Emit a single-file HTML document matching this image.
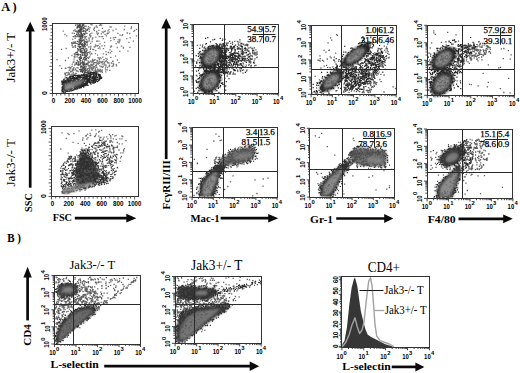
<!DOCTYPE html>
<html><head><meta charset="utf-8"><style>
html,body{margin:0;padding:0;background:#fff;}
svg{display:block;}
</style></head><body>
<svg width="520" height="373" viewBox="0 0 520 373">
<defs><filter id="dotb" x="-5%" y="-5%" width="110%" height="110%"><feGaussianBlur stdDeviation="0.4"/></filter><filter id="b0_5" x="-50%" y="-50%" width="200%" height="200%"><feGaussianBlur stdDeviation="0.5"/></filter><filter id="b0_8" x="-50%" y="-50%" width="200%" height="200%"><feGaussianBlur stdDeviation="0.8"/></filter><filter id="b1_2" x="-50%" y="-50%" width="200%" height="200%"><feGaussianBlur stdDeviation="1.2"/></filter><filter id="b1_6" x="-50%" y="-50%" width="200%" height="200%"><feGaussianBlur stdDeviation="1.6"/></filter><filter id="b2" x="-50%" y="-50%" width="200%" height="200%"><feGaussianBlur stdDeviation="2"/></filter><filter id="b2_5" x="-50%" y="-50%" width="200%" height="200%"><feGaussianBlur stdDeviation="2.5"/></filter><filter id="b3" x="-50%" y="-50%" width="200%" height="200%"><feGaussianBlur stdDeviation="3"/></filter></defs>
<rect width="520" height="373" fill="#fff"/>
<text x="1.2" y="10.8" font-size="13" font-family='"Liberation Serif", serif' font-weight="bold" textLength="15.5" lengthAdjust="spacingAndGlyphs">A )</text>
<text x="7.2" y="242.1" font-size="13" font-family='"Liberation Serif", serif' font-weight="bold" textLength="13.8" lengthAdjust="spacingAndGlyphs">B )</text>
<text x="15.4" y="82.5" font-size="13" font-family='"Liberation Serif", serif' textLength="49.7" lengthAdjust="spacingAndGlyphs" transform="rotate(-90 15.4 82.5)">Jak3+/- T</text>
<text x="14.8" y="186.5" font-size="13" font-family='"Liberation Serif", serif' textLength="47.5" lengthAdjust="spacingAndGlyphs" transform="rotate(-90 14.8 186.5)">Jak3-/- T</text>
<line x1="30.2" y1="30.4" x2="30.2" y2="187.7" stroke="#0a0a0a" stroke-width="2.7"/>
<polygon points="30.2,21.7 25.5,31.4 34.9,31.4" fill="#0a0a0a"/>
<text x="32" y="212" font-size="11" font-family='"Liberation Serif", serif' font-weight="bold" textLength="18.8" lengthAdjust="spacingAndGlyphs" transform="rotate(-90 32 212)">SSC</text>
<text x="52.7" y="221.3" font-size="11" font-family='"Liberation Serif", serif' font-weight="bold" textLength="19.3" lengthAdjust="spacingAndGlyphs">FSC</text>
<line x1="74.8" y1="218.2" x2="127.3" y2="218.2" stroke="#0a0a0a" stroke-width="2.7"/>
<polygon points="136.3,218.2 126.3,213.8 126.3,222.6" fill="#0a0a0a"/>
<line x1="166.2" y1="27.5" x2="166.2" y2="159.1" stroke="#0a0a0a" stroke-width="2.7"/>
<polygon points="166.2,18.3 161.3,28.5 171.1,28.5" fill="#0a0a0a"/>
<text x="170" y="209.4" font-size="11" font-family='"Liberation Serif", serif' font-weight="bold" textLength="49.2" lengthAdjust="spacingAndGlyphs" transform="rotate(-90 170 209.4)">FcγRII/III</text>
<text x="190.4" y="221.9" font-size="11" font-family='"Liberation Serif", serif' font-weight="bold" textLength="29.2" lengthAdjust="spacingAndGlyphs">Mac-1</text>
<line x1="220.6" y1="218.2" x2="269.2" y2="218.2" stroke="#0a0a0a" stroke-width="2.7"/>
<polygon points="278.3,218.2 268.2,214 268.2,222.4" fill="#0a0a0a"/>
<text x="310" y="222.7" font-size="11" font-family='"Liberation Serif", serif' font-weight="bold" textLength="23.1" lengthAdjust="spacingAndGlyphs">Gr-1</text>
<line x1="336.2" y1="218.5" x2="385.2" y2="218.5" stroke="#0a0a0a" stroke-width="2.7"/>
<polygon points="393.3,218.5 384.2,214.1 384.2,222.9" fill="#0a0a0a"/>
<text x="427.7" y="222.7" font-size="11" font-family='"Liberation Serif", serif' font-weight="bold" textLength="27.9" lengthAdjust="spacingAndGlyphs">F4/80</text>
<line x1="458.5" y1="218.8" x2="504.2" y2="218.8" stroke="#0a0a0a" stroke-width="2.7"/>
<polygon points="512.7,218.8 503.2,214.4 503.2,223.2" fill="#0a0a0a"/>
<text x="69.4" y="269.1" font-size="13.5" font-family='"Liberation Serif", serif' textLength="45.8" lengthAdjust="spacingAndGlyphs">Jak3-/- T</text>
<text x="191" y="269.6" font-size="13.8" font-family='"Liberation Serif", serif' textLength="51.4" lengthAdjust="spacingAndGlyphs">Jak3+/- T</text>
<text x="367.8" y="271.6" font-size="14.2" font-family='"Liberation Serif", serif' textLength="32.2" lengthAdjust="spacingAndGlyphs">CD4+</text>
<line x1="27.6" y1="276.4" x2="27.6" y2="320.4" stroke="#0a0a0a" stroke-width="2.7"/>
<polygon points="27.6,266.8 23.4,277.4 31.8,277.4" fill="#0a0a0a"/>
<text x="30.7" y="345.7" font-size="11" font-family='"Liberation Serif", serif' font-weight="bold" textLength="21.5" lengthAdjust="spacingAndGlyphs" transform="rotate(-90 30.7 345.7)">CD4</text>
<text x="50.4" y="367.8" font-size="11" font-family='"Liberation Serif", serif' font-weight="bold" textLength="48.4" lengthAdjust="spacingAndGlyphs">L-selectin</text>
<line x1="104.2" y1="366.2" x2="250.7" y2="366.2" stroke="#0a0a0a" stroke-width="2.7"/>
<polygon points="259.2,366.2 249.7,361.4 249.7,371" fill="#0a0a0a"/>
<text x="342.3" y="369.8" font-size="11" font-family='"Liberation Serif", serif' font-weight="bold" textLength="48.5" lengthAdjust="spacingAndGlyphs">L-selectin</text>
<line x1="391.7" y1="366.9" x2="416.4" y2="366.9" stroke="#0a0a0a" stroke-width="2.7"/>
<polygon points="424.4,366.9 415.4,362.4 415.4,371.4" fill="#0a0a0a"/>
<path d="M107.6 52.7h1.3M85.4 64.7h1.3M95.7 71.8h1.3M117.6 39.8h1.3M89.3 27.7h1.3M99.6 25.1h1.3M101.3 45.9h1.3M95.2 45.7h1.3M94.6 74.7h1.3M86.5 44.5h1.3M132.7 41.1h1.3M93.2 72.7h1.3M134 30.4h1.3M86 48.6h1.3M124 26.1h1.3M97.2 61.3h1.3M83.5 63.3h1.3M96.5 27.4h1.3M91.5 70h1.3M135.9 29.3h1.3M108.5 66.6h1.3M85.5 39.3h1.3M89.7 33.9h1.3M129.3 47.4h1.3M114.9 56.2h1.3M96.9 55.2h1.3M84 41h1.3M86.7 29.3h1.3M92 60.2h1.3M121.9 34.6h1.3M83.7 70.9h1.3M84.1 52.7h1.3M93.8 30.6h1.3M104.8 68h1.3M94.9 44.8h1.3M89.9 36.8h1.3M85.5 53.2h1.3M105.6 54.3h1.3M84.6 56.2h1.3M107.6 33.3h1.3M108.4 29.6h1.3M90.2 46.4h1.3M88.2 47h1.3M110.5 26.8h1.3M86.8 42.2h1.3M110.2 40.6h1.3M85.3 33.5h1.3M91.9 72.7h1.3M92.3 64.8h1.3M89.4 51.6h1.3M106.8 33.2h1.3M99.9 24.1h1.3M85.1 31.8h1.3M90.3 35.8h1.3M83.5 42.5h1.3M90.5 72.7h1.3M88.4 57.2h1.3M84 57.5h1.3M96.5 71h1.3M86.4 64.5h1.3M133.2 31.4h1.3M110.2 57.4h1.3M126.5 33.1h1.3M85.9 70.2h1.3M83.7 67.9h1.3M122.8 48.2h1.3M122.7 47.5h1.3M95.7 26h1.3M96 71.2h1.3M116.8 60h1.3M106.5 61.7h1.3M87.5 71.4h1.3M89 72.3h1.3M84.9 26.2h1.3M86.8 54.7h1.3M102.6 66.5h1.3M86.8 69.1h1.3M89 34.7h1.3M88.6 29.1h1.3M84.5 37.3h1.3M126.8 32.9h1.3M83.4 34.5h1.3M83.6 49.5h1.3M93.1 49.7h1.3M101.8 67.3h1.3M97.2 73.1h1.3M87.6 65h1.3M130.5 28.5h1.3M91.6 67.8h1.3M118.4 62.6h1.3M90 48h1.3M96.5 41h1.3M100.7 33.8h1.3M105.7 35.9h1.3M85.4 52.3h1.3M91.9 64.7h1.3M112 61.3h1.3M127.3 51.1h1.3M94.5 59.6h1.3M89.8 75.2h1.3M105.6 60.3h1.3M95.2 62.6h1.3M95 65.7h1.3M90.2 64.4h1.3M95.3 74.1h1.3M102.1 57.2h1.3M112.4 30.5h1.3M83.5 61.5h1.3M99.3 48.9h1.3M118.3 42.8h1.3M84 73.5h1.3M88.7 31.4h1.3M95.7 64.4h1.3M92.2 70.3h1.3M115.6 64.6h1.3M93.8 60h1.3M106.6 69.9h1.3M112.8 37.8h1.3M109.5 27h1.3M109.4 49.9h1.3M83.7 67.7h1.3M84.9 55.7h1.3M102.8 48.7h1.3M94.5 46.6h1.3M110 38.1h1.3M86 39.6h1.3M119.4 35.1h1.3M85.4 30.2h1.3M84.1 44.1h1.3M91.4 24.8h1.3M83.6 59.6h1.3M86 64.2h1.3M96.8 74.1h1.3M84.1 57.8h1.3M99.8 61.9h1.3M92.1 68.8h1.3M102.8 53.9h1.3M106.6 59.2h1.3M91 65.5h1.3M103.8 64.9h1.3M86.6 74.6h1.3M103.3 59.6h1.3M126.1 38.7h1.3M105.7 54.5h1.3M101.7 28.4h1.3M112.7 65.5h1.3M96.9 63.1h1.3M88 65.9h1.3M92.9 60.5h1.3M89 56.9h1.3M85.1 75.5h1.3M113.4 37.6h1.3M87.8 26.7h1.3M89.7 73.9h1.3M119.2 39.5h1.3M88.9 40.8h1.3M96 31.4h1.3M85.3 72.2h1.3M88.5 72.3h1.3M91 69.3h1.3M97.5 45.4h1.3M92.2 49.5h1.3M89.4 74.9h1.3M97 34.5h1.3M88.5 39.1h1.3M130.8 27h1.3M87.6 28.5h1.3M94.1 27.4h1.3M129.6 37.8h1.3M93.2 67.2h1.3M83.6 51h1.3M89.8 61.2h1.3M86.6 69.4h1.3M93 29.3h1.3M84.9 29h1.3M84.3 55.2h1.3M85.7 30.4h1.3M98.2 30.3h1.3M104.8 31.1h1.3M91.2 53.8h1.3M104 45.9h1.3M96.1 41.4h1.3M86.2 50.9h1.3M96.6 46h1.3M84.5 31.2h1.3M110.9 46.6h1.3M99.5 57.7h1.3M89.7 54.9h1.3M97.6 48.3h1.3M98.6 36.7h1.3M88 52.4h1.3M107.8 52.5h1.3M95.1 50.6h1.3M84 42.3h1.3M86.6 44.2h1.3M89.1 35.7h1.3M91.5 41.5h1.3M115.5 43.7h1.3M109.8 47.1h1.3M83.9 26.5h1.3M119.2 51.3h1.3M111.4 66.4h1.3M91.6 39.1h1.3M105.2 65h1.3M83.6 39.8h1.3M109.7 52.8h1.3M97.4 57.6h1.3M123.6 29.5h1.3M115.8 65.9h1.3M92.3 37.9h1.3M88.6 71h1.3M86.2 70.3h1.3M121.4 35.5h1.3M99.7 69.5h1.3M109 65.2h1.3M96.2 33h1.3M89.9 66.9h1.3M102 36.7h1.3M118.6 41.8h1.3M91.6 60.7h1.3M88.3 38h1.3M106.8 67.5h1.3M102.1 61.6h1.3M107.3 30.8h1.3M97.7 64.1h1.3M92.7 68.3h1.3M100.4 58.5h1.3M89.1 53.2h1.3M84.9 59.3h1.3M105.2 58.3h1.3M128.2 42.3h1.3M89.5 71.5h1.3M85.5 26.1h1.3M99.4 43.8h1.3M117.2 33.3h1.3M85.9 36.7h1.3M94.5 71.6h1.3M116.6 47.5h1.3M86.2 60.3h1.3M86.5 42.6h1.3M99.2 70h1.3M90.9 53.3h1.3M101 66.4h1.3M112.4 63.5h1.3M102.6 32.7h1.3M87.8 61.3h1.3M106.4 33.9h1.3M84.8 64.3h1.3M92.3 64.8h1.3M96 26.1h1.3M98.4 58.4h1.3M110.6 45.9h1.3M99 47h1.3M93.7 28.4h1.3M101.6 70h1.3M87.9 58.3h1.3M105.4 51.6h1.3M89.3 68.8h1.3M112.5 61.2h1.3M88.8 67.2h1.3M84.2 54.9h1.3M120.8 46.2h1.3M89.9 43.4h1.3M115.4 29.2h1.3M112.4 65.8h1.3M89.3 72.1h1.3M93.6 47.2h1.3M89.2 65.6h1.3M98.7 59.7h1.3M103.5 31.5h1.3M101.5 31.8h1.3M108.6 32.2h1.3M87.4 41.1h1.3M94.8 70.5h1.3M103.9 42.4h1.3M83.7 54.1h1.3M101 25.1h1.3M113.1 64.1h1.3M102.6 38.6h1.3M86.6 41.5h1.3M83.7 69.3h1.3M113.5 39.7h1.3M92.1 37.9h1.3M104.5 34.4h1.3M86.4 45.5h1.3M85.8 56.6h1.3M115 37.4h1.3M90.3 24.5h1.3M135.8 35.9h1.3M86.5 50.1h1.3M91.3 33.2h1.3M117.1 41.9h1.3M100.5 71h1.3M89.1 62.1h1.3M86.8 57.6h1.3M86.5 53.3h1.3M105.1 71.8h1.3M95.2 37.1h1.3M94.8 53.6h1.3M129.4 37.9h1.3M98.3 41.2h1.3M109.1 70.3h1.3M91.9 59.5h1.3M94.5 69.9h1.3M129.1 33.5h1.3M99.1 25.3h1.3M83.8 71.4h1.3M91.3 62.3h1.3M84.4 75.5h1.3M89.7 49.3h1.3M97.8 33.2h1.3M85.6 50.5h1.3M83.4 62.8h1.3M119.2 40.8h1.3M97.4 71.3h1.3M111.1 51.4h1.3M92.5 66.7h1.3M108.7 65.5h1.3M86.4 33.3h1.3M100.5 36.6h1.3M73.7 53.6h1.3M68.5 73.4h1.3M74.5 62.9h1.3M71.7 33.1h1.3M71.1 42.6h1.3M73.3 61.2h1.3M73.6 56.6h1.3M68.6 70.4h1.3M64.7 68.1h1.3M72.6 62.3h1.3M64.8 68.4h1.3M67.3 74.5h1.3M61 68.4h1.3M73.2 70.2h1.3M69.6 68h1.3M74.9 73.3h1.3M74.2 57.7h1.3M73.3 59.2h1.3M74.8 41.9h1.3M71.7 64.2h1.3M67.7 57.8h1.3M71.2 71.7h1.3M74.8 35.6h1.3M70.1 67.4h1.3M68.7 67.1h1.3M69.3 69.1h1.3M72.1 39.4h1.3M71.7 69.3h1.3M74 65.1h1.3M65.5 48.5h1.3M73.3 47h1.3M72.9 75.9h1.3M72 47.2h1.3M71 43.5h1.3M71.3 55.5h1.3M74.6 54.7h1.3M66.1 35.8h1.3M71.4 45.7h1.3M74.5 63h1.3M74.8 43.5h1.3M72.2 70.4h1.3M69.9 71.1h1.3M75 53.1h1.3M59.2 65.6h1.3M75.3 52.7h1.3M64.3 34.5h1.3M56.4 59.7h1.3M62.6 31.1h1.3M65.3 68.4h1.3M64.4 73.9h1.3M72.7 72.3h1.3M73.1 73.9h1.3M71.6 70.9h1.3M66.1 72.7h1.3M73.8 54.5h1.3M71.4 66.4h1.3M64.8 60.5h1.3M60.9 49.3h1.3M71.8 45.1h1.3M70 71.8h1.3M94.5 68h1.3M87.4 72.6h1.3M94 67h1.3M101.1 62.6h1.3M105.6 69.8h1.3M84 73.8h1.3M91.1 64.5h1.3M87.8 65.9h1.3M79.6 64.5h1.3M79.3 62.2h1.3M66.1 77.4h1.3M83.4 68.7h1.3M73.3 77.6h1.3M72.5 77.7h1.3M78 76.1h1.3M90.1 67.2h1.3M74.5 64.7h1.3M77.2 76.5h1.3M86.7 63.2h1.3M96 64.1h1.3M98.5 63.4h1.3M105.3 66.2h1.3M80.1 67.9h1.3M99 61.5h1.3M65.7 77.4h1.3M77.7 63.5h1.3M70.5 74.9h1.3M96.9 69.2h1.3M71.5 66.3h1.3M78.3 65h1.3M101 61.8h1.3M80.7 74.7h1.3M63 79.3h1.3M92.1 73h1.3M91.2 61.9h1.3M87 75h1.3M67.5 67.6h1.3M88.1 66h1.3M97.7 70.2h1.3M93.7 66.7h1.3M84.8 71h1.3M82.4 68.9h1.3M72.5 70h1.3M85.5 66.6h1.3M88.3 75.5h1.3M97.7 70.4h1.3M101.2 71.4h1.3M110.7 63h1.3M99.8 71h1.3M70.1 78h1.3M89 69.7h1.3M86.3 70h1.3M64.6 73.1h1.3M63.7 79.4h1.3M71.4 73.9h1.3M93.1 64.1h1.3M84.4 68.5h1.3M70.3 67.9h1.3M64.5 74.2h1.3M81.3 70.3h1.3M68.6 74.8h1.3M95.9 62.1h1.3M80.2 62.5h1.3M96.4 60.3h1.3M104.9 61.3h1.3M103.1 63.8h1.3M87.8 74.2h1.3M69 74.3h1.3M82.9 63.3h1.3M85.1 65h1.3M103.9 62.2h1.3M95.8 65.9h1.3M103.9 63.1h1.3M107.3 62.9h1.3M94.3 70.7h1.3M97.4 69.4h1.3M72.2 77.6h1.3M97.4 63.4h1.3M96.1 67.4h1.3M108.3 63h1.3M72.7 68.8h1.3M74.4 74.7h1.3M77.5 71.6h1.3M77.1 71h1.3M87.9 63.1h1.3M100.2 61.8h1.3M73 75h1.3M101.7 72.4h1.3M72.7 69.5h1.3M76.4 67.6h1.3M100.5 66.5h1.3M97 71.9h1.3M82.6 64h1.3M99.2 65.9h1.3M94.6 73.1h1.3M77.8 65.1h1.3M93.6 72.6h1.3M72 74.2h1.3M98.4 71.4h1.3M87.8 70.7h1.3M83.1 64h1.3M88.2 68.5h1.3M92.3 61.6h1.3M88.1 62.6h1.3M95 69.4h1.3M69.3 78.6h1.3M104.9 69.8h1.3M64 73.5h1.3M81.4 67.9h1.3M80.3 65.5h1.3M68.4 73h1.3M87.3 68.6h1.3M98.9 70.1h1.3M89.3 73.3h1.3M93 74.9h1.3M79.2 75.3h1.3M90.5 65.1h1.3M67.6 72.5h1.3M90.8 64.9h1.3M76.2 77.2h1.3M75 69.7h1.3M101.3 71.7h1.3M66.2 75.4h1.3M97.1 60.8h1.3M108.5 65.8h1.3M84.6 70.5h1.3M89.1 71.4h1.3M64.6 77.1h1.3M87.5 62h1.3M86.5 63.8h1.3M82.9 74.4h1.3M99 63.2h1.3M92.8 63.7h1.3M91.8 65h1.3M65.1 73.2h1.3M64.8 75h1.3M77.5 63.8h1.3M102.1 62.1h1.3M93 62.9h1.3M94 62.6h1.3M74.7 69h1.3M88.8 62.3h1.3M94.8 73.7h1.3M90.6 67.7h1.3M102.3 61.3h1.3M88.7 70.9h1.3M73.3 67.7h1.3M91.2 67.6h1.3M84.1 62.8h1.3M106.9 62.8h1.3M99.8 71.8h1.3M75.6 73.5h1.3M101.7 64.1h1.3M72.8 68.2h1.3M90.9 65.3h1.3M97.6 63h1.3M90.2 71.6h1.3M84.6 71.1h1.3M90.6 68.1h1.3M84.7 74.9h1.3" stroke="#777" stroke-width="1.3"/>
<path d="M82.5 39.9h1.2M82.8 27.5h1.2M80.1 50.3h1.2M81.4 48.9h1.2M78.6 25.8h1.2M80 28.4h1.2M81.1 44.8h1.2M78.7 34.9h1.2M84.3 54.7h1.2M79.2 43.4h1.2M87 71.8h1.2M81.7 38.2h1.2M81.5 31.1h1.2M83 64h1.2M76.5 32.9h1.2M78.4 42.2h1.2M81.6 50.8h1.2M80.3 34.1h1.2M79 57.3h1.2M81.9 52.7h1.2M79.1 46.2h1.2M85.7 58.3h1.2M77.1 36h1.2M80.1 66.9h1.2M79.4 59.7h1.2M87 29.8h1.2M80.5 44.5h1.2M79.1 48h1.2M77.2 25.9h1.2M76.8 52.1h1.2M80 66.9h1.2M84.7 53.1h1.2M75.9 52.4h1.2M83.2 70.3h1.2M80.1 47.2h1.2M80.3 58.4h1.2M86 55.7h1.2M79.9 37.9h1.2M80.1 42.9h1.2M80.1 46.6h1.2M80.5 32.2h1.2M82 61.6h1.2M79.8 30.3h1.2M84.3 66.7h1.2M76.4 27.9h1.2M82.7 67.3h1.2M82.9 64.1h1.2M78.8 44.3h1.2M85.4 41.6h1.2M75.3 31.4h1.2M80.1 32.6h1.2M82.6 47.8h1.2M80.9 52.9h1.2M80.7 44.5h1.2M74.2 42.1h1.2M78.4 57.8h1.2M77.7 49.3h1.2M76.8 26.6h1.2M82.7 68.1h1.2M76 63.1h1.2M79.4 43.2h1.2M81.7 55.1h1.2M81.2 27.1h1.2M80.6 32h1.2M80.3 40.7h1.2M79.8 31.4h1.2M79.3 29h1.2M82 66.8h1.2M82.2 54.1h1.2M81.9 41h1.2M84.1 41.8h1.2M85.5 72.7h1.2M79.4 46.8h1.2M79.8 29h1.2M79.8 40.8h1.2M84.9 31.9h1.2M82.6 25.1h1.2M78.8 31.2h1.2M84 50.6h1.2M82.4 71.9h1.2M80.9 66.3h1.2M78.3 42h1.2M80.3 32.2h1.2M78 62.2h1.2M81.1 40.2h1.2M86.7 72.3h1.2M83.3 65.8h1.2M76.6 60.3h1.2M77.5 35.1h1.2M79.2 25.4h1.2M79.1 25.4h1.2M83.2 57.9h1.2M75.8 70.9h1.2M83.9 72.4h1.2M80.5 70.8h1.2M81.4 35.1h1.2M81 33.6h1.2M85.3 68.1h1.2M77.6 65.2h1.2M81.9 63.2h1.2M76.5 28.2h1.2M76.3 62.3h1.2M79.6 60.8h1.2M81.6 62.7h1.2M82.5 40.3h1.2M73.5 43.4h1.2M84.5 43.7h1.2M78.4 32.3h1.2M83.1 30.2h1.2M86.2 63.5h1.2M83.3 31.2h1.2M74.3 56.2h1.2M78.9 41.2h1.2M79 24.7h1.2M79.9 71.6h1.2M79.1 69.7h1.2M84 45.3h1.2M76.3 34.3h1.2M79.5 36.3h1.2M82.8 52.7h1.2M78.8 36.7h1.2M82.4 68.6h1.2M76.8 41.3h1.2M82.6 68.3h1.2M83.2 44.6h1.2M79.2 50.1h1.2M83.6 49.7h1.2M80.2 33h1.2M79.9 24.2h1.2M79 47.2h1.2M79 59.5h1.2M79.9 49.4h1.2M81.1 51.2h1.2M79.6 51.5h1.2M79.2 36.2h1.2M85.2 48.9h1.2M81.2 51.5h1.2M74.6 45.7h1.2M77.7 54h1.2M81 57.9h1.2M77.5 46.2h1.2M81.1 70.1h1.2M85.8 58.3h1.2M75.5 36.7h1.2M85.6 51.4h1.2M77.9 30.7h1.2M78.7 30h1.2M80.4 35.8h1.2M77.3 27.6h1.2M77.5 68h1.2M78.9 31.6h1.2M75.9 31h1.2M83.5 67.3h1.2M81.4 70.7h1.2M72.2 43.5h1.2M82.1 64.8h1.2M76.8 31.9h1.2M81.6 40.6h1.2M78.1 33.6h1.2M83.4 25h1.2M80.3 51.1h1.2M80.4 40.2h1.2M80 54.6h1.2M81.8 72.3h1.2M82.6 62.6h1.2M79.8 37h1.2M79.9 25.9h1.2M77.6 30.3h1.2M84.7 44.7h1.2M77.4 36.7h1.2M82.8 31.3h1.2M79.4 58.3h1.2M83.5 28.4h1.2M81.9 44.8h1.2M83.1 27.5h1.2M80 63.3h1.2M80.2 28.1h1.2M80.8 66.3h1.2M78.7 46.2h1.2M84.6 69.4h1.2M82.3 37.1h1.2M82.4 35.7h1.2M80.1 29.4h1.2M80.6 33.9h1.2M78.6 39.3h1.2M84.4 38.2h1.2M81.7 48.5h1.2M81.7 24.9h1.2M84.4 36.3h1.2M81.2 51h1.2M73.6 33.3h1.2M80.7 29.2h1.2M78.6 64.1h1.2M82.8 64.9h1.2M76.3 43.3h1.2M81.7 72.1h1.2M82.3 40.8h1.2M77.3 55.2h1.2M79.9 43.8h1.2M80.5 30.4h1.2M79.5 27.5h1.2M77.7 32h1.2M82.6 28.1h1.2M76.5 56.9h1.2M80.2 37.8h1.2M82.8 46.5h1.2M77.8 31.7h1.2M82.5 71.1h1.2M79.9 71.7h1.2M81.2 71.3h1.2M80.1 39.2h1.2M80.5 42.7h1.2M78.8 47.3h1.2M80.6 48.7h1.2M79.3 24.2h1.2M81.6 43.6h1.2M81.8 26h1.2M80.3 35.4h1.2M76.4 52.7h1.2M80.2 56.2h1.2M83.1 59.1h1.2M78.4 40h1.2M84.4 72.3h1.2M84.5 55.5h1.2M82.4 26.1h1.2M76.1 54.7h1.2M81.8 60h1.2M79.3 49.7h1.2M83.1 48.7h1.2M77.3 64.5h1.2M84.1 52.6h1.2M78.6 58h1.2M81.4 35.3h1.2M80.6 41.7h1.2M81.4 29.1h1.2M78 54.8h1.2M79.6 54.7h1.2M76.6 24.2h1.2M81.4 63.1h1.2M77.5 50.2h1.2M85.1 56.3h1.2M81.8 36.4h1.2M79.2 27.6h1.2M84.3 34.1h1.2M84.4 60.3h1.2M79.9 42.7h1.2M78.7 47.5h1.2M76.7 54.2h1.2M82.4 55.5h1.2M80.7 36.4h1.2M80.1 60.4h1.2M82.7 24.6h1.2M79.1 27h1.2M85.1 57.9h1.2M80.3 57.1h1.2M83.7 46.8h1.2M84.8 46.9h1.2M83.8 33.8h1.2M82.3 71.9h1.2M80.3 46.5h1.2M84.3 64.2h1.2M79.5 37.2h1.2M81.7 34.3h1.2M80.2 52.5h1.2M73.2 30.9h1.2M78.7 30.5h1.2M75.8 64.2h1.2M80.8 58.5h1.2M82.5 35.3h1.2M77.6 25.2h1.2M76.5 24.2h1.2M80.3 38.8h1.2M78.4 30.9h1.2M83.5 65.2h1.2M79.4 24.1h1.2M74.5 29.9h1.2M80.4 69.4h1.2M74.5 38.2h1.2M72.6 42.2h1.2M87 52.9h1.2M78.4 41.7h1.2M80.5 26.4h1.2M80.8 29h1.2M79.8 69.8h1.2M79.7 36.2h1.2M83.1 33.3h1.2M85.7 42.3h1.2M79.9 63.8h1.2M86.5 54.9h1.2M77.5 50.9h1.2M85.4 59.3h1.2M81.9 46.1h1.2M79.9 60.9h1.2M77.8 26.4h1.2M83.8 69.4h1.2M82.4 40.8h1.2M79.6 38.6h1.2M72.7 36.7h1.2M80 56.1h1.2M83.7 43.3h1.2M80.8 32.2h1.2M83.2 68.4h1.2M81.7 48.4h1.2M87.7 72.8h1.2M81.7 46h1.2M81 28.4h1.2M81.9 40.8h1.2M81.1 36.7h1.2M84.2 51.9h1.2M77.5 44.2h1.2M77.8 44.3h1.2M79.8 40.6h1.2M78.3 27h1.2M86.7 30.2h1.2M77 48.7h1.2M76 34.6h1.2M80.1 37.3h1.2M83.2 45.8h1.2M85 70.7h1.2M75 25.1h1.2M78 25.6h1.2M75 47.2h1.2M83.6 52.8h1.2M81.7 69.4h1.2M85.9 64.5h1.2M74.3 36.2h1.2M81.5 29.3h1.2M83.8 57.4h1.2M81.1 70.1h1.2M77.5 61.5h1.2" stroke="#4a4a4a" stroke-width="1.2"/>
<path d="M63.6 83.2h1.2M68.8 81.2h1.2M67.6 91.5h1.2M73.3 79.7h1.2M64.1 80.9h1.2M87.1 82h1.2M94.8 82.4h1.2M93.2 75.1h1.2M68.5 85.7h1.2M88.6 82.7h1.2M87.4 81.9h1.2M84.3 80.4h1.2M79.9 81.8h1.2M70.3 86.5h1.2M73.2 80.6h1.2M93.5 80.8h1.2M96.1 76.4h1.2M80.7 82.7h1.2M65.6 86.1h1.2M78.4 86.1h1.2M65.8 86.4h1.2M67.7 79.7h1.2M89 76.5h1.2M76.2 85.6h1.2M94.9 77.6h1.2M83.7 85.3h1.2M83.4 85.2h1.2M76.6 78.5h1.2M99.7 78.7h1.2M69.3 81.4h1.2M83 85.2h1.2M77.3 85.5h1.2M73.2 89.8h1.2M100.2 77.7h1.2M67.9 80.6h1.2M93.6 76.9h1.2M82.9 79.1h1.2M87.2 76.2h1.2M64.1 89.6h1.2M88.2 78.5h1.2M97.4 77.2h1.2M80.8 87.6h1.2M86.7 77.7h1.2M76.5 87.5h1.2M61.7 87h1.2M92.8 82.5h1.2M70.2 78.8h1.2M86.8 76.7h1.2M71.5 84.9h1.2M91.5 81.8h1.2M89.1 80.2h1.2M77.8 84.8h1.2M65.6 91.4h1.2M61.5 87.7h1.2M89 81.1h1.2M78.9 86.4h1.2M88.6 80.1h1.2M69 86.2h1.2M67.7 82.1h1.2M64.8 83.8h1.2M77.1 79.5h1.2M63.9 85.2h1.2M100.8 78.3h1.2M70.1 80.1h1.2M71.4 83.4h1.2M62.8 88.3h1.2M86.9 79h1.2M61.5 90.1h1.2M73.4 88.9h1.2M73.1 90h1.2M70.9 83.5h1.2M90.4 84.2h1.2M62.4 90.7h1.2M93.2 75.9h1.2M86.7 78h1.2M62.4 87.2h1.2M89.9 77.4h1.2M62.6 84.7h1.2M73.6 80.4h1.2M65.9 87.1h1.2M73.3 79.6h1.2M78.5 83.6h1.2M65.8 86.9h1.2M74.4 89.1h1.2M90.6 81h1.2M67.9 88h1.2M96.1 75.5h1.2M78 84.2h1.2M89.1 77.8h1.2M73.2 79.1h1.2M76.2 89.2h1.2M85.2 79.2h1.2M90.7 80.4h1.2M88.3 81.5h1.2M82.2 77.3h1.2M76 81.7h1.2M91.1 77h1.2M69.1 86h1.2M62 82.3h1.2M75.4 83.7h1.2M96.3 77.6h1.2M72.7 84.4h1.2M73.6 80.4h1.2M61.7 88.9h1.2M76.4 79.5h1.2M69.5 83.2h1.2M67.2 80.1h1.2M82.4 80.1h1.2M65.5 90.3h1.2M63.6 81.7h1.2M73.1 82.2h1.2M88.9 78.8h1.2M86.7 82.3h1.2M69.7 88.7h1.2M98.6 78.5h1.2M95.4 81h1.2M71 78.5h1.2M69.3 89.4h1.2M93.4 79.6h1.2M84.6 77.6h1.2M82.3 83.2h1.2M89.8 82.9h1.2M84.4 79.6h1.2M84.6 83.6h1.2M64.1 89.1h1.2M94.2 80.3h1.2M74 86.2h1.2M62.5 86.3h1.2M72.4 84.3h1.2M66.4 80.8h1.2M70 82.4h1.2M72.7 90.1h1.2M97.2 77.5h1.2M75.8 85.8h1.2M92 80.3h1.2M67.5 88.9h1.2M73.6 87.1h1.2M78.5 87.3h1.2M88 78.8h1.2M69.4 82.7h1.2M89.2 82.1h1.2M78.9 85.2h1.2M66.4 79.6h1.2M85.4 77.9h1.2M70.2 80.9h1.2M62.5 88.2h1.2M70 89.5h1.2M83.9 78.5h1.2M62.6 85.1h1.2M61.7 83.7h1.2M92.3 76.6h1.2M78.8 84.1h1.2M85.7 77.2h1.2M65.7 84.7h1.2M71.3 86.2h1.2M62 91.9h1.2M72.7 80.5h1.2M99.4 76.6h1.2M66.5 82.8h1.2M73.8 80h1.2M75.3 80h1.2M92.9 77.3h1.2M89.1 75.4h1.2M88.3 78.1h1.2M80 87.6h1.2M87.2 85.5h1.2M75.5 86.8h1.2M66.9 82.6h1.2M88 82h1.2M72.9 84.1h1.2M80.9 77.5h1.2M97.1 79.6h1.2M99.1 77.3h1.2M64.8 87.1h1.2M63.2 82.7h1.2M75.5 87.6h1.2M63.1 87.5h1.2M77.4 87.9h1.2M73.5 89.8h1.2M80.1 76.7h1.2M83.6 81.4h1.2M94.4 81.2h1.2M87.9 76.1h1.2M100.6 77.2h1.2M81.1 81.6h1.2M86.1 85.1h1.2M71.7 90.5h1.2M81.9 85h1.2M92.2 78.3h1.2M63 89.2h1.2M93.4 77.7h1.2M96 75.1h1.2M67.9 84.3h1.2M88 81.2h1.2M64.1 90.6h1.2M64.1 90.6h1.2M70.6 87.2h1.2M85 78.4h1.2M74.4 78.5h1.2M82.6 79.2h1.2M83.1 79.3h1.2M66 87h1.2M77.5 78.9h1.2M76.1 87.7h1.2M61.4 84.1h1.2M86.3 79.4h1.2M77.8 81.6h1.2M75.8 77.5h1.2M83.1 86.5h1.2M62.3 90.5h1.2M71.6 82.9h1.2M70 86.6h1.2M77.5 84.9h1.2M77.6 83.5h1.2M64.7 92.4h1.2M78.3 80.2h1.2M95.2 79.5h1.2M93 81.9h1.2M65.9 84.7h1.2M88.1 79.7h1.2M66.4 84.9h1.2M68.9 88.1h1.2M85.1 78.1h1.2M79.8 80.6h1.2M99.8 77h1.2M63.3 87.3h1.2M66.8 91.4h1.2M89.4 76.3h1.2M87.1 80.6h1.2M74.7 79.9h1.2M64.5 89.2h1.2M83.1 77.1h1.2M82.2 78.9h1.2M73.4 78.2h1.2M91.2 81h1.2M95.8 80.1h1.2M66.3 82.5h1.2M82.2 84.7h1.2M82.2 82.3h1.2M80.6 86.5h1.2M63.8 88.9h1.2M89.4 76.9h1.2M74.5 79.8h1.2M89.9 75.6h1.2M87 82.4h1.2M64.8 81.5h1.2M67 85.4h1.2M64.4 82.7h1.2M86.3 81.6h1.2M80.2 85.9h1.2M77.9 77.2h1.2M96.2 74.8h1.2M85.1 85.6h1.2M65.2 83.6h1.2M64.2 87.6h1.2M72.1 81.2h1.2M66.2 89.7h1.2M65.2 89.1h1.2M61.2 81.3h1.2M62.9 88.3h1.2M71.3 79.8h1.2M76.7 86.5h1.2M93.1 80.6h1.2M61.3 81h1.2M79 81.7h1.2M76.5 85.4h1.2M62.1 91.1h1.2M99.6 74.6h1.2M67.1 88.4h1.2M99.1 78.3h1.2M69.1 81.2h1.2M79.3 77.7h1.2M72.8 78.2h1.2M72.6 81.4h1.2M99.4 75.5h1.2M69.1 81.1h1.2M79.7 81.1h1.2M68.7 88.6h1.2M64.7 80.5h1.2M79.8 87.4h1.2M89 81.2h1.2M82.1 81.3h1.2M96.3 79.7h1.2M71.3 89.1h1.2M88.8 78.6h1.2M99.8 78.2h1.2M99.1 75.1h1.2M99.6 74.6h1.2M70.1 80.4h1.2M85.9 79.7h1.2M69.8 90.2h1.2M65.7 85.8h1.2M77.5 82.8h1.2M70.2 84.6h1.2M78.8 87.8h1.2M77.2 80h1.2M75.7 87.4h1.2M71.7 83.4h1.2M68.7 80.4h1.2M73.7 80.6h1.2M74.3 83.5h1.2M64.7 90.6h1.2M77.3 88.4h1.2M64.6 82.2h1.2M83.4 86.2h1.2M82.8 82.5h1.2M91.3 78.4h1.2M75.1 82.2h1.2M78.6 79.3h1.2M88.8 77.9h1.2M74.6 88.9h1.2M82.4 78.4h1.2M80.6 84.1h1.2M69.1 82.4h1.2M66.4 91.2h1.2M89 82.3h1.2M68.8 86.3h1.2M68.8 82.6h1.2M67.3 81.7h1.2M81.8 85.6h1.2M87.5 85.3h1.2M73.1 85h1.2M63.1 83.3h1.2M80.5 85.4h1.2M99.9 76h1.2M66.4 83.1h1.2M76.5 87.3h1.2M78.1 77.4h1.2M64.1 88.2h1.2M81.7 84.1h1.2M77.4 80.8h1.2M98.1 75.4h1.2M92.4 82.6h1.2M82.6 78.7h1.2M99.1 79.7h1.2M90.1 83.4h1.2M74 79h1.2M85.4 82.7h1.2M66.2 83.2h1.2M80.8 83.3h1.2M89.2 77.8h1.2M85.1 83.4h1.2M73.2 83.3h1.2M68.4 86h1.2M65.8 82.4h1.2M63.4 84.1h1.2M65.1 89.4h1.2M61.9 89.1h1.2M88.1 78.6h1.2M93.9 82.9h1.2M72 85.1h1.2M70.2 79h1.2M77.9 82.4h1.2M85.1 84.3h1.2M61.7 91h1.2M96.6 81.6h1.2M74.5 79.2h1.2M80 80.8h1.2M62.2 81.2h1.2M81.2 79.6h1.2M91.1 75h1.2M66.6 80.1h1.2M79.5 78.7h1.2M93.1 81.8h1.2M72.4 78.7h1.2M73.9 85.2h1.2M89.9 82h1.2M94.6 77.1h1.2M98.3 80.4h1.2M67.3 87h1.2M68.6 80.8h1.2M78.8 85.8h1.2M82 86.4h1.2M86.2 82h1.2M81.1 80.5h1.2M79.4 87h1.2M94.2 79.2h1.2M67.6 89.9h1.2M85.3 78.8h1.2M66.1 90.8h1.2M62.3 90h1.2M73.4 83.3h1.2M65.1 82h1.2M66.8 80.3h1.2M69.3 90.7h1.2M73.6 83.7h1.2M82.4 81.6h1.2M98.3 74.3h1.2M81.6 81.6h1.2M90.1 76.9h1.2M80.3 77.7h1.2M77.1 88.7h1.2M83 86.2h1.2M70.8 88.4h1.2M71.7 81.5h1.2M92.5 78.8h1.2M67.9 87.6h1.2M72.9 79.1h1.2M75.4 88.6h1.2M86.9 81.2h1.2M69.1 90.2h1.2M82.1 85.9h1.2M95.8 78h1.2M80 87.3h1.2M61.8 81.3h1.2M83 82.4h1.2M65.8 87.5h1.2M79.6 77.2h1.2M101.2 77.9h1.2M79 85.3h1.2M88.3 76.4h1.2M95.3 81h1.2M64.5 82h1.2M86.2 80.8h1.2M90.5 79.8h1.2M94 75.2h1.2M78.1 84h1.2M76.6 77.5h1.2M84.9 76.2h1.2M67.9 81.8h1.2M98.8 74.6h1.2M91.6 82.1h1.2M66.7 89.8h1.2M71.1 90.8h1.2M76.6 84.4h1.2M79.1 88.2h1.2M75.4 83.6h1.2M70.4 80.3h1.2M72.4 86.9h1.2M64.6 90.2h1.2M64.8 82.7h1.2M65 80.8h1.2M63 85.1h1.2M74.1 78.6h1.2M73.1 78.2h1.2M75 85.1h1.2M84.2 79.9h1.2M69.6 81.6h1.2M83.1 87.1h1.2M63.2 92.5h1.2M61.9 88.4h1.2M64.5 86.1h1.2M65.9 81.9h1.2M66.4 79.6h1.2M63.3 84.1h1.2M92.5 79.5h1.2M98.7 78.6h1.2M98.1 80h1.2M98.4 75.6h1.2M70.3 90.1h1.2M65.4 90.1h1.2M70.2 88.4h1.2M66.3 83.4h1.2M84.3 84.4h1.2M95.9 74.7h1.2M82.2 78.4h1.2M93.3 82h1.2M71.7 88.5h1.2M62.2 84.3h1.2M62.7 85.6h1.2M66.6 88.5h1.2M62 86.9h1.2M80.3 83.7h1.2M95.3 79.3h1.2M76 85.2h1.2M63.9 90.9h1.2M68.4 81.7h1.2M69.2 91.3h1.2M71.3 85.3h1.2M91.2 80.4h1.2M86.5 81.7h1.2M69.2 80h1.2M85 76.9h1.2M69.9 80.8h1.2M69.7 89.8h1.2M90.3 82.8h1.2M73.2 82.3h1.2M69.1 86.9h1.2M74 84.8h1.2M94.4 78.6h1.2M85.4 76.1h1.2M79.1 77.5h1.2M65.9 90.6h1.2M80.7 86.1h1.2M93.8 77.6h1.2M82.9 79h1.2M78.6 77.3h1.2M68.3 79.7h1.2M82.3 83.2h1.2M86.4 77.3h1.2M76.1 82.2h1.2M84.2 85.3h1.2M84.2 76.9h1.2M61.4 92h1.2M74 88.4h1.2M76.2 82.2h1.2M84.2 77.5h1.2M95.1 78.3h1.2M81.6 84.8h1.2M62.9 84.2h1.2M93.4 78.5h1.2M83.7 80.7h1.2M81.8 86.5h1.2M78.8 87.8h1.2M68.2 79.5h1.2M82.7 77.8h1.2M94.3 75.2h1.2M75.5 88h1.2M94.7 81.3h1.2M83.8 80.2h1.2M69 86.9h1.2M63.6 86.1h1.2M86 81.3h1.2M93 81.3h1.2M85.3 78.6h1.2M74.2 86.3h1.2M94.8 76.1h1.2M68.3 82.9h1.2M75.1 89h1.2M63 81.8h1.2M98.7 75h1.2M67.2 83h1.2M84.8 81.8h1.2M83.6 83.4h1.2M84.1 80h1.2M70.7 84.9h1.2M92.5 83.3h1.2M74.2 84.2h1.2M88.9 77.4h1.2M96.8 81.7h1.2M78 83.7h1.2M91.7 77.2h1.2M68.6 83.1h1.2M61.8 82.1h1.2M85.8 79.2h1.2M86.8 83.5h1.2M61.3 82.2h1.2M81.9 81.1h1.2M78.8 84.2h1.2M84.7 83.9h1.2M65.3 81h1.2M68.9 88.4h1.2M88.2 76.5h1.2M95.3 81h1.2M75.9 83.9h1.2M71.7 85.2h1.2M77.2 77.9h1.2M100.4 77.4h1.2M64.6 81.3h1.2M79.5 81.6h1.2M66.8 88.9h1.2M91.7 78.1h1.2M75.6 78.3h1.2M74.2 87.2h1.2M68.7 83h1.2M92.2 80.5h1.2M66.2 86.6h1.2M97.7 80.9h1.2M81.7 82.5h1.2M95.6 80.2h1.2M70.9 80.9h1.2M68.7 89.3h1.2M86 78.3h1.2M61.2 90.2h1.2M74.5 89.4h1.2M78.4 86.2h1.2M62.7 91.5h1.2M80.8 82.9h1.2M80.8 87.4h1.2M68.6 88.9h1.2M74.3 81.5h1.2M78.2 80.5h1.2M68.2 87.1h1.2M77.8 82.6h1.2M73.8 78h1.2M86.4 84.6h1.2M86 83.9h1.2M80.4 80.4h1.2M73.7 80.2h1.2M81.6 82.3h1.2M83.2 86.5h1.2M85.7 84.9h1.2M79.3 82.6h1.2M64.2 89.1h1.2M80.5 80.5h1.2M74.7 84.8h1.2M77.9 86.4h1.2M83.6 83.9h1.2M82.1 79.2h1.2M91 80.1h1.2M74.5 86.1h1.2M63.1 86.4h1.2M75.4 85.3h1.2M68.2 81.4h1.2M71 86.7h1.2M81.4 85.9h1.2M91.9 80.7h1.2M72 86.2h1.2M73.7 83.3h1.2M86.5 84.4h1.2M69.8 81.6h1.2M70.7 88.6h1.2M89 77.1h1.2M94 80.5h1.2M94.1 78.9h1.2M98.7 76.6h1.2M77 79.7h1.2M82.6 84.1h1.2M73 85h1.2M63.1 87.5h1.2M79.8 84.9h1.2M69.8 83.1h1.2M88.9 76.4h1.2M61.6 91.9h1.2M69.6 84.1h1.2M89.1 75.7h1.2M98 75h1.2M86.2 78.2h1.2M70.5 81h1.2M82 83h1.2M65.4 91.1h1.2M86.7 83.7h1.2M72.2 81.8h1.2M63.9 87.3h1.2M64.6 90.5h1.2M61.4 82.3h1.2M72.2 78.3h1.2M83.6 79.1h1.2M97.9 74.3h1.2M70.4 85.7h1.2M76.8 79.3h1.2M93.3 78.5h1.2M62.5 89.7h1.2M97.2 79.1h1.2M75.1 80.4h1.2M86.7 79.7h1.2M80 86.2h1.2M61.4 82.1h1.2M69.4 81.4h1.2M67.1 90.8h1.2M87.6 80.4h1.2M89.7 79.1h1.2M81.5 85.7h1.2M92.4 78.6h1.2M86.4 75.8h1.2M76.6 82.1h1.2M86.3 84.5h1.2M88.8 80.5h1.2M63.4 86.7h1.2M70.2 87.2h1.2M78.9 76.7h1.2M78.3 75.1h1.2M85.4 74.4h1.2M89.9 74.2h1.2M65.8 77.8h1.2M78.9 76.7h1.2M69 77.7h1.2M95.3 71.9h1.2M70.2 77.8h1.2M77.4 76.9h1.2M83 74.5h1.2M70.2 77.1h1.2M90 72.8h1.2M72.3 76.3h1.2M69 77h1.2M73.2 75.6h1.2M93.1 72.6h1.2M81.7 75.2h1.2M71.6 75.8h1.2M90 73.1h1.2M72.6 78h1.2M67 79.2h1.2M80.4 75.9h1.2M95.2 74h1.2M77 77.1h1.2M77.3 76.2h1.2M90.6 74.4h1.2M66.8 78.8h1.2M93.4 72.6h1.2M86.8 75.4h1.2M92.6 74.6h1.2M89.4 74.1h1.2M93.4 73.6h1.2M90.9 75h1.2M84.1 75.2h1.2M90.6 72.5h1.2M83.3 73.9h1.2M70.2 76.1h1.2M69.4 76.5h1.2M93.8 72.5h1.2M78.4 75.2h1.2M88.5 73.7h1.2M81.2 76h1.2M62.9 80.2h1.2M92.8 72.4h1.2M79.3 75.6h1.2M82.8 75.2h1.2M68 78.2h1.2M72.9 76.1h1.2M87.6 73.5h1.2M75.3 75.3h1.2M95.5 74h1.2M74.2 75.5h1.2M86.4 74.3h1.2M77.7 76.2h1.2M91.1 74.1h1.2M89.8 73.7h1.2M79.5 76.6h1.2M80.1 76h1.2M95.9 74.3h1.2M90.1 73h1.2M93.2 72h1.2M90 73h1.2M94.3 73.1h1.2M72.6 76.6h1.2M70 76.2h1.2M95.4 73.6h1.2M68.9 77.5h1.2M72 77.6h1.2M83.6 75.7h1.2M89.6 72.5h1.2M76 75.6h1.2M81.3 74.8h1.2M73.8 77.7h1.2M81.8 75.8h1.2M77.2 76.9h1.2M72.8 77.2h1.2M91.9 72.5h1.2M83 75.7h1.2M92.3 73.9h1.2M78.2 75.5h1.2M77 75.4h1.2M75.1 77.1h1.2M66.4 78h1.2M75.4 75.6h1.2M68.7 78.1h1.2M64.3 79h1.2M86.1 74.8h1.2M71.5 76.6h1.2M95.8 73.2h1.2" stroke="#262626" stroke-width="1.2"/>
<polygon points="64,90.5 64,84 72,81.5 82,79.5 86,80 79,85.5 68,90" fill="#7a7a7a" filter="url(#b1_2)" opacity="0.9"/>
<polygon points="65.6,89.5 66,86 73,84 74,85.5 69,88.5" fill="#a0a0a0" filter="url(#b0_8)" opacity="0.8"/>
<rect x="52.5" y="23.5" width="86" height="70" fill="none" stroke="#333" stroke-width="1"/>
<path d="M52.5 93.5v3M56.6 93.5v2M60.8 93.5v2M64.9 93.5v2M69 93.5v3M73.1 93.5v2M77.3 93.5v2M81.4 93.5v2M85.5 93.5v3M89.7 93.5v2M93.8 93.5v2M97.9 93.5v2M102 93.5v3M106.2 93.5v2M110.3 93.5v2M114.4 93.5v2M118.5 93.5v3M122.7 93.5v2M126.8 93.5v2M130.9 93.5v2M135.1 93.5v3M52.5 93.5h-3M52.5 90.1h-2M52.5 86.7h-2M52.5 83.3h-2M52.5 79.9h-3M52.5 76.5h-2M52.5 73.1h-2M52.5 69.7h-2M52.5 66.3h-3M52.5 62.9h-2M52.5 59.5h-2M52.5 56.1h-2M52.5 52.7h-3M52.5 49.3h-2M52.5 45.9h-2M52.5 42.5h-2M52.5 39.1h-3M52.5 35.7h-2M52.5 32.3h-2M52.5 28.9h-2M52.5 25.5h-3" stroke="#333" stroke-width="0.8" fill="none"/>
<text x="53.4" y="103.2" font-size="7.0" font-family='"Liberation Sans", sans-serif' font-weight="bold" textLength="3.5" lengthAdjust="spacingAndGlyphs" text-anchor="middle">0</text>
<text x="69.7" y="103.2" font-size="7.0" font-family='"Liberation Sans", sans-serif' font-weight="bold" textLength="10.5" lengthAdjust="spacingAndGlyphs" text-anchor="middle">200</text>
<text x="86.1" y="103.2" font-size="7.0" font-family='"Liberation Sans", sans-serif' font-weight="bold" textLength="10.5" lengthAdjust="spacingAndGlyphs" text-anchor="middle">400</text>
<text x="102.4" y="103.2" font-size="7.0" font-family='"Liberation Sans", sans-serif' font-weight="bold" textLength="10.5" lengthAdjust="spacingAndGlyphs" text-anchor="middle">600</text>
<text x="118.7" y="103.2" font-size="7.0" font-family='"Liberation Sans", sans-serif' font-weight="bold" textLength="10.5" lengthAdjust="spacingAndGlyphs" text-anchor="middle">800</text>
<text x="135.1" y="103.2" font-size="7.0" font-family='"Liberation Sans", sans-serif' font-weight="bold" textLength="13.5" lengthAdjust="spacingAndGlyphs" text-anchor="middle">1000</text>
<text x="47.3" y="93" font-size="7.0" font-family='"Liberation Sans", sans-serif' font-weight="bold" text-anchor="middle" transform="rotate(-90 47.3 93)">0</text>
<text x="47.3" y="24.2" font-size="7.0" font-family='"Liberation Sans", sans-serif' font-weight="bold" textLength="13.7" lengthAdjust="spacingAndGlyphs" text-anchor="middle" transform="rotate(-90 47.3 24.2)">1000</text>
<polygon points="83,150 89,155 96,166 101,176 94,184 76,186 75,172 79,159" fill="#4e4e4e" filter="url(#b1_2)"/>
<path d="M89.4 133.5h1.3M111 145.1h1.3M94.7 136h1.3M94.8 135.5h1.3M110.5 140.3h1.3M121.3 138.8h1.3M110.3 138.2h1.3M116.5 154.5h1.3M123.1 151h1.3M98.9 131.4h1.3M120 157.8h1.3M118.3 150.1h1.3M109.3 141h1.3M111.9 134.6h1.3M95.7 133.9h1.3M86.3 139h1.3M123.7 148.7h1.3M121.5 143.9h1.3M103.4 137.2h1.3M122.3 152.9h1.3M122.1 136.7h1.3M120.2 152.8h1.3M116.7 142.5h1.3M114.1 147.5h1.3M100.2 137.3h1.3M82.3 138h1.3M112.3 146.4h1.3M105.7 141.2h1.3M116.8 146.1h1.3M107.1 138.8h1.3M95.1 129.9h1.3M102.8 139h1.3M104.3 141.1h1.3M89.5 135.6h1.3M108.1 146.7h1.3M116.8 147.5h1.3M118.7 143.8h1.3M110.5 141.7h1.3M112 142.1h1.3M122.9 149.8h1.3M111.9 148.8h1.3M118.4 150h1.3M105.1 141.3h1.3M115.6 139.4h1.3M89.5 135.6h1.3M109.7 135.7h1.3M98.1 136.2h1.3M82 140h1.3M90.1 135.3h1.3M120.8 156.5h1.3M91.2 130.2h1.3M102.4 139.2h1.3M119.5 161.3h1.3M115.4 135.3h1.3M113.2 151.7h1.3M108.7 134.3h1.3M103.2 142.6h1.3M121.3 136h1.3M110.1 136.5h1.3M101.3 140.7h1.3M114.2 136.1h1.3M112.7 138.9h1.3M106.1 136.9h1.3M85.1 136h1.3M87.4 137.7h1.3M99.2 138h1.3M101 130.3h1.3M97.9 132h1.3M86.9 134.2h1.3M109.4 142.3h1.3M119.2 138.9h1.3M125.3 140.6h1.3M115.6 147.3h1.3M93.9 136.6h1.3M85.8 135.5h1.3M77.5 143.4h1.3M73.3 133.6h1.3M78.4 130.9h1.3M72.4 142.3h1.3M61.3 132.8h1.3M67.3 133.5h1.3M69.8 164.8h1.3M74.6 160.5h1.3M68.4 134.7h1.3M60.2 149h1.3M67.5 153.1h1.3M65.6 138.5h1.3M72.1 161.6h1.3M68.4 156.5h1.3" stroke="#707070" stroke-width="1.3"/>
<path d="M111.5 158.2h1.2M107 160h1.2M102.4 152.1h1.2M102.2 168.9h1.2M106.8 163.2h1.2M99.1 149.7h1.2M109.1 160.1h1.2M93.8 143.5h1.2M114.6 174.6h1.2M114.2 162.7h1.2M112.1 173.2h1.2M88.5 147.3h1.2M104.8 157.3h1.2M97.7 141.9h1.2M104.3 143.6h1.2M98.5 146.8h1.2M94.6 154.2h1.2M100.1 146.4h1.2M105.8 160.4h1.2M96.4 150.2h1.2M103.2 152.5h1.2M105.6 153.7h1.2M111.4 145.5h1.2M97.6 153.3h1.2M111.7 166.4h1.2M100.1 140.4h1.2M115.2 156.5h1.2M103.3 144.8h1.2M106.5 179h1.2M109.7 165.1h1.2M102.9 169.1h1.2M97.5 156.9h1.2M103.1 173.7h1.2M103.7 148.1h1.2M102.4 164.1h1.2M104.8 167.3h1.2M108.3 172.4h1.2M115 155.1h1.2M115.2 171.2h1.2M93.7 143.8h1.2M108.9 146h1.2M105.8 174.9h1.2M112.6 152.8h1.2M112.5 169.5h1.2M111.8 161.4h1.2M104.1 147.9h1.2M112.5 177.1h1.2M101.9 143.7h1.2M115.8 162.9h1.2M105.6 170.7h1.2M104.9 165.9h1.2M109.4 160.6h1.2M110.8 162.4h1.2M93.8 152.6h1.2M97.1 155.1h1.2M98 147.5h1.2M91.5 149.7h1.2M111 145.3h1.2M110.1 179.4h1.2M104.1 145.1h1.2M108.9 172h1.2M102.6 149h1.2M95.1 143.4h1.2M110.9 152.9h1.2M97.4 162.9h1.2M104.2 142.4h1.2M104.6 145.1h1.2M102.7 158.5h1.2M110 163.6h1.2M106.2 147.6h1.2M107.5 146.6h1.2M106.4 150.7h1.2M111.2 146h1.2M110 156.1h1.2M96.6 160.1h1.2M106.2 180.3h1.2M103.9 153.9h1.2M101.8 159.1h1.2M102.5 171.3h1.2M113.2 152.3h1.2M112.1 169h1.2M101 145.1h1.2M106.9 177.4h1.2M105.9 178.7h1.2M110.2 151.8h1.2M99 140.6h1.2M105.6 177.4h1.2M108.5 152.1h1.2M105.1 171.7h1.2M103.2 152h1.2M101.3 161.8h1.2M106.4 146.5h1.2M109.1 158.8h1.2M107.9 154.3h1.2M96.5 143.1h1.2M103.4 151.2h1.2M103.7 157.7h1.2M105 153.5h1.2M93 151.9h1.2M115.8 160.8h1.2M92.9 144.9h1.2M111.7 161.9h1.2M97.4 152.9h1.2M113.7 155.1h1.2M108.5 151.8h1.2M101 144.3h1.2M94.6 154.4h1.2M102.9 154.6h1.2M106.8 159h1.2M97.3 155.9h1.2M101.1 152.5h1.2M98.8 159.5h1.2M114.1 174.5h1.2M114.2 159.6h1.2M113.6 168.5h1.2M107.8 154.5h1.2M97.2 153.4h1.2M104.9 176.3h1.2M112.3 156h1.2M91.9 147.1h1.2M112.7 147.7h1.2M95.2 157.7h1.2M116.5 168h1.2M103.7 144.4h1.2M97.2 147h1.2M96.1 145.7h1.2M108.2 173.2h1.2M112.3 161.3h1.2M106.9 144.4h1.2M113 170.4h1.2M105.2 150.8h1.2M100.9 163.8h1.2M108.8 162.5h1.2M103 168.4h1.2M93.9 154.2h1.2M106 175.2h1.2M108.9 147h1.2M110.2 174.7h1.2M97.4 143.2h1.2M103.2 142.2h1.2M114 172h1.2M99.7 145.5h1.2M103.5 142.8h1.2M111.2 174.3h1.2M103.8 156h1.2M110.8 168.2h1.2M94.4 142.5h1.2M91.5 145.8h1.2M101.8 145.8h1.2M112.6 165.3h1.2M95.5 151.6h1.2M100.2 157.7h1.2M106.5 146.6h1.2M106.2 167h1.2M114.1 174.8h1.2M111.2 164.7h1.2M107.6 165.5h1.2M98.6 142.8h1.2M101.8 156.5h1.2M115.2 160.4h1.2M97.5 156.6h1.2M102.8 166h1.2M110.7 170.3h1.2M116 154.5h1.2M115.9 171.1h1.2M105 151h1.2M105.5 165.4h1.2M101.3 150.2h1.2M102.1 166.1h1.2M116.9 167.4h1.2M107.8 178.2h1.2M105.1 167.4h1.2M101.8 166.6h1.2M104.5 166.2h1.2M107.3 155.6h1.2M105.8 156.2h1.2M110.3 161.6h1.2M110.1 157.4h1.2M100.2 150.1h1.2M113.1 148.6h1.2M94.5 157.5h1.2M105.5 146.1h1.2M108.5 161.3h1.2M95.3 149.9h1.2M103.9 145.4h1.2M107.4 146.1h1.2M99.4 160.5h1.2M94.8 145.5h1.2M103.7 174.5h1.2M108.4 159.2h1.2M106.6 174.4h1.2M114.9 160.7h1.2M97.7 147.4h1.2M114 171.8h1.2M102 161.1h1.2M107.1 157.4h1.2M111.6 166.5h1.2M95.3 148.2h1.2M107.6 163.2h1.2M115.9 157.3h1.2M103.3 165.8h1.2M104.4 166.8h1.2M98.9 139.9h1.2M100.2 166.1h1.2M108.5 158.1h1.2M101.9 162h1.2M98 163h1.2M106.3 175.5h1.2M109.2 163.3h1.2M113.7 172.7h1.2M116.2 158.8h1.2M111.6 171h1.2M103.9 173.3h1.2M104.7 151.3h1.2M103.7 170.6h1.2M104.7 173.9h1.2M102.8 171.8h1.2M113.1 150.1h1.2M101.4 142.4h1.2M114.8 171.5h1.2M109.2 148.6h1.2M93.2 152.8h1.2M99.6 161.1h1.2M94.9 151.8h1.2M93.6 148.1h1.2M102.8 167.3h1.2M102.4 143.7h1.2M109.3 150.1h1.2M98.5 145.4h1.2M101.9 151.8h1.2M102.6 157h1.2M112.8 156.6h1.2M100.7 155.7h1.2M98.1 162.3h1.2M94.9 148.2h1.2M91 146.5h1.2M110.6 167h1.2M105.4 165.6h1.2M106.1 177.8h1.2M111.2 160.6h1.2M70.1 163.8h1.2M69.8 164.3h1.2M63.7 176.3h1.2M74.7 159.6h1.2M67 175h1.2M70.3 156.2h1.2M68.8 157.7h1.2M74.8 163.9h1.2M70.5 157.6h1.2M73.4 161.4h1.2M71.1 172.6h1.2M64.8 167.6h1.2M63.1 174.3h1.2M70.6 158.2h1.2M72.5 158.8h1.2M61 174.3h1.2M60.3 174.6h1.2M66.6 175.4h1.2M65.7 163.3h1.2M72.2 165.7h1.2M64.6 177.2h1.2M60.2 170.6h1.2M64.7 174.3h1.2M64 169.4h1.2M62.3 170.1h1.2M70.1 156.6h1.2M63.5 168.4h1.2M74.7 158.7h1.2M61.5 171.8h1.2M68.5 159.5h1.2M67.9 168.5h1.2M65.5 173.5h1.2M65.7 175.4h1.2M68.8 173h1.2M72.5 164.7h1.2M61.1 166.3h1.2M63.5 175.9h1.2M60.4 179.3h1.2M69.6 158.9h1.2M72 167.4h1.2M69.8 164.3h1.2M62.5 165.4h1.2M70.9 170.1h1.2M74.3 160.1h1.2M62.7 164.6h1.2M71.4 167.9h1.2M66.8 160.4h1.2M60.6 178.9h1.2M72.7 169.4h1.2M60.6 176.8h1.2M72.9 171.2h1.2M69.3 158.6h1.2M70.9 163.9h1.2M73.4 158.3h1.2M63.2 163.4h1.2M68.7 164.7h1.2M66.2 169.8h1.2M62.5 171h1.2M60.3 168.1h1.2M69.8 170.7h1.2M60.3 170.6h1.2M67.6 162.1h1.2M61.9 173.7h1.2M62.5 174.5h1.2M62.3 168.5h1.2M65.1 172.5h1.2M60.5 174.9h1.2M70.3 157.3h1.2M74.8 161.4h1.2M71.4 163.8h1.2M66.5 169.8h1.2M67.7 158.7h1.2M65.3 177h1.2M74.8 157.7h1.2M60 171.2h1.2M68 159.2h1.2M74.5 156.6h1.2M74.4 160.6h1.2M61.2 174.7h1.2M69.3 170.9h1.2M65 166.7h1.2M69.1 165.4h1.2M62.2 170.3h1.2M71 156.6h1.2M65.9 174.8h1.2M63.1 179.4h1.2M67.3 161.3h1.2M66.4 161.7h1.2M71.9 165.8h1.2M64.3 162.2h1.2M61.8 174.4h1.2M61.2 181.8h1.2M61.1 179.8h1.2M71.5 172.4h1.2M60 171.3h1.2M70.9 164.6h1.2M65 170.3h1.2M71.7 160h1.2M67.5 158.9h1.2M69.2 156.5h1.2M62.1 173.1h1.2M66.6 174.1h1.2M61.6 177.7h1.2M70.2 161.1h1.2M74.4 160.2h1.2M63.3 165.3h1.2M72.2 170.7h1.2M68.4 173.1h1.2M68 165.7h1.2M70.7 157.5h1.2M102.4 177.8h1.2M96 176.9h1.2M102.9 179.8h1.2M103.5 182.1h1.2M99.5 179.6h1.2M97.2 177.1h1.2M97.1 176.1h1.2M109.7 178.7h1.2M100.8 177.8h1.2M107.9 173.2h1.2M103.5 174.2h1.2M107.6 183.4h1.2M107.6 172.8h1.2M97.6 180.1h1.2M105.7 180.3h1.2M103.9 183.8h1.2M103.8 184.4h1.2M103.3 178.6h1.2M103 175.2h1.2M102.8 177.2h1.2M110 176.5h1.2M108.7 180.2h1.2M106.2 183.1h1.2M105.9 172.8h1.2M100.7 184.7h1.2M102.6 177.6h1.2M100.3 183h1.2M104.6 178.8h1.2M109.9 179.3h1.2M108.2 173.9h1.2M106.2 177.7h1.2M105.2 180.9h1.2M96 178.7h1.2M98 176.5h1.2M97.2 176.9h1.2M98.2 182.6h1.2M107.6 172.6h1.2M102.8 179.1h1.2M101.4 179.2h1.2M100.3 179.3h1.2M111.5 178.5h1.2M102.3 181.5h1.2M111.5 176.7h1.2M101.7 176h1.2M109.6 180.9h1.2M98.1 176.2h1.2M105.8 183.6h1.2M106.4 181.3h1.2M101 183.9h1.2M106.5 180.4h1.2M100.5 180h1.2M101.1 177.6h1.2M112.3 178.2h1.2M98.8 177.8h1.2M99.5 181.9h1.2M99.2 181.9h1.2M103.8 177.8h1.2M106.1 174.9h1.2M96.5 175.8h1.2M97.5 179.4h1.2" stroke="#444" stroke-width="1.2"/>
<path d="M85.5 175.5h1.1M87.3 175.1h1.1M81.7 158.4h1.1M83.8 158.7h1.1M86.2 161.3h1.1M70.5 186.6h1.1M80.8 163h1.1M78.6 171.1h1.1M75.2 175.9h1.1M79.9 174.5h1.1M86 165.1h1.1M75.1 181h1.1M84.4 187.2h1.1M69.6 192h1.1M86.6 166.6h1.1M96.9 182.4h1.1M75.1 184.1h1.1M98.6 170h1.1M93.1 182.6h1.1M91.5 187.3h1.1M62.8 186.8h1.1M77 171.8h1.1M83.9 182.9h1.1M85.4 173.3h1.1M96.9 163.5h1.1M68.5 183.3h1.1M92.5 181.9h1.1M95.5 182.7h1.1M90.8 162.4h1.1M75.8 190.7h1.1M106 179h1.1M88.4 155.8h1.1M98.1 165.9h1.1M78.5 166.5h1.1M103.2 182.4h1.1M94.3 162.8h1.1M76.8 166.8h1.1M60.7 185.8h1.1M103.1 174.8h1.1M88.3 181h1.1M88.5 173.4h1.1M93.2 174.7h1.1M99.2 171.4h1.1M75.3 172.8h1.1M89 162.7h1.1M82.2 179.9h1.1M97 182.4h1.1M77.3 186.5h1.1M70.3 178.5h1.1M76.7 190.2h1.1M73.7 181.6h1.1M85.4 166.6h1.1M90.7 177.1h1.1M75 174.7h1.1M80.4 176.4h1.1M72.9 174.1h1.1M98.4 174.1h1.1M75.6 165h1.1M62.1 184.8h1.1M84.5 188.8h1.1M85.5 188.9h1.1M80.8 164.3h1.1M80.6 149.8h1.1M102.9 173.2h1.1M101 178.8h1.1M96.4 184h1.1M60.9 183.2h1.1M89 185.6h1.1M62.5 186.3h1.1M76.6 187.3h1.1M97.3 169.3h1.1M88.9 166.8h1.1M82.8 158.1h1.1M78.7 176h1.1M82 165.2h1.1M77.3 176.4h1.1M87.4 149.9h1.1M74.9 176h1.1M84.2 161.1h1.1M73.7 167.9h1.1M91.1 173.8h1.1M64.3 181.4h1.1M81.7 149.9h1.1M98.8 183.4h1.1M72.3 180.4h1.1M90.2 161.1h1.1M83 185h1.1M80.2 161.8h1.1M99 177h1.1M85.4 178.4h1.1M73.6 180.4h1.1M68.4 191.5h1.1M96.3 182.3h1.1M82.3 175.2h1.1M81.6 178.4h1.1M79.5 189.1h1.1M64 188.4h1.1M67.4 184.9h1.1M93.3 158.2h1.1M102.1 171.3h1.1M65.9 183.7h1.1M79.4 172.9h1.1M82.6 172.5h1.1M82 175.6h1.1M82.5 170.4h1.1M63.5 193.5h1.1M101.1 182.5h1.1M91.4 156.8h1.1M93.4 164h1.1M82.9 182.5h1.1M76.3 181.8h1.1M93.2 180h1.1M80 177.8h1.1M85.3 165.8h1.1M76 169h1.1M88.9 162.7h1.1M94.7 182.2h1.1M82.6 172.7h1.1M94.7 165.8h1.1M81.3 150.7h1.1M64.2 191.4h1.1M89.2 181.6h1.1M70.3 183.4h1.1M94 168.6h1.1M85.3 151.2h1.1M84.5 166.3h1.1M99.3 181.7h1.1M94.3 178.3h1.1M76 175h1.1M70.6 190.5h1.1M78.3 176h1.1M94.8 181.3h1.1M73.6 171.9h1.1M65.2 186.5h1.1M73.5 171.3h1.1M83.2 187.1h1.1M79.4 177.2h1.1M63.8 180.5h1.1M72.7 177.8h1.1M73.2 171.2h1.1M72.5 174.6h1.1M70.6 184h1.1M76.4 166.7h1.1M67.3 188.1h1.1M69.4 181.1h1.1M84.2 161h1.1M86.9 174.2h1.1M85.9 158.5h1.1M68 192.1h1.1M94.6 159.9h1.1M102.2 177.7h1.1M67.1 191h1.1M79.4 188.5h1.1M72 188.8h1.1M78.8 168.5h1.1M103.6 180.3h1.1M107.1 181.5h1.1M81.2 158.8h1.1M79 168.9h1.1M88.4 187.3h1.1M95.1 174.7h1.1M98 182.8h1.1M103.4 181.5h1.1M80.2 161.6h1.1M65.8 181.9h1.1M78.5 162h1.1M62.1 193h1.1M83.1 159.5h1.1M99.2 169.4h1.1M78.3 170.2h1.1M88.5 185.6h1.1M92.6 162.9h1.1M84.7 184.3h1.1M87.3 173.5h1.1M85.5 187.3h1.1M71.4 181.5h1.1M77.5 188.8h1.1M95 166.1h1.1M73.2 172.2h1.1M86 157.4h1.1M69 184.5h1.1M75.7 164.2h1.1M94 184.6h1.1M92.8 168.8h1.1M85.2 179.8h1.1M83.6 188.7h1.1M72 175.5h1.1M91.9 183.9h1.1M93 170.3h1.1M90.1 186h1.1M70.2 177.9h1.1M68 180h1.1M95.5 184.1h1.1M104.3 180.2h1.1M75.7 169.6h1.1M76.9 163.3h1.1M79.6 163.4h1.1M75.8 179.6h1.1M96.4 183.7h1.1M88.2 157.9h1.1M70.9 176.8h1.1M90.3 155.8h1.1M90.3 159.6h1.1M88.8 173.4h1.1M79.6 187.6h1.1M101.5 172.6h1.1M80.7 165.3h1.1M86.6 164.3h1.1M71 188.6h1.1M87.5 164.2h1.1M86 183h1.1M84.3 188.8h1.1M77.2 171.2h1.1M82.6 186.7h1.1M87.3 168.6h1.1M94.8 163.5h1.1M93.7 174.8h1.1M80.3 187.4h1.1M100.7 170.2h1.1M63.1 185.6h1.1M80.2 174.1h1.1M96.3 177.8h1.1M70 183.4h1.1M105.1 176.5h1.1M106.2 177.9h1.1M88.7 154.5h1.1M79.7 189.7h1.1M93.3 165.3h1.1M96.6 173.6h1.1M84.9 153.2h1.1M85.8 161.2h1.1M82.6 152.5h1.1M75.6 176.7h1.1M86.2 153.3h1.1M100.7 177h1.1M101.1 175.5h1.1M87.2 168h1.1M75.5 170.7h1.1M67.9 192.6h1.1M82.1 157.1h1.1M68.8 189.2h1.1M102.6 172.4h1.1M91.2 172.5h1.1M102.6 178.3h1.1M101.5 179.8h1.1M87.8 158.3h1.1M99.6 183.3h1.1M68.1 183.5h1.1M94.9 179.8h1.1M85.9 168.1h1.1M72 190.7h1.1M90.3 166.4h1.1M87.6 177.7h1.1M78.1 171.3h1.1M75.1 164.5h1.1M67.3 182.1h1.1M93.4 183.6h1.1M76.2 186.4h1.1M94.8 168h1.1M81.5 175.8h1.1M87.8 175.2h1.1M68.3 178.1h1.1M68.5 178.6h1.1M71.8 190.9h1.1M98 184.3h1.1M103.1 174.3h1.1M100 180.6h1.1M102.8 177.2h1.1M67.9 178.4h1.1M65.2 187.6h1.1M79.5 157.2h1.1M89.1 187.1h1.1M90.8 164.1h1.1M98.6 176.2h1.1M66.1 184h1.1M97.2 181.6h1.1M93.6 184.1h1.1M83.7 153.6h1.1M73.2 185.1h1.1M75.4 184.2h1.1M105.9 178.5h1.1M99.7 175.2h1.1M74.9 165h1.1M105.7 176.4h1.1M75.1 170h1.1M75.2 171.5h1.1M85.3 156.1h1.1M82.8 158.9h1.1M80.8 159.4h1.1M86 175.2h1.1M80.8 168.1h1.1M65.6 191.3h1.1M95.4 165.4h1.1M92.2 184h1.1M102.1 180h1.1M66.1 179h1.1M80.7 166.2h1.1M95.2 178.8h1.1M82.2 155.3h1.1M102.5 171.7h1.1M91.5 159.8h1.1M81.7 181.4h1.1M90.9 171.9h1.1M91.4 162.4h1.1M99.6 179.6h1.1M73.2 191.5h1.1M90.2 178.6h1.1M84.5 157.4h1.1M90.5 173.2h1.1M89.8 152.7h1.1M86 183.2h1.1M77.7 164.7h1.1M90.4 153.5h1.1M94 179.9h1.1M98.4 181.1h1.1M81.6 173.7h1.1M90.5 158.7h1.1M100.2 175.3h1.1M81.3 175.9h1.1M82.7 165.2h1.1M85.3 187.9h1.1M82.3 164.5h1.1M86 174.7h1.1M63.2 181h1.1M90.7 181.4h1.1M75.3 187.3h1.1M102.4 179.1h1.1M72 189.5h1.1M83.7 160.4h1.1M82.4 187.5h1.1M81.6 165.3h1.1M74 187h1.1M95.4 162.6h1.1M67.7 185.5h1.1M95.4 181.2h1.1M84.2 166h1.1M80.7 153.6h1.1M86.3 171.5h1.1M95.3 166.1h1.1M80.2 166.5h1.1M74.2 183.5h1.1M73.5 179.7h1.1M87.9 158h1.1M89.1 177.2h1.1M80.9 181.2h1.1M96.8 165.6h1.1M105.1 177.2h1.1M68.2 189.4h1.1M62.2 191h1.1M82.6 171.7h1.1M65.1 184.8h1.1M79.5 157.8h1.1M86.2 152.8h1.1M87.6 187.6h1.1M75.5 171.5h1.1M78.4 177.1h1.1M91.9 161h1.1M82.9 183.2h1.1M69 179h1.1M97.9 185h1.1M77.8 176.2h1.1M79.2 159.1h1.1M78.1 163.4h1.1M103.3 180.9h1.1M76.9 172.6h1.1M77 177h1.1M74.7 178.6h1.1M79.4 157h1.1M69.4 178.3h1.1M86.7 149.5h1.1M87.2 152.4h1.1M84.7 149h1.1M87.8 176.3h1.1M91.2 173.2h1.1M67.3 193.5h1.1M75.8 168.3h1.1M98.6 175.8h1.1M99.2 179.5h1.1M91.1 163.8h1.1M82.5 183.5h1.1M75 188.4h1.1M84.4 167.3h1.1M96.1 162.7h1.1M89.4 179.1h1.1M75.2 171.6h1.1M75.9 164h1.1M90.6 168h1.1M88.3 169.3h1.1M87.9 162h1.1M102.9 180.4h1.1M79.2 186.4h1.1M90.7 166.5h1.1M89.9 169.3h1.1M87.3 180.7h1.1M83.9 173.4h1.1M84.9 178.7h1.1M77.3 161.5h1.1M96.3 177.2h1.1M99 185h1.1M94.1 178.6h1.1M63.8 193.1h1.1M85.9 166.2h1.1M63.5 180.3h1.1M88.6 187.2h1.1M99.5 179.8h1.1M64.3 179.5h1.1M76.3 173.5h1.1M90 154.1h1.1M78 186.2h1.1M86 161.2h1.1M89.3 158.8h1.1M68.9 182.8h1.1M83.4 162.9h1.1M96.2 168.8h1.1M74.9 185.7h1.1M90.3 180.5h1.1M101.1 181.3h1.1M76.7 163.9h1.1M71.4 175.2h1.1M95.4 172.8h1.1M80.9 184.6h1.1M91.4 173.4h1.1M70.3 185.2h1.1M87.7 164.3h1.1M79.7 159.4h1.1M83.1 188.4h1.1M90.8 172.4h1.1M78.6 185.4h1.1M82.7 187.8h1.1M63.8 184.6h1.1M95.2 172.3h1.1M95.9 178.6h1.1M87.3 161.8h1.1M87.1 175h1.1M88.1 186.7h1.1M81.9 185.2h1.1M66.4 190h1.1M102.6 182.6h1.1M94.2 184.9h1.1M61.3 191.7h1.1M93.3 176.1h1.1M69.7 189.6h1.1M90.7 158.8h1.1M94.1 176.5h1.1M85.5 166.4h1.1M71 190.9h1.1M102.2 178.1h1.1M99.1 185.3h1.1M62.8 189.6h1.1M79.7 160.1h1.1M90.6 182h1.1M92.2 162.8h1.1M97.4 175.1h1.1M65.4 183.4h1.1M73.1 180h1.1M76.9 164.8h1.1M66.9 184.8h1.1M80.8 155.7h1.1M84 187.7h1.1M67.3 185.5h1.1M92.4 175.6h1.1M86.8 151.3h1.1M102.8 171.6h1.1M84.4 156.8h1.1M73.1 175h1.1M71.7 178.5h1.1M94.4 170.2h1.1M95.7 164h1.1M73.1 190.6h1.1M103.8 175.4h1.1M77.7 175.7h1.1M74 170.5h1.1M83.9 164.7h1.1M92 186.2h1.1M84 186.5h1.1M63.3 193.5h1.1M75.4 165.5h1.1M86.7 186h1.1M99.1 185.1h1.1M80.8 183.8h1.1M62.6 187.6h1.1M64.2 188.3h1.1M88.9 156.8h1.1M81.5 173.2h1.1M87.8 159.7h1.1M78.7 164.3h1.1M101.3 178h1.1M86.1 178.3h1.1M73.8 171.8h1.1M93 169.6h1.1M82.5 171.8h1.1M76.1 167.9h1.1M73 181.6h1.1M79.5 159h1.1M92.9 162.1h1.1M78 185.1h1.1M65.3 185.8h1.1M81.1 189.6h1.1M74.7 188.3h1.1M78.2 187.1h1.1M81.4 185.8h1.1M102.4 177.8h1.1M79 163.2h1.1M71.5 186.5h1.1M102 177.1h1.1M102.5 176.6h1.1M79.5 182.2h1.1M89.4 169.5h1.1M84.5 150.4h1.1M93.3 174.3h1.1M91.6 157.5h1.1M70.9 178.7h1.1M103.8 174.6h1.1M92.1 165.5h1.1M63.1 190h1.1M95.1 164.1h1.1M79.3 186.4h1.1M87.1 162.9h1.1M100 177.1h1.1M60.8 186.3h1.1M67.8 184.4h1.1M90.4 176.2h1.1M73.2 187.7h1.1M63.7 186.5h1.1M86.6 166h1.1M83.3 169.3h1.1M77.6 155.8h1.1M87.6 168.1h1.1M92.3 164.4h1.1M94.3 161.9h1.1M86.6 150.2h1.1M101.2 184.4h1.1M92.3 176.4h1.1M68.2 188.8h1.1M88.7 151.5h1.1M80.3 177.2h1.1M68.8 192.8h1.1M93.5 173.8h1.1M80.2 175.5h1.1M77.4 157.2h1.1M71.7 187.3h1.1M86.8 164.8h1.1M88.3 182.7h1.1M85.9 183.3h1.1M68.1 186.7h1.1M88.6 151.2h1.1M94 162.2h1.1M70.7 176.9h1.1M71.3 173.7h1.1M95.4 162.1h1.1M85.3 169.2h1.1M100.5 169.1h1.1M82.5 172.3h1.1M68.7 178h1.1M82.8 180.1h1.1M93.4 166.6h1.1M95.4 175.7h1.1M79 164.5h1.1M81.8 162.9h1.1M95.4 173.2h1.1M80.8 174.9h1.1M97.1 169.2h1.1M91.4 159.9h1.1M92 157.3h1.1M73.5 191.7h1.1M92.9 177.4h1.1M74.2 174.1h1.1M76.9 162.7h1.1M96.1 172.7h1.1M74.3 168.6h1.1M81.2 163h1.1M87.3 168.5h1.1M98 176.1h1.1M89.1 158.4h1.1M86.5 180h1.1M88.6 174h1.1M94.1 181.2h1.1M85 168.1h1.1M78 164.5h1.1M79.2 155.9h1.1M98.4 174.6h1.1M79.9 183.4h1.1M79.2 175.3h1.1M74.6 168.2h1.1M79.1 173.5h1.1M99.3 176.1h1.1M89.4 181h1.1M82.4 182.5h1.1M104.9 179h1.1M79.4 187.9h1.1M89.2 186.4h1.1M73.2 180.1h1.1M84.2 185.2h1.1M77.8 166.9h1.1M76.5 161.6h1.1M76.5 160.1h1.1M73.2 184h1.1M78 179.5h1.1M93.2 186h1.1M99.2 179.5h1.1M84.3 162.5h1.1M78.9 189.5h1.1M104.4 179.5h1.1M86.2 162.5h1.1M76.4 170.7h1.1M61.4 186.9h1.1M60.6 183.8h1.1M82 153.6h1.1M95.3 181.9h1.1M69.9 185.1h1.1M80.8 172.3h1.1M104.6 182.5h1.1M83.8 163.5h1.1M87.8 163.7h1.1M77 179.7h1.1M79.6 169.1h1.1M92.6 181.7h1.1M106.1 177.7h1.1M93.2 162.2h1.1M91 173.4h1.1M87.7 159.1h1.1M83.9 150.4h1.1M85.6 152.7h1.1M103.2 180.3h1.1M96.9 175.4h1.1M102.3 182.1h1.1M79.6 188.4h1.1M85.2 179.6h1.1M62.4 192.1h1.1M78.2 168.9h1.1M91.5 159.1h1.1M87.8 169.1h1.1M70.9 185.8h1.1M72.5 183.8h1.1M72.4 178h1.1M80.1 175.5h1.1M85.9 167.9h1.1M94.8 185.4h1.1M84.2 183.3h1.1M95 180.6h1.1M76.1 171.8h1.1M86.7 150.9h1.1M84.7 167.8h1.1M83.1 187.5h1.1M93.8 175.4h1.1M82.6 179.2h1.1M90.8 158.5h1.1M80.8 154.1h1.1M80.4 166.2h1.1M77.4 173.1h1.1M92.8 172.4h1.1M72.6 188.9h1.1M86 175.5h1.1M92.2 161.5h1.1M61.3 182.8h1.1M76.4 171.5h1.1M66.4 177.3h1.1M89.6 158.6h1.1M61.6 193h1.1M79.8 174h1.1M86.6 161.8h1.1M76.2 177.8h1.1M94.2 177h1.1M79.3 182.9h1.1M88.2 181h1.1M104.9 179.1h1.1M92.7 160.2h1.1M87.6 164h1.1M82.1 187.1h1.1M70.5 185.2h1.1M92.1 177.5h1.1M68.2 189.4h1.1M77.5 169h1.1M94.4 167.7h1.1M88.8 169.5h1.1M73.9 177.6h1.1M65.4 190h1.1M92.2 183.1h1.1M97.8 176.2h1.1M69.1 186.2h1.1M96.4 163h1.1M78 161.4h1.1M97.2 170.2h1.1M80.9 167.5h1.1M78.3 163.5h1.1M82.5 151.4h1.1M72.8 172.9h1.1M81.4 148h1.1M82.7 168.5h1.1M81.4 189.2h1.1M87.5 167.6h1.1M96.8 178.5h1.1M68.9 181.4h1.1M83 175h1.1M92.1 175.4h1.1M91.8 155.9h1.1M82.4 168.9h1.1M90.7 168.4h1.1M101.9 173.2h1.1M89.2 184.8h1.1M82.5 150.3h1.1M100.9 176.8h1.1M71.3 191.8h1.1M66 182.9h1.1M82.1 159.9h1.1M97.9 168.2h1.1M62 188.4h1.1M79.5 151.7h1.1M97.5 176.3h1.1M103.4 174h1.1M79.9 176.7h1.1M79.8 165.4h1.1M85.1 183.3h1.1M68.7 178.3h1.1M87.3 150.5h1.1M84.4 174.7h1.1M83.5 156h1.1M79.6 160.9h1.1M72.5 187h1.1M92.8 174.7h1.1M81.3 155.6h1.1M101.4 173.2h1.1M97.8 173.2h1.1M93.6 186.6h1.1M88 153.1h1.1M87.8 166.1h1.1M83.5 163.5h1.1M88.7 175.5h1.1M93 180.1h1.1M94.5 159h1.1M77.5 171.5h1.1M71.7 173.4h1.1M91 158.2h1.1M92.7 162.9h1.1M72.6 180.8h1.1M100.8 169.1h1.1M72.1 187h1.1M97.5 166.6h1.1M77.8 180.3h1.1M104.9 175.2h1.1M80.5 165.4h1.1M78.3 161.8h1.1M103.4 175.7h1.1M85.4 169.3h1.1M85.4 187.6h1.1M72 172.9h1.1M86.3 182.1h1.1M90.4 186.8h1.1M94 168.7h1.1M72 182.2h1.1M77.3 166.9h1.1M95.4 169.3h1.1M92.9 170.8h1.1M96.2 164.4h1.1M82.2 169.8h1.1M62.9 180.8h1.1M79.9 153.1h1.1M97.9 167.5h1.1M73.8 173.9h1.1M87.6 187.9h1.1M80.6 172.5h1.1M83.8 159.9h1.1M82 175.2h1.1M90.2 164.6h1.1M80.8 159.4h1.1M77.4 169.4h1.1M82.4 171.4h1.1M82.5 155.6h1.1M76.5 163.6h1.1M89 144.2h1.1M80.4 161h1.1M86 178.2h1.1M89.2 164.9h1.1M79.7 154.6h1.1M85.6 162.3h1.1M81.3 161.1h1.1M82.7 181h1.1M82.4 166.8h1.1M84.3 168.5h1.1M80.5 174.4h1.1M88 166.8h1.1M81.1 152.7h1.1M83.3 161h1.1M81 160.8h1.1M78.8 160h1.1M79.2 164h1.1M76.2 155h1.1M83.5 149.7h1.1M82.5 160.2h1.1M87.8 168.2h1.1M81.9 168.7h1.1M83.1 168.8h1.1M82.2 164.2h1.1M82.1 169.9h1.1M88.6 176h1.1M88.7 161.2h1.1M89.4 160.1h1.1M84.5 154.6h1.1M88.2 148.7h1.1M83.1 167.8h1.1M79.7 165.7h1.1M80.5 159h1.1M84 173.9h1.1M91.6 154.3h1.1M78.8 155.3h1.1M84.7 161.2h1.1M80.1 154.3h1.1M84.6 162.4h1.1M91.5 152.8h1.1M79.4 191h1.1M78.9 170.8h1.1M82 162.9h1.1M88.4 157.6h1.1M83 162.2h1.1M82.7 176.4h1.1M89.2 157h1.1M89.3 149.7h1.1M82.1 155.8h1.1M81.7 163.1h1.1M85.4 154.5h1.1M85.7 156.6h1.1M85.4 164.5h1.1M80.8 154h1.1M87.2 161.6h1.1M85.1 159.2h1.1M88.8 166.2h1.1M81.4 163.5h1.1M80.5 158.2h1.1M83.4 153.2h1.1M80.2 170.6h1.1M81 159.8h1.1M78.8 172h1.1M80.1 167.9h1.1M85.6 166.6h1.1M83.8 143.4h1.1M81 159.7h1.1M79.9 151.7h1.1M85 162h1.1M87 166h1.1M88 164.6h1.1M83.3 163.4h1.1M86.1 170.2h1.1M86.4 158.1h1.1M79.6 170h1.1M88.1 153.8h1.1M84.7 153.7h1.1M82.6 179.7h1.1M83 158.3h1.1M84 158.1h1.1M86.3 148.8h1.1M87 155.8h1.1M82.2 182.8h1.1M87.9 163.9h1.1M83 166h1.1M84.5 190.3h1.1M89.4 174.8h1.1M80.1 174h1.1M83.2 163.4h1.1M83 158.9h1.1M85.7 163.8h1.1M86.8 157.9h1.1M81.3 158.2h1.1M82.7 165h1.1M90 163.7h1.1M81.2 183h1.1M89.4 170.1h1.1M88.5 147.4h1.1M82.7 161.7h1.1M85.4 145.6h1.1M83.5 177.3h1.1M88.4 164.7h1.1M85.7 162.2h1.1M76.3 165.9h1.1M88.2 150.2h1.1M91.2 169.2h1.1M84.6 174.3h1.1M80.7 160.9h1.1M78.2 169.6h1.1M83.8 181.4h1.1M86.8 158.7h1.1" stroke="#2e2e2e" stroke-width="1.1"/>
<polygon points="62.5,193.5 63,188 75,185.5 90,182.5 96,183 80,189.5 66,194.5" fill="#8a8a8a" filter="url(#b1_2)" opacity="0.9"/>
<path d="M82.1 185h1.1M76 186.4h1.1M81 187.1h1.1M68.7 188.5h1.1M79.9 185.3h1.1M77 187.6h1.1M77.1 186.5h1.1M66.8 188.9h1.1M64.4 189.5h1.1M75.1 188h1.1M67.6 192.1h1.1M80.4 187.4h1.1M79.5 186.3h1.1M76.1 187.8h1.1M67.6 191.4h1.1M70.7 191.5h1.1M64.2 192.2h1.1M83.2 185.7h1.1M63.9 189.5h1.1M76.7 187.4h1.1M71.1 188.5h1.1M66.3 191.6h1.1M62.6 192.4h1.1M78.1 188.5h1.1M74.8 188.2h1.1M65.3 192.1h1.1M68.7 191.4h1.1M77.1 187.8h1.1M69.5 192h1.1M81.4 186.6h1.1" stroke="#3a3a3a" stroke-width="1.1" stroke-opacity="0.45"/>
<rect x="51.5" y="126.5" width="87" height="70" fill="none" stroke="#333" stroke-width="1"/>
<path d="M51.5 196.5v3M55.7 196.5v2M59.8 196.5v2M64 196.5v2M68.1 196.5v3M72.3 196.5v2M76.4 196.5v2M80.6 196.5v2M84.8 196.5v3M88.9 196.5v2M93.1 196.5v2M97.2 196.5v2M101.4 196.5v3M105.5 196.5v2M109.7 196.5v2M113.9 196.5v2M118 196.5v3M122.2 196.5v2M126.3 196.5v2M130.5 196.5v2M134.6 196.5v3M51.5 196.5h-3M51.5 193.1h-2M51.5 189.7h-2M51.5 186.3h-2M51.5 182.9h-3M51.5 179.5h-2M51.5 176.1h-2M51.5 172.7h-2M51.5 169.3h-3M51.5 165.9h-2M51.5 162.5h-2M51.5 159.1h-2M51.5 155.7h-3M51.5 152.3h-2M51.5 148.9h-2M51.5 145.5h-2M51.5 142.1h-3M51.5 138.7h-2M51.5 135.3h-2M51.5 131.9h-2M51.5 128.5h-3" stroke="#333" stroke-width="0.8" fill="none"/>
<text x="52.4" y="206.3" font-size="7.0" font-family='"Liberation Sans", sans-serif' font-weight="bold" textLength="3.5" lengthAdjust="spacingAndGlyphs" text-anchor="middle">0</text>
<text x="68.8" y="206.3" font-size="7.0" font-family='"Liberation Sans", sans-serif' font-weight="bold" textLength="10.5" lengthAdjust="spacingAndGlyphs" text-anchor="middle">200</text>
<text x="85.3" y="206.3" font-size="7.0" font-family='"Liberation Sans", sans-serif' font-weight="bold" textLength="10.5" lengthAdjust="spacingAndGlyphs" text-anchor="middle">400</text>
<text x="101.7" y="206.3" font-size="7.0" font-family='"Liberation Sans", sans-serif' font-weight="bold" textLength="10.5" lengthAdjust="spacingAndGlyphs" text-anchor="middle">600</text>
<text x="118.2" y="206.3" font-size="7.0" font-family='"Liberation Sans", sans-serif' font-weight="bold" textLength="10.5" lengthAdjust="spacingAndGlyphs" text-anchor="middle">800</text>
<text x="134.6" y="206.3" font-size="7.0" font-family='"Liberation Sans", sans-serif' font-weight="bold" textLength="13.5" lengthAdjust="spacingAndGlyphs" text-anchor="middle">1000</text>
<text x="46.3" y="196" font-size="7.0" font-family='"Liberation Sans", sans-serif' font-weight="bold" text-anchor="middle" transform="rotate(-90 46.3 196)">0</text>
<text x="46.3" y="127.2" font-size="7.0" font-family='"Liberation Sans", sans-serif' font-weight="bold" textLength="13.7" lengthAdjust="spacingAndGlyphs" text-anchor="middle" transform="rotate(-90 46.3 127.2)">1000</text>
<path d="M249.6 53.3h1.3M237.5 49.1h1.3M247 44.5h1.3M248.4 47.8h1.3M222.8 60.3h1.3M229.1 61.4h1.3M249 57.8h1.3M253.1 50.5h1.3M241.5 48.3h1.3M253.4 63.3h1.3M237.6 42.1h1.3M227.5 42.8h1.3M240.4 64.6h1.3M224.6 46.2h1.3M248.9 53.2h1.3M233.8 46.7h1.3M234.3 56.9h1.3M228.9 65.2h1.3M239.5 65.2h1.3M242.9 69.8h1.3M223.3 71.2h1.3M250.2 55.7h1.3M230.1 43.4h1.3M247.9 56.9h1.3M226.1 72h1.3M232.8 53.5h1.3M233.9 74.1h1.3M247.8 54.7h1.3M234.6 70.5h1.3M228.7 52.6h1.3M248.8 61.1h1.3M246.9 49.6h1.3M238.6 55.7h1.3M237.1 49.2h1.3M241 52.2h1.3M225.8 62.8h1.3M253.8 62.9h1.3M238 51.7h1.3M230.7 46.1h1.3M250 63h1.3M229.5 63.1h1.3M248.5 64.4h1.3M224.3 49.4h1.3M254 53.6h1.3M244.9 59.2h1.3M251.4 55.8h1.3M245 61.2h1.3M233.5 52.9h1.3M221.4 50.9h1.3M223.4 57.3h1.3M233.9 48.9h1.3M242.3 62.8h1.3M242 48.3h1.3M242.9 60.4h1.3M226.4 63.6h1.3M236.9 66.9h1.3M245.6 65.1h1.3M238.4 45.1h1.3M225.8 63.5h1.3M229.7 57.9h1.3M239.7 70.7h1.3M228.9 74h1.3M241.9 54.6h1.3M229.7 73.8h1.3M245.9 44.5h1.3M241.2 65.3h1.3M238.3 45.6h1.3M252.1 52.9h1.3M236.7 46.6h1.3M233.6 49.1h1.3M253.6 54h1.3M223.1 72.4h1.3M245.6 60.5h1.3M223.9 47.3h1.3M250.6 65.4h1.3M240.3 45.7h1.3M249.6 54.2h1.3M221.6 56.5h1.3M240.6 61.1h1.3M236.8 41.4h1.3M247.8 56.6h1.3M230.8 54.7h1.3M224 69.5h1.3M231.4 49.4h1.3M240 64h1.3M247 60.4h1.3M253.5 63.3h1.3M256.1 57.7h1.3M224.3 57.7h1.3M253.9 65.8h1.3M238.7 60.1h1.3M230 54.4h1.3M222.7 59h1.3M226 67h1.3M223 65.1h1.3M235.3 59.6h1.3M246.3 50.8h1.3M247.5 48.2h1.3M239.1 59.3h1.3M235.1 58.9h1.3M249.8 59.7h1.3M225.4 45.2h1.3M236 61.6h1.3M243.1 44.1h1.3M234.3 50.5h1.3M228.8 62.4h1.3M221.8 45.1h1.3M256.5 57.1h1.3M235.8 68h1.3M223.8 57.5h1.3M250.2 61.9h1.3M245 52.9h1.3M253.6 60.8h1.3M225 57.8h1.3M226.1 44.3h1.3M222.3 58.3h1.3M224.7 50.9h1.3M234.5 74.1h1.3M251.8 56.5h1.3M247.6 57.6h1.3M231 54.7h1.3M243.2 66.2h1.3M252.2 50.5h1.3M221.4 56.8h1.3M227.9 56.1h1.3M224.7 73.5h1.3M225.9 57h1.3M248.1 50.9h1.3M245.1 66.7h1.3M228.4 56.3h1.3M237.2 57.2h1.3M230.6 61.7h1.3M248.9 60.5h1.3M252.2 53.6h1.3M241.7 48h1.3M243.6 59h1.3M255.2 49.9h1.3M251.4 48.6h1.3M228.8 68.8h1.3M237.3 47.5h1.3M229 59.5h1.3M234 47.4h1.3M246.9 45.8h1.3M225.8 71.3h1.3M223.9 47.8h1.3M231.4 68.4h1.3M234.1 62.5h1.3M234.7 50.7h1.3M234.1 41.4h1.3M245.3 49.6h1.3M254.5 65.4h1.3M249 56.4h1.3M241.6 60h1.3M221.8 72.5h1.3M226.1 56.5h1.3M243.7 61h1.3M230.7 53.5h1.3M249.3 57.9h1.3M248.1 65.3h1.3M249.7 61.3h1.3M245.8 71.1h1.3M243.2 53.4h1.3M254.7 53h1.3M246.1 45.4h1.3M240.6 58.1h1.3M250.4 67.6h1.3M237.2 71.3h1.3M247.5 50.9h1.3M240.5 64.4h1.3M254.3 59h1.3M229.9 72.7h1.3M234.7 66.2h1.3M255.5 55.1h1.3M224.7 53.3h1.3M224.2 69.3h1.3M229.3 48.7h1.3M247.3 55h1.3M244.9 44.8h1.3M221.7 58.4h1.3M251.9 53.2h1.3M253.7 52.9h1.3M237.1 65.6h1.3M229.3 62.1h1.3M248.6 60.8h1.3M223.3 62.8h1.3M224.9 69.1h1.3M226.8 68.7h1.3M252.1 51.7h1.3M240.6 45.8h1.3M250.1 47.5h1.3M256.1 53h1.3M242.4 73.1h1.3M232.4 53.9h1.3M239.9 71.7h1.3M223.8 61.2h1.3M240.3 54.1h1.3M228.2 56.1h1.3M242.5 44.5h1.3M247.6 57.4h1.3M234.4 51.8h1.3M244.6 47.6h1.3M244.2 56.2h1.3M223.4 49.2h1.3M223.4 43.5h1.3M229.7 46.3h1.3M242.1 49.6h1.3M234.7 66.5h1.3M221.8 48.8h1.3M227 49.6h1.3M225.2 52.5h1.3M224.8 58.6h1.3M228.3 57.5h1.3M239.3 48.7h1.3M234.9 64.6h1.3M221.5 47.5h1.3M241.3 43.4h1.3M225.3 50.5h1.3M242 51.3h1.3M240.4 43.9h1.3M244.7 56.3h1.3M227.2 43.4h1.3M225.7 68.3h1.3M233.2 47.4h1.3M223.4 53h1.3M232.7 69.1h1.3M256.4 54.4h1.3M230.3 47.8h1.3M242.5 51.7h1.3M247.4 60.5h1.3M242.8 63.9h1.3M236 63.6h1.3M223.7 56.4h1.3M237.8 56.3h1.3M248.8 62.2h1.3M223.3 58.1h1.3M232.8 73h1.3M233.3 69.4h1.3M252 48.5h1.3M244.3 58.2h1.3M241 46.5h1.3M233 58.4h1.3M240.6 49.8h1.3M225.7 71.1h1.3M246.3 70h1.3M239.3 42.1h1.3M254 52.3h1.3M244.4 45.5h1.3M235.4 64.2h1.3M237.7 44h1.3M234.5 55.7h1.3M255.3 65.3h1.3M222.7 57.4h1.3M254.3 54.8h1.3M241.6 50.6h1.3M256.4 51.8h1.3M227.6 67.4h1.3M242.8 69.9h1.3M244.2 52.3h1.3M250.8 59.3h1.3M240.4 51.8h1.3M198.9 67.2h1.3M224.3 73.1h1.3M203.3 72.5h1.3M215.9 52.4h1.3M222.6 66.8h1.3M199.6 76h1.3M210 58.1h1.3M220.8 44.8h1.3M203.6 73.8h1.3M199.7 45.2h1.3M217.4 51.1h1.3M200.9 63.1h1.3M207.8 67.5h1.3M197.6 81.6h1.3M195.7 75.3h1.3M213.3 55.3h1.3M202.8 89.3h1.3M216.5 57.5h1.3M198.5 81.6h1.3M199 52.8h1.3M215.5 72h1.3M215.7 48.6h1.3M205.1 92.2h1.3M215.6 61.6h1.3M204.7 48.6h1.3M202.3 74.2h1.3M203 78.5h1.3M204.9 44.2h1.3M196.6 45.4h1.3M214.9 84.7h1.3M211.4 81.9h1.3M211.4 51.7h1.3M202.1 62.1h1.3M211.7 84.2h1.3M219.6 63.4h1.3M219.2 59h1.3M212.3 77.6h1.3M215.7 79.5h1.3M215.8 56.4h1.3M220.1 80.3h1.3M219.6 57.6h1.3M206.8 60.6h1.3M219.7 69.7h1.3M213.8 86.5h1.3M206.1 69.6h1.3" stroke="#5e5e5e" stroke-width="1.3"/>
<path d="M232.9 57.4h1.2M233.1 46.7h1.2M229 59.8h1.2M235.7 59.4h1.2M224.4 52.5h1.2M219.2 55.1h1.2M225.5 60.9h1.2M230.7 64.1h1.2M250.2 58.6h1.2M236.6 49h1.2M229.1 41.4h1.2M227.9 71.7h1.2M238.3 65.1h1.2M231.4 55h1.2M234.4 53.9h1.2M237.2 60.9h1.2M222.5 43.5h1.2M231.4 55.5h1.2M221.7 61.3h1.2M243.9 60.2h1.2M222 58h1.2M225.6 63.1h1.2M235.8 59.1h1.2M240.1 60.7h1.2M253.7 47.9h1.2M234.3 62.2h1.2M239.3 39.9h1.2M241.7 53.7h1.2M225.1 67.9h1.2M231.9 61.7h1.2M237.8 60.6h1.2M241.7 59h1.2M243.4 56.9h1.2M226.1 66h1.2M233.7 61.7h1.2M221.7 40.5h1.2M234.2 58.5h1.2M245.3 48.7h1.2M226.4 58.5h1.2M242.8 58.6h1.2M237.4 62.2h1.2M250.3 66.2h1.2M231 46.6h1.2M219.5 54.9h1.2M225.9 57.6h1.2M231.9 42.1h1.2M241 60.8h1.2M226.4 48.4h1.2M244.7 58.5h1.2M231.2 50.5h1.2M227.8 66.8h1.2M227.4 56.7h1.2M230 55.7h1.2M223.5 64.8h1.2M233.9 61.9h1.2M225.3 55.6h1.2M249 56.5h1.2M229.7 47.8h1.2M227.9 60.3h1.2M229.5 52.7h1.2M242 67.2h1.2M232.4 74.2h1.2M230.2 54.2h1.2M220.5 50.5h1.2M227.2 72.4h1.2M224.2 56.3h1.2M234.4 59.9h1.2M215.2 55.5h1.2M223.6 56h1.2M217.6 54h1.2M230.9 49.3h1.2M234.3 59.2h1.2M239.5 49.2h1.2M222.6 56.8h1.2M233.5 53h1.2M219.9 56.7h1.2M241.8 50.8h1.2M237.4 48.7h1.2M238.4 47.9h1.2M241.4 56.3h1.2M241.9 54.1h1.2M222.1 50.5h1.2M225.1 58.4h1.2M227.9 60.3h1.2M232.1 53.6h1.2M228.8 55h1.2M236.9 65.2h1.2M229.2 57h1.2M241.3 65.7h1.2M226.1 49.1h1.2M228.5 64.7h1.2M229.5 62.9h1.2M231.8 60.6h1.2M236.6 56h1.2M227.9 57.3h1.2M252 50.4h1.2M239.3 55.3h1.2M222.4 56.1h1.2M240.1 48.8h1.2M224.2 61.6h1.2M222.1 64.4h1.2M242.1 52.4h1.2M234.4 64.4h1.2M240.4 43.9h1.2M221.4 57.4h1.2M242.1 66.9h1.2M236.3 56.1h1.2M226.2 61.4h1.2M233.3 69.5h1.2M248.5 62h1.2M226.8 56.4h1.2M242 58.7h1.2M237.5 53.1h1.2M214.8 61.6h1.2M247.9 54.3h1.2M235 45.1h1.2M244.8 72.4h1.2M244.4 50.3h1.2M234.3 58h1.2M236.1 53.2h1.2M237 58h1.2M224 50.5h1.2M246.6 58.6h1.2M236.9 70.2h1.2M228.1 64.9h1.2M242.4 52.4h1.2M232 59.1h1.2M220.9 46.1h1.2M228.4 65.4h1.2M231.4 67.2h1.2M219.7 54.9h1.2M236.1 64.2h1.2M239.5 63.9h1.2M239 58.1h1.2M245.8 62.3h1.2M228.2 62.7h1.2M238.3 58.3h1.2M238.1 55.3h1.2M230.2 46.7h1.2M230.1 66h1.2M212.8 54.5h1.2M238.3 61.2h1.2M220.8 56.8h1.2M235.3 64h1.2M234.1 52.8h1.2M237.9 57.8h1.2M224.4 57.2h1.2M235.6 56.5h1.2M229.8 56.9h1.2M234 61.6h1.2M224.5 53.8h1.2M238.3 54.2h1.2M226 48.9h1.2M221.9 50.8h1.2M232.8 61.1h1.2M234.5 58h1.2M238.2 56.5h1.2M223 57.6h1.2M234.5 70.4h1.2M233.4 70.6h1.2M232.1 48.4h1.2M231.1 55.4h1.2M232.5 54.9h1.2M251.9 59h1.2M232 56.8h1.2M233 63.9h1.2M233.3 63h1.2M225.6 58.5h1.2M232.5 58.2h1.2M223.8 53h1.2M220.9 59.8h1.2M243.3 56.8h1.2M222.1 54.8h1.2M241.9 46.7h1.2M230.6 57.7h1.2M229.5 58.7h1.2M236.7 59.4h1.2M240.4 63.7h1.2M220.7 50.3h1.2M231.5 57.6h1.2M234.8 49.8h1.2M223.2 68.2h1.2M234.4 59.3h1.2M247.1 45h1.2M235.1 55.6h1.2M232.3 65.9h1.2M232.4 47.9h1.2M224 48.7h1.2M242.3 53.2h1.2M224.1 55.8h1.2M222.3 59.8h1.2M234.1 58.4h1.2M242.3 54.6h1.2M240.5 46.4h1.2M240.7 68.6h1.2M226.6 62.1h1.2M225.2 57.8h1.2M237.4 53.7h1.2M224.5 56.4h1.2M232.7 59.5h1.2M233.8 46.1h1.2M241.9 60.1h1.2M221.4 56.1h1.2M241.6 70.4h1.2M232.1 53.6h1.2M243.2 56.7h1.2M233 47h1.2M224.9 59.6h1.2M248.1 59.5h1.2M231.9 54.7h1.2M224 49.5h1.2M239.3 68.8h1.2M230.7 51.6h1.2M220.7 54.2h1.2M241.5 46.6h1.2M230.9 64.8h1.2M245.9 52.6h1.2M235.3 60.2h1.2M234.6 56.6h1.2M234.8 58.3h1.2M231.8 55.8h1.2M230.4 71.7h1.2M233.3 64h1.2M226.1 66.4h1.2M241.7 58h1.2M252.9 62.3h1.2M248.2 51.5h1.2M215.4 61.9h1.2M233.7 53h1.2M225 60.6h1.2M240.1 64.2h1.2M233 54.4h1.2M222.3 50.9h1.2M244.2 48.7h1.2M232.4 54h1.2M227.7 48.9h1.2M230 60.1h1.2M231 59.1h1.2M227.8 50.5h1.2M239.7 56.3h1.2M231.2 60.4h1.2M241.1 53.5h1.2M233.8 55.6h1.2M244.1 48.6h1.2M227.4 56.6h1.2M213.7 47.4h1.2M237.1 64.1h1.2M246.4 55.1h1.2M237.5 57.4h1.2M227.1 58.6h1.2M232.8 65.2h1.2M231.2 48.1h1.2M235.3 53.2h1.2M234.2 59.6h1.2M219 46.3h1.2M236 62.3h1.2M228.4 56.7h1.2M237.1 53.3h1.2M232.5 53.8h1.2M241.4 56.9h1.2M221 56.2h1.2M222.1 52.5h1.2M221.7 61h1.2M216.8 56.3h1.2M225.5 56h1.2M222.6 44.1h1.2M222.9 46.2h1.2M219.7 72.3h1.2M221.1 52h1.2M224.7 57.3h1.2M220.4 51.1h1.2M218.6 47.8h1.2M221.5 56.6h1.2M221.4 55.4h1.2M222.6 53h1.2M217.5 59.8h1.2M219.1 45h1.2M222.3 57.4h1.2M220 49h1.2M225.8 72.6h1.2M217.1 67.7h1.2M225.3 65.5h1.2M221.2 62.4h1.2M219.8 54.9h1.2M223.5 70h1.2M219 48.9h1.2M221.3 64.3h1.2M218.1 46.5h1.2M216 52.7h1.2M223.4 63.7h1.2M217.2 64.1h1.2M222.7 52.8h1.2M221.7 58.5h1.2M219 60.8h1.2M222.3 63.3h1.2M217 58.5h1.2M225.1 48h1.2M223.7 73.2h1.2M216.2 50.8h1.2M224.5 60.2h1.2M221.8 68.5h1.2M219.1 60.6h1.2M226.4 73.1h1.2M219.9 58.2h1.2M216.7 60h1.2M223.8 47.7h1.2M223.8 62.9h1.2M223 56.5h1.2M217.1 67.8h1.2M224.7 64.8h1.2M223.7 48.1h1.2M226.1 64.6h1.2M223 45.2h1.2M219.2 59h1.2M217.4 68.2h1.2M222.8 61.5h1.2M218.9 60.6h1.2M217.5 65.5h1.2M223.8 55.8h1.2M218.7 53.7h1.2M221.4 57.4h1.2M216.1 49.5h1.2M224.8 72.5h1.2M217.5 57.5h1.2M220.7 55.5h1.2M222.2 44h1.2M227.2 73.9h1.2M222.4 63.9h1.2M221.2 50.5h1.2M225.7 49.1h1.2M224.5 45.8h1.2M224.9 53.4h1.2M223.7 48.3h1.2M225.9 57.3h1.2M222 60h1.2M221.8 46.8h1.2M222.9 58.3h1.2M225.2 50.9h1.2M222.1 54.8h1.2M218.3 48.1h1.2M220.7 48.1h1.2M218 67.6h1.2M224.5 71.1h1.2M224.9 56.9h1.2M216.1 46.1h1.2M223.6 72.8h1.2M225.5 54.7h1.2M225.6 67.3h1.2M223 69.6h1.2M218.1 63.6h1.2M224.7 59.5h1.2M225.1 64.7h1.2M218.4 63.8h1.2M224.3 63.2h1.2M218.5 45.7h1.2M220.9 66.2h1.2M224.4 71.6h1.2M225.2 58.6h1.2M219.2 59.9h1.2M217.7 70.7h1.2M226.8 65.8h1.2M222.7 64.2h1.2M222 70.3h1.2M218.6 67.5h1.2M223.8 56.3h1.2M215.7 46.3h1.2M226 65.1h1.2M225.6 60.3h1.2M219.3 56.7h1.2M220.1 51.3h1.2M219.3 56.5h1.2M217.3 48.2h1.2M226.2 70h1.2M221.5 56.9h1.2M224.9 58.9h1.2M219.1 61.8h1.2M223.9 62.8h1.2M220.1 49.6h1.2M219.7 47.6h1.2M217.8 71.8h1.2M219.1 66.4h1.2M221.5 64.7h1.2M213.9 70.6h1.2M222 72.1h1.2M207.5 70.8h1.2M210.4 70.2h1.2M219.1 66.7h1.2M207.5 65.5h1.2M220 65.5h1.2M204.6 65h1.2M215.9 71.6h1.2M213.3 66.7h1.2M208.1 66.4h1.2M213.8 64.4h1.2M220.7 71.7h1.2M221.1 69.6h1.2M203.2 69.6h1.2M209 71.9h1.2M214.4 71.9h1.2M207.2 66.5h1.2M207.3 67.6h1.2M213.6 68.6h1.2M222.7 70.5h1.2M215.6 66.9h1.2M218 64.3h1.2M208.1 67.4h1.2M210.5 67.7h1.2M222 68.5h1.2M210 64.8h1.2M222 69.1h1.2M209.3 69.6h1.2M221.1 72.4h1.2M219.8 64.7h1.2M212.6 69.1h1.2M217.8 65.7h1.2M211.2 70.9h1.2M223.2 71.5h1.2M215.1 72.8h1.2M217.3 64.8h1.2M213.2 64.5h1.2M206.2 71.6h1.2M217 71.4h1.2M222.6 70.6h1.2M217.8 70.1h1.2M211.2 67.5h1.2M208.8 65.7h1.2M214.3 66.5h1.2M222.8 71h1.2M218.8 67.4h1.2M213.7 69.8h1.2M217.8 69.1h1.2M211 65.9h1.2M207.3 71.6h1.2M216.2 70.2h1.2M220.9 65.5h1.2M220.4 67.6h1.2M209.9 66.6h1.2M222.4 71.3h1.2M212.3 70.5h1.2M204.6 66.9h1.2M213.5 71.8h1.2M220.5 72.5h1.2M216.6 70.2h1.2M204.8 70.6h1.2M220.1 67.9h1.2M204.9 66h1.2M221.2 72.7h1.2M208.4 65.7h1.2M217.6 68.1h1.2M205.5 70.3h1.2M214.9 64.8h1.2M215.3 64.8h1.2M214 69.8h1.2M218.5 67.9h1.2M215.9 70.7h1.2M213.7 66.4h1.2M212.4 71.2h1.2M212.3 68.3h1.2M209 66.8h1.2M210.1 67.5h1.2M217 69.9h1.2M216.1 70.6h1.2M219 69.9h1.2M217.9 71.8h1.2M203.9 70.8h1.2M220.1 66.6h1.2M221.9 66.4h1.2M212.9 68.9h1.2M214.6 66h1.2M221.5 66.7h1.2M206 62.8h1.2M202.9 65.2h1.2M219.5 52.2h1.2M210.7 61.6h1.2M197.8 56.5h1.2M198.5 55.1h1.2M217 57.5h1.2M212.4 58.1h1.2M206.7 57h1.2M209 49.2h1.2M203.7 71.5h1.2M214.3 69.4h1.2M202 53.9h1.2M208 49.9h1.2M209.7 68h1.2M220.9 57.5h1.2M226.2 51.1h1.2M213.2 50.9h1.2M212 67h1.2M214.8 48.7h1.2M206.1 65.7h1.2M224.2 51.9h1.2M199.4 58.3h1.2M209.7 53.7h1.2M214.8 65.3h1.2M218.5 57.7h1.2M205.6 62.2h1.2M219.4 52h1.2M222.1 52.8h1.2M210.5 53.1h1.2M201.3 57.8h1.2M204.5 59.6h1.2M221.4 65.8h1.2M208.6 54.9h1.2M215.9 59h1.2M208.8 60.8h1.2M212.7 45.5h1.2M212.6 62.9h1.2M215.3 57.2h1.2M219.9 64.7h1.2M207.9 59h1.2M211.8 50.5h1.2M220.8 48.1h1.2M202.2 50.4h1.2M225.4 52.1h1.2M219.6 57.2h1.2M218.3 46.6h1.2M208.7 67.6h1.2M201.8 65.5h1.2M195 65.9h1.2M206.1 53.1h1.2M203.7 51.1h1.2M217 63.1h1.2M206.2 59.6h1.2M202 62.6h1.2M199.6 68h1.2M197.7 53.6h1.2M223.6 57.2h1.2M210.4 56.1h1.2M204.6 72.2h1.2M218.3 68.5h1.2M222.7 48.6h1.2M217.1 47.7h1.2M203.5 64.8h1.2M209.3 63.4h1.2M205.1 54h1.2M208.1 57.9h1.2M224.3 39.3h1.2M216.4 64.9h1.2M199.4 65.7h1.2M221.7 59.8h1.2M204.2 66.7h1.2M208.5 57.3h1.2M201.2 66.7h1.2M217.6 56.4h1.2M206.3 60.7h1.2M207.8 53.2h1.2M204.7 66h1.2M222.3 56.9h1.2M213.6 53.3h1.2M205.1 50.1h1.2M198.7 52.2h1.2M199.8 54.1h1.2M224.3 61.5h1.2M204.8 55h1.2M208.2 53h1.2M207.4 47.6h1.2M224.5 54.7h1.2M204.6 53.9h1.2M207.2 50.8h1.2M210.9 54.9h1.2M220.9 51.1h1.2M204.1 64.7h1.2M213.3 66.1h1.2M216 49.6h1.2M206.8 52.1h1.2M205.2 65.5h1.2M209.3 51.1h1.2M221.5 48.2h1.2M212.3 39.9h1.2M210.5 61.3h1.2M215.6 54h1.2M204.7 61.1h1.2M205.8 68.4h1.2M206.2 63.7h1.2M223.1 56.9h1.2M217.7 50.1h1.2M197.9 70.7h1.2M209.2 67.6h1.2M200.1 68h1.2M195.9 71.1h1.2M207 59.5h1.2M211.8 53.7h1.2M216.6 52.2h1.2M201 57.7h1.2M220.1 52.2h1.2M201.3 54.4h1.2M204.1 60h1.2M213.8 54.9h1.2M218.3 55.3h1.2M201.9 58.2h1.2M204.4 56.6h1.2M218.7 58.3h1.2M208.9 50.9h1.2M225.3 56.2h1.2M220.7 53.3h1.2M208.8 64.9h1.2M211.4 51.9h1.2M205.9 43.6h1.2M207.2 37.6h1.2M209.1 54.9h1.2M211.1 59.7h1.2M213.9 62.8h1.2M205.9 73h1.2M216.4 45.6h1.2M198.4 68.8h1.2M212.4 55.8h1.2M211.8 48h1.2M210.2 46.5h1.2M204.1 61.9h1.2M199.1 48.4h1.2M205.9 61.1h1.2M208.8 63.2h1.2M209.3 51.1h1.2M203.8 62h1.2M225.6 48.1h1.2M199.8 56.9h1.2M214.7 72.3h1.2M206 64.1h1.2M220.3 49.5h1.2M200.6 58h1.2M218 55.1h1.2M209.5 58.7h1.2M217.9 50.2h1.2M221 53.1h1.2M220 61.8h1.2M212 62.9h1.2M210.8 68.2h1.2M196.1 63.3h1.2M214.8 70.1h1.2M220.8 61.9h1.2M208.1 47.1h1.2M212.5 58.3h1.2M211.9 64h1.2M213.7 51.8h1.2M203.6 56.3h1.2M230.8 46.7h1.2M212.9 58.5h1.2M212.4 56.6h1.2M209.3 57.4h1.2M207 54.7h1.2M215.6 67.6h1.2M222.5 55.1h1.2M219.3 44.2h1.2M212.3 60.2h1.2M210 54.4h1.2M209.9 66.9h1.2M208.1 48.7h1.2M205.9 62.7h1.2M200.9 54.2h1.2M208.2 50.5h1.2M206.4 52.7h1.2M219.6 56.4h1.2M214.1 54.2h1.2M215.3 51h1.2M219.6 38.3h1.2M213 70.5h1.2M215.5 43.5h1.2M213.6 62.9h1.2M200.3 56h1.2M212.9 48.8h1.2M208.6 56.1h1.2M210.2 51.1h1.2M209.4 56.6h1.2M208.2 65.5h1.2M204.4 65.2h1.2M220.1 44.1h1.2M210.2 59.5h1.2M221.1 60.4h1.2M203.5 54.3h1.2M207.1 54.7h1.2M205.2 64.7h1.2M211.8 64.3h1.2M219.5 54.5h1.2M201.8 58.1h1.2M204.2 47h1.2M202.8 58.2h1.2M210.2 63.5h1.2M211.4 54.3h1.2M217.2 55.9h1.2M219.5 58.4h1.2M216.8 46.3h1.2M202.6 63h1.2M209.2 65.6h1.2M205.3 55.1h1.2M214.2 58.3h1.2M218.2 49.7h1.2M206.4 56.5h1.2M202.7 61.5h1.2M214.1 56.3h1.2M201.8 46.8h1.2M214.3 64.2h1.2M206.6 66.1h1.2M212.4 64.6h1.2M215.6 56.6h1.2M218.4 57.1h1.2M201.2 59.9h1.2M213.5 65.5h1.2M203.5 74.1h1.2M210.6 60.7h1.2M207.8 63.4h1.2M207.9 46.7h1.2M214.7 48.7h1.2M204.6 50.7h1.2M213.3 55.5h1.2M214.1 39.3h1.2M210.1 59.6h1.2M221.1 60.8h1.2M209.9 68.5h1.2M205.5 55.5h1.2M214.8 54.7h1.2M213.4 60.2h1.2M202.5 67h1.2M205.9 61.7h1.2M210.8 55.4h1.2M207.7 51.1h1.2M210 56.7h1.2M225.7 43.1h1.2M204.9 65.1h1.2M223.7 46.8h1.2M211.3 73h1.2M217.1 54.4h1.2M209.9 41.8h1.2M210.7 54.4h1.2M203.5 47.8h1.2M211.3 45.5h1.2M217.9 57.8h1.2M212 56.8h1.2M200.7 62.5h1.2M210.7 54.2h1.2M209.4 49.2h1.2M206.5 54.2h1.2M202.5 67.9h1.2M210.7 58.8h1.2M214.2 65.6h1.2M232 44.2h1.2M203.1 64.5h1.2M222.2 51.2h1.2M203.5 61.4h1.2M208.3 54.6h1.2M220.7 63.4h1.2M226.1 58.3h1.2M205 38.3h1.2M207.4 48.8h1.2M220.7 60.7h1.2M202.1 45.1h1.2M208.7 55.7h1.2M209.2 46.2h1.2M208.2 58.4h1.2M212.4 57.9h1.2M217 50.8h1.2M219.8 48.2h1.2M226.7 45.7h1.2M206.5 52.2h1.2M206.4 57.5h1.2M216.1 47.6h1.2M212.1 59h1.2M213.4 60.3h1.2M203.9 58h1.2M213.4 62.5h1.2M195.6 55.6h1.2M208.4 54.5h1.2M211.4 53.8h1.2M220.2 48.4h1.2M206.6 59.2h1.2M216.2 44.4h1.2M219.6 61.3h1.2M218.7 56h1.2M205.7 64.5h1.2M221.3 50.7h1.2M206.1 73.1h1.2M215.7 52.3h1.2M210 48.8h1.2M224.7 52.5h1.2M219 55.6h1.2M203.2 64.2h1.2M213.7 59.8h1.2M204.1 65.6h1.2M212.9 45.9h1.2M221.7 48.6h1.2M203.7 57.1h1.2M216.8 45h1.2M205.9 61.4h1.2M221.9 54.8h1.2M199.6 51.7h1.2M218.6 48.1h1.2M209.1 59.4h1.2M208.7 73.5h1.2M222.2 61.9h1.2M198.9 62.6h1.2M208.1 71.8h1.2M207.9 61.9h1.2M200.9 57.7h1.2M208 62.5h1.2M205.8 58.4h1.2M208.3 54.4h1.2M204.9 53.1h1.2M196.2 61.8h1.2M207.8 66.8h1.2M196.2 62.1h1.2M222.1 39.1h1.2M212.1 46.4h1.2M207.1 58.6h1.2M210 61.9h1.2M215.9 60.6h1.2M210.1 59.9h1.2M210.9 67h1.2M197.1 60h1.2M203.4 59.3h1.2M193.4 61h1.2M206.5 79.5h1.2M205.2 92.5h1.2M201.1 84.5h1.2M223.7 84.7h1.2M214.6 68.3h1.2M209.4 62.8h1.2M214 77.8h1.2M209.7 84.4h1.2M198.9 86.5h1.2M195.6 88.4h1.2M200 87.6h1.2M201 74.9h1.2M210.3 79.4h1.2M204.8 83.9h1.2M204.6 70.4h1.2M208.1 80.2h1.2M213.7 80.8h1.2M218.1 67.5h1.2M206.6 71h1.2M198 87.8h1.2M203 80.4h1.2M216.4 86.1h1.2M205.9 87.2h1.2M224.2 78.4h1.2M212 74.8h1.2M211.5 78.7h1.2M199.7 83.1h1.2M202.1 74.3h1.2M198.9 85.3h1.2M208.9 72.4h1.2M202.1 81.6h1.2M213.8 84h1.2M226.6 70h1.2M204.9 76h1.2M203.1 64.4h1.2M217.3 70.7h1.2M208.3 90.1h1.2M214.6 79.7h1.2M198.9 77.6h1.2M216.3 75.8h1.2M206.6 86.8h1.2M217.4 71.4h1.2M197.2 92.4h1.2M219.6 78.2h1.2M207.5 86.5h1.2M208.5 87.6h1.2M213.8 83.1h1.2M209.1 80.5h1.2M211.8 83.1h1.2M203.1 68.7h1.2M212.2 87.5h1.2M207.6 88.7h1.2M214.4 80.8h1.2M209.6 76.6h1.2M209.4 68.5h1.2M210.5 71.7h1.2M213 86.4h1.2M207.7 84h1.2M205.7 77h1.2M198.7 73.4h1.2M204.4 85.1h1.2M211.2 76h1.2M201.5 89.8h1.2M217.7 70.7h1.2M211.2 78.7h1.2M204.4 79.3h1.2M209.7 82.1h1.2M209.1 91.5h1.2M217.5 85.8h1.2M213.9 84.2h1.2M205.5 92h1.2M206.9 81.6h1.2M215.4 83.8h1.2M210.1 70.9h1.2M201.8 79.2h1.2M205.9 81.5h1.2M205.1 87.2h1.2M206.4 85.5h1.2M218.9 76.1h1.2M217.7 83.8h1.2M210.4 81.4h1.2M201.1 75.4h1.2M203.1 76.7h1.2M218.5 72h1.2M210.2 90.2h1.2M205.2 78h1.2M218.1 76.8h1.2M218.9 81.9h1.2M197.2 87.4h1.2M208.3 84.1h1.2M201.8 86h1.2M223.8 86.4h1.2M205.5 71.9h1.2M216.5 75.9h1.2M208 77.2h1.2M199.6 84.8h1.2M223.3 72.2h1.2M204 88.4h1.2M200.1 87.5h1.2M219.6 86.8h1.2M207.2 70.6h1.2M211.2 92.2h1.2M223.5 70.8h1.2M213.5 81.8h1.2M203 83.9h1.2M203.6 87.1h1.2M207.8 85.1h1.2M212.8 89h1.2M216.3 84.4h1.2M217.7 88.5h1.2M216.2 90.7h1.2M207.8 90.3h1.2M209.8 78.7h1.2M210.3 79.2h1.2M212.9 80.4h1.2M202.7 90.6h1.2M207.7 73.3h1.2M214.5 80.3h1.2M214.3 75.1h1.2M202 85.6h1.2M211.8 89h1.2M217.4 75.4h1.2M212.2 89.2h1.2M208.3 84.5h1.2M209 92h1.2M218.7 82.5h1.2M218.3 92.4h1.2M215.2 81.4h1.2M207.2 86.9h1.2M209.7 87.6h1.2M206.1 77.4h1.2M205.6 69.5h1.2M210.6 86.2h1.2M193.6 91.1h1.2M223 73.7h1.2M203.9 88.8h1.2M225.1 90.1h1.2M213.5 83.3h1.2M208.2 77.9h1.2M208.4 81.6h1.2M208 83.3h1.2M201.3 83h1.2M213.6 82.8h1.2M228.4 78.6h1.2M207.9 83.4h1.2M213.9 81.3h1.2M204.7 83.1h1.2M223.6 62h1.2M198.3 90.4h1.2M212 78.2h1.2M201 85.7h1.2M214.4 61.3h1.2M215.7 74.5h1.2M217.2 73.4h1.2M212.9 74.5h1.2M213.4 87.9h1.2M196 82.5h1.2M213.5 78.5h1.2M209 86.6h1.2M204.6 78.1h1.2M212.2 86.5h1.2M202.9 78.9h1.2M216.4 73.4h1.2M220 85.6h1.2M209.2 81.1h1.2M219.6 68.8h1.2M205.7 85.2h1.2M219.1 82h1.2M203.1 83.3h1.2M213.8 81.3h1.2M206.2 81.5h1.2M200.9 76.9h1.2M214.2 75.6h1.2M207.8 92.2h1.2M218.5 76.2h1.2M220.1 62.6h1.2M206.6 89.5h1.2M216.4 83.2h1.2M204 78.6h1.2M211.4 92.1h1.2M209.2 81.3h1.2M210.3 72h1.2M205.1 71.5h1.2M207.1 79.4h1.2M217.8 79h1.2M209.9 81.7h1.2M198.5 91h1.2M224.1 86.7h1.2M226.6 76.1h1.2M204.7 78.9h1.2M202.2 88.6h1.2M199.1 78.2h1.2M215.4 77.5h1.2M201.4 84.5h1.2M221.1 75.3h1.2M205.5 73.4h1.2M221.2 83.2h1.2M197.3 79.1h1.2M202.9 88.8h1.2M203.9 92.5h1.2M210.7 85.4h1.2M207.6 85.1h1.2M220.9 83.4h1.2M219.9 69.9h1.2M195.5 80.3h1.2M200.9 80.6h1.2M213.1 81.8h1.2M207.7 68.3h1.2M225.2 85.9h1.2M197.4 82.2h1.2M205.3 77.7h1.2M208.6 87.5h1.2M218.4 80.8h1.2M210.7 84.3h1.2M216.4 74.9h1.2M218.1 66.6h1.2M197.6 82.7h1.2M219.2 71h1.2M204.6 84h1.2M218.3 72.6h1.2M217.2 76h1.2M217.5 73h1.2M224.2 67.2h1.2M207.9 80.1h1.2M222.4 65.2h1.2M205.7 70.3h1.2M199.4 75.6h1.2M211.1 83.5h1.2M204.1 91.3h1.2M211.1 72h1.2M210.8 82.1h1.2M225.7 81.6h1.2M216.7 71.8h1.2M212.3 72.6h1.2M208.8 71.4h1.2M208.1 89h1.2M213.8 78h1.2M219.3 74.3h1.2M209.2 81.5h1.2M208.8 83.7h1.2M203.3 84.3h1.2M205.3 83.5h1.2M211.9 70.2h1.2M199.6 74.9h1.2M208.6 84h1.2M200.4 87.4h1.2M203.1 76.7h1.2M205.6 85.6h1.2M212.5 81.7h1.2M211.6 92.5h1.2M216.4 76.3h1.2M206.4 82.9h1.2M229.5 72.8h1.2M207.1 79.1h1.2M214.2 73.8h1.2M222.2 84.3h1.2M209 87.1h1.2M216.3 86.3h1.2M208.1 82.8h1.2M215.4 78.7h1.2M201.9 75.4h1.2M219 76.6h1.2M207.5 78h1.2M202.6 90h1.2M204.6 84h1.2M201.1 80.3h1.2M212 76.4h1.2M212.6 82.6h1.2M202.3 81.8h1.2M200.2 89.9h1.2M219.2 80.7h1.2M220.2 77.1h1.2M209 77.2h1.2M205.7 83.6h1.2M203.4 78.9h1.2M215.3 82.2h1.2M198.1 78.5h1.2M214.9 89.3h1.2M209 92.2h1.2M205.8 85.9h1.2M210.5 81.4h1.2M211.4 75.6h1.2M195.8 81.4h1.2M217.5 85.8h1.2M200.9 85.5h1.2M208.2 78.8h1.2M206.2 81.2h1.2M209.4 83.3h1.2M208.1 83.4h1.2M211.7 70.7h1.2M208.9 78.6h1.2M208.5 85.9h1.2M208.3 91.5h1.2M203.9 64.1h1.2M205.1 67.1h1.2M218.1 87.7h1.2M218 75.1h1.2M210.6 75.6h1.2M211 90.8h1.2M211.4 91.6h1.2M212.4 80.2h1.2M213.7 78.3h1.2M205 85.6h1.2M196.4 76h1.2M211 75h1.2M218.2 81.4h1.2M207.4 78.1h1.2M209.4 84.5h1.2M207.5 76.2h1.2M216.1 75.8h1.2M219.2 74.8h1.2M204.8 85.4h1.2M206 65.5h1.2M199.2 88.5h1.2M208.3 86.9h1.2M218.2 73.1h1.2M205.7 89.8h1.2M222.1 82.8h1.2" stroke="#262626" stroke-width="1.2"/>
<ellipse cx="211" cy="57" rx="13.1" ry="9.2" fill="#262626" transform="rotate(-50 211 57)" filter="url(#b0_8)" opacity="0.9"/>
<ellipse cx="211" cy="57" rx="8.6" ry="6.1" fill="#9a9a9a" transform="rotate(-50 211 57)" filter="url(#b1_2)" opacity="0.85"/>
<path d="M207.9 60.6h1.1M213.1 50.4h1.1M208 60.3h1.1M215.8 56.9h1.1M210.8 53.3h1.1M207.4 50h1.1M215 59.3h1.1M218.2 58.7h1.1M209.4 58.8h1.1M211.9 59.1h1.1M213.5 53.1h1.1M213.1 55.7h1.1M207.8 53.8h1.1M213 58h1.1M205.1 55.8h1.1M217 56.9h1.1M212.2 59.8h1.1M209.6 64h1.1M212.4 60.3h1.1M207.9 61.5h1.1M204.2 55.6h1.1M207.2 63.4h1.1M210.6 60.4h1.1M213.4 57.2h1.1M207.9 57h1.1M210.7 58.7h1.1M209.4 60.8h1.1M210.5 57h1.1M216.4 54.4h1.1M202.8 60.8h1.1M220 53h1.1M208.9 54.5h1.1M208.8 60.5h1.1M212.7 52h1.1M213.5 55.9h1.1M210.7 61.2h1.1M204.7 63h1.1M212.8 62.1h1.1M206.1 56h1.1M204.2 55.6h1.1M208.6 53h1.1M212 56h1.1M211.4 56.5h1.1M213.7 57.3h1.1M208.5 61.7h1.1M205.6 61.3h1.1M210.1 63.4h1.1M210.4 54.9h1.1M207.2 56h1.1M210.2 53.2h1.1M215 57.6h1.1M209 67.2h1.1M216 56.7h1.1M204.1 56.8h1.1M208.7 57.6h1.1M207.9 54.3h1.1M218.6 50.4h1.1M212.1 56.1h1.1M206.8 64.9h1.1M204.8 55.8h1.1M207 59.8h1.1M217.9 55.5h1.1M209.8 61.9h1.1M212.3 58.4h1.1" stroke="#3a3a3a" stroke-width="1.1" stroke-opacity="0.45"/>
<ellipse cx="210" cy="81.5" rx="13.1" ry="9.7" fill="#262626" transform="rotate(-54 210 81.5)" filter="url(#b0_8)" opacity="0.9"/>
<ellipse cx="210" cy="81.5" rx="8.6" ry="6.4" fill="#9a9a9a" transform="rotate(-54 210 81.5)" filter="url(#b1_2)" opacity="0.85"/>
<path d="M207 84.8h1.1M208.8 88.3h1.1M206.3 84.4h1.1M212.4 83.4h1.1M205.9 83.5h1.1M208.9 86.2h1.1M205.9 87.2h1.1M211.3 84h1.1M210.4 82.3h1.1M207.5 79.1h1.1M217.1 78.1h1.1M210.8 82.5h1.1M201.4 83.6h1.1M208.6 83.4h1.1M206.9 80h1.1M205.2 77.6h1.1M211.9 78.2h1.1M206.8 76h1.1M214.3 85.6h1.1M210.9 85.7h1.1M207.5 84h1.1M207.5 83.9h1.1M215.3 90.9h1.1M209 87.8h1.1M211.1 85.1h1.1M208.1 82.5h1.1M205.4 81.8h1.1M208.2 81h1.1M210.9 82.7h1.1M212.6 87.6h1.1M208.2 79.4h1.1M210.5 83.9h1.1M209.4 80.6h1.1M200.6 81.5h1.1M211.4 87.3h1.1M210.2 84.6h1.1M210.1 83.6h1.1M209.2 82.1h1.1M208.6 75h1.1M209.9 78h1.1M208.6 82.4h1.1M221.7 79h1.1M213.5 84.8h1.1M209 78.6h1.1M207.5 76.4h1.1M209.1 79.1h1.1M201.6 88.7h1.1M210 78.1h1.1M210.1 80.8h1.1M212.4 83h1.1M203.2 78.4h1.1M211.8 85.4h1.1M205.2 89.6h1.1M213.3 83.8h1.1M202.9 82.6h1.1M205.8 77h1.1M214 79.9h1.1M212.7 83.1h1.1M216.2 78h1.1M211.7 85.4h1.1M203.8 80.6h1.1M207.7 82.7h1.1M213.2 87.2h1.1M200.3 85h1.1M207.8 87h1.1M215.8 77.3h1.1M210.6 75.2h1.1" stroke="#3a3a3a" stroke-width="1.1" stroke-opacity="0.45"/>
<rect x="193.5" y="24.5" width="85" height="69" fill="none" stroke="#333" stroke-width="1"/>
<line x1="224.5" y1="24.5" x2="224.5" y2="93.2" stroke="#2a2a2a" stroke-width="1"/>
<line x1="193.3" y1="67.5" x2="278.3" y2="67.5" stroke="#2a2a2a" stroke-width="1"/>
<path d="M193.3 93.2v3.1M193.3 93.2h-3.1M199.7 93.2v1.8M193.3 88h-1.8M203.4 93.2v1.8M193.3 85h-1.8M206.1 93.2v1.8M193.3 82.9h-1.8M208.2 93.2v1.8M193.3 81.2h-1.8M209.8 93.2v1.8M193.3 79.8h-1.8M211.3 93.2v1.8M193.3 78.7h-1.8M212.5 93.2v1.8M193.3 77.7h-1.8M213.6 93.2v1.8M193.3 76.8h-1.8M214.6 93.2v3.1M193.3 76h-3.1M220.9 93.2v1.8M193.3 70.9h-1.8M224.7 93.2v1.8M193.3 67.8h-1.8M227.3 93.2v1.8M193.3 65.7h-1.8M229.4 93.2v1.8M193.3 64h-1.8M231.1 93.2v1.8M193.3 62.7h-1.8M232.5 93.2v1.8M193.3 61.5h-1.8M233.7 93.2v1.8M193.3 60.5h-1.8M234.8 93.2v1.8M193.3 59.6h-1.8M235.8 93.2v3.1M193.3 58.9h-3.1M242.2 93.2v1.8M193.3 53.7h-1.8M245.9 93.2v1.8M193.3 50.7h-1.8M248.6 93.2v1.8M193.3 48.5h-1.8M250.7 93.2v1.8M193.3 46.8h-1.8M252.3 93.2v1.8M193.3 45.5h-1.8M253.8 93.2v1.8M193.3 44.3h-1.8M255 93.2v1.8M193.3 43.3h-1.8M256.1 93.2v1.8M193.3 42.5h-1.8M257.1 93.2v3.1M193.3 41.7h-3.1M263.4 93.2v1.8M193.3 36.5h-1.8M267.2 93.2v1.8M193.3 33.5h-1.8M269.8 93.2v1.8M193.3 31.3h-1.8M271.9 93.2v1.8M193.3 29.7h-1.8M273.6 93.2v1.8M193.3 28.3h-1.8M275 93.2v1.8M193.3 27.2h-1.8M276.2 93.2v1.8M193.3 26.2h-1.8M277.3 93.2v1.8M193.3 25.3h-1.8M278.3 93.2v3.1M193.3 24.5h-3.1" stroke="#333" stroke-width="0.9" fill="none"/>
<text x="194.6" y="103.7" font-size="7.5" font-family='"Liberation Sans", sans-serif' font-weight="bold" textLength="6.6" lengthAdjust="spacingAndGlyphs" text-anchor="end" fill="#000">10</text>
<text x="194.9" y="99.8" font-size="5.8500000000000005" font-family='"Liberation Sans", sans-serif' font-weight="bold" fill="#000">0</text>
<text x="188.3" y="96.9" font-size="7.5" font-family='"Liberation Sans", sans-serif' font-weight="bold" textLength="6.6" lengthAdjust="spacingAndGlyphs" fill="#000" transform="rotate(-90 188.3 96.9)">10</text>
<text x="183.7" y="89.9" font-size="5.8500000000000005" font-family='"Liberation Sans", sans-serif' font-weight="bold" fill="#000" transform="rotate(-90 183.7 89.9)">0</text>
<text x="215.9" y="103.7" font-size="7.5" font-family='"Liberation Sans", sans-serif' font-weight="bold" textLength="6.6" lengthAdjust="spacingAndGlyphs" text-anchor="end" fill="#000">10</text>
<text x="216.2" y="99.8" font-size="5.8500000000000005" font-family='"Liberation Sans", sans-serif' font-weight="bold" fill="#000">1</text>
<text x="188.3" y="81.1" font-size="7.5" font-family='"Liberation Sans", sans-serif' font-weight="bold" textLength="6.6" lengthAdjust="spacingAndGlyphs" fill="#000" transform="rotate(-90 188.3 81.1)">10</text>
<text x="183.7" y="74.1" font-size="5.8500000000000005" font-family='"Liberation Sans", sans-serif' font-weight="bold" fill="#000" transform="rotate(-90 183.7 74.1)">1</text>
<text x="237.1" y="103.7" font-size="7.5" font-family='"Liberation Sans", sans-serif' font-weight="bold" textLength="6.6" lengthAdjust="spacingAndGlyphs" text-anchor="end" fill="#000">10</text>
<text x="237.4" y="99.8" font-size="5.8500000000000005" font-family='"Liberation Sans", sans-serif' font-weight="bold" fill="#000">2</text>
<text x="188.3" y="63.9" font-size="7.5" font-family='"Liberation Sans", sans-serif' font-weight="bold" textLength="6.6" lengthAdjust="spacingAndGlyphs" fill="#000" transform="rotate(-90 188.3 63.9)">10</text>
<text x="183.7" y="56.9" font-size="5.8500000000000005" font-family='"Liberation Sans", sans-serif' font-weight="bold" fill="#000" transform="rotate(-90 183.7 56.9)">2</text>
<text x="258.4" y="103.7" font-size="7.5" font-family='"Liberation Sans", sans-serif' font-weight="bold" textLength="6.6" lengthAdjust="spacingAndGlyphs" text-anchor="end" fill="#000">10</text>
<text x="258.7" y="99.8" font-size="5.8500000000000005" font-family='"Liberation Sans", sans-serif' font-weight="bold" fill="#000">3</text>
<text x="188.3" y="46.8" font-size="7.5" font-family='"Liberation Sans", sans-serif' font-weight="bold" textLength="6.6" lengthAdjust="spacingAndGlyphs" fill="#000" transform="rotate(-90 188.3 46.8)">10</text>
<text x="183.7" y="39.8" font-size="5.8500000000000005" font-family='"Liberation Sans", sans-serif' font-weight="bold" fill="#000" transform="rotate(-90 183.7 39.8)">3</text>
<text x="279.6" y="103.7" font-size="7.5" font-family='"Liberation Sans", sans-serif' font-weight="bold" textLength="6.6" lengthAdjust="spacingAndGlyphs" text-anchor="end" fill="#000">10</text>
<text x="279.9" y="99.8" font-size="5.8500000000000005" font-family='"Liberation Sans", sans-serif' font-weight="bold" fill="#000">4</text>
<text x="188.3" y="29.6" font-size="7.5" font-family='"Liberation Sans", sans-serif' font-weight="bold" textLength="6.6" lengthAdjust="spacingAndGlyphs" fill="#000" transform="rotate(-90 188.3 29.6)">10</text>
<text x="183.7" y="22.6" font-size="5.8500000000000005" font-family='"Liberation Sans", sans-serif' font-weight="bold" fill="#000" transform="rotate(-90 183.7 22.6)">4</text>
<line x1="252.5" y1="34.5" x2="275.5" y2="34.5" stroke="#222" stroke-width="1"/>
<line x1="263.5" y1="26.5" x2="263.5" y2="43.2" stroke="#222" stroke-width="1"/>
<text x="262.9" y="32.1" font-size="9" font-family='"Liberation Serif", serif' text-anchor="end" fill="#000" stroke="#000" stroke-width="0.25">54.9</text>
<text x="264.7" y="32.1" font-size="9" font-family='"Liberation Serif", serif' fill="#000" stroke="#000" stroke-width="0.25">5.7</text>
<text x="262.9" y="42.2" font-size="9" font-family='"Liberation Serif", serif' text-anchor="end" fill="#000" stroke="#000" stroke-width="0.25">38.7</text>
<text x="264.7" y="42.2" font-size="9" font-family='"Liberation Serif", serif' fill="#000" stroke="#000" stroke-width="0.25">0.7</text>
<path d="M367.2 92h1.3M378.7 69.2h1.3M388.3 57.8h1.3M362.9 84.3h1.3M363.5 80.6h1.3M384.9 65.4h1.3M379.2 79.5h1.3M349.5 84.7h1.3M388.4 54.3h1.3M366.2 60.3h1.3M372.6 64.6h1.3M383.3 59.3h1.3M384.8 56.7h1.3M385.9 47h1.3M360.3 89.1h1.3M352.9 85h1.3M342.7 73.6h1.3M373.5 67.3h1.3M375.5 64.9h1.3M360.5 74.2h1.3M359.3 72.7h1.3M369.2 89.1h1.3M369.3 62h1.3M344.5 89.4h1.3M376.7 64.3h1.3M383.7 64.9h1.3M364.8 78.1h1.3M365.3 60.5h1.3M344 77.4h1.3M383.3 57.7h1.3M364.6 73.8h1.3M363.9 78.2h1.3M354.7 81.6h1.3M368 71.5h1.3M357.9 90.9h1.3M371.5 78.4h1.3M376.4 64.3h1.3M386.9 44.2h1.3M368.3 71.8h1.3M365.7 71.3h1.3M347.6 68.9h1.3M342.6 77.7h1.3M355.9 69.8h1.3M362.8 79.1h1.3M369.6 53.7h1.3M349.9 72.8h1.3M368.9 74.2h1.3M356.9 90h1.3M345.4 87.3h1.3M365.9 65.7h1.3M366.3 63.9h1.3M371.1 61.9h1.3M358 82.3h1.3M374.6 83h1.3M348.6 67.7h1.3M381 56h1.3M359.6 89.2h1.3M387.1 53.3h1.3M367 78.9h1.3M380.5 56.5h1.3M346.6 68.7h1.3M350.9 81.1h1.3M380.3 59.9h1.3M354.7 74.3h1.3M345.7 90h1.3M356.1 78.9h1.3M371.8 68.4h1.3M378.2 66.8h1.3M370.1 51.7h1.3M381.8 55.7h1.3M355.7 74.8h1.3M369.6 83.6h1.3M347.8 78.3h1.3M381.9 57.9h1.3M351.1 80.2h1.3M365.6 80.9h1.3M342.9 72.6h1.3M346.7 68.6h1.3M346.3 84.3h1.3M364.3 74.8h1.3M378.7 56.2h1.3M379.4 53.4h1.3M351.3 72.2h1.3M381.3 48.5h1.3M351.6 89.4h1.3M373 81.1h1.3M350.4 84.4h1.3M365.4 63.7h1.3M352.6 68.2h1.3M365.8 70.9h1.3M367.9 67.6h1.3M380.2 74.3h1.3M352 69h1.3M367.5 60.1h1.3M345.3 70.1h1.3M382.1 56.4h1.3M372.9 54.8h1.3M383.7 57.8h1.3M358.3 76.2h1.3M382.6 61.7h1.3M366.9 90.3h1.3M372 69.9h1.3M382.6 66.7h1.3M381.5 62.5h1.3M383.9 61.2h1.3M379.8 49.7h1.3M369.4 53.1h1.3M366.8 78.3h1.3M354.4 84h1.3M375.8 57.1h1.3M345 77.7h1.3M365.4 61.3h1.3M354 72.5h1.3M385.7 56.6h1.3M347.3 74.6h1.3M377.4 53.3h1.3M385.6 58.6h1.3M358.6 79.3h1.3M377.1 50.3h1.3M378.1 52.3h1.3M357.6 83.5h1.3M375.7 59.1h1.3M361.4 83.2h1.3M374.2 81.7h1.3M359.1 67.7h1.3M372.8 55.5h1.3M344.9 88.8h1.3M388.4 57.3h1.3M354 83.5h1.3M371.2 58h1.3M382.5 67.4h1.3M369.7 92h1.3M370.7 52.4h1.3M362.9 74.3h1.3M377.1 60.3h1.3M363.3 88.9h1.3M343 91.2h1.3M370.4 83.1h1.3M344.7 75.3h1.3M362.8 91.5h1.3M346.4 80.5h1.3M364.9 75.7h1.3M349.5 75.7h1.3M357.4 82.4h1.3M369 52.9h1.3M378.4 72.2h1.3M343.2 92.4h1.3M355.6 66.7h1.3M348.4 92.4h1.3M358.3 79.6h1.3M356 81.9h1.3M355.8 91.6h1.3M370.6 57.8h1.3M354 77.5h1.3M385.9 55.7h1.3M371.3 73.5h1.3M351 89.5h1.3M371.4 76.4h1.3M347.1 68.6h1.3M348.4 77.5h1.3M367.6 70.3h1.3M355 68.8h1.3M373 57.1h1.3M360.7 70.3h1.3M381.8 61.4h1.3M358.8 82.3h1.3M375.4 55.3h1.3M369.1 72.8h1.3M363.1 89.9h1.3M356 75.2h1.3M386.6 50.1h1.3M367.1 63.9h1.3M363.4 92.5h1.3M374.3 53h1.3M346.2 83.6h1.3M384.5 69.2h1.3M367.2 73.2h1.3M368.1 80h1.3M369.3 89.2h1.3M351.1 85h1.3M349.9 89.4h1.3M366.6 75.4h1.3M368.1 92.7h1.3M359.5 85h1.3M353.2 76.2h1.3M368.2 62.4h1.3M363 75.6h1.3M379.7 58h1.3M347.6 85.6h1.3M348.6 89.7h1.3M382.7 58.2h1.3M372.4 64.2h1.3M375.9 53.8h1.3M355.6 66.9h1.3M365.9 66h1.3M382.7 57.9h1.3M351.1 74.5h1.3M372.2 64.2h1.3M384.4 60.1h1.3M383.6 46.2h1.3M366.7 90.4h1.3M360.1 68.2h1.3M365.7 63.9h1.3M379.8 53.1h1.3M344.8 88.7h1.3M348.5 88.9h1.3M368.8 70h1.3M350.3 66.6h1.3M377.7 73.8h1.3M381.7 66.9h1.3M358.1 86h1.3M356.6 64h1.3M352.7 66h1.3M343.4 71h1.3M375.1 71.6h1.3M346.9 77.8h1.3M347.5 84.8h1.3M376.2 54.7h1.3M355.4 67.5h1.3M370.1 65.7h1.3M347.3 73.9h1.3M373.5 74.9h1.3M362.2 70.1h1.3M357.7 87.9h1.3M363.9 79h1.3M374.7 65.5h1.3M376.1 62h1.3M378.4 52.8h1.3M353.8 76.6h1.3M367.7 54.8h1.3M369 53.9h1.3M384.3 62.5h1.3M365.8 90.5h1.3M374.3 78.3h1.3M344.3 89.3h1.3M363.3 92.3h1.3M360.8 72h1.3M362.4 91.7h1.3M378.5 69.5h1.3M355.4 88.6h1.3M357.2 82.2h1.3M365.3 83.6h1.3M375.5 84.6h1.3M378.3 66.9h1.3M366 57.1h1.3M361.9 65.7h1.3M380.5 51.1h1.3M379.1 48.6h1.3M385.5 48.7h1.3M387.6 57.9h1.3M348.7 90h1.3M372.6 64.8h1.3M345.3 84.5h1.3M345.4 88.6h1.3M369.3 90.5h1.3M373.6 82.9h1.3M368.5 83.5h1.3M351.3 68h1.3M348 70.9h1.3M367.5 76.7h1.3M344.4 80.8h1.3M368.7 81.9h1.3M350.3 68.3h1.3M351.1 82.8h1.3M351.9 66.7h1.3M384.8 60.5h1.3M370.4 79.8h1.3M378.1 57.4h1.3M359 91.6h1.3M376.6 73.4h1.3M363.9 77.2h1.3M347.8 71.7h1.3M346.9 76.3h1.3M367.9 87.7h1.3M368.4 77.1h1.3M370.2 85.7h1.3M375.1 54.4h1.3M368.2 90.7h1.3M377.7 48.3h1.3M372.6 87.2h1.3M359.8 65.9h1.3M350.8 91.1h1.3M376.1 53.9h1.3M361.3 73.1h1.3M370.5 54.8h1.3M366.3 74.1h1.3M382 66h1.3M384.1 50.4h1.3M381.2 66.2h1.3M372.6 67.7h1.3M377 51.4h1.3M366.9 73.1h1.3M347.6 68.4h1.3M345.1 91.3h1.3M365 59.7h1.3M380.4 61.9h1.3M358.9 86.9h1.3M373 77.1h1.3M369.7 63h1.3M387.4 51.7h1.3M359.8 89.2h1.3M342.6 78.3h1.3M364 82.7h1.3M386.6 48.6h1.3M350.2 86.3h1.3M354.9 79.4h1.3M348.8 80.6h1.3M362.8 75.9h1.3M376.1 82.6h1.3M363.6 70.4h1.3M346.8 83.2h1.3M376.4 60.4h1.3M371 87.4h1.3M381 61.3h1.3M380 49.1h1.3M377.6 49.8h1.3M370 84.8h1.3M362.7 91.3h1.3M366.9 56.2h1.3M362.1 77.7h1.3M378.6 68.7h1.3M350.4 68.9h1.3M344.6 90.9h1.3M343.3 84.2h1.3M345.8 73.4h1.3M353 75.4h1.3M351.5 74.6h1.3M381.8 65.6h1.3M365 63.2h1.3M375.2 64.7h1.3M375.2 83.4h1.3M345.5 70.3h1.3M359.3 67.8h1.3M371.2 63.2h1.3M350.1 81.4h1.3M382.2 72.1h1.3M352.7 86.6h1.3M357.9 64h1.3M347.5 86.4h1.3M370.6 69.2h1.3M367.6 60.9h1.3M374.6 72.8h1.3M367.8 74h1.3M378.1 60.2h1.3M343.4 87.1h1.3M373.1 58.2h1.3M382.6 63.7h1.3M381.9 72.4h1.3M367 83.5h1.3M346.5 89.8h1.3M354.8 70.5h1.3M373.3 85.2h1.3M362.1 71.2h1.3M370.4 82.2h1.3M367.6 56.1h1.3M373.4 71.2h1.3M373.4 55h1.3M355.7 72.2h1.3M355.9 84.9h1.3M361.4 63.7h1.3M385.3 52.1h1.3M368.9 75.7h1.3M373.8 86.3h1.3M361.9 67.9h1.3M379.4 55h1.3M358.2 70.8h1.3M370.8 89.5h1.3M372.2 72.1h1.3M363.7 70.9h1.3M355.7 69.2h1.3M366.2 55.5h1.3M355.2 83.1h1.3M373 83h1.3M371.7 56.5h1.3M372.5 58.5h1.3M362.5 63.3h1.3M363.2 78.2h1.3M354.1 68.2h1.3M374 60.3h1.3M350.2 76.1h1.3M330.6 57.9h1.3M323.4 50.4h1.3M329.4 67.7h1.3M321.8 60.4h1.3M333.2 59.9h1.3M336 65h1.3M328.3 50.4h1.3M323.6 66.1h1.3M325.3 52.2h1.3M329.6 56.9h1.3M328.7 50.2h1.3M333.7 57.2h1.3M319.5 61.2h1.3M335 53.1h1.3M317.4 60.1h1.3M319.3 55.8h1.3M326.6 59h1.3M334.2 61.8h1.3M335.3 64h1.3M326 65.3h1.3M319.6 58.7h1.3M323 61.1h1.3M314.5 76.3h1.3M336.8 35.4h1.3M331.1 40.1h1.3M318.8 79.9h1.3M320.3 68h1.3M318.5 60.4h1.3M336.2 90.6h1.3M327.4 42.8h1.3M330 37.9h1.3M335.9 34.7h1.3M344.3 70.3h1.3M383.4 92h1.3M394.9 88.5h1.3M351.6 89.6h1.3M366.3 79.3h1.3M353.1 73.4h1.3M371.7 86.7h1.3M392.5 86.8h1.3M380.5 81.6h1.3M352.7 71.6h1.3M353.6 90.8h1.3M357.3 76.8h1.3M369.4 83.3h1.3M364.7 73.2h1.3M349.6 78.9h1.3M349 75.5h1.3M360.2 82h1.3M383.4 75h1.3M361.6 92.7h1.3" stroke="#5e5e5e" stroke-width="1.3"/>
<path d="M376.6 55h1.2M349.7 88.1h1.2M362.1 76.7h1.2M351.8 88.2h1.2M355 81.8h1.2M345.5 78.8h1.2M352.7 81.9h1.2M364.1 81.9h1.2M360.4 67.7h1.2M351.9 86.6h1.2M354.5 74.3h1.2M351 68.8h1.2M360.7 89.4h1.2M359.6 85.6h1.2M375.8 67.2h1.2M363.8 62.4h1.2M374.4 54.6h1.2M351.9 74h1.2M346.8 86.8h1.2M370.8 64.1h1.2M380.2 60.7h1.2M367 65.8h1.2M364.1 66.4h1.2M371.9 63.2h1.2M355.3 66.5h1.2M357.5 88.1h1.2M377.4 66.6h1.2M381.7 53.3h1.2M378 56.1h1.2M353.7 67.2h1.2M375.5 66.3h1.2M354.2 76.2h1.2M347.4 84.3h1.2M346.8 86h1.2M362.1 79.5h1.2M355.2 80.7h1.2M364.6 65.7h1.2M359.2 79.8h1.2M357.8 85.4h1.2M356.4 72.3h1.2M372.2 58.7h1.2M372.1 63.1h1.2M371.3 74.2h1.2M359 71.7h1.2M381.7 52.6h1.2M375.5 54h1.2M376.4 57.7h1.2M345.1 80.4h1.2M366 68.2h1.2M371.2 75.4h1.2M359.5 65.3h1.2M359 89.2h1.2M368 60.5h1.2M355.3 76.8h1.2M348.5 82.9h1.2M368.5 78.3h1.2M364.9 65.7h1.2M350.1 81.2h1.2M359.8 80.7h1.2M350.6 87h1.2M356.9 83.1h1.2M353.7 68.7h1.2M350.8 74.8h1.2M382 61.8h1.2M346.3 75.9h1.2M371.1 64.9h1.2M376.7 55.1h1.2M364 73.1h1.2M375.7 65.5h1.2M379.2 63.6h1.2M349.4 85.2h1.2M375.3 64.8h1.2M353.6 84.2h1.2M351.8 76.6h1.2M367.4 61.9h1.2M376.1 69.7h1.2M356 89.7h1.2M373.6 63.6h1.2M355 70.5h1.2M351.3 82.6h1.2M345.2 79.8h1.2M373.4 64.9h1.2M350.5 86.8h1.2M351.7 79.7h1.2M377.3 64.3h1.2M379.5 64.2h1.2M351.9 74.2h1.2M366.1 73.9h1.2M373.6 76.2h1.2M375.6 59.4h1.2M367.8 74.5h1.2M376.4 53.1h1.2M363.3 77.2h1.2M369.5 78h1.2M377.5 64.7h1.2M364.3 61.4h1.2M365.3 82.1h1.2M370.8 57.5h1.2M370.8 66h1.2M355 85.6h1.2M361.4 78h1.2M364.8 65h1.2M346 80.3h1.2M362.2 63.1h1.2M359.7 68.1h1.2M354.8 81.6h1.2M369.7 78.9h1.2M368.3 63.4h1.2M364.6 72.6h1.2M376.1 66.1h1.2M361.6 74.2h1.2M360.1 69.9h1.2M344.9 80.1h1.2M357.2 80.7h1.2M370.8 58.8h1.2M369.3 61.9h1.2M357.6 88.3h1.2M366.3 79.6h1.2M377.9 67.3h1.2M378.6 59.4h1.2M348 77.7h1.2M350.7 87.8h1.2M373.8 72.7h1.2M377.2 53.9h1.2M377.7 58.9h1.2M352.9 87h1.2M363.3 76.9h1.2M362.2 68.2h1.2M362.8 82.5h1.2M377.8 64.4h1.2M348.1 72.1h1.2M354.2 77.7h1.2M380.8 52.6h1.2M361.6 82.3h1.2M373.8 70.6h1.2M352.3 77.7h1.2M358.2 74.7h1.2M375.9 58h1.2M372.9 71.8h1.2M354.3 83.4h1.2M354.7 69.9h1.2M350.3 69.3h1.2M349.9 75.8h1.2M365.5 76.3h1.2M374.2 68.5h1.2M371.5 60.2h1.2M352.5 87.3h1.2M378.5 62.8h1.2M374.1 67.7h1.2M356.5 78.9h1.2M367.5 78.7h1.2M360.2 73.7h1.2M368.5 72.8h1.2M362.7 72.9h1.2M361.3 62.7h1.2M376 70.5h1.2M346.4 81.1h1.2M346.5 84.7h1.2M361.3 71.7h1.2M365.2 60.3h1.2M376 54.7h1.2M346 75.4h1.2M351.5 85.4h1.2M368.1 60.9h1.2M382 61.4h1.2M379.8 60.4h1.2M348.4 73h1.2M379.1 65.8h1.2M379.1 60.3h1.2M350.5 74.3h1.2M343.9 88h1.2M369 61.8h1.2M379 60.6h1.2M358.4 64.6h1.2M373.3 70h1.2M345.4 77h1.2M381 51.4h1.2M367.4 59.3h1.2M369.7 68.9h1.2M350.7 83.9h1.2M369.1 81h1.2M377.7 69.8h1.2M368.4 73.8h1.2M364.9 74.1h1.2M364.6 68.9h1.2M376.3 75.2h1.2M382.2 57.4h1.2M374 64h1.2M368.5 63.6h1.2M345.8 85.3h1.2M371.3 75.5h1.2M351.4 78.8h1.2M353 73.9h1.2M372.4 57.1h1.2M346.7 78h1.2M375.2 67.4h1.2M355.3 89.2h1.2M359.3 77.2h1.2M367.3 61.1h1.2M364.4 75.7h1.2M369.6 63.7h1.2M355.1 78h1.2M363.3 83.1h1.2M364.2 61.6h1.2M356.6 89.4h1.2M363.4 79.1h1.2M360.9 73.6h1.2M373.9 57.3h1.2M353.9 79.8h1.2M374.9 70.5h1.2M349.8 76.2h1.2M374.6 68.1h1.2M346.6 81.4h1.2M349.9 74.9h1.2M350.9 87.3h1.2M360.6 83.8h1.2M345.2 85.7h1.2M356.5 81.5h1.2M359.5 82.7h1.2M358.9 86.6h1.2M357.2 83.9h1.2M355.7 85.5h1.2M354.1 83.4h1.2M367.1 60.9h1.2M366.6 82.2h1.2M359.8 78.5h1.2M348.9 84.7h1.2M354.5 86.3h1.2M349.7 72.6h1.2M378.8 69.1h1.2M365.2 83.7h1.2M354.2 82.1h1.2M366.3 79.9h1.2M355.6 84.3h1.2M347.8 88.3h1.2M346.8 89.8h1.2M374.9 71.6h1.2M347.9 87.8h1.2M373.6 76.9h1.2M376.2 55.1h1.2M346.9 78.4h1.2M361 76.9h1.2M373 73.4h1.2M373.7 60.6h1.2M373.5 58.9h1.2M371.5 62.5h1.2M354.3 78.4h1.2M352 70.7h1.2M363.1 71.4h1.2M372.1 79.7h1.2M360.4 78.7h1.2M354.4 77h1.2M378.8 61.5h1.2M363.2 87.6h1.2M348 85.6h1.2M361.9 76.6h1.2M375.9 72.6h1.2M366.6 79.1h1.2M350.7 87.1h1.2M344.5 82h1.2M347.3 85.8h1.2M381.5 63.8h1.2M350.6 74h1.2M346.6 73.5h1.2M358.6 82.7h1.2M372.3 64h1.2M370.6 64.8h1.2M372.9 64.4h1.2M366.2 69.6h1.2M379 55.4h1.2M365.2 86.5h1.2M353.2 76.4h1.2M348.2 72.4h1.2M367.3 84h1.2M369.7 68.8h1.2M376.6 68.7h1.2M383.3 59.4h1.2M370.1 69.9h1.2M377.7 54.2h1.2M376.2 58.4h1.2M354.2 78.9h1.2M370 67.7h1.2M346.3 74h1.2M352.7 85.8h1.2M380.6 62.7h1.2M381.3 64.6h1.2M355.4 67.1h1.2M360.9 73.1h1.2M370 59.7h1.2M374.1 67.9h1.2M377.4 69.3h1.2M353 81.5h1.2M364.3 71.2h1.2M351.7 89.5h1.2M378.1 66.5h1.2M351.1 72.5h1.2M381.3 57.4h1.2M374.1 70.5h1.2M367.9 74.6h1.2M362 72.8h1.2M379.1 66.3h1.2M373.3 59.2h1.2M358.2 72.9h1.2M345.4 78.2h1.2M383.3 61.7h1.2M373.5 62h1.2M369.8 81.6h1.2M363.4 76h1.2M362.4 76.1h1.2M365.1 74.5h1.2M375.9 53.6h1.2M366.3 81.6h1.2M359.4 79.5h1.2M374.8 62.7h1.2M369.1 73.6h1.2M360.1 63.9h1.2M350.1 88.7h1.2M365.9 74.7h1.2M346.9 75.7h1.2M371.3 77.2h1.2M353.7 86.8h1.2M362.6 73.6h1.2M366.5 70.9h1.2M375.5 65.7h1.2M362.4 82.8h1.2M360.9 80.5h1.2M367.3 58.8h1.2M354.7 70.8h1.2M369.1 61.4h1.2M377.4 60.8h1.2M352.7 78.2h1.2M351.1 79.8h1.2M357.9 69.4h1.2M365.9 68.9h1.2M366.5 67.5h1.2M349.1 70.2h1.2M365.9 79.8h1.2M360 84h1.2M378.2 67.7h1.2M350.6 86.4h1.2M348.8 70h1.2M372 57.7h1.2M350.3 80.8h1.2M365.7 59.7h1.2M347.9 77.5h1.2M361.6 69.8h1.2M360.7 66.8h1.2M365.4 81.2h1.2M366.3 69.3h1.2M351.5 72h1.2M355.8 75.7h1.2M365.4 73.7h1.2M344.4 87.7h1.2M365.6 81.2h1.2M375 73.8h1.2M367.9 66.9h1.2M345.4 72.2h1.2M351.4 76.3h1.2M365.2 70.8h1.2M367.7 81.5h1.2M354.9 72.2h1.2M356.4 72.7h1.2M365.7 75.3h1.2M367.7 76.6h1.2M382.8 56.2h1.2M358.2 84.5h1.2M370.4 69.5h1.2M372.9 74.3h1.2M345.2 81h1.2M348.9 84h1.2M347.9 72.9h1.2M355.2 76.8h1.2M345.3 73.1h1.2M374 56.8h1.2M350.3 87.8h1.2M350.9 73.1h1.2M353.4 79.9h1.2M363.1 82.8h1.2M376.6 71.4h1.2M360 78.4h1.2M360.3 85.4h1.2M350.4 77.1h1.2M363.3 86.6h1.2M357.3 78h1.2M366 71.6h1.2M364.5 84.2h1.2M364.4 82.7h1.2M379.8 58.6h1.2M372.5 65.1h1.2M365.3 73.4h1.2M350.4 70.7h1.2M362 82.8h1.2M380.4 55.2h1.2M361.7 83.5h1.2M366.9 81.6h1.2M373.2 75.7h1.2M376.3 54.9h1.2M374.9 64h1.2M375.5 54.7h1.2M382.9 55.5h1.2M378.8 60.2h1.2M345.3 76.1h1.2M375.2 54.5h1.2M352.4 71.1h1.2M357.7 77.6h1.2M347.9 70.6h1.2M376.9 62.4h1.2M375.8 70.3h1.2M359.6 82.1h1.2M364.4 77.4h1.2M362.3 75.3h1.2M371.8 59.1h1.2M358.1 70h1.2M359 81.2h1.2M379.6 65.9h1.2M378.1 64.9h1.2M377.7 55.9h1.2M361.7 89.3h1.2M359.8 76.9h1.2M354.1 81.3h1.2M361.6 78.7h1.2M369.5 75h1.2M367.8 67.6h1.2M376.7 54.2h1.2M368.5 62h1.2M368 75.6h1.2M374.9 65h1.2M373.9 78.1h1.2M365.8 64.9h1.2M376.4 61.1h1.2M347.6 83h1.2M348.1 77.1h1.2M365.9 77.5h1.2M346.1 75h1.2M359 84.8h1.2M382.1 52.2h1.2M375.6 60.3h1.2M345.8 74.4h1.2M361.5 70.3h1.2M343.8 83.1h1.2M379.6 55.8h1.2M369.2 59.2h1.2M352.8 76.1h1.2M365.6 76.9h1.2M354.3 71.5h1.2M360.1 66.5h1.2M348.3 79.5h1.2M379.9 56.8h1.2M382.2 57.2h1.2M344.2 89.8h1.2M363.4 84.1h1.2M354.1 70.8h1.2M377.7 60.8h1.2M357.9 78.6h1.2M369.5 58.1h1.2M366.7 73.5h1.2M347.7 74.1h1.2M363.5 82.7h1.2M354.8 82.8h1.2M345 81.2h1.2M357.8 74.9h1.2M372.1 55.7h1.2M374.2 59.1h1.2M355.8 84.1h1.2M370.7 79.3h1.2M352.5 88.4h1.2M351.5 74.8h1.2M373.9 59h1.2M372.6 79.8h1.2M370.9 57.9h1.2M334.3 82.2h1.2M337.7 74.5h1.2M327.2 88.4h1.2M338.3 84.7h1.2M329.2 81.3h1.2M319.8 88.3h1.2M312.6 84.3h1.2M330.9 81.8h1.2M338.7 71.2h1.2M334.1 77.8h1.2M323.7 85.9h1.2M329.7 80.6h1.2M333.3 81.5h1.2M322 86.9h1.2M332 75.2h1.2M337 71.1h1.2M332.7 79.4h1.2M328.3 79.9h1.2M331.4 80.5h1.2M329.6 69.4h1.2M333.1 79.7h1.2M327.3 88h1.2M328.5 84.1h1.2M344.7 76.8h1.2M328.2 88.5h1.2M340.1 88.4h1.2M336.3 72.9h1.2M334.6 79.8h1.2M327.5 74.7h1.2M329.6 77.2h1.2M334.4 83.1h1.2M336 74h1.2M324.1 76.8h1.2M337.7 78.1h1.2M332.1 76.8h1.2M320 92h1.2M339.9 80.3h1.2M334.6 82.8h1.2M341.3 67.9h1.2M324.6 87.9h1.2M336.3 74.4h1.2M339.5 73.4h1.2M334.9 73.1h1.2M321.3 81.4h1.2M333.4 73.5h1.2M337.6 75.7h1.2M327 82h1.2M322 76.6h1.2M332.7 77.8h1.2M331.8 73.2h1.2M324.9 80.9h1.2M327 84.6h1.2M328.6 75.3h1.2M333.1 88.6h1.2M340.7 74.9h1.2M330 78.9h1.2M327.4 80.8h1.2M317.6 85.4h1.2M331 88.3h1.2M320.5 80.7h1.2M333.9 77.7h1.2M329 81.5h1.2M326.8 91.2h1.2M339.1 70.6h1.2M332.4 79.5h1.2M332.4 80.7h1.2M314.1 91.4h1.2M334.3 79.4h1.2M331 74.5h1.2M331.5 83.7h1.2M323.2 90.8h1.2M344.4 80.2h1.2M339.9 69.9h1.2M336 68.7h1.2M336.7 79.4h1.2M323.4 87h1.2M325.7 82.4h1.2M341.4 72.8h1.2M332.3 82.7h1.2M333.4 85.3h1.2M321.6 85.6h1.2M323.8 82.3h1.2M327.5 83.1h1.2M332.1 78.6h1.2M325.3 81.8h1.2M341.8 72.6h1.2M327.9 75.9h1.2M321.7 88.4h1.2M335 80.5h1.2M331.8 82.2h1.2M327.8 80.7h1.2M327.3 82.3h1.2M338.8 81.6h1.2M330.5 82.5h1.2M333.1 68.6h1.2M331.6 80.3h1.2M329.7 79.1h1.2M326.3 85.7h1.2M323.7 87h1.2M331.8 77.4h1.2M327.4 82.5h1.2M334.7 74.6h1.2M327.6 86.9h1.2M336.7 70.6h1.2M337.2 69.6h1.2M342.5 76.4h1.2M336.2 81.3h1.2M338 81.4h1.2M335.2 81.3h1.2M338.3 73.2h1.2M314.8 93h1.2M327.9 88.4h1.2M338.5 69.2h1.2M332.7 73.6h1.2M336.7 79.2h1.2M329.5 83h1.2M338 81.4h1.2M332.3 74.7h1.2M319.9 87.4h1.2M319.3 83.7h1.2M344.8 72.6h1.2M322.8 87.7h1.2M331.7 76.2h1.2M322.2 87.9h1.2M336.8 81.7h1.2M321.1 85.1h1.2M336 77.3h1.2M321.5 89.3h1.2M329.9 85.6h1.2M338.7 75.8h1.2M331.2 80.4h1.2M332 79.1h1.2M322.7 85.5h1.2M333.4 82.2h1.2M338.4 81.6h1.2M319.7 82.4h1.2M330.7 84.5h1.2M334.8 67.9h1.2M316.8 83.4h1.2M316 90.6h1.2M329.4 83.2h1.2M342 78.4h1.2M324.7 88.4h1.2M325.6 80.4h1.2M330.5 73h1.2M324.5 88.6h1.2M321.6 87.2h1.2M329.3 83.3h1.2M312.6 87.7h1.2M333.4 74.2h1.2M331.8 87.6h1.2M333.6 82.3h1.2M323.9 81.9h1.2M333.7 77.9h1.2M319 82.9h1.2M322.7 86.2h1.2M326.9 85.1h1.2M316 88h1.2M340.2 77.2h1.2M339.1 78.6h1.2M339.6 73.9h1.2M337.9 82.5h1.2M336.1 66.6h1.2M334.2 81.7h1.2M322.4 89.9h1.2M339 76.6h1.2M332.3 67h1.2M326.2 84.8h1.2M335.4 90.9h1.2M326.8 82.7h1.2M341.5 71.5h1.2M338 78.2h1.2M338.1 76.8h1.2M339.8 72.2h1.2M316 91.4h1.2M338.8 78.4h1.2M326 86.4h1.2M335.7 73.5h1.2M336.9 74.5h1.2M342.2 78.9h1.2M340.4 81.6h1.2M325.6 87.3h1.2M316 85.2h1.2M335.2 70h1.2M323.5 86h1.2M336 78.3h1.2M338.4 78.9h1.2M331 79.5h1.2M337.9 77.2h1.2M330.5 77.5h1.2M330.1 69.6h1.2M322 88h1.2M331.5 84.9h1.2M336.8 67.1h1.2M333.3 78.5h1.2M345 75.3h1.2M340.8 71.5h1.2M331.2 88.7h1.2M336.8 76.4h1.2M315.9 90.8h1.2M340.5 75.3h1.2M324.6 82.7h1.2M329.4 75.7h1.2M325.7 84.9h1.2M326.1 81.7h1.2M328.7 82.3h1.2M337.1 77h1.2M333.3 78.8h1.2M334.7 74.8h1.2M340.4 74.4h1.2M333.9 75.4h1.2M328.3 85.4h1.2M335.9 78.5h1.2M317 92.8h1.2M337.4 73.3h1.2M332.8 81.2h1.2M326.7 72.3h1.2M330.6 82.2h1.2M314.1 91.6h1.2M332.7 71h1.2M322.3 91.4h1.2M327.4 79.6h1.2M320.9 72.4h1.2M349 73.9h1.2M328.1 82.7h1.2M334.6 80.6h1.2M327.3 78.5h1.2M330.9 74.5h1.2M331.3 78.6h1.2M329.9 87h1.2M329.3 86.2h1.2M339.2 78.5h1.2M321.4 90h1.2M333.2 79.2h1.2M335.4 77.6h1.2M338.3 84.7h1.2M330.8 76h1.2M344.5 76h1.2M325.2 85.8h1.2M329.5 82.9h1.2M338.2 82.1h1.2M327.1 85.1h1.2M334.6 76.3h1.2M322.6 93.6h1.2M328.8 87.9h1.2M322.3 85.1h1.2M334.5 77.2h1.2M331.3 86.7h1.2M346.5 77h1.2M331.7 78h1.2M332 78.7h1.2M331.1 88.5h1.2M332.7 81.4h1.2M341 78.9h1.2M335 85.5h1.2M335.3 75.4h1.2M336.7 78.1h1.2M329 76.2h1.2M320 81.8h1.2M323.4 87.3h1.2M332 80.3h1.2M326.1 77.6h1.2M339.4 81.7h1.2M325.3 85.7h1.2M331.6 77.6h1.2M333.4 72.8h1.2M335.8 70.2h1.2M337.3 76.5h1.2M326.1 87.8h1.2M330.4 76.2h1.2M331.5 72.6h1.2M328.7 80.7h1.2M315.9 93h1.2M331.4 79.3h1.2M331.2 88h1.2M334.2 78.8h1.2M322.7 82.3h1.2M333.6 84h1.2M336.3 77.1h1.2M320.7 86.9h1.2M335.3 84.5h1.2M311.4 92.9h1.2M330.3 88.6h1.2M339.5 77.9h1.2M331.6 80.4h1.2M326.9 86.4h1.2M340.2 74.2h1.2M331 74.1h1.2M333.8 73.7h1.2M321.5 91.6h1.2M331 69.6h1.2M320.9 93h1.2M339.2 75.8h1.2M341.2 80.3h1.2M339.4 77.1h1.2M328.7 86.9h1.2M334.6 79h1.2M335.2 77.7h1.2M327.6 75.6h1.2M326.4 79.8h1.2M328.5 78.1h1.2M323.7 90.4h1.2M340.8 69.6h1.2M327 88.8h1.2M335.1 79.1h1.2M337 76.1h1.2M340.6 74.9h1.2M330.9 83.2h1.2M343.8 77.6h1.2M337.8 87.9h1.2M325 77.6h1.2M318.6 83.2h1.2M331.8 77.7h1.2M328.2 78.3h1.2M329.8 77.5h1.2M331.8 85.1h1.2M332.4 83.4h1.2M316.4 82.7h1.2M334.9 76.7h1.2M321.6 78.1h1.2M327.5 83h1.2M330.2 73.1h1.2M318.5 90.5h1.2M330.9 84.4h1.2M330.6 81.6h1.2M322.9 80.1h1.2M329.7 79.3h1.2M335.3 76.5h1.2M332.4 85.2h1.2M326.6 75.4h1.2M313.4 91.9h1.2M319.5 92.3h1.2M328.7 79.5h1.2M321.8 90.5h1.2M336 74.3h1.2M333.7 77.8h1.2M329.4 88h1.2M326.4 82.2h1.2M346.1 69.9h1.2M331.6 82.8h1.2M335.1 80.8h1.2M336.8 80h1.2M336.8 74.3h1.2M318.5 82.4h1.2M328.4 93.6h1.2M336.9 65.8h1.2M332 78.5h1.2M338 69.1h1.2M328.2 92.1h1.2M331 86.3h1.2M335.4 73.9h1.2M335.8 69.3h1.2M316.6 91.4h1.2M337.1 68.9h1.2M338.7 84.1h1.2M322.8 82.6h1.2M320.3 89.3h1.2M332.9 88.2h1.2M346 73.7h1.2M335.2 77.4h1.2M335.1 72.8h1.2M321.7 89.2h1.2M325.6 86h1.2M336.8 85.7h1.2M360.6 54.5h1.2M347.8 52.5h1.2M351.4 62.3h1.2M361.8 44.5h1.2M338.5 69.2h1.2M353.3 53.7h1.2M332.8 76.3h1.2M375.9 42h1.2M358.5 51.3h1.2M359.7 55.7h1.2M352.6 54.4h1.2M351.3 54.7h1.2M354.3 52.5h1.2M367.6 53.3h1.2M364.4 48.1h1.2M348.2 63.5h1.2M361.3 51.8h1.2M347.4 58.8h1.2M365.7 46.3h1.2M363.8 51.4h1.2M351.6 60.7h1.2M353.5 61.3h1.2M353.4 55.2h1.2M349.6 56.2h1.2M341.6 62h1.2M352.3 69h1.2M360.4 53.1h1.2M352.6 55.1h1.2M358.2 46.8h1.2M346.8 54.1h1.2M359.4 59h1.2M340.6 60.8h1.2M362.8 46.3h1.2M362.5 48.4h1.2M352.2 54.9h1.2M352.1 53.4h1.2M355.8 51.3h1.2M355.1 58.4h1.2M350.5 51.4h1.2M356.7 56.4h1.2M352.8 59.4h1.2M364 46.5h1.2M355.1 54.2h1.2M353.5 49.8h1.2M355.4 58.4h1.2M366.6 53.3h1.2M343.2 52.2h1.2M355.7 52.6h1.2M360.4 45.1h1.2M351.5 51.8h1.2M357.7 60.8h1.2M365.1 50h1.2M362.3 51.3h1.2M356.7 61.3h1.2M363.8 49.5h1.2M364.1 50.1h1.2M360.4 42.8h1.2M345.9 60h1.2M355.1 52.9h1.2M355.5 51.8h1.2M364.7 59.4h1.2M348.5 58.5h1.2M348.1 64.5h1.2M345.8 67.5h1.2M350.7 54.8h1.2M368.5 42.9h1.2M366.1 56.1h1.2M342.8 62.4h1.2M364.8 50h1.2M359.5 54.5h1.2M351.3 47.9h1.2M327.1 67.5h1.2M367.8 48.9h1.2M363.7 52.7h1.2M353.6 52.9h1.2M357.1 52.7h1.2M357.4 46.6h1.2M367.8 51.6h1.2M341.8 56.4h1.2M354 53.3h1.2M351.1 54.6h1.2M343.4 67.4h1.2M342.6 66.6h1.2M352.8 52.1h1.2M354.3 57.1h1.2M359.8 53h1.2M325.7 84.4h1.2M357.9 43.7h1.2M342.7 54.7h1.2M347.9 60.8h1.2M357.5 51.3h1.2M344.5 67.2h1.2M356.3 59.7h1.2M335.6 58.7h1.2M366.7 48.8h1.2M359.1 57.2h1.2M367.3 44.1h1.2M352 63.8h1.2M357.1 48.9h1.2M361 46.9h1.2M363.5 49h1.2M345.9 62.4h1.2M333.9 69.8h1.2M352.7 56.4h1.2M357.1 55.8h1.2M360.9 53.1h1.2M353.8 62.9h1.2M361.9 51.8h1.2M357.2 53.9h1.2M329.8 72.1h1.2M346.5 55.6h1.2M362.3 55.8h1.2M356.9 50.6h1.2M356.9 55.3h1.2M348 62.2h1.2M368.4 41.7h1.2M345.6 60.8h1.2M330 69.5h1.2M353.9 54h1.2M357.2 51.2h1.2M357.3 54.9h1.2M340.2 60.9h1.2M342.1 58.9h1.2M360.3 48.1h1.2M368.4 50.8h1.2M348.4 55h1.2M353 62.7h1.2M335.8 67.4h1.2M366.7 43.3h1.2M363.5 54.1h1.2M358.6 55.6h1.2M360.2 53.6h1.2M345.3 68.9h1.2M364.6 45.5h1.2M346 63.1h1.2M356.3 57.2h1.2M355.3 55.5h1.2M349.4 65.4h1.2M355.8 60.1h1.2M353.7 49.4h1.2M360.6 53.9h1.2M353.4 56.9h1.2M350.5 58.7h1.2M356.9 51.5h1.2M353.3 61.3h1.2M345.5 61h1.2M372.3 46.6h1.2M349.3 56.7h1.2M345.2 67.2h1.2M364.3 58.7h1.2M356.5 57.8h1.2M358.2 49.4h1.2M371.6 48h1.2M363.4 45.4h1.2M352.9 55.1h1.2M357.9 56.2h1.2M351.6 50.8h1.2M363.2 51.1h1.2M355 59.3h1.2M348.5 59.7h1.2M364.5 53.3h1.2M356.8 51.6h1.2M358.6 52.9h1.2M354.7 62.1h1.2M342.2 65.3h1.2M362.3 36.7h1.2M368.6 49.1h1.2M350.2 48.3h1.2M358.5 51h1.2M356.1 58.1h1.2M353.2 53.5h1.2M379 45.5h1.2M354.6 61.1h1.2M366.6 48.1h1.2M364.1 53.5h1.2M359.2 57.5h1.2M355 62.2h1.2M343 71.1h1.2M344 62.5h1.2M368.4 53.8h1.2M365.8 64.3h1.2M364.5 50.1h1.2M361.7 52.4h1.2M353.6 57.5h1.2M364.9 48h1.2M364.6 50.8h1.2M355.7 56.2h1.2M368 48.7h1.2M351.9 54.1h1.2M354.6 53.2h1.2M372.2 42.2h1.2M350.1 56h1.2M354.8 51.4h1.2M358.9 43.2h1.2M346.8 56.3h1.2M352.2 64.3h1.2M361.8 40.9h1.2M366.4 53.1h1.2M356.9 57.4h1.2M351.9 54.5h1.2M351.8 56.1h1.2M364.1 56h1.2M345.9 62.9h1.2M366.2 55.5h1.2M356.9 47h1.2M357.5 51.5h1.2M352.8 55.5h1.2M359 54.7h1.2M337.6 74.1h1.2M344.8 61h1.2M356 68.4h1.2M361.5 44.7h1.2M360.1 51.5h1.2M351.9 60.6h1.2M355.1 49.5h1.2M351.3 57.9h1.2M354.5 61.5h1.2M354.2 55.5h1.2M357.2 62.3h1.2M358.8 49.6h1.2M359.6 58h1.2M350.3 59.6h1.2M346.1 62.7h1.2M352.4 53h1.2M368.5 44.2h1.2M360.3 59.9h1.2M351.3 50.5h1.2M359 49.9h1.2M352.3 60.1h1.2M364.8 54h1.2M370.2 47.6h1.2M351.4 65.4h1.2M364.8 47.1h1.2M362.1 42.2h1.2M359.5 47.2h1.2M340.2 65.1h1.2M348.5 58.5h1.2M360.1 46.3h1.2M345.8 55.9h1.2M349.8 53.5h1.2M354.5 58.2h1.2M349.9 64.2h1.2M355.9 54.6h1.2M352.7 69.5h1.2M345.2 52.2h1.2M361 55.5h1.2M337.8 70h1.2M344.4 59.7h1.2M363.7 47.2h1.2M361.3 45.5h1.2M340.8 65.6h1.2M347.2 60h1.2M344.6 57.9h1.2M352 60.8h1.2M355.3 59.6h1.2M344.5 61.6h1.2M341.4 63.7h1.2M370 44h1.2M356 50.8h1.2M353 49h1.2M368.3 32.5h1.2M360.3 48.9h1.2M355.1 53.8h1.2M363 47.4h1.2M356.8 51.4h1.2M369 43.1h1.2M357.4 56.2h1.2M365 44.5h1.2M347.4 54.1h1.2M354.6 57.4h1.2M370.2 37.2h1.2M352.5 52h1.2M354.6 54.5h1.2M361 50.7h1.2M340.1 72.5h1.2M354.3 58.5h1.2M358.4 50.1h1.2M362.2 46.5h1.2M344.5 59h1.2M350 62.3h1.2M359.3 48.4h1.2M359.9 54.7h1.2M361 49.4h1.2M350.9 60.4h1.2M361.7 49.1h1.2M370.3 42.7h1.2M363.6 44.4h1.2M353.9 62.1h1.2M347.8 59.3h1.2M358.7 46.2h1.2M356.9 53.7h1.2M359.1 42.8h1.2M349.9 55h1.2M340.1 65.2h1.2M360.6 57.8h1.2M351.8 58.6h1.2M353.1 68.7h1.2M370.2 37.7h1.2M340.9 63h1.2M355.9 52.6h1.2M343.8 60h1.2M346.7 60.2h1.2M366.1 48.8h1.2M371.7 43.8h1.2M372.6 53.5h1.2M356.6 51.3h1.2M338.1 61.1h1.2M362.4 50h1.2M359.9 63.6h1.2M359 47.4h1.2M361.3 58.1h1.2M340.3 62h1.2M354.9 50.5h1.2M363.2 55.4h1.2M357.6 55.8h1.2M353 56.3h1.2M379.1 31.2h1.2M356.1 52h1.2M355.5 59.4h1.2M358.8 59.8h1.2M351 59.2h1.2M365.1 42.8h1.2M345.3 59.2h1.2M358.6 59.5h1.2M354.6 59.9h1.2M351 58.8h1.2M338.5 59.5h1.2M357.8 49.5h1.2M360.3 49.6h1.2M352.5 59.4h1.2M354.6 50h1.2M340.7 61.2h1.2M356.1 57.7h1.2M358.4 51.7h1.2M344.1 46.3h1.2M346.1 70.9h1.2M347 64.6h1.2M359.2 48.1h1.2M346.2 68h1.2M356.7 51.2h1.2M346.2 71.3h1.2M341.7 63.8h1.2M346.2 60.7h1.2M347.8 55.6h1.2M363.4 48.1h1.2M344.6 59.6h1.2M367 45.9h1.2M361 51.6h1.2M362.5 46.9h1.2M353.3 52.2h1.2M340.7 70.6h1.2M359.4 53.6h1.2M357.8 50.4h1.2M348.1 56h1.2M359.8 45.4h1.2M343.2 67.2h1.2M363.1 53.7h1.2M349.6 59.6h1.2M363.5 38.9h1.2M360.8 52.1h1.2M352 49.2h1.2M358.6 55.7h1.2M372.9 45.4h1.2M349.1 59.1h1.2M339.2 66.4h1.2M354.3 56.9h1.2M362.9 56.5h1.2M356.2 55.9h1.2M345.8 64.9h1.2M350.7 54h1.2M333.4 60.3h1.2M349.6 53.1h1.2M358.3 53.9h1.2M355.1 63h1.2M344.6 63h1.2M343.6 67h1.2M340.4 69h1.2M345.8 67.7h1.2M357.4 60.7h1.2M347.9 65.9h1.2M367.8 50.6h1.2M367.8 49h1.2M364.5 47.2h1.2M367.4 49.1h1.2M365.3 52.6h1.2M367.5 44.6h1.2M369.3 53.8h1.2M364 48.4h1.2M367.3 48h1.2M367 51.4h1.2M365.9 50.9h1.2M367.1 50.1h1.2M369.6 45.8h1.2M370.2 42.4h1.2M367.2 50.9h1.2M368.7 48.2h1.2M367.5 54h1.2M366.4 44.8h1.2M368.2 49.3h1.2M365.4 50.8h1.2M366.6 47.2h1.2M366.1 46.8h1.2M367.3 45.8h1.2M363.5 47.4h1.2M372.8 42.6h1.2M363.2 47.4h1.2M364 49.2h1.2M366 48.9h1.2M366.8 47.8h1.2M364.2 52.7h1.2M366.6 45.2h1.2M362.7 38.9h1.2M369.7 51.2h1.2M367.9 46.6h1.2M364.7 48.8h1.2M369.9 53.4h1.2M365.8 48h1.2M366.6 50.4h1.2M364.6 49.7h1.2M363.5 50.6h1.2M372.7 44.5h1.2M360.3 45.3h1.2M363.2 49h1.2M368.1 46.3h1.2M362.9 47.8h1.2M364.3 45.9h1.2M366.8 44.7h1.2M367.4 43.9h1.2M365.5 48.6h1.2M361.9 51.7h1.2M365.9 43.1h1.2M364.6 45.4h1.2M364.7 45h1.2M367.2 46.8h1.2M361 44.9h1.2M364.1 49.7h1.2M361 44.3h1.2M368.5 47.7h1.2M364.5 42.9h1.2M365.8 46.5h1.2" stroke="#262626" stroke-width="1.2"/>
<ellipse cx="331.5" cy="81" rx="14.5" ry="6.6" fill="#262626" transform="rotate(-41.6 331.5 81)" filter="url(#b0_8)" opacity="0.9"/>
<ellipse cx="331.5" cy="81" rx="9.6" ry="4.4" fill="#9a9a9a" transform="rotate(-41.6 331.5 81)" filter="url(#b1_2)" opacity="0.85"/>
<path d="M328.3 87.4h1.1M329.5 77.9h1.1M328.6 79.9h1.1M324.7 83.6h1.1M326.3 86.5h1.1M341.7 74.2h1.1M328 80.8h1.1M328.3 82.7h1.1M326.6 79.2h1.1M336.8 74.5h1.1M332.1 82.7h1.1M328.6 80.5h1.1M327.1 78h1.1M333.9 74.9h1.1M327.6 80.8h1.1M323.3 83.9h1.1M321.8 80.3h1.1M327.1 82.8h1.1M330.7 78.1h1.1M328.1 83.9h1.1M334.2 80.1h1.1M330.4 82.4h1.1M326.6 87.8h1.1M325.6 78.8h1.1M331.6 81.2h1.1M333.2 81h1.1M332.9 81h1.1M331.1 83.9h1.1M339.3 77.3h1.1M330.9 81.9h1.1M327.8 82.8h1.1M332.6 83.1h1.1M331.3 83.5h1.1M327.4 90.8h1.1M325.1 84.2h1.1M325.3 83.7h1.1M330.7 80.8h1.1M326.8 83.6h1.1M331.1 82.6h1.1M331.1 83.7h1.1M332.7 82.1h1.1M335.2 76.4h1.1M335.3 76.6h1.1M328.7 83.4h1.1M339.4 75.4h1.1M337.1 75.7h1.1M330.8 78.6h1.1M332 82.8h1.1M329.2 83.5h1.1M325.1 83.9h1.1M332.5 84.1h1.1" stroke="#3a3a3a" stroke-width="1.1" stroke-opacity="0.45"/>
<ellipse cx="355.5" cy="55.5" rx="17" ry="6.6" fill="#262626" transform="rotate(-38 355.5 55.5)" filter="url(#b0_8)" opacity="0.9"/>
<ellipse cx="355.5" cy="55.5" rx="11.2" ry="4.4" fill="#9a9a9a" transform="rotate(-38 355.5 55.5)" filter="url(#b1_2)" opacity="0.85"/>
<path d="M359.3 51.3h1.1M351.1 56.2h1.1M357.3 53.3h1.1M353.1 52.7h1.1M355.3 52h1.1M353.8 54.9h1.1M352.4 55.4h1.1M351.6 57.3h1.1M356.6 57.8h1.1M357.4 54.2h1.1M349.7 59.2h1.1M350.1 58.1h1.1M360.6 50.8h1.1M358.6 52.6h1.1M348.5 54.5h1.1M352.9 61.2h1.1M364.9 49h1.1M353.4 56.2h1.1M355.3 52.9h1.1M365.4 52.1h1.1M350.5 61.2h1.1M353.6 59.6h1.1M357.2 55.2h1.1M354.8 52.5h1.1M352.3 52.7h1.1M350.1 56.1h1.1M357.4 55.4h1.1M358.6 50.7h1.1M350.7 55.3h1.1M351.2 58.8h1.1M355.6 53.4h1.1M361.9 53.7h1.1M352.8 52.5h1.1M354 61h1.1M353.4 53.1h1.1M363.2 47.8h1.1M351.9 55.9h1.1M354.5 54.4h1.1M356.2 53.9h1.1M358.1 55.7h1.1M360 48.5h1.1M358.9 51.1h1.1M360.4 50h1.1M368.7 46.4h1.1M361.1 53.5h1.1M353.1 57.1h1.1M352.9 57.5h1.1M361.7 48.5h1.1M343.9 63.8h1.1M351.1 57.8h1.1M341.3 64h1.1M360.9 54.8h1.1M361.6 51.1h1.1M359.4 53.2h1.1M355.8 55h1.1M347.2 61.6h1.1M361.6 53.6h1.1M348.2 52.5h1.1M358.9 55.6h1.1" stroke="#3a3a3a" stroke-width="1.1" stroke-opacity="0.45"/>
<rect x="311.5" y="25.5" width="85" height="69" fill="none" stroke="#333" stroke-width="1"/>
<line x1="341.5" y1="25.5" x2="341.5" y2="94.3" stroke="#2a2a2a" stroke-width="1"/>
<line x1="311.1" y1="69.5" x2="396.1" y2="69.5" stroke="#2a2a2a" stroke-width="1"/>
<path d="M311.1 94.3v3.1M311.1 94.3h-3.1M317.5 94.3v1.8M311.1 89.1h-1.8M321.2 94.3v1.8M311.1 86.1h-1.8M323.9 94.3v1.8M311.1 83.9h-1.8M326 94.3v1.8M311.1 82.3h-1.8M327.6 94.3v1.8M311.1 80.9h-1.8M329.1 94.3v1.8M311.1 79.8h-1.8M330.3 94.3v1.8M311.1 78.8h-1.8M331.4 94.3v1.8M311.1 77.9h-1.8M332.4 94.3v3.1M311.1 77.1h-3.1M338.7 94.3v1.8M311.1 71.9h-1.8M342.5 94.3v1.8M311.1 68.9h-1.8M345.1 94.3v1.8M311.1 66.7h-1.8M347.2 94.3v1.8M311.1 65.1h-1.8M348.9 94.3v1.8M311.1 63.7h-1.8M350.3 94.3v1.8M311.1 62.6h-1.8M351.5 94.3v1.8M311.1 61.6h-1.8M352.6 94.3v1.8M311.1 60.7h-1.8M353.6 94.3v3.1M311.1 59.9h-3.1M360 94.3v1.8M311.1 54.7h-1.8M363.7 94.3v1.8M311.1 51.7h-1.8M366.4 94.3v1.8M311.1 49.5h-1.8M368.5 94.3v1.8M311.1 47.9h-1.8M370.1 94.3v1.8M311.1 46.5h-1.8M371.6 94.3v1.8M311.1 45.4h-1.8M372.8 94.3v1.8M311.1 44.4h-1.8M373.9 94.3v1.8M311.1 43.5h-1.8M374.9 94.3v3.1M311.1 42.7h-3.1M381.2 94.3v1.8M311.1 37.5h-1.8M385 94.3v1.8M311.1 34.5h-1.8M387.6 94.3v1.8M311.1 32.3h-1.8M389.7 94.3v1.8M311.1 30.7h-1.8M391.4 94.3v1.8M311.1 29.3h-1.8M392.8 94.3v1.8M311.1 28.2h-1.8M394 94.3v1.8M311.1 27.2h-1.8M395.1 94.3v1.8M311.1 26.3h-1.8M396.1 94.3v3.1M311.1 25.5h-3.1" stroke="#333" stroke-width="0.9" fill="none"/>
<text x="312.4" y="104.8" font-size="7.5" font-family='"Liberation Sans", sans-serif' font-weight="bold" textLength="6.6" lengthAdjust="spacingAndGlyphs" text-anchor="end" fill="#000">10</text>
<text x="312.7" y="100.9" font-size="5.8500000000000005" font-family='"Liberation Sans", sans-serif' font-weight="bold" fill="#000">0</text>
<text x="306.1" y="98" font-size="7.5" font-family='"Liberation Sans", sans-serif' font-weight="bold" textLength="6.6" lengthAdjust="spacingAndGlyphs" fill="#000" transform="rotate(-90 306.1 98)">10</text>
<text x="301.5" y="91" font-size="5.8500000000000005" font-family='"Liberation Sans", sans-serif' font-weight="bold" fill="#000" transform="rotate(-90 301.5 91)">0</text>
<text x="333.7" y="104.8" font-size="7.5" font-family='"Liberation Sans", sans-serif' font-weight="bold" textLength="6.6" lengthAdjust="spacingAndGlyphs" text-anchor="end" fill="#000">10</text>
<text x="334" y="100.9" font-size="5.8500000000000005" font-family='"Liberation Sans", sans-serif' font-weight="bold" fill="#000">1</text>
<text x="306.1" y="82.2" font-size="7.5" font-family='"Liberation Sans", sans-serif' font-weight="bold" textLength="6.6" lengthAdjust="spacingAndGlyphs" fill="#000" transform="rotate(-90 306.1 82.2)">10</text>
<text x="301.5" y="75.2" font-size="5.8500000000000005" font-family='"Liberation Sans", sans-serif' font-weight="bold" fill="#000" transform="rotate(-90 301.5 75.2)">1</text>
<text x="354.9" y="104.8" font-size="7.5" font-family='"Liberation Sans", sans-serif' font-weight="bold" textLength="6.6" lengthAdjust="spacingAndGlyphs" text-anchor="end" fill="#000">10</text>
<text x="355.2" y="100.9" font-size="5.8500000000000005" font-family='"Liberation Sans", sans-serif' font-weight="bold" fill="#000">2</text>
<text x="306.1" y="65" font-size="7.5" font-family='"Liberation Sans", sans-serif' font-weight="bold" textLength="6.6" lengthAdjust="spacingAndGlyphs" fill="#000" transform="rotate(-90 306.1 65)">10</text>
<text x="301.5" y="58" font-size="5.8500000000000005" font-family='"Liberation Sans", sans-serif' font-weight="bold" fill="#000" transform="rotate(-90 301.5 58)">2</text>
<text x="376.2" y="104.8" font-size="7.5" font-family='"Liberation Sans", sans-serif' font-weight="bold" textLength="6.6" lengthAdjust="spacingAndGlyphs" text-anchor="end" fill="#000">10</text>
<text x="376.5" y="100.9" font-size="5.8500000000000005" font-family='"Liberation Sans", sans-serif' font-weight="bold" fill="#000">3</text>
<text x="306.1" y="47.8" font-size="7.5" font-family='"Liberation Sans", sans-serif' font-weight="bold" textLength="6.6" lengthAdjust="spacingAndGlyphs" fill="#000" transform="rotate(-90 306.1 47.8)">10</text>
<text x="301.5" y="40.8" font-size="5.8500000000000005" font-family='"Liberation Sans", sans-serif' font-weight="bold" fill="#000" transform="rotate(-90 301.5 40.8)">3</text>
<text x="397.4" y="104.8" font-size="7.5" font-family='"Liberation Sans", sans-serif' font-weight="bold" textLength="6.6" lengthAdjust="spacingAndGlyphs" text-anchor="end" fill="#000">10</text>
<text x="397.7" y="100.9" font-size="5.8500000000000005" font-family='"Liberation Sans", sans-serif' font-weight="bold" fill="#000">4</text>
<text x="306.1" y="30.6" font-size="7.5" font-family='"Liberation Sans", sans-serif' font-weight="bold" textLength="6.6" lengthAdjust="spacingAndGlyphs" fill="#000" transform="rotate(-90 306.1 30.6)">10</text>
<text x="301.5" y="23.6" font-size="5.8500000000000005" font-family='"Liberation Sans", sans-serif' font-weight="bold" fill="#000" transform="rotate(-90 301.5 23.6)">4</text>
<line x1="365.7" y1="35.5" x2="388.7" y2="35.5" stroke="#222" stroke-width="1"/>
<line x1="377.5" y1="27.3" x2="377.5" y2="44" stroke="#222" stroke-width="1"/>
<text x="376.5" y="32.9" font-size="9" font-family='"Liberation Serif", serif' text-anchor="end" fill="#000" stroke="#000" stroke-width="0.25">1.0</text>
<text x="378.3" y="32.9" font-size="9" font-family='"Liberation Serif", serif' fill="#000" stroke="#000" stroke-width="0.25">61.2</text>
<text x="376.5" y="43" font-size="9" font-family='"Liberation Serif", serif' text-anchor="end" fill="#000" stroke="#000" stroke-width="0.25">31.6</text>
<text x="378.3" y="43" font-size="9" font-family='"Liberation Serif", serif' fill="#000" stroke="#000" stroke-width="0.25">6.46</text>
<path d="M481 57h1.3M458.1 64.3h1.3M457.4 63.1h1.3M475 54.2h1.3M476.4 50h1.3M459 55.3h1.3M455.3 66.1h1.3M484.5 54.4h1.3M482.5 49.8h1.3M487.4 46.6h1.3M463.5 47.5h1.3M462.7 60.4h1.3M486.1 48.9h1.3M470.9 49.1h1.3M468 49.2h1.3M467.4 49.7h1.3M470 46.3h1.3M469.4 58.7h1.3M471.3 47.4h1.3M468.8 46h1.3M483.6 45.1h1.3M469.7 49.5h1.3M489 51.4h1.3M460.2 61.1h1.3M475.6 50.5h1.3M473.1 47.1h1.3M471.2 55.2h1.3M463.2 47.6h1.3M455.7 56.6h1.3M470.6 59h1.3M470.7 52.1h1.3M478.3 57.6h1.3M486.6 47.2h1.3M473.3 43.5h1.3M485.7 48.6h1.3M459.7 64.8h1.3M479.6 50h1.3M456.8 62h1.3M475.5 49.2h1.3M462.6 63.8h1.3M461.7 54.7h1.3M489.5 47.6h1.3M483.7 43.3h1.3M480.2 50.5h1.3M464.4 51.2h1.3M456.6 62.6h1.3M473.6 48h1.3M479.3 44.3h1.3M478.9 45.2h1.3M457.3 62.6h1.3M481.4 47.3h1.3M473.6 56.2h1.3M460.8 57.5h1.3M473.4 54.8h1.3M471 59.3h1.3M465.4 51.5h1.3M458.5 54.6h1.3M470.8 53.7h1.3M466.7 47.2h1.3M472.4 55.7h1.3M483.7 53.9h1.3M481.8 43.5h1.3M478.9 53.7h1.3M462.9 49.2h1.3M479.5 54.1h1.3M472.4 48.4h1.3M455.9 64.3h1.3M488.6 47.9h1.3M455.2 57.9h1.3M479.7 43.5h1.3M466.2 48.5h1.3M459.6 51.4h1.3M455.6 51.3h1.3M469.7 52.7h1.3M476.8 49.4h1.3M475.5 50.3h1.3M479.2 46.9h1.3M488.7 47.3h1.3M459.1 54.7h1.3M473.8 51.8h1.3M477.9 53h1.3M468.8 63.3h1.3M486.7 45.7h1.3M489.8 49.3h1.3M476.5 58.8h1.3M477.2 46.2h1.3M477 55.5h1.3M475.9 56.8h1.3M467.7 43.7h1.3M457.9 60.9h1.3M468.4 46.5h1.3M457.5 50.8h1.3M467.8 44.6h1.3M478 50h1.3M469 48.9h1.3M478.5 41.7h1.3M485 54.1h1.3M475.2 56.4h1.3M459.8 66.9h1.3M485.6 50.7h1.3M469.3 46.9h1.3M468.2 44.9h1.3M474.1 49.4h1.3M478.7 54.4h1.3M463.5 48.2h1.3M479.4 52.1h1.3M461 47.6h1.3M470.4 59.8h1.3M473.6 47.3h1.3M478.9 54.2h1.3M476.2 56.2h1.3M471.4 48.3h1.3M469.4 54.8h1.3M465.3 48.5h1.3M488.1 51.9h1.3M465.4 55.6h1.3M460.1 56.8h1.3M470.2 57.7h1.3M482.2 54.8h1.3M459.5 55.4h1.3M459.3 60.6h1.3M465.7 55.3h1.3M463.6 60.8h1.3M482.8 55.7h1.3M457.1 58.8h1.3M454.9 57.8h1.3M478.2 55.3h1.3M472.2 42.3h1.3M467.6 49.1h1.3M470.8 45.6h1.3M485.8 45.9h1.3M481.5 45.9h1.3M459.7 66.5h1.3M474.4 47.5h1.3M480.7 54.4h1.3M473.5 57.9h1.3M477.9 41.8h1.3M468.9 45.2h1.3M467.7 52h1.3M461.6 57.6h1.3M483.7 52.6h1.3M465.7 48.5h1.3M459 60.2h1.3M484 53.6h1.3M457.8 63.1h1.3M463.5 48h1.3M472.8 42.7h1.3M465.4 46.8h1.3M469.1 54.1h1.3M463.9 45.6h1.3M483.6 54.1h1.3M473.2 44.2h1.3M480.6 47.2h1.3M483.2 50.4h1.3M483 51.4h1.3M476.2 59.4h1.3M460.7 66.1h1.3M486.7 49.2h1.3M486.9 49.1h1.3M458 53.6h1.3M474 50.2h1.3M469.1 57h1.3M475.4 53.3h1.3M465 55h1.3M466.7 47.1h1.3M477.8 50h1.3M479.1 52h1.3M471.3 56.3h1.3M465.3 54.5h1.3M466 45.5h1.3M456.5 55.1h1.3M487.9 47.1h1.3M463.1 63.9h1.3M458.6 67h1.3M456.8 65.6h1.3M467.3 61.8h1.3M470.4 60.4h1.3M459.7 62.5h1.3M464.1 47.3h1.3M458.2 55.4h1.3M465.9 59.2h1.3M477.2 51.2h1.3M462.8 59.3h1.3M476.4 46.9h1.3M458.5 56.4h1.3M464.9 45.5h1.3M465.8 60.8h1.3M457.7 52h1.3M469.3 55.3h1.3M474 46.9h1.3M489.8 53h1.3M485.4 52h1.3M477.3 60.9h1.3M469.3 53.8h1.3M487.3 46.1h1.3M462.4 61.8h1.3M463.6 63.4h1.3M503.2 48.5h1.3M498 67.9h1.3M461.4 56.2h1.3M484.8 50.2h1.3M487.7 64.8h1.3M481.3 59.8h1.3M509.6 59.1h1.3M463 62h1.3M507.7 50.6h1.3M500.8 48.9h1.3M502.7 58.6h1.3M474.8 55.8h1.3M499.8 67.3h1.3M485.4 52.7h1.3M510.5 54.8h1.3M468.8 84.4h1.3M487.6 82.3h1.3M508 78.4h1.3M470.6 84.6h1.3M482.5 73.3h1.3M477.5 85.8h1.3M503.2 92.5h1.3M499.7 88.7h1.3M486.7 86.9h1.3M509.4 92.9h1.3M440.8 42.3h1.3M434.6 34.3h1.3M430.1 62.2h1.3M447 64.5h1.3M451.5 52.6h1.3M448.5 41.9h1.3M455 61.6h1.3M457.9 41.2h1.3M449.2 50.8h1.3M460.7 54.2h1.3M450.1 54.9h1.3M454.2 52.9h1.3M440.4 47.4h1.3M456.5 80.9h1.3M436.5 66.4h1.3M457.7 60.1h1.3M455.4 34.8h1.3M440.5 64.1h1.3M431 42.8h1.3M433.7 67.3h1.3M433.2 32.9h1.3M454.4 80.4h1.3M447 32.3h1.3M443.7 90.1h1.3M433.1 30.9h1.3M438.6 52.1h1.3M458.8 46h1.3M442.4 81.5h1.3M431.7 73.2h1.3M460.5 50.1h1.3" stroke="#5e5e5e" stroke-width="1.3"/>
<path d="M465.9 55.6h1.2M455.3 61.7h1.2M464.5 51.6h1.2M471.1 52.8h1.2M468.1 45.9h1.2M473.7 45.3h1.2M470.7 53.2h1.2M461.7 58.7h1.2M456.7 58.9h1.2M468 52.8h1.2M457.3 58.3h1.2M453.2 55.6h1.2M462.9 45.8h1.2M466.5 46.2h1.2M468.5 46.7h1.2M466.3 53.9h1.2M462.2 57.8h1.2M469.1 53.4h1.2M474.4 47.6h1.2M452.7 57.2h1.2M474.5 46.5h1.2M471.1 53h1.2M466.1 52.3h1.2M472.3 49.9h1.2M458.2 58.1h1.2M453.2 47.9h1.2M460.7 57.1h1.2M457.9 52.9h1.2M469.5 52.1h1.2M458 49.7h1.2M457.2 59.8h1.2M452.2 59.3h1.2M460.5 61.4h1.2M460.5 54h1.2M454 53.6h1.2M457.6 50.6h1.2M464.2 52.3h1.2M462.9 61.2h1.2M460.4 60.7h1.2M467.1 56.5h1.2M459.4 55.3h1.2M454.3 48h1.2M452.2 50.3h1.2M472.9 45.7h1.2M467.5 55.3h1.2M465.6 57.1h1.2M464.8 47.4h1.2M476.4 44.5h1.2M467.5 52.2h1.2M461.6 47h1.2M458 48.9h1.2M459.9 56.1h1.2M464.1 45.5h1.2M458 50.8h1.2M460.9 50h1.2M452.7 58.7h1.2M451.7 54.7h1.2M453.8 52.8h1.2M464.2 52.2h1.2M470.1 45.2h1.2M460.6 54.4h1.2M464.1 51.5h1.2M467.3 47.5h1.2M467.3 51.1h1.2M462 58.2h1.2M460.4 62.4h1.2M466.5 53.5h1.2M465.9 47.8h1.2M475.2 46.7h1.2M463.1 53.7h1.2M461.2 61.4h1.2M455.8 50.6h1.2M461.4 58h1.2M452.8 55.9h1.2M453.7 51.8h1.2M473.2 44.5h1.2M465.5 52.2h1.2M461.6 50.3h1.2M457.9 60.4h1.2M472.4 47.2h1.2M451.5 54.6h1.2M467.1 47.4h1.2M458.9 49.2h1.2M457.5 53.7h1.2M472 48.2h1.2M464.2 45.1h1.2M475.4 46.7h1.2M460.3 45.6h1.2M457.4 61.1h1.2M453.6 50.8h1.2M453.8 61h1.2M453.7 62.2h1.2M458.7 58.9h1.2M454.7 49.3h1.2M461.1 46.6h1.2M461.1 50.7h1.2M454.4 56.2h1.2M460.7 56.9h1.2M454.1 57.4h1.2M452.9 52.8h1.2M465.4 50.6h1.2M468.4 49.3h1.2M464.9 50.6h1.2M470.6 52.3h1.2M472.4 51.5h1.2M452.7 54.3h1.2M463.3 51.6h1.2M464 56.7h1.2M463.4 59.2h1.2M460.2 49h1.2M473.7 48.5h1.2M453.4 52.8h1.2M461 60h1.2M466.1 57.3h1.2M464.1 48.5h1.2M460.4 46.9h1.2M466.8 49.6h1.2M468.1 50.1h1.2M468.1 48.8h1.2M457.5 52h1.2M454.2 72.8h1.2M443.8 72.5h1.2M450.6 71.5h1.2M436.3 70.1h1.2M449.5 65.1h1.2M450.7 71.3h1.2M448.6 70.9h1.2M456.2 68.4h1.2M446.4 71.1h1.2M460.4 68.7h1.2M452.1 67.5h1.2M443.8 66.4h1.2M445.2 69.1h1.2M450.4 71.4h1.2M436.7 68.3h1.2M443.8 66.3h1.2M459.1 72.5h1.2M437.4 70h1.2M432.3 73.1h1.2M454.4 65.1h1.2M446.3 71h1.2M431.6 69h1.2M446.6 65.2h1.2M433.6 71.7h1.2M457.6 70.9h1.2M446.3 65.5h1.2M449.1 66.7h1.2M450.8 64.9h1.2M456.8 72.2h1.2M437.5 69h1.2M442 72.1h1.2M443.2 68.1h1.2M436.2 73.2h1.2M453.9 65.1h1.2M456.2 72.6h1.2M458.8 65.8h1.2M454.7 67.9h1.2M452 72.7h1.2M447.8 69.6h1.2M441.3 72.8h1.2M446.2 71.2h1.2M449.5 68.5h1.2M434.3 70.6h1.2M455.5 68.1h1.2M442.1 70.3h1.2M439.2 73.4h1.2M458.6 73h1.2M454.4 66.9h1.2M437.6 66.5h1.2M443.7 67.1h1.2M446 67.9h1.2M458.1 66.4h1.2M437.8 70.9h1.2M453.6 68.7h1.2M456.6 65.9h1.2M439.8 69.4h1.2M454 68h1.2M457 69.6h1.2M456.2 69.2h1.2M451.8 65.7h1.2M446.9 67.5h1.2M447.6 68.4h1.2M439.7 73h1.2M453.9 72.9h1.2M455.7 72.5h1.2M454.4 67.2h1.2M461.1 72.6h1.2M452.3 65.9h1.2M459.9 71.6h1.2M447.5 65.1h1.2M448.4 70.8h1.2M450.8 69.1h1.2M434.2 71.9h1.2M444.9 70h1.2M438.4 73.4h1.2M455.9 69.2h1.2M437.3 70.5h1.2M453.1 65h1.2M440 73.7h1.2M446.3 65.3h1.2M438.7 56.1h1.2M444.4 58h1.2M452.9 57.2h1.2M439.9 55.3h1.2M449.5 57.8h1.2M431.7 62.5h1.2M439.8 48.9h1.2M444.5 62.4h1.2M446.8 63.7h1.2M451.4 57.1h1.2M437.1 70.3h1.2M435.6 66.1h1.2M438.4 65.5h1.2M441.7 65.1h1.2M441 57h1.2M438.5 67.4h1.2M457 51.1h1.2M428.3 79.6h1.2M446.3 65h1.2M446 49.5h1.2M436.5 55.2h1.2M445.9 52h1.2M445.3 47.6h1.2M442.7 57.2h1.2M447.2 50.6h1.2M442.6 62h1.2M439.5 66h1.2M450.9 54.1h1.2M449.8 51.5h1.2M427.4 61.5h1.2M448.9 61.5h1.2M438.8 52.1h1.2M437.6 60h1.2M433.6 60.7h1.2M457.8 50.6h1.2M449.2 53.1h1.2M439.9 58.4h1.2M457.7 46.5h1.2M444.2 46.8h1.2M433.9 53.7h1.2M436.6 50h1.2M441.9 65.3h1.2M440.3 53.7h1.2M449.5 59.7h1.2M442.3 63h1.2M453.4 53.7h1.2M448.9 63.6h1.2M436.5 62.3h1.2M443.8 60.6h1.2M444.7 59.7h1.2M433.3 65.9h1.2M445.4 54.3h1.2M437 71.4h1.2M446.9 64.7h1.2M453.4 57.9h1.2M437.2 54.6h1.2M444.9 51.6h1.2M433.2 65.1h1.2M451.4 55.1h1.2M444.9 68.1h1.2M432.8 68.2h1.2M444.7 59.6h1.2M460 44.7h1.2M441.5 55.5h1.2M444 57.1h1.2M444.9 47.1h1.2M462.4 64.9h1.2M443.7 73.4h1.2M429.9 73.5h1.2M439.5 65.2h1.2M438.1 69.4h1.2M451.6 57.6h1.2M439 68.5h1.2M446.6 54.1h1.2M437.8 63.1h1.2M452 60.4h1.2M432.8 67.4h1.2M435.7 61h1.2M428.8 68.2h1.2M447.5 51.8h1.2M453.3 48.5h1.2M443.5 57.8h1.2M432.4 65.5h1.2M462 44.6h1.2M445.2 60.9h1.2M455.3 50.8h1.2M451.6 60.2h1.2M427.8 57.2h1.2M439.1 66.3h1.2M437.4 48.4h1.2M440.7 67.6h1.2M443.9 61.5h1.2M441.6 60h1.2M429.1 64.4h1.2M438 65.5h1.2M446.8 63.8h1.2M435 74.8h1.2M434.4 66.9h1.2M429.2 67.6h1.2M432.7 68.2h1.2M441.6 70h1.2M442.7 68.4h1.2M439.6 66.8h1.2M442.8 54.9h1.2M447.2 59.9h1.2M450.5 50.5h1.2M447.9 57.6h1.2M436.3 65.5h1.2M439.7 77h1.2M456.2 49h1.2M443.7 52.7h1.2M432.3 65.9h1.2M450.8 60.3h1.2M445.3 49.1h1.2M440.4 55.5h1.2M452.8 58.3h1.2M436.2 67h1.2M446.5 59.3h1.2M448.1 45.7h1.2M443.8 68.3h1.2M445.2 47.2h1.2M433.5 52.8h1.2M449.3 56h1.2M445.3 61.8h1.2M429.7 48h1.2M433.6 63.4h1.2M443.4 65h1.2M433.4 55.4h1.2M435.2 56.8h1.2M445.8 59.7h1.2M459.5 45.3h1.2M433.9 81.2h1.2M447.5 60.4h1.2M440.5 66.4h1.2M443.1 60.5h1.2M436.2 48.3h1.2M439.1 64.3h1.2M450 42.6h1.2M439.9 65.7h1.2M433 59.2h1.2M438 67.4h1.2M434.8 58.2h1.2M440.3 53.2h1.2M436.3 67.3h1.2M442.9 50.7h1.2M450.3 63.5h1.2M444.7 73.9h1.2M446.9 64.8h1.2M435 65.8h1.2M433.5 57.7h1.2M446.8 59.4h1.2M428.5 53.2h1.2M446.3 64.2h1.2M445.7 54.8h1.2M436.4 63h1.2M449.1 64.8h1.2M441.9 51.9h1.2M442.7 46.4h1.2M444 57.3h1.2M443.7 70.1h1.2M444.3 53.6h1.2M451.4 57.3h1.2M435.6 56.7h1.2M442 45.8h1.2M442.7 76.7h1.2M447.6 68.7h1.2M450.1 63.3h1.2M438.7 72.7h1.2M429.3 64.7h1.2M450.4 57.1h1.2M442.5 71.6h1.2M441.7 68h1.2M447.2 48.7h1.2M431.1 70.3h1.2M433.6 66.1h1.2M440.5 60.2h1.2M446.4 56.1h1.2M447.9 48.3h1.2M436 56.4h1.2M433.9 56.5h1.2M441.3 69.3h1.2M451.1 52.7h1.2M437 64.9h1.2M452.2 57.2h1.2M454 52.2h1.2M443 51h1.2M439.6 59.1h1.2M447.9 63.4h1.2M441.2 62.2h1.2M440.8 58.8h1.2M448.9 57.5h1.2M441.5 56.7h1.2M436.9 56.5h1.2M435.4 61.9h1.2M438.8 52.2h1.2M447.5 70.7h1.2M452.4 44.1h1.2M446 70.9h1.2M430.2 74.6h1.2M440.5 53.7h1.2M429.5 62.1h1.2M446.3 64h1.2M454 39.9h1.2M445 53.5h1.2M445.3 41.9h1.2M444.6 60.7h1.2M434.3 71.4h1.2M431.6 60.2h1.2M452 40.3h1.2M444.4 60.3h1.2M434.1 63h1.2M470.1 37.5h1.2M452.7 53.8h1.2M443.8 56.3h1.2M442.7 55.1h1.2M448.5 41.1h1.2M442.2 63.6h1.2M445 58.9h1.2M436.5 61.7h1.2M443.1 67.6h1.2M439.4 48.7h1.2M445.8 59.5h1.2M436.9 76.1h1.2M453.6 40.6h1.2M441.1 69.6h1.2M436.5 62h1.2M436.4 59.9h1.2M450.2 60.3h1.2M439.9 59.9h1.2M437.1 50.6h1.2M435.2 60.8h1.2M449.9 53.5h1.2M452.9 58.4h1.2M441.3 53.4h1.2M452.7 50h1.2M431.7 57.6h1.2M439.9 53.4h1.2M433.7 77.1h1.2M437.2 64.5h1.2M435.6 54.4h1.2M429.6 64.6h1.2M438.7 69.5h1.2M440.1 66.2h1.2M432.5 55.9h1.2M445.4 67.9h1.2M439.7 62.4h1.2M441.5 56.3h1.2M445.6 61.2h1.2M445.4 50.4h1.2M448.6 49.5h1.2M430.8 70.1h1.2M437.6 63h1.2M449.4 60.1h1.2M443.6 62.2h1.2M439.2 79.9h1.2M451.4 61h1.2M455.1 53.5h1.2M435.4 60.4h1.2M438.2 54.5h1.2M448.1 53.5h1.2M451.3 64.3h1.2M454.6 42.1h1.2M435.8 67.7h1.2M446.1 73.1h1.2M436.9 73.6h1.2M435.7 66.2h1.2M435.8 55.3h1.2M445.1 57.8h1.2M438.5 58.1h1.2M432.4 77.7h1.2M437.6 58.1h1.2M440.7 67.4h1.2M443.2 65h1.2M432 72.6h1.2M438.1 59.7h1.2M445.9 47.3h1.2M450.7 49.4h1.2M443.6 61h1.2M438.7 67.1h1.2M442 59.8h1.2M442.2 58.5h1.2M436.5 68.8h1.2M443.3 54.8h1.2M442.1 52.4h1.2M440.9 55.8h1.2M433.6 59.9h1.2M450.2 55.1h1.2M453.4 40.2h1.2M438.4 59.4h1.2M449.2 54.5h1.2M437.7 68.3h1.2M428.9 60h1.2M439.3 60.7h1.2M449.1 54h1.2M431.2 62.1h1.2M446.6 46.2h1.2M442.3 59.6h1.2M443 63.6h1.2M447.5 56.1h1.2M449.8 64.1h1.2M427.9 64.9h1.2M435.6 65.4h1.2M442.8 71.5h1.2M436.1 80.5h1.2M443 71.1h1.2M437.1 57.5h1.2M430.3 64h1.2M443 60.6h1.2M433.9 81.3h1.2M448.5 58h1.2M446.9 51.7h1.2M447.9 58h1.2M434.6 70h1.2M458 58.7h1.2M449.2 52.1h1.2M435 71.5h1.2M446.9 52.7h1.2M435.9 61.8h1.2M445.2 58.4h1.2M442.9 56.2h1.2M437.5 79h1.2M458.1 56.9h1.2M438.3 61.1h1.2M451 44.1h1.2M458.7 48.9h1.2M443.6 63.2h1.2M449.2 48.1h1.2M448.9 71.7h1.2M461.9 45.7h1.2M457.9 44.6h1.2M430 56.2h1.2M445.9 53.4h1.2M433.9 63.7h1.2M440.6 71.7h1.2M441.9 48.2h1.2M447 55.5h1.2M450 68.5h1.2M432.8 59.2h1.2M441.2 63.2h1.2M446.8 63.7h1.2M438.2 74.6h1.2M436.4 68.4h1.2M440.7 59.7h1.2M445.7 45h1.2M449.3 49.4h1.2M430.1 54.2h1.2M442.7 56.9h1.2M442.5 52.4h1.2M452.7 51.4h1.2M460.5 44.5h1.2M434.8 58.2h1.2M447.5 50.7h1.2M440 54.1h1.2M457.4 45.4h1.2M434.9 58.9h1.2M441.8 59h1.2M443.1 59.7h1.2M447.6 45.5h1.2M441.5 64.8h1.2M451.1 51.5h1.2M450.3 53.9h1.2M434 54.7h1.2M441.3 54.1h1.2M455.4 41.6h1.2M445.3 74.4h1.2M445.4 79h1.2M437.4 92.2h1.2M430.2 92.1h1.2M434.5 93.9h1.2M437.2 85h1.2M450.7 88.3h1.2M445 82.8h1.2M436.3 92.3h1.2M442.7 72.6h1.2M448.4 86.6h1.2M430.8 81.6h1.2M442.4 76.2h1.2M440 74.9h1.2M458 59.8h1.2M439.9 87.3h1.2M452.2 82.6h1.2M443.6 72.1h1.2M432.6 79.5h1.2M445.4 90.6h1.2M450.7 89.6h1.2M443.6 73.9h1.2M443.3 88.2h1.2M445.6 74.9h1.2M454.9 71.4h1.2M428.6 82.2h1.2M440.8 92.3h1.2M442 84h1.2M445.6 84.5h1.2M439.7 88.7h1.2M441.2 86.4h1.2M444.5 80.2h1.2M437.2 82.4h1.2M457.3 65.9h1.2M434.1 77h1.2M444 84.2h1.2M439.4 80.9h1.2M444.2 72.6h1.2M447.8 74.7h1.2M447.4 70.4h1.2M436.3 83.1h1.2M444.2 90h1.2M445.7 69.5h1.2M440.5 84.8h1.2M432.8 80.3h1.2M434.5 83.4h1.2M441.2 89.4h1.2M437.7 81.7h1.2M456 84.1h1.2M445.1 78.3h1.2M443.6 82.6h1.2M453.5 81.3h1.2M435.7 81.3h1.2M450.9 79.6h1.2M443.4 65.9h1.2M451.7 82.6h1.2M436.5 87.2h1.2M436.4 88.5h1.2M429.7 85.1h1.2M443.1 82.6h1.2M446 70.5h1.2M437.5 84.2h1.2M438.4 80.4h1.2M430.7 84.3h1.2M446.2 75.5h1.2M431.9 88.1h1.2M439.4 93.6h1.2M437.3 85.7h1.2M438.2 82h1.2M450.2 86.8h1.2M439.7 86.1h1.2M447 85.7h1.2M428.8 79.4h1.2M438.7 87h1.2M449.9 86.6h1.2M453.7 87.9h1.2M439.9 86.4h1.2M434.2 78.7h1.2M442.9 92.7h1.2M450.1 89.5h1.2M441.3 71.4h1.2M429.2 81.9h1.2M436 91.5h1.2M438.4 83.9h1.2M432.1 89.7h1.2M448.4 82.5h1.2M431.9 85.8h1.2M440.9 79.3h1.2M440 71.8h1.2M444 82.7h1.2M440 80.8h1.2M442.3 75.6h1.2M441.1 77.9h1.2M450.1 70.9h1.2M447.8 83.6h1.2M432.3 82.5h1.2M434 81.6h1.2M444.2 77.6h1.2M441.9 93.5h1.2M433 78h1.2M450.2 71.7h1.2M437.3 86.7h1.2M438.7 92.7h1.2M444.2 93.2h1.2M439.9 78h1.2M434.9 91.2h1.2M444.2 86.6h1.2M437.3 89.7h1.2M436.6 85.2h1.2M458.7 70.9h1.2M434 86.6h1.2M439.9 92.2h1.2M452.9 74h1.2M453.1 78.1h1.2M437.4 82.2h1.2M444.2 78.6h1.2M445.1 78.4h1.2M440.6 87.2h1.2M428.1 90.2h1.2M460.1 88.7h1.2M437.6 90h1.2M460 82.9h1.2M446.9 76.4h1.2M440.1 91.8h1.2M445.6 80.2h1.2M442.1 81.5h1.2M457.8 86.7h1.2M432.6 89.9h1.2M447.5 79.9h1.2M444 74.6h1.2M435 88.4h1.2M442.5 71.4h1.2M433.4 93h1.2M437.4 79.4h1.2M434.2 92.2h1.2M437.7 81.9h1.2M449 84.8h1.2M437.8 82h1.2M431.8 88.5h1.2M445.3 90.5h1.2M443.5 81.8h1.2M456.7 71.8h1.2M441.1 78.5h1.2M435.3 77.4h1.2M448.8 86h1.2M443.6 75.2h1.2M441.2 81.2h1.2M450.4 90.7h1.2M436.4 82.1h1.2M443.5 91.4h1.2M438.8 76h1.2M441.3 85.3h1.2M438 87.2h1.2M436.2 69.3h1.2M430.1 87.2h1.2M447.3 80.5h1.2M429.5 81.9h1.2M448.5 81.8h1.2M429.3 87.7h1.2M434.4 88.6h1.2M439.3 86.3h1.2M440.5 78.6h1.2M429.4 82.9h1.2M449.5 73.1h1.2M438.5 84.2h1.2M440.5 88.4h1.2M440.4 67.3h1.2M434 78.9h1.2M434.4 91.7h1.2M451.9 75h1.2M434.4 83.1h1.2M456.8 73.7h1.2M444.7 88.4h1.2M451.2 79.3h1.2M435.8 89.4h1.2M442.5 87.9h1.2M442.8 69.6h1.2M434.1 79.8h1.2M443.3 91.3h1.2M430.3 78h1.2M442.7 82.1h1.2M445.4 77.2h1.2M440.4 78.9h1.2M438.7 85.9h1.2M440.6 90.4h1.2M439 82.6h1.2M433.7 84.3h1.2M437.1 87.6h1.2M437 88.4h1.2M439.1 88.9h1.2M434 86.6h1.2M442.1 82.6h1.2M433.6 87h1.2M446.5 84h1.2M445.8 75.5h1.2M438 77.4h1.2M453.6 79.2h1.2M453.5 75.3h1.2M450.3 82.7h1.2M442.5 71.7h1.2M448.5 86.3h1.2M439.6 84.2h1.2M430.5 77h1.2M451.7 78.3h1.2M457 86.1h1.2M430.2 91.2h1.2M433.4 89h1.2M440.2 82.9h1.2M446.3 89h1.2M437.5 73.5h1.2M438.6 90.6h1.2M430.2 85.3h1.2M433.6 85.8h1.2M451.3 76h1.2M440.8 87h1.2M430.7 82.2h1.2M453.9 72.6h1.2M447.4 82.8h1.2M432.9 86.6h1.2M433.4 77.2h1.2M438.2 82.6h1.2M440.2 82.1h1.2M445.6 80.1h1.2M439.3 86.9h1.2M438.1 80.6h1.2M436.8 85h1.2M448.1 76.9h1.2M430.3 84.4h1.2M447 83.5h1.2M452.7 63.3h1.2M429.7 87.5h1.2M459.8 80.8h1.2M444.8 72.9h1.2M454.8 72.3h1.2M449.9 89.3h1.2M449.1 88.4h1.2M446.2 88.5h1.2M449.2 90.7h1.2M448.8 68.1h1.2M444.1 75.9h1.2M429.2 72.3h1.2M439.2 94.5h1.2M449.6 73.5h1.2M436.3 82.7h1.2M441 70.8h1.2M456.3 77.1h1.2M442.5 85.6h1.2M448.6 71.8h1.2M446.4 81.7h1.2M435.4 81.8h1.2M449.3 81.2h1.2M440.1 74.8h1.2M448.7 69.5h1.2M439.3 89h1.2M435.5 87.1h1.2M442.7 89.2h1.2M453 85.1h1.2M439.4 81.9h1.2M449.7 75.3h1.2M444.4 84.4h1.2M443.2 79.8h1.2M437.5 75.2h1.2M446 90.1h1.2M443.9 89.1h1.2M443.7 84h1.2M441.1 75h1.2M431.6 74.6h1.2M445.9 78.1h1.2M451.2 78.8h1.2M449.9 85.4h1.2M430.8 79.2h1.2M441.1 79.4h1.2M449.1 80.7h1.2M442.5 90.4h1.2M446.8 85.3h1.2M435.1 87.7h1.2M433.5 86.4h1.2M443.4 90.7h1.2M437.5 91.4h1.2M443.5 84.7h1.2M441 86.1h1.2M436.4 80.8h1.2M443.1 85.7h1.2M445.9 80.2h1.2M433.9 83h1.2M438.1 77.6h1.2M441.9 81.4h1.2M444.3 76.3h1.2M450.7 76.8h1.2M441.8 89.1h1.2M440.3 83.3h1.2M431.2 89.8h1.2M440.8 81.4h1.2M443 85.2h1.2M448.5 81.2h1.2M431.4 94.7h1.2M450.9 78.4h1.2M446.8 70h1.2M450.4 70.9h1.2M452.1 81.4h1.2M436.6 80.1h1.2M446.7 74.9h1.2M436.3 81.8h1.2M447.1 82.8h1.2M433.6 85h1.2M438 77h1.2M439.3 77.2h1.2M449.4 71.9h1.2M454.5 75.3h1.2M446.8 75.1h1.2M453.1 70.1h1.2M441.4 75.4h1.2M447.2 89.5h1.2M441.4 80.3h1.2M439.8 77.8h1.2M447.6 81.8h1.2M447.6 73.9h1.2M436.7 92.9h1.2M446.5 72.6h1.2M439.2 73h1.2M451.6 81.9h1.2M432 74h1.2M431.5 76.7h1.2M433.8 72.7h1.2M436.1 83.5h1.2M433.7 84.2h1.2M430.7 87.5h1.2M443.1 69.6h1.2M430.8 82.3h1.2M429.8 83.3h1.2" stroke="#262626" stroke-width="1.2"/>
<ellipse cx="443.5" cy="59" rx="15" ry="9.2" fill="#262626" transform="rotate(-42 443.5 59)" filter="url(#b0_8)" opacity="0.9"/>
<ellipse cx="443.5" cy="59" rx="9.9" ry="6.1" fill="#9a9a9a" transform="rotate(-42 443.5 59)" filter="url(#b1_2)" opacity="0.85"/>
<path d="M441.4 55.9h1.1M441.9 59.5h1.1M441.1 64.4h1.1M441.7 61.1h1.1M438.2 64.1h1.1M442.4 61.8h1.1M441.6 56.1h1.1M450.4 57.1h1.1M447.8 56.8h1.1M440.8 67.4h1.1M441 57.1h1.1M440.1 59.3h1.1M436 55.3h1.1M446.9 55.6h1.1M434.3 61.7h1.1M448.9 55.8h1.1M441.6 58.1h1.1M445.3 58.5h1.1M439.6 64.2h1.1M447.2 58.8h1.1M437.4 61.9h1.1M440.6 56.1h1.1M439.8 60.4h1.1M444.8 53.7h1.1M439.3 63.6h1.1M442.8 56h1.1M448.3 59.5h1.1M443.1 60.7h1.1M449.9 51.8h1.1M440 59.7h1.1M449.8 54.1h1.1M441 57.2h1.1M444.5 64.8h1.1M439.8 67.7h1.1M441 59.6h1.1M438 61.9h1.1M444.5 58.8h1.1M441.1 65.1h1.1M433.9 65.1h1.1M448.7 54.1h1.1M442.8 57.7h1.1M443.6 65.7h1.1M446.9 59.4h1.1M444 62h1.1M446.3 55h1.1M448.9 58h1.1M442 58.8h1.1M442.3 58.7h1.1M449.1 53.6h1.1M443.1 58.6h1.1M441.5 59.4h1.1M452.3 54.6h1.1M449.7 61.7h1.1M444.4 57.9h1.1M444 52.5h1.1M441 57.9h1.1M441.5 62.9h1.1M442.9 61.6h1.1M441.6 59.7h1.1M446.2 61.3h1.1M437.5 59.8h1.1M438.4 65.4h1.1M447.1 49.1h1.1M436.1 59.7h1.1M444.7 62.2h1.1M436.9 60.9h1.1M444.8 57.1h1.1M444.7 56.3h1.1M442.3 59.7h1.1M445.7 59.3h1.1M442.3 58.2h1.1M447.1 57.9h1.1M441.8 61.6h1.1" stroke="#3a3a3a" stroke-width="1.1" stroke-opacity="0.45"/>
<ellipse cx="442" cy="83.5" rx="14.5" ry="9.7" fill="#262626" transform="rotate(-50 442 83.5)" filter="url(#b0_8)" opacity="0.9"/>
<ellipse cx="442" cy="83.5" rx="9.6" ry="6.4" fill="#9a9a9a" transform="rotate(-50 442 83.5)" filter="url(#b1_2)" opacity="0.85"/>
<path d="M441.9 77.8h1.1M437.3 90.1h1.1M445.1 83h1.1M436.6 86.8h1.1M434.9 90.4h1.1M435.2 90.2h1.1M439.5 86.7h1.1M446.9 83.2h1.1M434.4 97h1.1M442.2 90.6h1.1M446.4 85.3h1.1M445.7 75.7h1.1M440.8 85.9h1.1M434.6 84.1h1.1M436.3 80.4h1.1M445.7 79h1.1M442.3 80.7h1.1M437.2 86h1.1M449.3 75.8h1.1M441.9 85.2h1.1M442.5 95.5h1.1M437.6 81.6h1.1M443.6 89.1h1.1M440.1 87h1.1M437.9 81.5h1.1M447.3 76.5h1.1M444.6 85.1h1.1M444 82.3h1.1M443.9 77.2h1.1M444.8 84.5h1.1M444.2 83h1.1M436.2 80.9h1.1M436.9 87h1.1M440.1 76.6h1.1M446.8 84.1h1.1M439.4 85.1h1.1M445.4 78.7h1.1M438.7 78.6h1.1M447.4 79.4h1.1M439.4 79.3h1.1M439.3 79.4h1.1M436 81.4h1.1M445.1 82h1.1M445.4 71.5h1.1M447 82.8h1.1M443.2 83.1h1.1M445.5 85.4h1.1M440.3 89.6h1.1M434.2 88.3h1.1M441 81.4h1.1M445.4 78.7h1.1M436.8 87h1.1M441.5 88.4h1.1M442.2 90.7h1.1M439.8 89.4h1.1M444.8 86.6h1.1M443 85.9h1.1M445.3 78.4h1.1M444.3 88.1h1.1M440.9 82.8h1.1M444.3 80.2h1.1M434.9 85.3h1.1M439 83h1.1M444.4 80h1.1M438.2 86h1.1M442.2 80.6h1.1M439.3 85.3h1.1M439.7 79.8h1.1M450.4 75.8h1.1M439 92.6h1.1M449.7 79.8h1.1M443.3 92.3h1.1M442.6 89h1.1M440.1 82.5h1.1M433.7 83.1h1.1" stroke="#3a3a3a" stroke-width="1.1" stroke-opacity="0.45"/>
<rect x="427.5" y="25.5" width="87" height="70" fill="none" stroke="#333" stroke-width="1"/>
<line x1="462.5" y1="25.3" x2="462.5" y2="95.3" stroke="#2a2a2a" stroke-width="1"/>
<line x1="427.3" y1="69.5" x2="514.3" y2="69.5" stroke="#2a2a2a" stroke-width="1"/>
<path d="M427.3 95.3v3.1M427.3 95.3h-3.1M433.8 95.3v1.8M427.3 90h-1.8M437.7 95.3v1.8M427.3 87h-1.8M440.4 95.3v1.8M427.3 84.8h-1.8M442.5 95.3v1.8M427.3 83.1h-1.8M444.2 95.3v1.8M427.3 81.7h-1.8M445.7 95.3v1.8M427.3 80.5h-1.8M446.9 95.3v1.8M427.3 79.5h-1.8M448.1 95.3v1.8M427.3 78.6h-1.8M449.1 95.3v3.1M427.3 77.8h-3.1M455.6 95.3v1.8M427.3 72.5h-1.8M459.4 95.3v1.8M427.3 69.5h-1.8M462.1 95.3v1.8M427.3 67.3h-1.8M464.3 95.3v1.8M427.3 65.6h-1.8M466 95.3v1.8M427.3 64.2h-1.8M467.4 95.3v1.8M427.3 63h-1.8M468.7 95.3v1.8M427.3 62h-1.8M469.8 95.3v1.8M427.3 61.1h-1.8M470.8 95.3v3.1M427.3 60.3h-3.1M477.3 95.3v1.8M427.3 55h-1.8M481.2 95.3v1.8M427.3 52h-1.8M483.9 95.3v1.8M427.3 49.8h-1.8M486 95.3v1.8M427.3 48.1h-1.8M487.7 95.3v1.8M427.3 46.7h-1.8M489.2 95.3v1.8M427.3 45.5h-1.8M490.4 95.3v1.8M427.3 44.5h-1.8M491.6 95.3v1.8M427.3 43.6h-1.8M492.5 95.3v3.1M427.3 42.8h-3.1M499.1 95.3v1.8M427.3 37.5h-1.8M502.9 95.3v1.8M427.3 34.5h-1.8M505.6 95.3v1.8M427.3 32.3h-1.8M507.8 95.3v1.8M427.3 30.6h-1.8M509.5 95.3v1.8M427.3 29.2h-1.8M510.9 95.3v1.8M427.3 28h-1.8M512.2 95.3v1.8M427.3 27h-1.8M513.3 95.3v1.8M427.3 26.1h-1.8M514.3 95.3v3.1M427.3 25.3h-3.1" stroke="#333" stroke-width="0.9" fill="none"/>
<text x="428.6" y="105.8" font-size="7.5" font-family='"Liberation Sans", sans-serif' font-weight="bold" textLength="6.6" lengthAdjust="spacingAndGlyphs" text-anchor="end" fill="#000">10</text>
<text x="428.9" y="101.9" font-size="5.8500000000000005" font-family='"Liberation Sans", sans-serif' font-weight="bold" fill="#000">0</text>
<text x="422.3" y="99" font-size="7.5" font-family='"Liberation Sans", sans-serif' font-weight="bold" textLength="6.6" lengthAdjust="spacingAndGlyphs" fill="#000" transform="rotate(-90 422.3 99)">10</text>
<text x="417.7" y="92" font-size="5.8500000000000005" font-family='"Liberation Sans", sans-serif' font-weight="bold" fill="#000" transform="rotate(-90 417.7 92)">0</text>
<text x="450.4" y="105.8" font-size="7.5" font-family='"Liberation Sans", sans-serif' font-weight="bold" textLength="6.6" lengthAdjust="spacingAndGlyphs" text-anchor="end" fill="#000">10</text>
<text x="450.7" y="101.9" font-size="5.8500000000000005" font-family='"Liberation Sans", sans-serif' font-weight="bold" fill="#000">1</text>
<text x="422.3" y="82.9" font-size="7.5" font-family='"Liberation Sans", sans-serif' font-weight="bold" textLength="6.6" lengthAdjust="spacingAndGlyphs" fill="#000" transform="rotate(-90 422.3 82.9)">10</text>
<text x="417.7" y="75.9" font-size="5.8500000000000005" font-family='"Liberation Sans", sans-serif' font-weight="bold" fill="#000" transform="rotate(-90 417.7 75.9)">1</text>
<text x="472.1" y="105.8" font-size="7.5" font-family='"Liberation Sans", sans-serif' font-weight="bold" textLength="6.6" lengthAdjust="spacingAndGlyphs" text-anchor="end" fill="#000">10</text>
<text x="472.4" y="101.9" font-size="5.8500000000000005" font-family='"Liberation Sans", sans-serif' font-weight="bold" fill="#000">2</text>
<text x="422.3" y="65.4" font-size="7.5" font-family='"Liberation Sans", sans-serif' font-weight="bold" textLength="6.6" lengthAdjust="spacingAndGlyphs" fill="#000" transform="rotate(-90 422.3 65.4)">10</text>
<text x="417.7" y="58.4" font-size="5.8500000000000005" font-family='"Liberation Sans", sans-serif' font-weight="bold" fill="#000" transform="rotate(-90 417.7 58.4)">2</text>
<text x="493.8" y="105.8" font-size="7.5" font-family='"Liberation Sans", sans-serif' font-weight="bold" textLength="6.6" lengthAdjust="spacingAndGlyphs" text-anchor="end" fill="#000">10</text>
<text x="494.1" y="101.9" font-size="5.8500000000000005" font-family='"Liberation Sans", sans-serif' font-weight="bold" fill="#000">3</text>
<text x="422.3" y="47.9" font-size="7.5" font-family='"Liberation Sans", sans-serif' font-weight="bold" textLength="6.6" lengthAdjust="spacingAndGlyphs" fill="#000" transform="rotate(-90 422.3 47.9)">10</text>
<text x="417.7" y="40.9" font-size="5.8500000000000005" font-family='"Liberation Sans", sans-serif' font-weight="bold" fill="#000" transform="rotate(-90 417.7 40.9)">3</text>
<text x="515.6" y="105.8" font-size="7.5" font-family='"Liberation Sans", sans-serif' font-weight="bold" textLength="6.6" lengthAdjust="spacingAndGlyphs" text-anchor="end" fill="#000">10</text>
<text x="515.9" y="101.9" font-size="5.8500000000000005" font-family='"Liberation Sans", sans-serif' font-weight="bold" fill="#000">4</text>
<text x="422.3" y="30.4" font-size="7.5" font-family='"Liberation Sans", sans-serif' font-weight="bold" textLength="6.6" lengthAdjust="spacingAndGlyphs" fill="#000" transform="rotate(-90 422.3 30.4)">10</text>
<text x="417.7" y="23.4" font-size="5.8500000000000005" font-family='"Liberation Sans", sans-serif' font-weight="bold" fill="#000" transform="rotate(-90 417.7 23.4)">4</text>
<line x1="488" y1="35.5" x2="511.5" y2="35.5" stroke="#222" stroke-width="1"/>
<line x1="500.5" y1="27.7" x2="500.5" y2="44.8" stroke="#222" stroke-width="1"/>
<text x="499.2" y="33.3" font-size="9" font-family='"Liberation Serif", serif' text-anchor="end" fill="#000" stroke="#000" stroke-width="0.25">57.9</text>
<text x="501" y="33.3" font-size="9" font-family='"Liberation Serif", serif' fill="#000" stroke="#000" stroke-width="0.25">2.8</text>
<text x="499.2" y="43.8" font-size="9" font-family='"Liberation Serif", serif' text-anchor="end" fill="#000" stroke="#000" stroke-width="0.25">39.3</text>
<text x="501" y="43.8" font-size="9" font-family='"Liberation Serif", serif' fill="#000" stroke="#000" stroke-width="0.25">0.1</text>
<path d="M217 173.5h1.3M218.3 166h1.3M217.5 173.6h1.3M220.9 173.2h1.3M216.2 173h1.3M215.2 169.4h1.3M220.3 168.4h1.3M216.1 171.9h1.3M219.9 165.3h1.3M220.5 162.9h1.3M219.8 163.1h1.3M222.2 155h1.3M220.6 172.3h1.3M223 157.5h1.3M219.5 167.4h1.3M223.9 167.7h1.3M214.9 168.5h1.3M217.4 167.4h1.3M220.5 169.7h1.3M217.2 170.2h1.3M218.5 162.9h1.3M222.2 156.9h1.3M216.4 167.8h1.3M217.6 159.6h1.3M219.4 160h1.3M218.3 174.6h1.3M222.2 160.6h1.3M222.2 168.6h1.3M221.8 170.2h1.3M221.2 158.2h1.3M222 156.1h1.3M214.6 159.8h1.3M215.3 166.3h1.3M224.9 172.1h1.3M214 162.1h1.3M219.2 157.9h1.3M216.8 165.4h1.3M219.9 171.6h1.3M219.4 170.5h1.3M216.9 166.5h1.3M216.3 162.3h1.3M221.9 156.8h1.3M213.8 160.2h1.3M216 157.1h1.3M216.7 171.8h1.3M219.3 161.3h1.3M224.2 165.3h1.3M219.4 173h1.3M218.5 159.1h1.3M215.2 157.6h1.3M215.1 161.9h1.3M217.2 162.4h1.3M214.3 161.7h1.3M220.5 168.1h1.3M222.1 166.3h1.3M218.3 157.3h1.3M216.6 167.1h1.3M217.2 171h1.3M215.3 158.1h1.3M214.5 163.7h1.3M193.7 159.4h1.3M213.6 169.5h1.3M220 178h1.3M213.2 141h1.3M200.8 178.2h1.3M211.5 176.4h1.3M196.7 163.5h1.3M205.9 157.6h1.3M219.5 140.7h1.3M215 169.8h1.3M196.8 163.2h1.3M209.4 177.4h1.3M218.4 136.4h1.3M198.5 183.8h1.3M220.8 140.1h1.3M215.3 134.1h1.3M193.4 195.5h1.3M215.3 158.9h1.3M217 173.4h1.3M206.4 149.3h1.3M252 195.8h1.3M267.4 178.1h1.3M256.3 193.5h1.3M229.8 181.8h1.3M227.2 186.5h1.3M262.4 186.2h1.3M224 189.5h1.3M262.6 179h1.3M232.4 175.8h1.3M254.4 179.8h1.3" stroke="#5e5e5e" stroke-width="1.3"/>
<path d="M222 166.3h1.1M196.4 192.6h1.1M219 177.1h1.1M213.5 167h1.1M216.8 172.9h1.1M203.9 194.6h1.1M201.7 186.7h1.1M211.6 193.3h1.1M213 182.2h1.1M221.1 168.8h1.1M217.5 176.7h1.1M216.2 168.7h1.1M202.2 184.7h1.1M208.8 180.9h1.1M213.1 168.7h1.1M208.1 193.9h1.1M206.3 177.3h1.1M218.9 172.1h1.1M207.4 184.9h1.1M211.6 170h1.1M203.8 190.6h1.1M209.4 187h1.1M206.7 184.1h1.1M221.1 162.6h1.1M219.6 168.3h1.1M221.5 167.6h1.1M223.7 165.7h1.1M212.9 194.8h1.1M215.5 178.3h1.1M208.3 175.3h1.1M214.6 174.7h1.1M208.9 188.7h1.1M220.8 170.1h1.1M214.1 182.7h1.1M215 177.2h1.1M213.2 185.6h1.1M212.2 189.2h1.1M211.5 186.1h1.1M221 169.5h1.1M207.2 173.1h1.1M212.7 184.1h1.1M217.9 167.7h1.1M198.8 195.1h1.1M202.5 186h1.1M213.3 186.8h1.1M209.9 182.2h1.1M209.3 178.1h1.1M201.4 194.9h1.1M215.3 175h1.1M212.6 181.8h1.1M206.2 180.9h1.1M215.1 178.4h1.1M205.9 175.3h1.1M209.6 186.5h1.1M218.7 194.5h1.1M214.7 176.2h1.1M202.2 181.5h1.1M211.9 193.6h1.1M219.9 175.5h1.1M207.2 175.2h1.1M202.7 187.9h1.1M207.5 181.4h1.1M210 182.8h1.1M213 167.8h1.1M214.5 189.1h1.1M217.5 170.6h1.1M203.2 177.9h1.1M216.7 192.4h1.1M211.6 182.9h1.1M208.5 194.2h1.1M217.4 162.9h1.1M218.3 167.2h1.1M214.7 168.3h1.1M198.5 178.2h1.1M215.6 175.1h1.1M217.6 182.2h1.1M213 187.2h1.1M207.4 182.9h1.1M210.6 176.4h1.1M213.7 180.4h1.1M208.1 175.5h1.1M212.8 189.9h1.1M199.4 195.4h1.1M215.9 173.4h1.1M202.5 188.1h1.1M214.2 186.3h1.1M200.2 184.1h1.1M215.4 173.3h1.1M213.9 179.3h1.1M217.4 176.1h1.1M213.3 184.1h1.1M210.1 174.8h1.1M206.3 180.9h1.1M212.3 182.3h1.1M217.2 168.1h1.1M215.1 176.7h1.1M216.9 188h1.1M207.9 186.5h1.1M208.6 177.9h1.1M208.6 189.3h1.1M209.9 189.4h1.1M209.5 179.9h1.1M208.7 174.6h1.1M211.3 169.6h1.1M217.5 168.8h1.1M200.4 187.2h1.1M200 192.8h1.1M209.9 189.3h1.1M211.7 179h1.1M213 176h1.1M214.8 182.3h1.1M217 180.6h1.1M218.5 168.6h1.1M206 172.9h1.1M215.5 194.3h1.1M199.9 191.1h1.1M211.2 175.3h1.1M215.2 168.1h1.1M209 183h1.1M210.7 193.6h1.1M209.8 191.7h1.1M222.5 168.4h1.1M216.5 170.8h1.1M207.8 195.8h1.1M218 186.8h1.1M212.8 176.5h1.1M217.7 172.9h1.1M203.6 188.1h1.1M206.4 194.7h1.1M215 168.8h1.1M207.7 192.8h1.1M200.1 181.1h1.1M222 169.4h1.1M200.1 184.5h1.1M206.5 183.7h1.1M217 173.5h1.1M210.6 184h1.1M204.3 186.3h1.1M213.4 180.4h1.1M215.9 187.7h1.1M211.7 185h1.1M207.7 175.2h1.1M201.8 190.5h1.1M211.5 170.3h1.1M215.5 165.7h1.1M205.8 194.1h1.1M211.7 195.1h1.1M219.3 165.1h1.1M218.2 170.5h1.1M199.9 188.5h1.1M216.2 180.5h1.1M207.6 179.2h1.1M201.9 179.1h1.1M210.8 172.9h1.1M224 166.9h1.1M203.3 179.6h1.1M201.2 190.8h1.1M202.2 180.5h1.1M210.5 194.8h1.1M200.2 181.1h1.1M222.2 169.3h1.1M220 169.6h1.1M212.6 180.5h1.1M222.4 169.2h1.1M218.8 166.9h1.1M204.3 179.5h1.1M210.5 188.6h1.1M211 167.8h1.1M200.3 194.9h1.1M210 174.2h1.1M214 177.6h1.1M207 180.5h1.1M200 178.5h1.1M203.9 193.2h1.1M212.2 183.4h1.1M201.5 181.5h1.1M207.7 181.7h1.1M204.9 179.5h1.1M196.1 189.5h1.1M213.8 181.1h1.1M216.5 190.6h1.1M216.8 179h1.1M215.5 190.3h1.1M204.7 176.8h1.1M209.3 191.2h1.1M218.5 166h1.1M211.8 181.2h1.1M203.5 178.7h1.1M223.2 166.7h1.1M214 180.4h1.1M201.5 186.6h1.1M211 173.5h1.1M201.8 186.4h1.1M213.6 171.6h1.1M206.4 175.3h1.1M209.2 191.4h1.1M203.1 194.3h1.1M216.1 181.9h1.1M197.8 191.2h1.1M215.2 174.4h1.1M208 193h1.1M200.5 182.1h1.1M212.4 190h1.1M214.6 180.7h1.1M205 194.5h1.1M200.8 187.8h1.1M210.6 171.9h1.1M207.1 195.9h1.1M212 187.7h1.1M215.5 171.1h1.1M201.8 178.6h1.1M221.4 162.9h1.1M202.2 185.3h1.1M204.5 183.6h1.1M201.4 187.6h1.1M217.3 171.3h1.1M211.9 186.1h1.1M215.9 184.2h1.1M213.3 183.9h1.1M215.5 181.5h1.1M219.3 172.3h1.1M208.3 180.4h1.1M205.1 179.7h1.1M207.5 191.5h1.1M207 193.4h1.1M201.7 185.4h1.1M213.7 179.8h1.1M214.3 188h1.1M203.1 183.7h1.1M220.9 167.1h1.1M209.8 173h1.1M209.1 190.3h1.1M217.4 175.8h1.1M205.9 179.2h1.1M198.8 194.4h1.1M196.7 187h1.1M216.1 168h1.1M212.6 192.5h1.1M198.2 194.3h1.1M200.1 193h1.1M203 193.9h1.1M209.7 170.9h1.1M214.4 165.9h1.1M217 167.9h1.1M208.7 180h1.1M200.2 186.9h1.1M210.5 186.7h1.1M214.3 167.6h1.1M214.2 168.5h1.1M211.1 192.1h1.1M207.6 178.2h1.1M199.5 183.5h1.1M213.7 186.4h1.1M212.9 168.4h1.1M204.1 178.6h1.1M213 188.8h1.1M215.9 183.8h1.1M213.3 196.2h1.1M216.2 176.3h1.1M216 170.1h1.1M219 172.1h1.1M204.2 184.8h1.1M206.2 178.9h1.1M218.2 173.7h1.1M209.9 191.2h1.1M206.9 176.3h1.1M196.3 193.7h1.1M212.7 192.8h1.1M206.4 176.5h1.1M205.2 173.8h1.1M210.5 194h1.1M209.7 172.2h1.1M208.5 189.1h1.1M210.3 191.2h1.1M221.9 178.3h1.1M214.7 187.2h1.1M214.9 184.4h1.1M206.5 184.8h1.1M221.4 166.9h1.1M207.5 194.5h1.1M207.7 195.2h1.1M212.7 167.4h1.1M199.9 191.9h1.1M211.1 190.6h1.1M200.1 186.7h1.1M202.6 188.1h1.1M203 185.4h1.1M215 165.2h1.1M202.2 193.4h1.1M210.2 187.1h1.1M209.5 186.3h1.1M222.3 174.1h1.1M213 169.3h1.1M203.6 180.9h1.1M204.4 190.1h1.1M213.8 189.2h1.1M208.8 170.4h1.1M201 182.9h1.1M211.9 192.9h1.1M212.7 190.6h1.1M213.6 191.3h1.1M201 189h1.1M210.4 184.8h1.1M211.3 195.5h1.1M217.5 165.5h1.1M219.1 165.3h1.1M208.6 190.1h1.1M207.5 175.9h1.1M211.2 187.4h1.1M198.9 194.4h1.1M210.4 191.5h1.1M208.8 181.7h1.1M203.8 190h1.1M216 165.9h1.1M217.7 169.7h1.1M211.9 194.3h1.1M208.9 178.7h1.1M200.2 191.6h1.1M222.8 170h1.1M205.5 177.8h1.1M212 187.1h1.1M210.3 178.2h1.1M208.4 174.4h1.1M212 174.9h1.1M206.1 192h1.1M211.3 175.6h1.1M215.2 187h1.1M210.8 177.2h1.1M206.7 183.6h1.1M210.1 170.7h1.1M206.4 171.9h1.1M206.1 176.9h1.1M205.3 188.5h1.1M204.5 179.2h1.1M213.2 167.4h1.1M203.8 183.4h1.1M202.4 188.6h1.1M205.5 189.6h1.1M214.9 186.2h1.1M210.5 179.8h1.1M210.4 191.4h1.1M213.3 184.4h1.1M210.3 181.6h1.1M211.4 179.7h1.1M218.4 173.9h1.1M218.7 176.1h1.1M209 191.8h1.1M208.1 173.3h1.1M217.3 184.9h1.1M214.5 191.4h1.1M214.1 177.4h1.1M206.7 193.8h1.1M204.2 192.4h1.1M206.6 191.1h1.1M216.1 167.3h1.1M205.5 189.4h1.1M206.5 193.9h1.1M220.6 170.4h1.1M214.6 193.1h1.1M210.8 195.6h1.1M223 165.4h1.1M213 173.3h1.1M210.2 185.6h1.1M207.3 179.2h1.1M222.7 165.3h1.1M200.3 184h1.1M199.2 196.3h1.1M223.8 166.9h1.1M212.7 182.9h1.1M204.5 189.6h1.1M206.8 184.7h1.1M198 184.4h1.1M220.4 164.7h1.1M219.1 175.8h1.1M214.5 188.5h1.1M205.8 180.9h1.1M206.5 174.2h1.1M214.1 193.5h1.1M210.3 170.5h1.1M200.1 189.2h1.1M212.4 189.7h1.1M207.5 186.1h1.1M204.2 194.5h1.1M220.9 178.2h1.1M217.6 177.5h1.1M201.3 190.5h1.1M210.5 169.3h1.1M214.3 179.7h1.1M207.3 179.3h1.1M214.8 182.7h1.1M206.3 185.6h1.1M220 173.3h1.1M216.4 175.9h1.1M210.4 179.1h1.1M220.9 167.6h1.1M205.3 188.1h1.1M211.4 174.6h1.1M209.9 179.7h1.1M208.4 181.6h1.1M202.9 188.3h1.1M212.2 188.6h1.1M215.8 190.8h1.1M210.4 175.6h1.1M201.3 186.9h1.1M221.5 171.1h1.1M223.5 170.1h1.1M208.5 188.5h1.1M221.5 171.7h1.1M213.4 186.7h1.1M205.8 194.3h1.1M206.4 189.2h1.1M198.7 193.2h1.1M200.7 188.8h1.1M214.3 166.7h1.1M218.4 187.3h1.1M208.6 176h1.1M207.1 173.5h1.1M206.6 186.4h1.1M210.6 193.5h1.1M200.2 185.3h1.1M212.5 189.2h1.1M214.9 188h1.1M220.2 168.3h1.1M216.7 175.8h1.1M201.6 193.9h1.1M206.9 177.5h1.1M211.4 192.8h1.1M204.3 187.7h1.1M208.3 184.1h1.1M213.2 181.6h1.1M204.9 181.1h1.1M200.1 189.1h1.1M218.4 167h1.1M213 196h1.1M205.1 182.4h1.1M217.3 172.1h1.1M204.2 181.5h1.1M219.2 168.6h1.1M208.1 190.5h1.1M214.4 183.7h1.1M220 170.3h1.1M217.1 182.9h1.1M216 177.7h1.1M218 166.6h1.1M209.1 190.1h1.1M211.7 176.5h1.1M209.3 194.6h1.1M211.8 188.3h1.1M211.9 174.8h1.1M218.5 170.1h1.1M216.8 175.2h1.1M207.8 178.3h1.1M207.3 177.8h1.1M210.6 186.9h1.1M202.9 187.6h1.1M215 181.7h1.1M212.1 190.6h1.1M216 169.2h1.1M215.4 175.9h1.1M212.9 175h1.1M204.6 182.9h1.1M221 167.8h1.1M201.7 179.9h1.1M220.5 171.2h1.1M206.5 173.8h1.1M203.7 196.3h1.1M202.4 187.3h1.1M196.4 188.1h1.1M213.1 193.7h1.1M220.3 178.5h1.1M204.1 186.6h1.1M207.6 191h1.1M207.6 195.7h1.1M226.2 167.6h1.1M211.8 178.9h1.1M221.1 165.9h1.1M208.8 193.3h1.1M210.7 180h1.1M213.3 192.3h1.1M209.7 193.5h1.1M213.6 173.2h1.1M214.1 184.1h1.1M216.6 165.3h1.1M213 188h1.1M206.8 193.2h1.1M212.4 171.9h1.1M219.1 162.1h1.1M202.5 195h1.1M210.3 191.9h1.1M218.5 167.4h1.1M223 162.8h1.1M204.3 182.6h1.1M221.1 178h1.1M213 184.9h1.1M219.7 187.7h1.1M214.3 163.4h1.1M216.5 183.4h1.1M207.5 186.2h1.1M202.7 188.1h1.1M217.6 169.2h1.1M212.7 171.4h1.1M207.7 190.6h1.1M201.1 184.1h1.1M200.8 189.1h1.1M211.9 195h1.1M220.9 173.3h1.1M211.3 178.6h1.1M208.3 186.4h1.1M214.3 188.8h1.1M209.9 178.7h1.1M204.4 192.5h1.1M243.6 149.5h1.1M253.6 152.1h1.1M247.8 150.4h1.1M246.3 155.5h1.1M251.5 156.9h1.1M234.7 148.2h1.1M237.9 154.9h1.1M240.1 163.4h1.1M244.8 150h1.1M250.5 153h1.1M247.4 163h1.1M245.8 149h1.1M233.5 164.9h1.1M232.5 149.8h1.1M252.3 152h1.1M249.6 147.4h1.1M254.5 150.2h1.1M225 154.2h1.1M219 166.4h1.1M249.8 162.7h1.1M226.2 157.9h1.1M246.9 163.7h1.1M233.2 162.3h1.1M238.2 161.8h1.1M230.1 166.8h1.1M246.5 154.7h1.1M243.5 155.5h1.1M247.8 154.1h1.1M247.2 161.1h1.1M233.6 162.5h1.1M236.7 159.8h1.1M217.9 163.6h1.1M246.5 150.7h1.1M236.6 154.8h1.1M247.5 158.4h1.1M244.3 160.4h1.1M237.5 161h1.1M234.9 164.5h1.1M225.1 160.7h1.1M239.8 151.3h1.1M244.4 147.3h1.1M245.8 154.6h1.1M227.7 154.5h1.1M225.3 164.1h1.1M224.1 157.8h1.1M230 149.4h1.1M244.2 157.6h1.1M238.7 153.3h1.1M237.9 159.3h1.1M232.1 153.6h1.1M223.8 168.1h1.1M237.9 148h1.1M245.5 150.5h1.1M247.6 157.9h1.1M241.6 161.4h1.1M227.6 155.6h1.1M248.5 158.2h1.1M251.8 157.9h1.1M242.3 158.7h1.1M245.1 149.6h1.1M248.4 147.5h1.1M226.5 161.7h1.1M237 149.4h1.1M243.1 149.2h1.1M231.1 151h1.1M249 148.6h1.1M252.2 152.6h1.1M242.6 155.8h1.1M239.9 160.7h1.1M227.7 168h1.1M242.3 160.2h1.1M253.6 147.4h1.1M251.9 148.6h1.1M256.5 153.5h1.1M230.3 161.4h1.1M224.6 164.2h1.1M230.5 154.8h1.1M233.5 153.8h1.1M252.2 159.1h1.1M236.6 162.5h1.1M252.7 152.7h1.1M244.6 156.7h1.1M242 149.8h1.1M243.9 156.9h1.1M245.4 145.8h1.1M241.2 158.8h1.1M220.8 159.9h1.1M231.6 158.4h1.1M249 147h1.1M222.2 156.6h1.1M233.4 160.5h1.1M246.3 157.3h1.1M234.1 159.9h1.1M247.2 160.3h1.1M234.9 161.1h1.1M249.9 154.2h1.1M251.5 149.9h1.1M253.9 153.3h1.1M252.4 156h1.1M230.8 155h1.1M229.6 152.7h1.1M243 154.6h1.1M235.8 150.9h1.1M228.9 156.6h1.1M249.3 158.9h1.1M247.4 160.3h1.1M237.3 156.5h1.1M255.4 156.1h1.1M248 159.4h1.1M224 163.6h1.1M230.8 159.5h1.1M229.4 161.3h1.1M239.6 147h1.1M235.6 155.5h1.1M248.7 151.2h1.1M250.2 150.5h1.1M218.6 161.2h1.1M235.9 165.2h1.1M224.2 155h1.1M252.1 146.4h1.1M237.2 152.3h1.1M249.3 145.9h1.1M248.1 156.2h1.1M223.5 166.1h1.1M235.8 158.2h1.1M223.8 157.4h1.1M220.4 163h1.1M230.9 157h1.1M234.4 160.4h1.1M242.9 151.1h1.1M234.8 150.1h1.1M247.7 159.9h1.1M233.8 162.6h1.1M256.8 158.7h1.1M241.8 154.5h1.1M252.4 155.9h1.1M237.6 166h1.1M222.2 162.5h1.1M241.9 154.3h1.1M220 164.1h1.1M230.1 160.9h1.1M224.8 166h1.1M231.5 156h1.1M250.5 161.4h1.1M238.2 159.6h1.1M230.2 154.1h1.1M241.9 149.7h1.1M225.5 161.5h1.1M221 164.3h1.1M236.8 155.7h1.1M228.4 162.3h1.1M236 161.4h1.1M224.6 157.3h1.1M244 150.7h1.1M226.1 164.6h1.1M250.7 145.3h1.1M243.2 162.1h1.1M248.8 147.2h1.1M246.3 153.8h1.1M223.1 161.2h1.1M249.2 161.6h1.1M228.1 150.3h1.1M247.9 160.4h1.1M248.9 156.1h1.1M231.2 151.4h1.1M247.4 157.6h1.1M237.3 149.9h1.1M252.2 155.5h1.1M245 151.1h1.1M239.4 156.7h1.1M232.3 158.7h1.1M226.9 162.2h1.1M248.3 146.2h1.1M227.9 156.9h1.1M254.5 156.3h1.1M229.3 157.5h1.1M233.4 151.6h1.1M241.7 152.6h1.1M241.3 147.4h1.1M231.3 154.2h1.1M229.4 162.2h1.1M247.3 163h1.1M244.6 151h1.1M252.5 144.4h1.1M242.9 157.6h1.1M249.8 158.1h1.1M222.5 162h1.1M254.8 147.2h1.1M228.1 165.8h1.1M242.8 150.2h1.1M242.4 150.2h1.1M232.2 162.8h1.1M245.3 156.3h1.1M248.5 151.6h1.1M228.9 153.5h1.1M240.2 156.5h1.1M250.7 145.5h1.1M236.9 155.7h1.1M233 162.4h1.1M238.2 154.9h1.1M222.7 161.3h1.1M242.7 154.5h1.1M254.4 152.5h1.1M245.6 157.3h1.1M232.1 151.9h1.1M245.9 154.1h1.1M230.8 151.3h1.1M244.3 154.7h1.1M241 151.7h1.1M235.6 158.8h1.1M241.6 149.5h1.1M243.5 164.2h1.1M248.9 147.2h1.1M244.2 149.5h1.1M233.5 159.7h1.1M237.2 162.8h1.1M248.7 147.3h1.1M228.4 161.5h1.1M232.3 159.8h1.1M224.7 158h1.1M239 153.5h1.1M241.4 163.9h1.1M250.1 147.3h1.1M254.7 159.4h1.1M240.2 153.4h1.1M223.8 159.5h1.1M257.5 153.1h1.1M240.2 149.3h1.1M221.6 166.4h1.1M240.2 157.5h1.1M249.4 161.1h1.1M228.6 152.9h1.1M242.5 157.8h1.1M225 161.8h1.1M233.8 160.5h1.1M247 149.2h1.1M240.3 157.1h1.1M243.9 160.5h1.1M252.3 152.3h1.1M225.1 165.3h1.1M245.4 149.4h1.1M240.1 161h1.1M253 155.2h1.1M227.9 159.3h1.1M239.1 159.3h1.1M244.2 149.9h1.1M220.9 166.9h1.1M247 149.2h1.1M234.5 162.2h1.1M246.9 160.2h1.1M254.1 149.1h1.1M219.2 161.3h1.1M238.6 161h1.1M221.6 163.9h1.1M236.6 156.2h1.1M228.5 162.7h1.1M252.5 155.1h1.1M227.2 161.2h1.1M222.1 166.6h1.1M232.7 157.2h1.1M255.7 158h1.1M229.7 157.2h1.1M243.7 155.4h1.1M219.3 166.3h1.1M227.4 152.7h1.1M233.7 150.6h1.1M247 155.6h1.1M235 163.6h1.1M236.9 164.7h1.1M234.9 161.3h1.1M253.3 145.4h1.1M221.2 161.7h1.1M244.6 153.2h1.1M233.4 165.3h1.1M253.8 153.8h1.1M233.7 164.1h1.1M247 152h1.1M237.9 164h1.1M222.1 166.6h1.1M253.1 161.2h1.1M238 152.1h1.1M238.4 161h1.1M237.9 148h1.1M242.3 148.5h1.1M226.4 164.9h1.1M233.6 157.5h1.1M234.1 149h1.1M244.6 146.5h1.1M223.3 167.5h1.1M241 152.8h1.1M228.3 162.6h1.1M230.2 159h1.1M234.6 150.2h1.1M226.4 161.4h1.1M228.3 162.5h1.1M242.3 162.6h1.1M248.5 146.9h1.1M246.7 152.8h1.1M241.3 154.3h1.1M244.1 153.7h1.1M229.4 154.6h1.1M245.8 162h1.1M227.1 165.3h1.1M244 146.9h1.1M250.2 147.3h1.1M221.8 158.8h1.1M253.3 148.3h1.1M221.3 162.6h1.1M243.4 157.3h1.1M231.6 156.4h1.1M240.9 151.2h1.1M244.7 161.1h1.1M239.5 161h1.1M251.1 149.4h1.1M245.8 154.5h1.1M227.9 161h1.1M224.1 166.8h1.1M237 157h1.1M242 149.1h1.1M240.8 152.2h1.1M238.1 159.2h1.1M229.6 159.6h1.1M247.7 154.3h1.1M229.9 159.6h1.1M232.4 165.3h1.1M235.4 156.3h1.1M243.3 153.5h1.1M236.4 151.6h1.1M230.5 160.1h1.1M240.1 156.6h1.1M240.5 161h1.1M239.9 151h1.1M241.9 154.6h1.1M238.7 155.7h1.1M239 161.2h1.1M222.7 160.9h1.1M231.7 151h1.1M247.4 153.7h1.1M220.7 166.2h1.1M255.9 149.5h1.1M256.1 153.4h1.1M228 156.7h1.1M231.6 155.6h1.1M254.7 156.5h1.1M247.6 158.4h1.1M238.1 160.7h1.1M235.2 156.6h1.1M243.7 159.2h1.1M230.7 167.1h1.1M254.7 150.2h1.1M252.6 157.2h1.1M248.7 160.3h1.1M242.9 161h1.1M240 151.1h1.1M232.2 160.6h1.1M232 165.5h1.1M246 163h1.1M231.2 161.4h1.1M225.4 164.8h1.1M236.5 167h1.1M249.1 148.3h1.1M237 151.6h1.1M239.7 157.7h1.1M232.9 163.4h1.1M240.8 160.7h1.1M235.1 163.2h1.1M225.1 167.3h1.1M252.6 156h1.1M236 151.2h1.1M238.6 163.1h1.1M252.9 150.4h1.1M229.5 157.2h1.1M234.6 149.6h1.1M249.5 158h1.1M227.6 163.8h1.1M223.6 160.7h1.1M222.7 162h1.1M247.7 153.8h1.1M228.1 159.1h1.1M228.7 151.5h1.1M246.7 160.4h1.1M228.1 158.9h1.1M237.2 155.7h1.1M243.7 160.7h1.1M238.2 155.8h1.1M244.5 152.1h1.1M227.4 157h1.1M244.4 160.4h1.1M228.2 162h1.1M250.6 146.7h1.1M240.4 149.9h1.1M221.6 163.2h1.1M249.8 162.3h1.1M234 163.8h1.1M237.8 158.5h1.1M248.6 146.8h1.1M252.7 155.5h1.1M219.5 159.2h1.1M249.4 160.5h1.1M242.6 158.5h1.1" stroke="#2a2a2a" stroke-width="1.1"/>
<polygon points="199.5,196.4 199.7,185.7 203.8,178.1 210.3,171.8 215.8,165.8 221.6,162.7 224.5,166.6 220.3,174.4 217.4,183.5 215.8,191.2 213,196.2" fill="#333" filter="url(#b0_8)" opacity="0.9"/>
<polygon points="202.5,195.5 203,186 207,179 213,173.5 217.5,171.5 216.5,180 213,189 210,195.5" fill="#999" filter="url(#b1_2)" opacity="0.85"/>
<path d="M210.3 179.9h1.1M208.2 186h1.1M207.4 183.6h1.1M208.3 182.4h1.1M205.6 187.6h1.1M204 189.5h1.1M210.2 178h1.1M215.1 175h1.1M211.4 181.7h1.1M210.3 180.9h1.1M208.9 187.6h1.1M207.8 188.7h1.1M204.9 183.9h1.1M207.7 193.2h1.1M209.5 190h1.1M209.9 189.8h1.1M212 187h1.1M215.4 176.4h1.1M210.6 181.6h1.1M207.7 181h1.1M210.6 183.7h1.1M212.3 182.1h1.1M205.3 185.8h1.1M204.9 190.8h1.1M209.3 185h1.1M212.9 181h1.1M207.2 185.6h1.1M207.3 183.9h1.1M204.9 190.1h1.1M213.5 174.7h1.1M214 175.8h1.1M206.8 186.6h1.1M205.9 187.8h1.1M215.5 175.9h1.1M205.2 187.3h1.1M211 180.8h1.1" stroke="#3a3a3a" stroke-width="1.1" stroke-opacity="0.45"/>
<polygon points="220.8,160.8 230.6,151.5 241.7,147.7 252.4,146.5 256.2,151.2 252.2,159.8 239.8,163.7 228.6,165.5 221.7,165.6" fill="#555" filter="url(#b0_8)" opacity="0.85"/>
<ellipse cx="243" cy="156" rx="9" ry="3" fill="#8a8a8a" transform="rotate(-10 243 156)" filter="url(#b1_2)" opacity="0.7"/>
<rect x="192.5" y="127.5" width="85" height="70" fill="none" stroke="#333" stroke-width="1"/>
<line x1="223.5" y1="127.7" x2="223.5" y2="197.1" stroke="#2a2a2a" stroke-width="1"/>
<line x1="192.1" y1="171.5" x2="277.1" y2="171.5" stroke="#2a2a2a" stroke-width="1"/>
<path d="M192.1 197.1v3.1M192.1 197.1h-3.1M198.5 197.1v1.8M192.1 191.9h-1.8M202.2 197.1v1.8M192.1 188.8h-1.8M204.9 197.1v1.8M192.1 186.7h-1.8M207 197.1v1.8M192.1 185h-1.8M208.6 197.1v1.8M192.1 183.6h-1.8M210.1 197.1v1.8M192.1 182.4h-1.8M211.3 197.1v1.8M192.1 181.4h-1.8M212.4 197.1v1.8M192.1 180.5h-1.8M213.3 197.1v3.1M192.1 179.8h-3.1M219.7 197.1v1.8M192.1 174.5h-1.8M223.5 197.1v1.8M192.1 171.5h-1.8M226.1 197.1v1.8M192.1 169.3h-1.8M228.2 197.1v1.8M192.1 167.6h-1.8M229.9 197.1v1.8M192.1 166.2h-1.8M231.3 197.1v1.8M192.1 165.1h-1.8M232.5 197.1v1.8M192.1 164.1h-1.8M233.6 197.1v1.8M192.1 163.2h-1.8M234.6 197.1v3.1M192.1 162.4h-3.1M241 197.1v1.8M192.1 157.2h-1.8M244.7 197.1v1.8M192.1 154.1h-1.8M247.4 197.1v1.8M192.1 152h-1.8M249.5 197.1v1.8M192.1 150.3h-1.8M251.1 197.1v1.8M192.1 148.9h-1.8M252.6 197.1v1.8M192.1 147.7h-1.8M253.8 197.1v1.8M192.1 146.7h-1.8M254.9 197.1v1.8M192.1 145.8h-1.8M255.9 197.1v3.1M192.1 145.1h-3.1M262.2 197.1v1.8M192.1 139.8h-1.8M266 197.1v1.8M192.1 136.8h-1.8M268.6 197.1v1.8M192.1 134.6h-1.8M270.7 197.1v1.8M192.1 132.9h-1.8M272.4 197.1v1.8M192.1 131.5h-1.8M273.8 197.1v1.8M192.1 130.4h-1.8M275 197.1v1.8M192.1 129.4h-1.8M276.1 197.1v1.8M192.1 128.5h-1.8M277.1 197.1v3.1M192.1 127.7h-3.1" stroke="#333" stroke-width="0.9" fill="none"/>
<text x="193.4" y="207.6" font-size="7.5" font-family='"Liberation Sans", sans-serif' font-weight="bold" textLength="6.6" lengthAdjust="spacingAndGlyphs" text-anchor="end" fill="#000">10</text>
<text x="193.7" y="203.7" font-size="5.8500000000000005" font-family='"Liberation Sans", sans-serif' font-weight="bold" fill="#000">0</text>
<text x="187.1" y="200.8" font-size="7.5" font-family='"Liberation Sans", sans-serif' font-weight="bold" textLength="6.6" lengthAdjust="spacingAndGlyphs" fill="#000" transform="rotate(-90 187.1 200.8)">10</text>
<text x="182.5" y="193.8" font-size="5.8500000000000005" font-family='"Liberation Sans", sans-serif' font-weight="bold" fill="#000" transform="rotate(-90 182.5 193.8)">0</text>
<text x="214.7" y="207.6" font-size="7.5" font-family='"Liberation Sans", sans-serif' font-weight="bold" textLength="6.6" lengthAdjust="spacingAndGlyphs" text-anchor="end" fill="#000">10</text>
<text x="214.9" y="203.7" font-size="5.8500000000000005" font-family='"Liberation Sans", sans-serif' font-weight="bold" fill="#000">1</text>
<text x="187.1" y="184.9" font-size="7.5" font-family='"Liberation Sans", sans-serif' font-weight="bold" textLength="6.6" lengthAdjust="spacingAndGlyphs" fill="#000" transform="rotate(-90 187.1 184.9)">10</text>
<text x="182.5" y="177.9" font-size="5.8500000000000005" font-family='"Liberation Sans", sans-serif' font-weight="bold" fill="#000" transform="rotate(-90 182.5 177.9)">1</text>
<text x="235.9" y="207.6" font-size="7.5" font-family='"Liberation Sans", sans-serif' font-weight="bold" textLength="6.6" lengthAdjust="spacingAndGlyphs" text-anchor="end" fill="#000">10</text>
<text x="236.2" y="203.7" font-size="5.8500000000000005" font-family='"Liberation Sans", sans-serif' font-weight="bold" fill="#000">2</text>
<text x="187.1" y="167.5" font-size="7.5" font-family='"Liberation Sans", sans-serif' font-weight="bold" textLength="6.6" lengthAdjust="spacingAndGlyphs" fill="#000" transform="rotate(-90 187.1 167.5)">10</text>
<text x="182.5" y="160.5" font-size="5.8500000000000005" font-family='"Liberation Sans", sans-serif' font-weight="bold" fill="#000" transform="rotate(-90 182.5 160.5)">2</text>
<text x="257.2" y="207.6" font-size="7.5" font-family='"Liberation Sans", sans-serif' font-weight="bold" textLength="6.6" lengthAdjust="spacingAndGlyphs" text-anchor="end" fill="#000">10</text>
<text x="257.5" y="203.7" font-size="5.8500000000000005" font-family='"Liberation Sans", sans-serif' font-weight="bold" fill="#000">3</text>
<text x="187.1" y="150.2" font-size="7.5" font-family='"Liberation Sans", sans-serif' font-weight="bold" textLength="6.6" lengthAdjust="spacingAndGlyphs" fill="#000" transform="rotate(-90 187.1 150.2)">10</text>
<text x="182.5" y="143.2" font-size="5.8500000000000005" font-family='"Liberation Sans", sans-serif' font-weight="bold" fill="#000" transform="rotate(-90 182.5 143.2)">3</text>
<text x="278.4" y="207.6" font-size="7.5" font-family='"Liberation Sans", sans-serif' font-weight="bold" textLength="6.6" lengthAdjust="spacingAndGlyphs" text-anchor="end" fill="#000">10</text>
<text x="278.7" y="203.7" font-size="5.8500000000000005" font-family='"Liberation Sans", sans-serif' font-weight="bold" fill="#000">4</text>
<text x="187.1" y="132.8" font-size="7.5" font-family='"Liberation Sans", sans-serif' font-weight="bold" textLength="6.6" lengthAdjust="spacingAndGlyphs" fill="#000" transform="rotate(-90 187.1 132.8)">10</text>
<text x="182.5" y="125.8" font-size="5.8500000000000005" font-family='"Liberation Sans", sans-serif' font-weight="bold" fill="#000" transform="rotate(-90 182.5 125.8)">4</text>
<line x1="246.5" y1="137.5" x2="269.5" y2="137.5" stroke="#222" stroke-width="1"/>
<line x1="258.5" y1="129.5" x2="258.5" y2="146.2" stroke="#222" stroke-width="1"/>
<text x="257.3" y="135.1" font-size="9" font-family='"Liberation Serif", serif' text-anchor="end" fill="#000" stroke="#000" stroke-width="0.25">3.4</text>
<text x="259.1" y="135.1" font-size="9" font-family='"Liberation Serif", serif' fill="#000" stroke="#000" stroke-width="0.25">13.6</text>
<text x="257.3" y="145.2" font-size="9" font-family='"Liberation Serif", serif' text-anchor="end" fill="#000" stroke="#000" stroke-width="0.25">81.5</text>
<text x="259.1" y="145.2" font-size="9" font-family='"Liberation Serif", serif' fill="#000" stroke="#000" stroke-width="0.25">1.5</text>
<path d="M346 166.1h1.3M350.6 164.1h1.3M347.7 168.4h1.3M353.4 149.6h1.3M352.1 160.6h1.3M354.2 152h1.3M350.5 159.7h1.3M348.5 155.3h1.3M352.3 159.4h1.3M353.1 153.5h1.3M347.1 162.1h1.3M354.3 154.2h1.3M349.1 160.2h1.3M348.7 161.4h1.3M352.4 151.1h1.3M355.3 151.2h1.3M344.9 168.4h1.3M349.5 153.6h1.3M346.6 169.2h1.3M354.6 153.9h1.3M354.6 158.1h1.3M347.6 170.3h1.3M349.4 154.9h1.3M349.3 152.6h1.3M348 154.7h1.3M348.3 154.6h1.3M347.2 161.8h1.3M349.7 157.3h1.3M350.3 152.2h1.3M348.1 165.8h1.3M350 162.1h1.3M344 168h1.3M351.6 158.6h1.3M351 155.9h1.3M345.1 165h1.3M347.1 166.7h1.3M347.6 159.4h1.3M351.8 154.9h1.3M348.8 153.5h1.3M343.9 169.4h1.3M349.4 152.9h1.3M347 158.4h1.3M346.4 158.4h1.3M354.6 154.6h1.3M352.6 152.9h1.3M353.2 154.9h1.3M355.1 150.6h1.3M348.3 166h1.3M354.6 152.5h1.3M351.7 155h1.3M350.2 154.8h1.3M345.5 166.3h1.3M354.9 152.7h1.3M351.8 152h1.3M346.4 158.3h1.3M350.9 162.7h1.3M344.2 169.7h1.3M353.7 150.5h1.3M348.8 159.5h1.3M349.1 165.5h1.3M345.9 167.7h1.3M352.4 161.8h1.3M355.4 154.6h1.3M344.1 167.7h1.3M349.1 158.9h1.3M348.8 155.7h1.3M343.4 166.7h1.3M351.9 154.5h1.3M347.7 157.5h1.3M350.2 165.1h1.3M347.5 159.8h1.3M345.5 163.4h1.3M347.3 158.6h1.3M348.3 161.5h1.3M347.8 165h1.3M351 156.4h1.3M355.7 153.3h1.3M350.1 160.2h1.3M347.7 160h1.3M349.1 162.7h1.3M349.3 163.5h1.3M348.3 167.8h1.3M348.4 155.3h1.3M351.5 153.9h1.3M347.2 166.5h1.3M354.1 153.2h1.3M345.8 167.3h1.3M351.3 153h1.3M352.1 161.9h1.3M354.5 158.4h1.3M342.9 169.2h1.3M351.7 156.5h1.3M351.5 164.1h1.3M354.5 153.5h1.3M345.6 160.8h1.3M345.4 167.9h1.3M347.4 166.7h1.3M350.5 159.8h1.3M352.3 153h1.3M353.2 156.3h1.3M349.3 155.5h1.3M354.2 159.1h1.3M346.2 165h1.3M353.5 153.5h1.3M354.7 158.3h1.3M343.6 168.9h1.3M351.4 152.3h1.3M350 157.7h1.3M351.2 151.9h1.3M350.5 163h1.3M383.5 152.7h1.3M388.8 185.8h1.3M375.4 189.8h1.3M372 175.8h1.3M343.9 184.2h1.3M335.5 187.5h1.3M320.7 173.4h1.3M323.8 176.7h1.3M388.7 187.7h1.3M368.4 177.3h1.3M370.3 145.7h1.3M347.3 162.6h1.3M321.6 177.1h1.3M391 169.3h1.3M342 191h1.3M315.9 172.5h1.3M377.6 145.5h1.3M331.9 171.5h1.3M357.1 152.2h1.3M321 133.3h1.3M343.3 193.8h1.3M352.6 138.5h1.3M353.4 140.7h1.3M333 191.7h1.3M327.5 193.7h1.3M353.9 149.1h1.3M352.2 175.8h1.3M386.1 189.1h1.3M320 188.7h1.3M314.7 135.8h1.3M318.6 137.4h1.3M317 174.1h1.3M326.7 146.6h1.3M325.1 192.9h1.3M334.2 155.1h1.3" stroke="#5e5e5e" stroke-width="1.3"/>
<path d="M329.9 184.3h1.1M324.7 179.4h1.1M331.2 175.8h1.1M340.1 179.1h1.1M320 194h1.1M332.6 196.1h1.1M342.2 166.6h1.1M334.6 179h1.1M319.9 188h1.1M334.5 176.2h1.1M324.8 186.4h1.1M322.5 183.1h1.1M332.8 181.4h1.1M326.7 179h1.1M327.5 191h1.1M345.8 162.1h1.1M338.6 164.6h1.1M341 183.7h1.1M339.6 163.5h1.1M326.4 184.5h1.1M322.8 195h1.1M337.9 174.2h1.1M324.9 186.5h1.1M329.5 191.7h1.1M320.7 185.7h1.1M321.7 192.3h1.1M339.2 170.7h1.1M333.1 178.7h1.1M332.9 184h1.1M324 183.3h1.1M318.3 185.2h1.1M337.7 178.9h1.1M338.5 166h1.1M341.3 164.5h1.1M324.3 186.1h1.1M335.2 189.9h1.1M320.2 195h1.1M340.9 165.3h1.1M326.2 192.1h1.1M344.1 171.1h1.1M337.2 169h1.1M329 176.4h1.1M332.5 185.4h1.1M330.7 178.1h1.1M344.2 167.9h1.1M325.6 195.7h1.1M327.8 189h1.1M323.6 185.7h1.1M329.7 184h1.1M329.1 182.1h1.1M328.4 184.7h1.1M323.6 182.2h1.1M337.6 180.1h1.1M344.2 165.7h1.1M341.5 175.2h1.1M345.4 169.4h1.1M347.5 163.3h1.1M334.6 181.1h1.1M326 195h1.1M339 179.1h1.1M331 193.7h1.1M318.7 190.3h1.1M322 187.8h1.1M330.7 178.3h1.1M332.8 187.4h1.1M329 190.8h1.1M337.3 168.1h1.1M329.2 184.5h1.1M337.1 178.6h1.1M320.7 188.6h1.1M331.6 185h1.1M326.8 186.4h1.1M327.1 181.5h1.1M329 174.5h1.1M326.4 181.1h1.1M327.9 189.5h1.1M338.7 178.8h1.1M345.1 161.7h1.1M330 175.1h1.1M322.7 187h1.1M328.4 184.2h1.1M323.2 192.9h1.1M325.6 188.2h1.1M341.4 169.5h1.1M322 190.5h1.1M321.2 195.3h1.1M326.7 194.4h1.1M329.8 192.2h1.1M344 165.9h1.1M344 161.5h1.1M342 164.9h1.1M324.3 182.8h1.1M343.5 165.2h1.1M345.7 165h1.1M343.3 166.4h1.1M331.9 176h1.1M336 178.2h1.1M339.7 174.1h1.1M331.2 170.2h1.1M344.4 165h1.1M325.7 186.6h1.1M341.8 164.3h1.1M332.8 194h1.1M335.9 171.8h1.1M326.7 190.9h1.1M336.9 189.2h1.1M335.5 180h1.1M325.3 183.9h1.1M346.3 166.4h1.1M343.3 174.5h1.1M334.3 187h1.1M331.9 192h1.1M334.9 175.7h1.1M327.6 178.4h1.1M325.7 181.6h1.1M323.1 195.2h1.1M329.8 189.4h1.1M341.2 172.1h1.1M333.1 172.6h1.1M337.4 173.7h1.1M341.8 167.4h1.1M334.6 174.5h1.1M342.8 166.1h1.1M339.9 172.8h1.1M341.7 174.5h1.1M322.4 185.8h1.1M325 176.8h1.1M327.6 176.3h1.1M328.5 185.2h1.1M343.5 169.5h1.1M344.1 169.8h1.1M338.3 171.9h1.1M334.6 189.8h1.1M335.2 172.2h1.1M324.9 188.1h1.1M324.5 186.2h1.1M332.3 189h1.1M330.1 192.2h1.1M337 171.5h1.1M324.8 183.1h1.1M333 174.5h1.1M346.1 170.8h1.1M324.7 190.3h1.1M335 175.4h1.1M321 189.9h1.1M335 180.7h1.1M340.3 165.6h1.1M322.7 191.4h1.1M338.5 179.1h1.1M344.4 166.3h1.1M334.1 184.4h1.1M330.1 184h1.1M326.9 195.6h1.1M325.5 186.2h1.1M332 171.6h1.1M324.3 188.2h1.1M340.2 176h1.1M343.1 174.4h1.1M335.4 175.8h1.1M329.4 177h1.1M339.7 175.3h1.1M337.4 182.4h1.1M327.6 193.7h1.1M330 194.8h1.1M336.7 182.9h1.1M334.8 172.3h1.1M336.6 171.4h1.1M333.8 168.8h1.1M339.2 176.4h1.1M329.4 192.7h1.1M339.8 170h1.1M319.4 184.2h1.1M337.6 185.8h1.1M323.4 183.5h1.1M333.2 178.4h1.1M331.7 176.4h1.1M328.9 195.7h1.1M347.7 169h1.1M338.4 177.9h1.1M333.1 169.9h1.1M323.8 181.7h1.1M326.8 178.3h1.1M334.6 181.8h1.1M337.7 179.5h1.1M328.9 179.9h1.1M343.2 167.2h1.1M322 189h1.1M322.2 191h1.1M337.5 170.4h1.1M345.8 166.4h1.1M334.2 175.5h1.1M338.5 170.7h1.1M344.1 175.6h1.1M331.6 180.3h1.1M332.4 189.3h1.1M329.9 182.2h1.1M333.2 192.5h1.1M343.8 159.8h1.1M333.2 179.9h1.1M344 164.9h1.1M327.9 195.8h1.1M334.9 173.1h1.1M340 167.4h1.1M340.5 179.1h1.1M318.5 192.9h1.1M324.7 195.2h1.1M339.4 172.7h1.1M347.5 166.3h1.1M334.3 178.4h1.1M317.8 189.8h1.1M339.5 165.5h1.1M336.8 174.5h1.1M325.1 182.3h1.1M339.8 186.5h1.1M331.2 177.1h1.1M338.1 174.5h1.1M337.9 184h1.1M327.7 178h1.1M338.6 174.7h1.1M327.5 185h1.1M340.6 171.9h1.1M341.1 177.7h1.1M327.7 193.6h1.1M327.7 190.4h1.1M344.4 166.2h1.1M330 193.9h1.1M317.4 183.7h1.1M331.8 171.2h1.1M342.5 171.1h1.1M335.4 174.9h1.1M331.9 191.9h1.1M341.5 176.2h1.1M321.7 190.6h1.1M338.9 182.3h1.1M326.6 175.8h1.1M339.9 172.1h1.1M329.9 180.9h1.1M343.9 169.4h1.1M326.7 188.7h1.1M337.1 180.9h1.1M326.8 180.6h1.1M341.9 168.8h1.1M332.2 181h1.1M320.4 193.1h1.1M334.7 178h1.1M332.2 178.5h1.1M340.8 181.8h1.1M332.3 171.4h1.1M325.7 184.4h1.1M340.7 174.9h1.1M345.3 166h1.1M338.4 167.8h1.1M328.2 181.8h1.1M318.7 188.1h1.1M346.8 164.8h1.1M333.5 174.1h1.1M343.3 169.2h1.1M323.7 181.4h1.1M319.5 187.2h1.1M347.9 164.1h1.1M342 174.2h1.1M329.3 173.6h1.1M325.5 191.9h1.1M328.1 187.6h1.1M334.9 178.5h1.1M341.8 174.9h1.1M331.9 189.4h1.1M325.6 179.5h1.1M345.8 167.8h1.1M334.9 178.8h1.1M326.3 180.2h1.1M331.3 176.8h1.1M336.9 172.8h1.1M322.9 190.1h1.1M333.6 172.1h1.1M325 190.1h1.1M320.5 187.1h1.1M338.7 175.2h1.1M331.4 194h1.1M330.8 170.4h1.1M338.6 177h1.1M344.4 169.6h1.1M322.7 178.4h1.1M329.7 175h1.1M346.5 158.9h1.1M333.2 190.8h1.1M327.5 189.7h1.1M327.3 188.2h1.1M320.6 184h1.1M325.9 191.7h1.1M335.2 190.5h1.1M329.8 178.1h1.1M330.7 184.6h1.1M331.3 176.7h1.1M321.4 192.7h1.1M348.3 170h1.1M327.3 193.5h1.1M326.4 190.8h1.1M319.7 190h1.1M333.3 170.5h1.1M329.5 189h1.1M341.5 169.9h1.1M324.5 177.8h1.1M346.9 163.1h1.1M327.4 190.6h1.1M322.1 192.7h1.1M329.1 185.4h1.1M346.7 170.4h1.1M336.8 171h1.1M330 196h1.1M331.8 174h1.1M322.9 183.8h1.1M333.2 190.9h1.1M339.2 168.7h1.1M338.7 170.3h1.1M338.3 172.6h1.1M338 190.7h1.1M335.5 178h1.1M343.8 162.4h1.1M323.8 189.7h1.1M324.9 186.3h1.1M320.5 185.6h1.1M328.9 190h1.1M325.9 188h1.1M318.3 193h1.1M322.5 188.2h1.1M326.8 177h1.1M331.1 188.4h1.1M321.5 186h1.1M323.2 184.8h1.1M337 193.2h1.1M324.6 190.1h1.1M335.9 179h1.1M332.5 172.9h1.1M336.5 171.4h1.1M332.6 173.4h1.1M320.9 189.5h1.1M341.2 174.5h1.1M330.4 180.4h1.1M338.3 169.5h1.1M324.2 187.7h1.1M339.4 175.3h1.1M333.2 176.4h1.1M325.6 189.6h1.1M349.1 162.1h1.1M333.4 194.8h1.1M336.3 187.3h1.1M327.1 186.4h1.1M338.8 173.3h1.1M327.8 181.1h1.1M345.2 164.8h1.1M324.9 182.2h1.1M322.9 190.6h1.1M326.6 177.5h1.1M324.9 182.8h1.1M337.7 175.4h1.1M327.1 184h1.1M344 169.3h1.1M335.9 173.9h1.1M333.2 175.3h1.1M334.1 172.8h1.1M345 168.6h1.1M330.8 195.8h1.1M329.2 194.5h1.1M322.3 183.6h1.1M335 175.4h1.1M322.7 190.7h1.1M337.1 168.6h1.1M340.9 172.1h1.1M325.4 180.7h1.1M338.5 181.5h1.1M335.9 188.2h1.1M329.8 180.9h1.1M333.7 172.8h1.1M326.1 185.5h1.1M332.9 178.2h1.1M332.5 178.2h1.1M327.2 187h1.1M324.3 186h1.1M330.4 185.5h1.1M342.9 161.2h1.1M329.3 187.5h1.1M339.3 175.7h1.1M323.5 190h1.1M336.8 180.5h1.1M342.1 170.1h1.1M318.2 185.5h1.1M332.2 196.5h1.1M328.7 189h1.1M337.1 172.1h1.1M346.8 172.6h1.1M329.2 195.1h1.1M334.1 178.2h1.1M329 179h1.1M332.2 184.8h1.1M335 195h1.1M343.9 162.6h1.1M331.4 181.5h1.1M330.9 187.2h1.1M333.3 182.8h1.1M329.9 194.5h1.1M333.3 174h1.1M338 167.2h1.1M335.6 168.5h1.1M319.1 192.5h1.1M342.1 164.3h1.1M345 161.5h1.1M328.9 193.6h1.1M338.4 167.2h1.1M325.9 191h1.1M332.1 194.1h1.1M344.1 167.4h1.1M322.5 181.2h1.1M335.4 186.6h1.1M341.8 174h1.1M324.8 185.4h1.1M327.1 193.4h1.1M345.3 162.5h1.1M343.1 173.1h1.1M333 186.9h1.1M339.3 173.7h1.1M326.8 181.8h1.1M335.7 169.8h1.1M323.5 178.6h1.1M330.7 177.5h1.1M343.7 170.4h1.1M330.2 194.6h1.1M332.4 171.9h1.1M324.1 177.7h1.1M331.7 175.6h1.1M339.1 181.2h1.1M326.6 186.1h1.1M335.6 184.5h1.1M326.8 190.3h1.1M334.8 182.5h1.1M323.3 185.2h1.1M319.4 186.4h1.1M328.7 172.4h1.1M326.6 183.1h1.1M345.8 162h1.1M322.3 190.1h1.1M336.4 176.4h1.1M319.9 187h1.1M341.6 166.6h1.1M334.8 177.7h1.1M344 160.9h1.1M323.6 182h1.1M318.9 190.2h1.1M328.2 191.6h1.1M320.8 193.2h1.1M328.4 195.1h1.1M334.3 180.2h1.1M330 190.5h1.1M318.5 188.2h1.1M335.4 182.2h1.1M344.6 165.2h1.1M320.4 191.7h1.1M328.2 190.2h1.1M324 181h1.1M342.2 168.2h1.1M321.3 188.5h1.1M328.2 189.2h1.1M331.7 181.8h1.1M345.4 163.4h1.1M335.9 173.9h1.1M341.2 173.7h1.1M333.7 177.8h1.1M327.6 194.8h1.1M337.7 166.8h1.1M326.7 179.8h1.1M326.6 179.2h1.1M325.6 181.3h1.1M340.2 166.5h1.1M326.7 194.1h1.1M328.5 188.7h1.1M335.4 179.6h1.1M328.5 183.7h1.1M337.1 184.3h1.1M335.5 177.8h1.1M343.1 164.6h1.1M322.6 189.5h1.1M345 164.3h1.1M343.2 165.8h1.1M335.8 170.5h1.1M329 180.5h1.1M326.8 190h1.1M341.7 172.4h1.1M342.8 166.2h1.1M335.7 170h1.1M326.9 177.3h1.1M342.2 173.9h1.1M331.1 183h1.1M334.1 180.2h1.1M332.2 173.8h1.1M332.6 180.4h1.1M344.9 160h1.1M323.5 188.6h1.1M328 190.3h1.1M320.4 192.2h1.1M319.9 188h1.1M329.8 189.7h1.1M333 175h1.1M338.5 173.4h1.1M336.1 187.6h1.1M324.2 194.2h1.1M337.5 182h1.1M320.4 182.6h1.1M326.5 192.7h1.1M329.9 179.2h1.1M330.1 189.2h1.1M342.1 166h1.1M327.7 182.9h1.1M334 175.7h1.1M353.7 159.4h1.1M363.2 157.3h1.1M362.9 154.6h1.1M377.3 152.2h1.1M357 147.3h1.1M367.9 153.4h1.1M356.1 163.1h1.1M370.7 158.7h1.1M359.6 152.7h1.1M353.1 152.5h1.1M375.2 152.1h1.1M385.1 153.9h1.1M373.4 165.5h1.1M350.5 157.4h1.1M376.4 161.1h1.1M380.8 158.3h1.1M365.8 157.6h1.1M382 149.7h1.1M372.4 160.6h1.1M375.2 149.6h1.1M385.1 156.4h1.1M352.9 160.4h1.1M359.8 148.8h1.1M381.3 149.6h1.1M359.6 150h1.1M370.9 151.9h1.1M358.1 153.6h1.1M356.8 159.4h1.1M383.4 170.8h1.1M382.7 159.2h1.1M364.3 152.5h1.1M371.1 154.7h1.1M369.9 158.6h1.1M361.2 148.3h1.1M360.7 157.2h1.1M359.9 150h1.1M355.4 159.6h1.1M386.1 154.3h1.1M373.3 160.2h1.1M375.9 163.8h1.1M366.9 163.9h1.1M364.9 151.2h1.1M361.2 162h1.1M354.5 157.2h1.1M371.5 153.5h1.1M361.2 164.8h1.1M371.3 161.1h1.1M368.9 166.3h1.1M370.1 169h1.1M354.6 156.9h1.1M360 155.5h1.1M371.7 151.9h1.1M358 147.2h1.1M370.4 156.3h1.1M378.8 154.2h1.1M366.3 154.7h1.1M360.3 144.9h1.1M378.9 153.4h1.1M382 161.5h1.1M353.9 159.9h1.1M356 166h1.1M369 154h1.1M384.9 162.8h1.1M372.5 149.5h1.1M351.5 151.2h1.1M384.5 164.1h1.1M363.8 160.8h1.1M350.2 155.3h1.1M377.7 163.1h1.1M362.9 158.6h1.1M373.1 152.1h1.1M355.7 155.3h1.1M361.2 153.6h1.1M372.2 152.9h1.1M381 151.7h1.1M377.2 158.5h1.1M373.2 163.2h1.1M380 148.5h1.1M377 150.5h1.1M381.9 153.9h1.1M369.7 152.7h1.1M384.5 166.6h1.1M367.4 148.5h1.1M373.7 167.5h1.1M369.6 161.7h1.1M357 151.5h1.1M367.3 149h1.1M373.5 158.9h1.1M358.7 153.5h1.1M379.9 164h1.1M348.3 163.1h1.1M377.4 155.1h1.1M365.9 165h1.1M383.3 150.8h1.1M378.7 152.4h1.1M376.7 158.9h1.1M353.2 151h1.1M351.7 153.8h1.1M364.9 155.2h1.1M372.9 157.8h1.1M369.4 156.9h1.1M351.3 151.4h1.1M365.4 159.3h1.1M367.7 158.7h1.1M379.5 166.6h1.1M368.6 157.3h1.1M362.4 161.7h1.1M360.8 158.2h1.1M352.6 151.9h1.1M365 161.2h1.1M353.7 161.6h1.1M357.4 146.1h1.1M366.2 161.2h1.1M380.1 160.7h1.1M383.3 156.4h1.1M374.5 155.8h1.1M366.3 156.2h1.1M369.7 150.7h1.1M384 151h1.1M373.6 159.1h1.1M355.4 160.3h1.1M367.3 150.5h1.1M372.8 157.5h1.1M360 159.5h1.1M356.1 156.3h1.1M355.8 148.8h1.1M359.3 156.5h1.1M373.2 163.6h1.1M378.6 153.7h1.1M384.5 155.8h1.1M375 156.4h1.1M358.8 149.8h1.1M372.1 149h1.1M380 154.5h1.1M363.3 166.7h1.1M363 162.3h1.1M380.8 165.8h1.1M379.3 155h1.1M360.7 155.4h1.1M381.6 160.2h1.1M372.9 152.8h1.1M380.4 157.1h1.1M387.2 155.7h1.1M386.8 157.6h1.1M353.8 160.2h1.1M371.7 150.8h1.1M384.6 163.5h1.1M368 168.2h1.1M367.2 146.8h1.1M377.5 157.4h1.1M357.5 162.7h1.1M355.8 161.9h1.1M360.6 145.7h1.1M367.3 150.1h1.1M357.2 150.6h1.1M369 155.7h1.1M368.7 165.3h1.1M369.8 153h1.1M380.1 148.8h1.1M375 152.7h1.1M357.5 152.7h1.1M367.2 152.6h1.1M360.8 163.2h1.1M358.5 154.6h1.1M366.4 153.2h1.1M356.8 167.6h1.1M357.3 146.3h1.1M360.4 163.7h1.1M367.5 165.5h1.1M350.5 152.4h1.1M364.7 154.8h1.1M367.5 156.5h1.1M368.8 157.1h1.1M375.5 148.6h1.1M367.7 158.1h1.1M370 149.2h1.1M384.8 158.5h1.1M383.8 155.4h1.1M376.2 158.7h1.1M352.5 157h1.1M378 167h1.1M354.2 154.8h1.1M374.3 152.8h1.1M369.2 157.3h1.1M363.4 165.6h1.1M376.7 154.4h1.1M372.2 163.4h1.1M368.9 152.2h1.1M373.7 167h1.1M355.3 156.8h1.1M352.6 148.5h1.1M381.5 151.3h1.1M356.8 153.2h1.1M380.1 159.9h1.1M368.1 153.7h1.1M364.7 149.1h1.1M378.2 153.1h1.1M370.7 154.6h1.1M352.7 161.6h1.1M368.6 147.4h1.1M377 159.5h1.1M371 154.3h1.1M381.3 162h1.1M373.2 161.9h1.1M353.1 160.4h1.1M384.4 164.9h1.1M379.8 162.4h1.1M365.9 158.1h1.1M362.2 154h1.1M356.7 157.6h1.1M370.7 158.6h1.1M371.7 162.9h1.1M364.8 155.7h1.1M373.8 164.9h1.1M371.4 155.7h1.1M355.1 153.4h1.1M380.4 158h1.1M357.1 166.2h1.1M367.6 150.1h1.1M376.8 164.5h1.1M368.6 153.2h1.1M364.7 163.9h1.1M368.9 154.3h1.1M372 157.4h1.1M366.6 151.9h1.1M362.8 162.8h1.1M375.4 151.8h1.1M360.3 153.8h1.1M380.8 160.6h1.1M381.5 159h1.1M373.3 160.6h1.1M350.7 152.5h1.1M357.2 157.4h1.1M365.2 149.3h1.1M369.6 155h1.1M373.4 158.3h1.1M389 165.1h1.1M355.9 154.1h1.1M363.7 150.3h1.1M383.9 165.6h1.1M368.8 154.3h1.1M355.6 156.6h1.1M355.3 150.1h1.1M387.2 160.1h1.1M383 154.9h1.1M374.4 157.1h1.1M352.4 154.5h1.1M365.6 150.7h1.1M380.5 157.1h1.1M366.5 157.6h1.1M378.4 149.9h1.1M371.2 166.2h1.1M353.8 147.8h1.1M377 154.4h1.1M355.2 159h1.1M371.2 153.9h1.1M362.8 161.4h1.1M364.6 165h1.1M349.5 161.6h1.1M366.3 152.9h1.1M356.8 164.8h1.1M369.8 147.8h1.1M354.6 154.6h1.1M367.3 163.7h1.1M359.3 154.1h1.1M381.4 155.8h1.1M385.5 166.7h1.1M370.6 155.5h1.1M360 159h1.1M365.7 159.7h1.1M379.8 165.7h1.1M353.5 154.5h1.1M374.8 147.4h1.1M351.8 160.1h1.1M357 162.3h1.1M355 153.8h1.1M360.1 166.4h1.1M374.2 152.5h1.1M374.9 158.1h1.1M369.7 166.1h1.1M354.1 148.4h1.1M383.7 162.4h1.1M365.6 160.6h1.1M374.4 162.4h1.1M357.9 154.3h1.1M379.9 152.6h1.1M353.9 154.8h1.1M372.1 164.8h1.1M368.8 162.7h1.1M362.1 152.8h1.1M355.1 158h1.1M355.9 157.8h1.1M357.6 155h1.1M366.6 163.2h1.1M366.4 154.4h1.1M377 155.5h1.1M357.4 162.7h1.1M371.4 153.7h1.1M379.2 152.8h1.1M367.7 150.9h1.1M367.5 154.4h1.1M360.5 149.9h1.1M370.4 149.9h1.1M384 151.8h1.1M384.2 163.5h1.1M369.4 163.2h1.1M378.2 152.4h1.1M387.1 162.4h1.1M356.6 156.2h1.1M386.7 160.3h1.1M355.4 160h1.1M353.5 162.1h1.1M354.2 158h1.1M373.3 150.1h1.1M366.9 156.4h1.1M381.2 167.9h1.1M370.8 162h1.1M374.7 153h1.1M361 155.3h1.1M363.7 153.7h1.1M365.4 153.3h1.1M362.2 164.2h1.1M387.1 160.6h1.1M362.5 161.8h1.1M366.4 164.6h1.1M371.5 153.5h1.1M362.6 165h1.1M351.5 161.8h1.1M386.5 155.5h1.1M379 158.6h1.1M384.2 167.3h1.1M371.8 152.4h1.1M383.4 159.2h1.1M375 166h1.1M375.4 165.2h1.1M372.4 154.3h1.1M376.1 158.9h1.1M384.8 167.8h1.1M358.4 157.3h1.1M368.8 155.6h1.1M359.4 159.4h1.1M358.9 157.7h1.1M355.5 159.5h1.1M358.4 146.6h1.1M358.6 157.2h1.1M359 162.9h1.1M377.7 162.4h1.1M355.8 157.8h1.1M381.1 157.9h1.1M382.5 152.2h1.1M374.6 166.9h1.1M384.6 153.9h1.1M360.2 151.2h1.1M376.6 158.2h1.1M350.3 153.6h1.1M352.2 163.4h1.1M373.3 157.5h1.1M380.3 167.6h1.1M367.5 164.8h1.1M376.8 151.8h1.1M382.8 157.3h1.1M375.3 153.7h1.1M363.3 164.3h1.1M374.1 161h1.1M361.9 146.7h1.1M380.3 147.3h1.1M377.8 151.3h1.1M356.1 146.7h1.1M361.5 152.9h1.1M355.7 155h1.1M377.3 153.7h1.1M351.8 155.2h1.1M368.5 160.8h1.1M356.5 157.8h1.1M357.2 153.4h1.1M377 151.5h1.1M365.9 149.9h1.1M366.9 160h1.1M358.1 156.3h1.1M364.1 164.7h1.1M384.4 155.9h1.1M377.9 152.6h1.1M380.7 160h1.1M350.8 151.5h1.1M382.8 160.6h1.1M361.5 161.7h1.1M357 146.5h1.1M376.5 158.5h1.1M361.5 146.3h1.1M367.2 158.8h1.1M379.3 157.4h1.1M377.8 150.2h1.1M365.7 164h1.1M382.5 150.7h1.1M370 156.5h1.1M379 164.6h1.1M359 152.6h1.1M375.1 164.5h1.1M363.3 148.6h1.1M380.8 165.3h1.1M383.2 161.4h1.1M371.4 152h1.1M385.5 150.3h1.1M354.4 160.5h1.1M383.3 156.6h1.1M373.2 162.5h1.1M367.4 165h1.1M374.4 152.3h1.1M362.2 158.2h1.1M361.8 151.9h1.1M384.3 150.7h1.1M376.1 157.3h1.1M353.4 151.6h1.1M354.7 158.5h1.1M379.6 159.1h1.1M377 163.7h1.1M375.8 152.5h1.1M355.4 148.4h1.1M367 165.4h1.1M380 151.3h1.1" stroke="#2a2a2a" stroke-width="1.1"/>
<polygon points="320.5,196.4 320.7,185.7 326.8,178.1 334.1,170.8 340.7,164.7 346.6,161.7 348.9,165.6 343.3,174.4 338.5,182.4 335,191.2 331.2,196.2" fill="#333" filter="url(#b0_8)" opacity="0.9"/>
<polygon points="323,195 323.5,186 329,179 336,172 342,167.5 343.5,171 338,180 333,189 329,195" fill="#999" filter="url(#b1_2)" opacity="0.85"/>
<path d="M333.7 183.5h1.1M325.1 187.7h1.1M324.4 191.9h1.1M340.1 173.7h1.1M336.7 173.6h1.1M341.1 169.9h1.1M330.1 186.5h1.1M327.3 193.2h1.1M336 174.6h1.1M327.8 185.6h1.1M328.4 188.7h1.1M334.7 174.5h1.1M327.3 186.4h1.1M334.1 174.5h1.1M326.1 188.7h1.1M327.7 190.6h1.1M335 173.9h1.1M338.3 172.9h1.1M329 184.5h1.1M339.1 176h1.1M324.5 192.6h1.1M323.6 191.9h1.1M334 177.9h1.1M328.8 185.7h1.1M336.3 174.8h1.1M332.6 178.2h1.1M331.1 183h1.1M326 190.8h1.1M323.6 192.4h1.1M335.5 177.3h1.1M326.6 188.9h1.1M333.4 185.8h1.1M337.6 171.5h1.1M337.3 173.2h1.1M328.3 184.5h1.1M326.6 189h1.1" stroke="#3a3a3a" stroke-width="1.1" stroke-opacity="0.45"/>
<polygon points="350.8,152.2 356.6,147.5 371.8,148.8 385.3,150.3 387.2,158 385.3,166.6 371.8,166.2 360.6,165.5 352.8,161.8" fill="#555" filter="url(#b0_8)" opacity="0.85"/>
<ellipse cx="375" cy="160" rx="9" ry="3.8" fill="#8a8a8a" transform="rotate(5 375 160)" filter="url(#b1_2)" opacity="0.75"/>
<rect x="309.5" y="128.5" width="85" height="69" fill="none" stroke="#333" stroke-width="1"/>
<line x1="342.5" y1="128.3" x2="342.5" y2="197.1" stroke="#2a2a2a" stroke-width="1"/>
<line x1="309.9" y1="169.5" x2="394.4" y2="169.5" stroke="#2a2a2a" stroke-width="1"/>
<path d="M309.9 197.1v3.1M309.9 197.1h-3.1M316.3 197.1v1.8M309.9 191.9h-1.8M320 197.1v1.8M309.9 188.9h-1.8M322.6 197.1v1.8M309.9 186.7h-1.8M324.7 197.1v1.8M309.9 185.1h-1.8M326.3 197.1v1.8M309.9 183.7h-1.8M327.8 197.1v1.8M309.9 182.6h-1.8M329 197.1v1.8M309.9 181.6h-1.8M330.1 197.1v1.8M309.9 180.7h-1.8M331 197.1v3.1M309.9 179.9h-3.1M337.4 197.1v1.8M309.9 174.7h-1.8M341.1 197.1v1.8M309.9 171.7h-1.8M343.7 197.1v1.8M309.9 169.5h-1.8M345.8 197.1v1.8M309.9 167.9h-1.8M347.5 197.1v1.8M309.9 166.5h-1.8M348.9 197.1v1.8M309.9 165.4h-1.8M350.1 197.1v1.8M309.9 164.4h-1.8M351.2 197.1v1.8M309.9 163.5h-1.8M352.1 197.1v3.1M309.9 162.7h-3.1M358.5 197.1v1.8M309.9 157.5h-1.8M362.2 197.1v1.8M309.9 154.5h-1.8M364.9 197.1v1.8M309.9 152.3h-1.8M366.9 197.1v1.8M309.9 150.7h-1.8M368.6 197.1v1.8M309.9 149.3h-1.8M370 197.1v1.8M309.9 148.2h-1.8M371.2 197.1v1.8M309.9 147.2h-1.8M372.3 197.1v1.8M309.9 146.3h-1.8M373.3 197.1v3.1M309.9 145.5h-3.1M379.6 197.1v1.8M309.9 140.3h-1.8M383.4 197.1v1.8M309.9 137.3h-1.8M386 197.1v1.8M309.9 135.1h-1.8M388 197.1v1.8M309.9 133.5h-1.8M389.7 197.1v1.8M309.9 132.1h-1.8M391.1 197.1v1.8M309.9 131h-1.8M392.4 197.1v1.8M309.9 130h-1.8M393.4 197.1v1.8M309.9 129.1h-1.8M394.4 197.1v3.1M309.9 128.3h-3.1" stroke="#333" stroke-width="0.9" fill="none"/>
<text x="311.2" y="207.6" font-size="7.5" font-family='"Liberation Sans", sans-serif' font-weight="bold" textLength="6.6" lengthAdjust="spacingAndGlyphs" text-anchor="end" fill="#000">10</text>
<text x="311.5" y="203.7" font-size="5.8500000000000005" font-family='"Liberation Sans", sans-serif' font-weight="bold" fill="#000">0</text>
<text x="304.9" y="200.8" font-size="7.5" font-family='"Liberation Sans", sans-serif' font-weight="bold" textLength="6.6" lengthAdjust="spacingAndGlyphs" fill="#000" transform="rotate(-90 304.9 200.8)">10</text>
<text x="300.3" y="193.8" font-size="5.8500000000000005" font-family='"Liberation Sans", sans-serif' font-weight="bold" fill="#000" transform="rotate(-90 300.3 193.8)">0</text>
<text x="332.3" y="207.6" font-size="7.5" font-family='"Liberation Sans", sans-serif' font-weight="bold" textLength="6.6" lengthAdjust="spacingAndGlyphs" text-anchor="end" fill="#000">10</text>
<text x="332.6" y="203.7" font-size="5.8500000000000005" font-family='"Liberation Sans", sans-serif' font-weight="bold" fill="#000">1</text>
<text x="304.9" y="185" font-size="7.5" font-family='"Liberation Sans", sans-serif' font-weight="bold" textLength="6.6" lengthAdjust="spacingAndGlyphs" fill="#000" transform="rotate(-90 304.9 185)">10</text>
<text x="300.3" y="178" font-size="5.8500000000000005" font-family='"Liberation Sans", sans-serif' font-weight="bold" fill="#000" transform="rotate(-90 300.3 178)">1</text>
<text x="353.4" y="207.6" font-size="7.5" font-family='"Liberation Sans", sans-serif' font-weight="bold" textLength="6.6" lengthAdjust="spacingAndGlyphs" text-anchor="end" fill="#000">10</text>
<text x="353.8" y="203.7" font-size="5.8500000000000005" font-family='"Liberation Sans", sans-serif' font-weight="bold" fill="#000">2</text>
<text x="304.9" y="167.8" font-size="7.5" font-family='"Liberation Sans", sans-serif' font-weight="bold" textLength="6.6" lengthAdjust="spacingAndGlyphs" fill="#000" transform="rotate(-90 304.9 167.8)">10</text>
<text x="300.3" y="160.8" font-size="5.8500000000000005" font-family='"Liberation Sans", sans-serif' font-weight="bold" fill="#000" transform="rotate(-90 300.3 160.8)">2</text>
<text x="374.6" y="207.6" font-size="7.5" font-family='"Liberation Sans", sans-serif' font-weight="bold" textLength="6.6" lengthAdjust="spacingAndGlyphs" text-anchor="end" fill="#000">10</text>
<text x="374.9" y="203.7" font-size="5.8500000000000005" font-family='"Liberation Sans", sans-serif' font-weight="bold" fill="#000">3</text>
<text x="304.9" y="150.6" font-size="7.5" font-family='"Liberation Sans", sans-serif' font-weight="bold" textLength="6.6" lengthAdjust="spacingAndGlyphs" fill="#000" transform="rotate(-90 304.9 150.6)">10</text>
<text x="300.3" y="143.6" font-size="5.8500000000000005" font-family='"Liberation Sans", sans-serif' font-weight="bold" fill="#000" transform="rotate(-90 300.3 143.6)">3</text>
<text x="395.7" y="207.6" font-size="7.5" font-family='"Liberation Sans", sans-serif' font-weight="bold" textLength="6.6" lengthAdjust="spacingAndGlyphs" text-anchor="end" fill="#000">10</text>
<text x="396" y="203.7" font-size="5.8500000000000005" font-family='"Liberation Sans", sans-serif' font-weight="bold" fill="#000">4</text>
<text x="304.9" y="133.4" font-size="7.5" font-family='"Liberation Sans", sans-serif' font-weight="bold" textLength="6.6" lengthAdjust="spacingAndGlyphs" fill="#000" transform="rotate(-90 304.9 133.4)">10</text>
<text x="300.3" y="126.4" font-size="5.8500000000000005" font-family='"Liberation Sans", sans-serif' font-weight="bold" fill="#000" transform="rotate(-90 300.3 126.4)">4</text>
<line x1="363" y1="138.5" x2="386" y2="138.5" stroke="#222" stroke-width="1"/>
<line x1="374.5" y1="130.9" x2="374.5" y2="147.6" stroke="#222" stroke-width="1"/>
<text x="373.9" y="136.5" font-size="9" font-family='"Liberation Serif", serif' text-anchor="end" fill="#000" stroke="#000" stroke-width="0.25">0.8</text>
<text x="375.7" y="136.5" font-size="9" font-family='"Liberation Serif", serif' fill="#000" stroke="#000" stroke-width="0.25">16.9</text>
<text x="373.9" y="146.6" font-size="9" font-family='"Liberation Serif", serif' text-anchor="end" fill="#000" stroke="#000" stroke-width="0.25">78.7</text>
<text x="375.7" y="146.6" font-size="9" font-family='"Liberation Serif", serif' fill="#000" stroke="#000" stroke-width="0.25">3.6</text>
<path d="M466.8 165.7h1.3M478 156.2h1.3M462.4 155.5h1.3M463.6 176.9h1.3M478.1 156.6h1.3M463 143.8h1.3M475.1 159.9h1.3M476.3 140h1.3M471.6 151.7h1.3M464.6 162.9h1.3M471.9 168.6h1.3M480.6 157.3h1.3M477.4 151.3h1.3M466.4 158.8h1.3M463.3 148h1.3M469.1 168.8h1.3M462.1 164.3h1.3M486.5 159.8h1.3M475 140.7h1.3M472.2 154h1.3M483.2 154.8h1.3M480.2 168.4h1.3M471.4 167.5h1.3M476.7 140.4h1.3M462.3 170h1.3M483 165.1h1.3M467.7 147.4h1.3M486.6 158.1h1.3M474.6 144h1.3M486.1 143h1.3M480.3 155.5h1.3M485.7 158.6h1.3M479.3 151.5h1.3M478.7 152.9h1.3M474.8 158.1h1.3M479.1 160.8h1.3M462.5 147.1h1.3M470.9 143.5h1.3M466.2 156.1h1.3M467.3 141.5h1.3M462.8 152.8h1.3M467.4 159.6h1.3M465.7 144h1.3M479.8 141.6h1.3M482.8 164.6h1.3M483.6 140.3h1.3M470.9 154.1h1.3M461.8 167.3h1.3M468.3 163.9h1.3M483.7 154.9h1.3M463.4 152.4h1.3M466.2 159.5h1.3M468 166.6h1.3M480.5 148.3h1.3M479.3 143.6h1.3M465.8 159.8h1.3M476.9 148.1h1.3M469.6 144.7h1.3M474.9 144.1h1.3M476.3 143.5h1.3M484.8 150.9h1.3M478.5 169h1.3M462.6 142.2h1.3M462.4 145.2h1.3M480.9 141.5h1.3M474.8 159.2h1.3M484.2 159.6h1.3M481.3 166.9h1.3M467.4 170.4h1.3M465.8 171.2h1.3M465.2 153.1h1.3M470.1 146.2h1.3M470.9 160h1.3M476.2 148.3h1.3M470.7 152.9h1.3M462.9 155.2h1.3M483.3 150.2h1.3M475 148.3h1.3M488.3 154h1.3M471.4 174.4h1.3M468.5 160.4h1.3M475.9 146.6h1.3M485.6 159.4h1.3M462 171.8h1.3M483 159h1.3M475.4 141.4h1.3M465.6 174.6h1.3M481.1 167.6h1.3M470.8 168h1.3M462.9 160.8h1.3M466.1 163.8h1.3M464.8 166.9h1.3M482.7 159.2h1.3M465.6 142.2h1.3M476.2 164.8h1.3M470.1 147.5h1.3M471.6 165.9h1.3M479 151.2h1.3M472 164.8h1.3M475 152h1.3M471.5 140.1h1.3M469.2 163.5h1.3M476.2 147.9h1.3M477 157.7h1.3M475.7 144.9h1.3M481.4 156.8h1.3M469.5 157.9h1.3M473.3 172.4h1.3M465.8 163.3h1.3M463.1 169.9h1.3M473.6 147.4h1.3M471 169.6h1.3M481.1 165.9h1.3M478.7 169.5h1.3M476.6 169.4h1.3M481.5 153h1.3M465.8 147.4h1.3M466 164.9h1.3M471.3 166.5h1.3M464.2 153.3h1.3M468.5 166.8h1.3M475.1 147.8h1.3M462 166.3h1.3M477.6 139.2h1.3M465.2 163.7h1.3M462.3 145h1.3M476.1 144.4h1.3M468.2 168.9h1.3M476.4 144.9h1.3M463.8 150.8h1.3M475.5 160.9h1.3M482 152.4h1.3M470.4 169.2h1.3M466 172.5h1.3M468.2 154.9h1.3M478.6 141.1h1.3M468.8 172.7h1.3M464.6 176.9h1.3M470.2 162h1.3M474.9 155h1.3M486.2 159.5h1.3M473.8 142.6h1.3M480.5 153.4h1.3M461.5 159.6h1.3M462.1 163.2h1.3M479.9 146.8h1.3M465.3 151.6h1.3M480.1 162.9h1.3M467 149.1h1.3M472.6 152.3h1.3M468 167.2h1.3M474.5 147.6h1.3M479.9 159.6h1.3M479.4 145.5h1.3M462.5 167.6h1.3M462 160.8h1.3M474.8 169.6h1.3M470.4 175.1h1.3M478.3 156.4h1.3M483.4 144.7h1.3M473.4 148.6h1.3M469.7 145.3h1.3M476.6 168.3h1.3M467.8 165h1.3M488 146.3h1.3M487.6 145.6h1.3M466 152.8h1.3M469.9 158.4h1.3M480.5 148.7h1.3M484.4 142.9h1.3M463.1 168.9h1.3M478.5 139.9h1.3M488.1 154.1h1.3M478.2 160.4h1.3M463.5 141.5h1.3M462.8 160h1.3M470.7 169.1h1.3M465.6 163h1.3M478.1 158.7h1.3M468.2 146.9h1.3M478.8 166.4h1.3M479.6 164.8h1.3M466.2 172.6h1.3M486.1 160.4h1.3M472.8 149.8h1.3M470.2 172.7h1.3M474.3 143.6h1.3M462.9 155.8h1.3M476.4 162.7h1.3M469.5 142.6h1.3M431.8 167.9h1.3M440.9 166.9h1.3M430.3 169.3h1.3M430.5 165.4h1.3M435.1 157.3h1.3M430.3 157.5h1.3M430.2 151.7h1.3M434.8 163.3h1.3M436.2 152.3h1.3M440.7 158.1h1.3M430.8 160h1.3M440.7 150.4h1.3M437.8 175.2h1.3M435.5 153.9h1.3M435.3 167.4h1.3M438.6 156.8h1.3M431.4 158.6h1.3M440.4 159.8h1.3M432.7 150.7h1.3M435.9 164.6h1.3M466.7 190.5h1.3M463 180.5h1.3M465.3 183.2h1.3M483.8 175.7h1.3M501.8 187.3h1.3M464.4 194.2h1.3M477.4 175.9h1.3M479.9 193.6h1.3" stroke="#5e5e5e" stroke-width="1.3"/>
<path d="M454.1 174.8h1.1M456.1 179h1.1M446.9 179h1.1M453.8 168.5h1.1M457.9 192.1h1.1M439.3 194.2h1.1M437.9 195.5h1.1M447 188.3h1.1M444.1 180.6h1.1M443.9 184.7h1.1M457.8 180.2h1.1M455.4 176.7h1.1M442.7 180h1.1M445.6 186.6h1.1M442.7 179.8h1.1M457.3 176.7h1.1M455.4 183h1.1M439.6 192.1h1.1M434.5 187.1h1.1M454.5 180.3h1.1M437.8 189.5h1.1M459.4 176.2h1.1M455.2 173.6h1.1M440.3 193.2h1.1M451.1 195.9h1.1M454.2 190.6h1.1M444.5 194.2h1.1M444.8 185.8h1.1M454.4 179.9h1.1M457.2 176.8h1.1M450.8 181h1.1M448.7 190h1.1M443.8 181.6h1.1M443.8 187.8h1.1M448.5 193h1.1M446.1 185h1.1M456.2 170.5h1.1M440.8 195h1.1M444.3 185.7h1.1M445.3 188.7h1.1M450.5 190.7h1.1M446.7 189h1.1M454.4 175.1h1.1M448.2 173.3h1.1M442.2 193.7h1.1M452.7 173.8h1.1M438.1 196.5h1.1M444.2 196.2h1.1M449.6 182.3h1.1M442 181.6h1.1M435.7 195.6h1.1M445 177h1.1M441.5 184.4h1.1M447.7 195.6h1.1M449.1 181.3h1.1M456.5 177.6h1.1M443.7 181.1h1.1M448.6 175.8h1.1M452.1 171.4h1.1M449.1 195.8h1.1M445.7 186.4h1.1M443 187.7h1.1M453.7 177h1.1M455.5 173.8h1.1M443.4 182.7h1.1M458.5 179.6h1.1M446.7 184.5h1.1M441 187.6h1.1M454.3 183.7h1.1M455.2 190.2h1.1M441 189.2h1.1M456.7 181.5h1.1M448.2 195.1h1.1M455.5 179.3h1.1M443.6 184.5h1.1M445.2 196.1h1.1M455 179.2h1.1M454.2 192.8h1.1M457.4 174.7h1.1M438.7 192.4h1.1M453.9 173.7h1.1M455.1 179.9h1.1M437 184.5h1.1M446.6 187.7h1.1M456 178.4h1.1M437.1 193.3h1.1M456.3 167.9h1.1M449.1 182.5h1.1M445.8 182.1h1.1M446.2 193.7h1.1M445.1 185.4h1.1M444.8 182.2h1.1M452 187.4h1.1M443.4 185.6h1.1M447.1 190.8h1.1M452 196.8h1.1M450.6 187.6h1.1M449.1 195.8h1.1M450.1 196.7h1.1M445.1 177.8h1.1M447.2 176.7h1.1M447.9 193.4h1.1M438.4 195.3h1.1M449.2 189.6h1.1M455.2 192.4h1.1M441.5 194.5h1.1M451.3 180h1.1M450.8 176.9h1.1M442.2 192.4h1.1M452.4 187.5h1.1M444.1 192.6h1.1M437.8 194.4h1.1M455.2 181.7h1.1M447.5 186.3h1.1M458.1 168.2h1.1M436 186.9h1.1M439.8 189.7h1.1M458.6 165.9h1.1M453.9 179.9h1.1M453.7 176.5h1.1M457 167.1h1.1M454.2 169.9h1.1M450.1 191.3h1.1M446.7 185.5h1.1M445.3 187.3h1.1M446.7 179.3h1.1M446.1 182.6h1.1M443 188.4h1.1M461.9 171h1.1M456.8 178.8h1.1M442.8 194.1h1.1M449.5 190.6h1.1M453.6 190.1h1.1M446.1 185.1h1.1M452.3 180.8h1.1M450.6 187.5h1.1M449.4 195.8h1.1M453.1 192.2h1.1M459.1 165.7h1.1M452.6 183.1h1.1M447 184.2h1.1M454.6 176.6h1.1M449.1 190.6h1.1M456.4 178.9h1.1M450.1 182.8h1.1M443.2 177.5h1.1M455.3 187.7h1.1M451.9 191.2h1.1M453.7 177.1h1.1M457.4 178.6h1.1M453.2 183h1.1M456.6 171.3h1.1M444.9 189.9h1.1M452 189.4h1.1M450.4 178.2h1.1M449.8 173.9h1.1M438.2 186.9h1.1M460.4 170.2h1.1M436.4 195.8h1.1M443.7 189.6h1.1M441.8 184.4h1.1M436.6 197.2h1.1M445.2 192h1.1M445.3 189.9h1.1M442.5 196.8h1.1M459 180.1h1.1M444.6 185.1h1.1M441.7 194.1h1.1M452.3 172.2h1.1M449.4 195.9h1.1M438.3 196.8h1.1M448.7 187.6h1.1M444.9 194.3h1.1M454.1 174.3h1.1M439.7 194.4h1.1M449.3 194.6h1.1M439.5 193.7h1.1M456.3 187.2h1.1M439.6 184.7h1.1M446.1 188.3h1.1M454 184.4h1.1M453.6 181.4h1.1M455.7 169.4h1.1M436.2 197.6h1.1M444.7 176.7h1.1M445.7 191.5h1.1M453.6 188.9h1.1M447.6 187.4h1.1M450 178h1.1M455.7 187.9h1.1M444.7 191.6h1.1M459.3 166.2h1.1M462.7 173.5h1.1M460.3 170.8h1.1M452.6 194.1h1.1M439.7 193.3h1.1M445.9 196.5h1.1M456.5 167.8h1.1M438.6 191.9h1.1M444.8 184.4h1.1M457.2 167h1.1M447 193.3h1.1M447.7 175.3h1.1M449 189.6h1.1M441.1 187.3h1.1M444.3 193.5h1.1M447.9 183.5h1.1M447 182.1h1.1M449.6 191.6h1.1M453.2 168.5h1.1M449.8 189.8h1.1M456.8 174.6h1.1M453.4 178.9h1.1M450.8 192.1h1.1M447.8 194.2h1.1M450.9 178.9h1.1M439.6 182.7h1.1M438.3 192.1h1.1M437.6 194.8h1.1M442.6 191.7h1.1M446.8 181.6h1.1M454.8 188.7h1.1M455.4 191.7h1.1M451 189.5h1.1M443.1 193.2h1.1M438.5 182.6h1.1M451.8 184.3h1.1M441.3 190.7h1.1M452.9 178.1h1.1M446.6 180.1h1.1M439.2 187.1h1.1M453.6 176.7h1.1M450.2 188.9h1.1M455.8 171.5h1.1M443.3 197.7h1.1M453.4 189.8h1.1M454.6 179.9h1.1M434.6 190.6h1.1M452.6 186h1.1M446.3 194.2h1.1M435.7 184.6h1.1M452.6 187.3h1.1M445.7 191.8h1.1M452 184.9h1.1M453.1 184.6h1.1M447.7 191.5h1.1M456.9 189.9h1.1M437.2 192.3h1.1M446.4 185.7h1.1M439.3 197.6h1.1M453.7 187.9h1.1M445.8 184.7h1.1M448.2 183.9h1.1M444.4 183.8h1.1M458.1 164.7h1.1M452.4 194.6h1.1M448.5 187.4h1.1M450.7 183.6h1.1M456.1 168.3h1.1M452.3 191.1h1.1M459.4 166h1.1M438.9 193.3h1.1M449.7 178.4h1.1M459.7 179.7h1.1M439.2 187h1.1M455.9 182.4h1.1M451.9 185.5h1.1M450.8 183.9h1.1M436.2 190h1.1M448 187h1.1M450.5 180.2h1.1M441.8 188.3h1.1M441.7 184.3h1.1M451.7 193.3h1.1M450.1 189.2h1.1M447.9 191.4h1.1M456.3 187.2h1.1M445.1 184.7h1.1M454.7 173.9h1.1M443.4 197h1.1M451.9 179.5h1.1M450.6 194.4h1.1M440.5 192h1.1M450.9 177.3h1.1M453 181.7h1.1M437.9 190.4h1.1M449.4 182.6h1.1M453.9 177.9h1.1M457.8 167.7h1.1M442.6 189.1h1.1M455.7 173.1h1.1M461 168.3h1.1M449 188.4h1.1M447 185.5h1.1M456 170.8h1.1M439.7 195.4h1.1M452.8 174.9h1.1M454 189.1h1.1M444.4 183.3h1.1M455.1 190.7h1.1M443.2 179h1.1M449.4 177.7h1.1M456.5 167.2h1.1M446.2 187h1.1M442 181.4h1.1M449.7 192.3h1.1M443.3 183.7h1.1M457.6 172h1.1M441.9 195.1h1.1M458.2 173.5h1.1M453.8 173.6h1.1M442.9 194.5h1.1M453.9 183h1.1M442.5 187.4h1.1M450 189.5h1.1M455.1 172.3h1.1M441 190.8h1.1M443 193.9h1.1M448.3 197h1.1M448.1 178.2h1.1M457.8 175.4h1.1M449.4 169.6h1.1M443.2 184.1h1.1M451.5 172.5h1.1M457 170.7h1.1M444 187.6h1.1M452.6 192.4h1.1M457.4 188h1.1M446.4 186.7h1.1M452.3 193.1h1.1M455.5 184.8h1.1M447.4 196.9h1.1M453.5 169h1.1M458.2 172.2h1.1M438.5 189.7h1.1M459.5 178.1h1.1M451 183.6h1.1M461.5 173h1.1M446.4 195h1.1M436.2 197h1.1M450.5 186.1h1.1M448.5 194h1.1M453.4 184.5h1.1M448.3 197.4h1.1M440.9 190.3h1.1M444.6 186.7h1.1M442 180.6h1.1M458.3 166.2h1.1M455.7 167.5h1.1M444.6 196.5h1.1M451.7 172.5h1.1M451.9 185.5h1.1M445.8 184.3h1.1M440.7 189h1.1M455.2 166.8h1.1M455.4 178.1h1.1M456.5 175.9h1.1M453 183.6h1.1M450.4 187.9h1.1M447.6 193.9h1.1M445.3 196.4h1.1M455.8 166h1.1M456.8 172.4h1.1M458.3 174.5h1.1M450.2 183.2h1.1M448.1 177.3h1.1M451.6 192.3h1.1M451.2 193.5h1.1M451.6 188.8h1.1M456.3 171.2h1.1M456.1 172.4h1.1M457.5 170.4h1.1M439.1 188.4h1.1M442 189.9h1.1M459 178.7h1.1M445.1 181.2h1.1M445.5 176.5h1.1M444.2 184.4h1.1M436.7 195.9h1.1M442.8 175h1.1M458.7 168.4h1.1M453.4 193.3h1.1M441.3 191h1.1M445.5 181.8h1.1M443.4 181.9h1.1M449 194h1.1M440.4 182.3h1.1M451.9 172.1h1.1M445.9 176.5h1.1M446.4 184.3h1.1M433.9 196.6h1.1M447.5 192.7h1.1M457.7 177.7h1.1M443 180.9h1.1M452.1 194.2h1.1M454.5 178.4h1.1M452.5 171.8h1.1M444.5 178.7h1.1M445.8 190.5h1.1M451.5 179.6h1.1M448.9 184.7h1.1M446.9 177.8h1.1M453.5 184h1.1M445.7 181h1.1M453.4 182h1.1M452.9 189.2h1.1M455 180.2h1.1M446.9 186.5h1.1M446.5 197.8h1.1M452 171.4h1.1M446.9 180.2h1.1M439.8 191.5h1.1M440.4 187.9h1.1M442 183.9h1.1M446.9 177.3h1.1M443.5 188.9h1.1M437.7 194h1.1M454.3 170.3h1.1M456.1 185.6h1.1M438.1 194.9h1.1M446.7 196.9h1.1M437.5 190.5h1.1M438.4 185.8h1.1M446.9 195.4h1.1M453.7 174.9h1.1M445.5 196h1.1M455.9 185.4h1.1M449.3 189h1.1M445.7 178.8h1.1M448.3 193.4h1.1M442.1 181.9h1.1M443.4 194h1.1M448.2 178.3h1.1M439.5 189.9h1.1M441.8 194.2h1.1M445.4 185.6h1.1M441.7 190.6h1.1M458.8 170.1h1.1M445.7 188h1.1M442.7 189.6h1.1M448.8 180.6h1.1M446.6 196.8h1.1M454.7 173.3h1.1M457.5 183.6h1.1M457.4 181.1h1.1M441.9 197.1h1.1M440.8 185.4h1.1M448.3 182.9h1.1M434.5 191h1.1M448.8 193h1.1M451.3 189.2h1.1M438.6 197.3h1.1M440.6 192.5h1.1M445.7 194.3h1.1M455.7 179.2h1.1M447 183h1.1M436.6 191.5h1.1M451.4 178.6h1.1M433.5 197.1h1.1M452.6 180.4h1.1M451.8 186.4h1.1M459.1 172.9h1.1M447.8 177.2h1.1M446.3 180.3h1.1M437.6 195.3h1.1M436.2 195.9h1.1M455.8 171.1h1.1M450.1 190.8h1.1M437.3 185.3h1.1M437.1 181.3h1.1M444.7 178h1.1M459.6 175h1.1M442 180.2h1.1M440.7 187.7h1.1M458.4 166.9h1.1M453.3 191.7h1.1M438.4 183.5h1.1M448.1 190.8h1.1M450.6 196h1.1M451.9 185.4h1.1M452 186.7h1.1M444.1 191.9h1.1M443 195.4h1.1M449.2 152.8h1.1M445.5 163.3h1.1M446.8 149.9h1.1M445.7 156.3h1.1M454.8 147.6h1.1M440.6 160.5h1.1M443.4 164.1h1.1M444.7 158.9h1.1M458.4 157.6h1.1M443.6 154.3h1.1M445.1 158.2h1.1M447.6 149.5h1.1M453 148.7h1.1M453.9 163.1h1.1M449.1 157.9h1.1M457.9 147.2h1.1M462.5 151.5h1.1M451.7 149.4h1.1M456.5 159.2h1.1M460 159.8h1.1M457.6 150.9h1.1M456.7 154.8h1.1M451.2 159h1.1M456.3 148.2h1.1M441.4 158.9h1.1M464.1 154.4h1.1M457.9 158h1.1M442.6 160.8h1.1M449.9 158.4h1.1M440 157.4h1.1M455.7 157.4h1.1M454 144.6h1.1M448.5 162.5h1.1M444.1 154.3h1.1M448.6 165.9h1.1M454.2 154.5h1.1M447.4 160.3h1.1M459 160.6h1.1M451.5 161.5h1.1M449.6 168.1h1.1M462.7 157.6h1.1M463.5 151.8h1.1M462.2 149.7h1.1M453.9 152.5h1.1M447.2 151.8h1.1M447.3 159.1h1.1M452.4 160.3h1.1M438.8 160.2h1.1M459.8 153.4h1.1M457.8 153h1.1M447.9 146.4h1.1M448.2 154.7h1.1M454.3 157.7h1.1M463.9 152.4h1.1M460.5 158.4h1.1M448.3 146.7h1.1M454.1 155.8h1.1M439.7 155.8h1.1M449.5 158.1h1.1M442.3 168.3h1.1M444.6 164h1.1M447.9 155.7h1.1M446.2 167.1h1.1M447.1 151.6h1.1M446.7 167h1.1M448.4 165.7h1.1M450.4 145.9h1.1M459.5 155h1.1M456.4 162.6h1.1M449.3 163.1h1.1M461.8 149.6h1.1M442.4 158.1h1.1M441.7 164.4h1.1M448.7 150h1.1M441.1 157.3h1.1M448.2 159.9h1.1M440.7 159.1h1.1M460 146.7h1.1M444.9 157.8h1.1M441.5 158.5h1.1M452.1 160.7h1.1M453.5 150h1.1M456.3 166.8h1.1M454.8 156h1.1M458.2 142.2h1.1M439.8 163.8h1.1M447.7 160.1h1.1M444.8 163.8h1.1M463.6 153.9h1.1M460.5 155.4h1.1M451.3 159.1h1.1M452.8 148.7h1.1M454.2 158.8h1.1M453.8 146.1h1.1M453.6 158.8h1.1M465.8 150.9h1.1M441.9 161.2h1.1M448.3 148.5h1.1M453.9 152.4h1.1M448.2 165.6h1.1M460.7 151.1h1.1M444.3 151.4h1.1M441.8 162.3h1.1M454.6 151.2h1.1M438.8 159.4h1.1M450.5 162.8h1.1M443.6 153.7h1.1M457.2 147.8h1.1M443 154.8h1.1M449.4 159.7h1.1M457.2 163.6h1.1M460.8 146.9h1.1M445.8 161.9h1.1M451.2 161.3h1.1M463.6 144.6h1.1M456.9 158h1.1M456 144.9h1.1M442.4 156.1h1.1M463.8 153.1h1.1M452.8 148h1.1M449.6 157.9h1.1M454.6 151.7h1.1M444.2 149.9h1.1M455.6 152.8h1.1M445.3 153.3h1.1M449.5 148.1h1.1M448.4 164.7h1.1M446 155.1h1.1M441.8 164.7h1.1M439.6 159.8h1.1M439.7 162.3h1.1M448.7 155.5h1.1M442.8 153.6h1.1M437.5 159.3h1.1M447.3 162.1h1.1M451 163.7h1.1M454.3 160.4h1.1M456.6 161.2h1.1M449.4 149.2h1.1M457.7 149.9h1.1M442.7 161h1.1M460.3 154.5h1.1M441.9 155.3h1.1M450.7 161.4h1.1M446.5 164.4h1.1M457.5 149h1.1M453 151h1.1M454.3 161.8h1.1M449.6 158.4h1.1M443.5 165.1h1.1M461.1 158.1h1.1M450 154.8h1.1M458.6 145.5h1.1M443.2 165.8h1.1M445 158.6h1.1M454.4 151.8h1.1M445.8 165h1.1M449.1 150.5h1.1M439.1 164.5h1.1M444.7 153.3h1.1M437 163.4h1.1M445.3 167.1h1.1M457.6 163.1h1.1M457.5 153.9h1.1M445.1 160.9h1.1M454.5 165.5h1.1M457.3 154.7h1.1M463.2 153h1.1M445.3 156.5h1.1M455.1 162.6h1.1M464.7 145.5h1.1M460.6 150.1h1.1M453.4 147.3h1.1M453.1 156.3h1.1M457.8 158.2h1.1M455.3 146.4h1.1M445.3 151.3h1.1M452.3 152.5h1.1M447 169.2h1.1M444.4 162.6h1.1M459.2 150.5h1.1M454.2 165.7h1.1M458.7 156.9h1.1M460 151h1.1M441.6 151.9h1.1M454.1 152.4h1.1M449.2 161.3h1.1M442.3 161.9h1.1M446.9 163.6h1.1M448.5 161.3h1.1M454.4 145.4h1.1M457.1 146.3h1.1M446.5 163h1.1M449.1 152.6h1.1M452.3 163.2h1.1M448.9 153.1h1.1M453.2 163.5h1.1M459.1 156.9h1.1M456.2 160h1.1M457.2 155.1h1.1M452.3 163.4h1.1M454.8 146.3h1.1M446.9 160.2h1.1M457.6 163.7h1.1M449.2 165.3h1.1M446.2 162.7h1.1M449.7 161.9h1.1M448.2 160h1.1M445.7 157h1.1M448.5 161.3h1.1M444.7 157.4h1.1M456.8 150.9h1.1M443.8 160.4h1.1M441.3 156.1h1.1M444.3 156.4h1.1M438.3 160h1.1M457 153.8h1.1M450.1 159.2h1.1M441.3 155.7h1.1M454.8 157.2h1.1M446.7 157.2h1.1M444.7 165.3h1.1M451.8 161.3h1.1M444.5 158.3h1.1M456.7 153.3h1.1M455.2 161.9h1.1M446.3 165.1h1.1M456.9 157.2h1.1M448.6 162.1h1.1M442.1 164.4h1.1M454.5 145.6h1.1M453.1 159h1.1M450.1 159.1h1.1M450.6 153.9h1.1M448.5 158.2h1.1M459.2 153.9h1.1M463.5 153.9h1.1M449.3 162.1h1.1M460 145.6h1.1M453.6 144.7h1.1M450.2 155.4h1.1M455.9 160.7h1.1M457.8 159.1h1.1M451.4 163.6h1.1M458.6 154h1.1M443 154.2h1.1M440.8 162.4h1.1M463.8 149.9h1.1M445.3 158.7h1.1M457.4 152.6h1.1M458.3 164.4h1.1M462.7 155.1h1.1M459.4 151.1h1.1M458.9 154.5h1.1M444.2 159.8h1.1M461.9 146.7h1.1M454 153.4h1.1M452.6 162.3h1.1M450.5 160.6h1.1M450.7 153.4h1.1M458.4 157.3h1.1M453.1 149.7h1.1M449.4 161.6h1.1M462.8 146.2h1.1M447.6 153.9h1.1M452.3 148.7h1.1M448.9 165.7h1.1M459.8 163.1h1.1M439.6 157.9h1.1M457.1 163.1h1.1M447.2 151.9h1.1M455.1 153.6h1.1M448.5 152.3h1.1M456 152.8h1.1M457.2 157.1h1.1M455.6 157.3h1.1M445.1 157.7h1.1M455.8 152.1h1.1M453.4 161.4h1.1M451 152.2h1.1M454.7 153.8h1.1M449.9 156.3h1.1M458.3 149.6h1.1M456.8 149.4h1.1M438.2 162.1h1.1M453.1 163.5h1.1M451.9 155.8h1.1M442.4 164.7h1.1M437.8 156.8h1.1M451.8 156.1h1.1M451.9 155.4h1.1M451.6 163.1h1.1M445.8 169h1.1M456.9 162.7h1.1M458.4 145.7h1.1M442.3 150.6h1.1M445.2 160.3h1.1M461.5 151.2h1.1M462.2 150.9h1.1M442.8 156.5h1.1M451.4 154.6h1.1M447.6 163h1.1M453.9 148.7h1.1M456.6 158.2h1.1M459.4 155.7h1.1M454.5 162.7h1.1M446 152.6h1.1M451.1 149.6h1.1M457.1 161.8h1.1M453.2 154.9h1.1M463.9 151.6h1.1M451.7 163.1h1.1M448.2 149h1.1M446.4 166.4h1.1M446.5 165.6h1.1M443.9 160.9h1.1M454.4 145.4h1.1M457.4 148.8h1.1M448.5 165.8h1.1M455.7 152.8h1.1M459.7 144.3h1.1M445.2 153.5h1.1M449.6 155.3h1.1M461.3 153.4h1.1M453.4 164.3h1.1M458.2 153.9h1.1M446.7 155.5h1.1M452.6 154h1.1M447.9 144.8h1.1M449.4 151h1.1M454.4 154h1.1M450.5 148.7h1.1M450 160.6h1.1M448.8 152h1.1M449.6 154.9h1.1M459.2 148h1.1M444.8 161.2h1.1M445.1 160.7h1.1M458.7 151h1.1M447.3 156.7h1.1M450.9 162.1h1.1M436.4 159.8h1.1M449.1 158.3h1.1M456.9 148.6h1.1M455 155h1.1M459.4 151.7h1.1M457 155.7h1.1M443.9 157.9h1.1M453.9 164.9h1.1M440.9 164.9h1.1M445.1 163.6h1.1M444.1 167.1h1.1M445.3 161.6h1.1M464.3 150.8h1.1M454.6 148.8h1.1M444.8 158.3h1.1M458.3 155.6h1.1M449.6 149.6h1.1M446.2 152.1h1.1M458.6 152.9h1.1M449.3 165.3h1.1M445.6 165.1h1.1M440.2 161.3h1.1M457.6 160.8h1.1M444.1 158.6h1.1M445.9 152h1.1M445.3 151.1h1.1M454.5 147h1.1M453.8 158.6h1.1M441.9 155.1h1.1M449.4 155h1.1M454.2 147.3h1.1M462.8 145.5h1.1M455.4 162.5h1.1M455.6 163.2h1.1M452 163.9h1.1M458.3 166.1h1.1M448.6 152.2h1.1M445.9 158.2h1.1M458.4 148.4h1.1M468.8 147.2h1.1M467 164.1h1.1M467.6 149.2h1.1M465.9 167.2h1.1M463.3 159.3h1.1M464.8 140.9h1.1M464.4 148.2h1.1M467.6 142h1.1M463.4 147.4h1.1M464.9 152.5h1.1M461.4 154.9h1.1M465 168.2h1.1M462.3 165.1h1.1M467.7 154.2h1.1M468.5 145.5h1.1M466.4 164.6h1.1M460.2 144.4h1.1M463.2 141.3h1.1M469 160.2h1.1M470.4 157.9h1.1M462 146.7h1.1M470 150.5h1.1M462 170.1h1.1M464.7 149.9h1.1M463 142.6h1.1M465.8 167.6h1.1M466.2 139.5h1.1M468.2 148.9h1.1M462.3 153.7h1.1M472.4 156.3h1.1M469 148.9h1.1M466.7 145.8h1.1M466.2 145.1h1.1M467 164.9h1.1M463.4 166.3h1.1M465.2 141.5h1.1M470.2 163.1h1.1M467.9 149h1.1M460.1 142.2h1.1M465.1 165.4h1.1M472.4 154.9h1.1M466.7 153h1.1M472.1 157.3h1.1M464.7 163.6h1.1M461.6 151.5h1.1M464.8 158.8h1.1M468.6 152.8h1.1M470.7 161.7h1.1M464.3 159.9h1.1M462.2 164h1.1M461.7 161.4h1.1M461.9 168.2h1.1M466 140.3h1.1M468.9 147.2h1.1M469.8 153.4h1.1M469.4 147.9h1.1M466.8 143.3h1.1M463.9 140.6h1.1M460.4 153.7h1.1M471.7 159.5h1.1M468.9 162.5h1.1M460.6 145.9h1.1M469.9 159.5h1.1M471.7 154.2h1.1M464 160.4h1.1M462.6 166.9h1.1M464.7 157.4h1.1M466.7 156.9h1.1M462.9 169.6h1.1M467.2 163.6h1.1M463.6 144.8h1.1M470.3 160.6h1.1M462.8 146.5h1.1M464.4 162.7h1.1M460.7 150.3h1.1M462.2 160.8h1.1M465.3 161h1.1M464.3 157.9h1.1M469.7 163.5h1.1M460.6 155.6h1.1M469.5 158.9h1.1M469.6 151.4h1.1M464.3 163.8h1.1M467.1 147.4h1.1M462.7 148.3h1.1M472.2 158.6h1.1M467.4 150.4h1.1M462.8 145.4h1.1M461.2 150.9h1.1M469.5 139.3h1.1M471 147.9h1.1M464.2 149.6h1.1M465.4 141.6h1.1M461.7 159.3h1.1M466.2 163.2h1.1M466.5 164.3h1.1M470 147.5h1.1M470.4 161.9h1.1M462.3 154.6h1.1M464.2 155.7h1.1M461.2 144.1h1.1M466.9 154.3h1.1M467.7 152.8h1.1M468.3 156.5h1.1M463.8 162.5h1.1M471.8 158.1h1.1M462 149.5h1.1M465.3 143.4h1.1M463.2 160.5h1.1M463.4 151.4h1.1" stroke="#2a2a2a" stroke-width="1.1"/>
<polygon points="436.5,197.8 437.2,187.6 441.8,180.1 448.3,174.7 453.8,168.8 458.7,164.7 461.5,167.6 460.3,175.4 457.3,183.7 454.7,191.2 452.4,197.6" fill="#333" filter="url(#b0_8)" opacity="0.9"/>
<polygon points="439.5,196.5 440,188 444.5,181 450,176 455.5,171 458,172 456.5,180 453,189 450.5,196.5" fill="#999" filter="url(#b1_2)" opacity="0.85"/>
<path d="M449.8 177h1.1M449.4 187h1.1M450.3 185.9h1.1M442 194.7h1.1M451.3 176.9h1.1M454 180.6h1.1M449.8 182.2h1.1M448.1 195.2h1.1M449.7 181.4h1.1M444.7 192.5h1.1M444.3 191.9h1.1M445.1 193.4h1.1M451.9 183.2h1.1M455 179.4h1.1M440.7 193.8h1.1M442.5 194.1h1.1M453 180.4h1.1M454.8 177.1h1.1M454.2 180h1.1M444 193.8h1.1M446.5 193.2h1.1M441.7 194.9h1.1M453.1 183.4h1.1M441.8 192.7h1.1M449.8 192h1.1M451.2 189.8h1.1M450 194.9h1.1M445.7 184.8h1.1M449.8 176.9h1.1M443.9 191.1h1.1M450.1 181.6h1.1M451.4 175.5h1.1M454.1 174.5h1.1M447.1 191.6h1.1M449.8 193.1h1.1" stroke="#3a3a3a" stroke-width="1.1" stroke-opacity="0.45"/>
<polygon points="439.7,161.7 441.8,154.1 447.5,149.6 454.8,146.8 462.4,145.6 464.2,152.2 461.3,159.7 454.8,165.2 446.4,167.3" fill="#333" filter="url(#b0_8)" opacity="0.9"/>
<ellipse cx="452" cy="157.5" rx="7" ry="4.2" fill="#8a8a8a" transform="rotate(-30 452 157.5)" filter="url(#b1_2)" opacity="0.8"/>
<rect x="427.5" y="129.5" width="85" height="69" fill="none" stroke="#333" stroke-width="1"/>
<line x1="462.5" y1="129" x2="462.5" y2="198.4" stroke="#2a2a2a" stroke-width="1"/>
<line x1="427.1" y1="172.5" x2="512.9" y2="172.5" stroke="#2a2a2a" stroke-width="1"/>
<path d="M427.1 198.4v3.1M427.1 198.4h-3.1M433.6 198.4v1.8M427.1 193.2h-1.8M437.3 198.4v1.8M427.1 190.1h-1.8M440 198.4v1.8M427.1 188h-1.8M442.1 198.4v1.8M427.1 186.3h-1.8M443.8 198.4v1.8M427.1 184.9h-1.8M445.2 198.4v1.8M427.1 183.7h-1.8M446.5 198.4v1.8M427.1 182.7h-1.8M447.6 198.4v1.8M427.1 181.8h-1.8M448.6 198.4v3.1M427.1 181.1h-3.1M455 198.4v1.8M427.1 175.8h-1.8M458.8 198.4v1.8M427.1 172.8h-1.8M461.5 198.4v1.8M427.1 170.6h-1.8M463.5 198.4v1.8M427.1 168.9h-1.8M465.2 198.4v1.8M427.1 167.5h-1.8M466.7 198.4v1.8M427.1 166.4h-1.8M467.9 198.4v1.8M427.1 165.4h-1.8M469 198.4v1.8M427.1 164.5h-1.8M470 198.4v3.1M427.1 163.7h-3.1M476.5 198.4v1.8M427.1 158.5h-1.8M480.2 198.4v1.8M427.1 155.4h-1.8M482.9 198.4v1.8M427.1 153.3h-1.8M485 198.4v1.8M427.1 151.6h-1.8M486.7 198.4v1.8M427.1 150.2h-1.8M488.1 198.4v1.8M427.1 149h-1.8M489.4 198.4v1.8M427.1 148h-1.8M490.5 198.4v1.8M427.1 147.1h-1.8M491.4 198.4v3.1M427.1 146.3h-3.1M497.9 198.4v1.8M427.1 141.1h-1.8M501.7 198.4v1.8M427.1 138.1h-1.8M504.4 198.4v1.8M427.1 135.9h-1.8M506.4 198.4v1.8M427.1 134.2h-1.8M508.1 198.4v1.8M427.1 132.8h-1.8M509.6 198.4v1.8M427.1 131.7h-1.8M510.8 198.4v1.8M427.1 130.7h-1.8M511.9 198.4v1.8M427.1 129.8h-1.8M512.9 198.4v3.1M427.1 129h-3.1" stroke="#333" stroke-width="0.9" fill="none"/>
<text x="428.4" y="208.9" font-size="7.5" font-family='"Liberation Sans", sans-serif' font-weight="bold" textLength="6.6" lengthAdjust="spacingAndGlyphs" text-anchor="end" fill="#000">10</text>
<text x="428.7" y="205" font-size="5.8500000000000005" font-family='"Liberation Sans", sans-serif' font-weight="bold" fill="#000">0</text>
<text x="422.1" y="202.1" font-size="7.5" font-family='"Liberation Sans", sans-serif' font-weight="bold" textLength="6.6" lengthAdjust="spacingAndGlyphs" fill="#000" transform="rotate(-90 422.1 202.1)">10</text>
<text x="417.5" y="195.1" font-size="5.8500000000000005" font-family='"Liberation Sans", sans-serif' font-weight="bold" fill="#000" transform="rotate(-90 417.5 195.1)">0</text>
<text x="449.9" y="208.9" font-size="7.5" font-family='"Liberation Sans", sans-serif' font-weight="bold" textLength="6.6" lengthAdjust="spacingAndGlyphs" text-anchor="end" fill="#000">10</text>
<text x="450.2" y="205" font-size="5.8500000000000005" font-family='"Liberation Sans", sans-serif' font-weight="bold" fill="#000">1</text>
<text x="422.1" y="186.2" font-size="7.5" font-family='"Liberation Sans", sans-serif' font-weight="bold" textLength="6.6" lengthAdjust="spacingAndGlyphs" fill="#000" transform="rotate(-90 422.1 186.2)">10</text>
<text x="417.5" y="179.2" font-size="5.8500000000000005" font-family='"Liberation Sans", sans-serif' font-weight="bold" fill="#000" transform="rotate(-90 417.5 179.2)">1</text>
<text x="471.3" y="208.9" font-size="7.5" font-family='"Liberation Sans", sans-serif' font-weight="bold" textLength="6.6" lengthAdjust="spacingAndGlyphs" text-anchor="end" fill="#000">10</text>
<text x="471.6" y="205" font-size="5.8500000000000005" font-family='"Liberation Sans", sans-serif' font-weight="bold" fill="#000">2</text>
<text x="422.1" y="168.8" font-size="7.5" font-family='"Liberation Sans", sans-serif' font-weight="bold" textLength="6.6" lengthAdjust="spacingAndGlyphs" fill="#000" transform="rotate(-90 422.1 168.8)">10</text>
<text x="417.5" y="161.8" font-size="5.8500000000000005" font-family='"Liberation Sans", sans-serif' font-weight="bold" fill="#000" transform="rotate(-90 417.5 161.8)">2</text>
<text x="492.8" y="208.9" font-size="7.5" font-family='"Liberation Sans", sans-serif' font-weight="bold" textLength="6.6" lengthAdjust="spacingAndGlyphs" text-anchor="end" fill="#000">10</text>
<text x="493.1" y="205" font-size="5.8500000000000005" font-family='"Liberation Sans", sans-serif' font-weight="bold" fill="#000">3</text>
<text x="422.1" y="151.5" font-size="7.5" font-family='"Liberation Sans", sans-serif' font-weight="bold" textLength="6.6" lengthAdjust="spacingAndGlyphs" fill="#000" transform="rotate(-90 422.1 151.5)">10</text>
<text x="417.5" y="144.5" font-size="5.8500000000000005" font-family='"Liberation Sans", sans-serif' font-weight="bold" fill="#000" transform="rotate(-90 417.5 144.5)">3</text>
<text x="514.2" y="208.9" font-size="7.5" font-family='"Liberation Sans", sans-serif' font-weight="bold" textLength="6.6" lengthAdjust="spacingAndGlyphs" text-anchor="end" fill="#000">10</text>
<text x="514.5" y="205" font-size="5.8500000000000005" font-family='"Liberation Sans", sans-serif' font-weight="bold" fill="#000">4</text>
<text x="422.1" y="134.1" font-size="7.5" font-family='"Liberation Sans", sans-serif' font-weight="bold" textLength="6.6" lengthAdjust="spacingAndGlyphs" fill="#000" transform="rotate(-90 422.1 134.1)">10</text>
<text x="417.5" y="127.1" font-size="5.8500000000000005" font-family='"Liberation Sans", sans-serif' font-weight="bold" fill="#000" transform="rotate(-90 417.5 127.1)">4</text>
<line x1="484.9" y1="139.5" x2="507.9" y2="139.5" stroke="#222" stroke-width="1"/>
<line x1="497.5" y1="131.3" x2="497.5" y2="148" stroke="#222" stroke-width="1"/>
<text x="496.1" y="136.9" font-size="9" font-family='"Liberation Serif", serif' text-anchor="end" fill="#000" stroke="#000" stroke-width="0.25">15.1</text>
<text x="497.9" y="136.9" font-size="9" font-family='"Liberation Serif", serif' fill="#000" stroke="#000" stroke-width="0.25">5.4</text>
<text x="496.1" y="147" font-size="9" font-family='"Liberation Serif", serif' text-anchor="end" fill="#000" stroke="#000" stroke-width="0.25">78.6</text>
<text x="497.9" y="147" font-size="9" font-family='"Liberation Serif", serif' fill="#000" stroke="#000" stroke-width="0.25">0.9</text>
<path d="M83.3 285.3h1.3M105.4 288.5h1.3M66.9 289.1h1.3M116.4 280.2h1.3M65.9 277.5h1.3M71.4 295h1.3M62 283.6h1.3M58.2 280.6h1.3M63 281h1.3M90.7 293.3h1.3M60.9 284.6h1.3M61.1 286.6h1.3M56.4 277.7h1.3M105.7 288.2h1.3M100.5 302.3h1.3M62.2 279.6h1.3M78.1 280h1.3M70.2 284h1.3M91.8 298.2h1.3M79.5 279h1.3M83.8 283.9h1.3M97.7 279.6h1.3M64.3 301.7h1.3M103.4 279.5h1.3M72 292.6h1.3M69 284.4h1.3M75 292.7h1.3M84.3 286.5h1.3M98.5 282.2h1.3M90.1 287.4h1.3M63.4 281.2h1.3M80.2 281.9h1.3M122.3 284.5h1.3M77.9 283h1.3M88.9 277.3h1.3M105.4 282.1h1.3M83.7 281.3h1.3M78.1 295.9h1.3M60 294.4h1.3M117.5 291.3h1.3M96.9 303.4h1.3M115.1 287.4h1.3M111.5 280.5h1.3M79.7 300.8h1.3M57.4 293.4h1.3M77.4 294.7h1.3M85.7 288.7h1.3M55.5 277.2h1.3M89.6 295.2h1.3M60.2 290.1h1.3M74.4 279.2h1.3M58 278.9h1.3M63.8 285.3h1.3M69.2 286.8h1.3M103.5 293.1h1.3M65.5 278.6h1.3M96.8 293.9h1.3M88.4 292.9h1.3M68.4 303.6h1.3M99.7 297h1.3M55.8 288.9h1.3M92.6 279.9h1.3M81.7 283.7h1.3M58.5 300.3h1.3M94.2 298.1h1.3M98.1 282h1.3M94.8 282.2h1.3M60.6 296.2h1.3M76.4 286.5h1.3M85.4 304.1h1.3M62.9 289.2h1.3M70.9 297.3h1.3M107.4 298h1.3M57.2 279.6h1.3M133.1 281.7h1.3M61.4 297.9h1.3M91.7 286.8h1.3M67.2 304.1h1.3M115.4 285.9h1.3M65.5 294.4h1.3M74.4 285h1.3M89 291.9h1.3M92.1 297.1h1.3M96.2 299.8h1.3M83 280.7h1.3M114 289.9h1.3M68.9 280.6h1.3M82.4 300.6h1.3M59.6 293.3h1.3M101 298.9h1.3M64.8 301.7h1.3M86.4 298.5h1.3M77.2 303.1h1.3M96.3 304.9h1.3M105.4 285.4h1.3M56 302.7h1.3M98.2 302.7h1.3M58.9 279h1.3M89.5 286.7h1.3M75.3 302.2h1.3M91.4 279.5h1.3M98.6 303.7h1.3M91.2 279.3h1.3M95.7 304.3h1.3M73.6 287h1.3M111.1 279.4h1.3M80 282.5h1.3M85.2 287.9h1.3M60.7 295.7h1.3M66.4 293.3h1.3M65.6 285.1h1.3M94.6 279.7h1.3M73.9 287.4h1.3M110.2 281.8h1.3M86.1 298.4h1.3M117.3 291.2h1.3M100.6 294.5h1.3M101.3 288.3h1.3M55.4 282.8h1.3M79.7 299.7h1.3M68.9 285.3h1.3M63.5 290.3h1.3M68.7 294.4h1.3M94.9 282.6h1.3M63.1 278.7h1.3M84.4 290.8h1.3M62 293.7h1.3M84 281.8h1.3M60.5 304.2h1.3M94.3 278.8h1.3M82 282h1.3M65.8 296.7h1.3M75.9 292.9h1.3M94.4 297.4h1.3M127.7 279.4h1.3M71.5 295.8h1.3M117.1 282.1h1.3M77.1 281.6h1.3M62.4 296h1.3M85.9 302h1.3M69.2 281.4h1.3M68.8 299.4h1.3M73.4 287.3h1.3M101.3 286.1h1.3M85.4 295.1h1.3M91.4 288.2h1.3M94 295.3h1.3M59 281.8h1.3M79.2 284.9h1.3M90.3 292.5h1.3M94.1 286.9h1.3M90.4 280.2h1.3M101.2 285.7h1.3M74.9 288.9h1.3M97.3 303.2h1.3M101.6 279.1h1.3M101 293.6h1.3M100.2 292.1h1.3M133.5 278.4h1.3M59.9 287h1.3M77.3 302h1.3M73.8 298.2h1.3M94.8 301.2h1.3M79.4 298.6h1.3M57 292.8h1.3M71 294.3h1.3M65.8 296h1.3M79.9 280.4h1.3M87.8 278.9h1.3M76.2 283.4h1.3M73 299.7h1.3M89.6 289.7h1.3M88.4 303.9h1.3M97.4 282.5h1.3M74.6 297.6h1.3M78.7 304.4h1.3M95 291.2h1.3M74.4 277.7h1.3M78.7 295.7h1.3M94.9 302.1h1.3M106.5 293.1h1.3M64.1 291.7h1.3M73.9 285.6h1.3M63.9 293.4h1.3M74.1 293h1.3M56.1 291.5h1.3M67.6 282.9h1.3M100.3 282.2h1.3M62.5 284.2h1.3M103.7 301.1h1.3M92.6 291.8h1.3M82.4 291.7h1.3M61.4 286.2h1.3M71.2 297h1.3M108.6 282.6h1.3M80 282.4h1.3M68.6 289.7h1.3M91.2 298.9h1.3M76 299.2h1.3M59.9 279.7h1.3M63.9 297.7h1.3M66.3 285.1h1.3M60.1 284.3h1.3M86 290.4h1.3M113.1 288.5h1.3M63.6 299.8h1.3M72 287.4h1.3M102 295.8h1.3M97.4 300.1h1.3M99.6 277.6h1.3M61.2 296.3h1.3M68.2 301.2h1.3M97.1 288.9h1.3M60 304.7h1.3M61.6 283.2h1.3M109.6 280h1.3M118.9 280.9h1.3M86.3 291.4h1.3M74.8 288.9h1.3M58.2 278.7h1.3M87.7 281.6h1.3M66.5 287.3h1.3M119 278.7h1.3M86.1 291.7h1.3M70.3 304.5h1.3M62.4 286.3h1.3M78 300.7h1.3M75.3 285.5h1.3M67.7 280.1h1.3M57.9 282.1h1.3M81.9 296.7h1.3M114.2 290.7h1.3M122.7 278h1.3M57.6 290.3h1.3M89.9 277.1h1.3M76.9 285.8h1.3M61 298.3h1.3M84.8 281.9h1.3M101 297.6h1.3M55.6 282h1.3M72.5 294.5h1.3M95.5 293h1.3M66.4 301.7h1.3M89.4 293.5h1.3M58 302h1.3M76.8 296.6h1.3M118.3 281.7h1.3M90.2 278.8h1.3M65.1 302h1.3M87.7 286.9h1.3M58.5 294.3h1.3M63.6 304.6h1.3M117.1 292.1h1.3M72.6 285.4h1.3M57.4 282.8h1.3M87.9 286.1h1.3M113.7 278.6h1.3M113.4 284.3h1.3M95.5 282.4h1.3M57.9 296.6h1.3M77.7 303.6h1.3M85 290.7h1.3M90.8 304.9h1.3M91 300.5h1.3M107.7 286.5h1.3M81.6 287.5h1.3M64.3 283.4h1.3M72.6 286.2h1.3M71.2 301.9h1.3M109.9 285.4h1.3M81.2 302.5h1.3M82.6 301.7h1.3M72.2 288.5h1.3M82.6 285h1.3M84.5 294.4h1.3M72.6 281.4h1.3M123.4 286.3h1.3M63.3 299.8h1.3M105.2 283.6h1.3M66.9 293.8h1.3M95.8 283.9h1.3M92.6 289.9h1.3M57.3 299.7h1.3M67 291h1.3M96.3 299.6h1.3M65.8 301.9h1.3M85.2 291.1h1.3M69.2 281.1h1.3M86.3 289.6h1.3M93.6 291.7h1.3M120.9 282.3h1.3M81.9 302.3h1.3M114.7 280.2h1.3M86 282.3h1.3M105.7 277.6h1.3M97.2 278.7h1.3M83.7 301.1h1.3M56.7 288.3h1.3M91.2 296.4h1.3M87.7 282.9h1.3M79.8 291h1.3M86.1 288.9h1.3M93 294.5h1.3M89 292.2h1.3M86.8 288.8h1.3M86.5 294.1h1.3M96.4 296.5h1.3M84.6 297.4h1.3M92.5 292h1.3M79.4 297.7h1.3M85.4 296.9h1.3M94.1 293.4h1.3M86.2 287.2h1.3M83.1 296.3h1.3M96.6 298h1.3M97.1 296.9h1.3M98.9 297.1h1.3M83.3 287.3h1.3M94.2 291.5h1.3M95.1 296.9h1.3M89.9 290.9h1.3M84.8 298h1.3M81.5 287.9h1.3M81.7 288h1.3M97.7 297.7h1.3M80.5 287h1.3M77.8 289.8h1.3M89.4 293.6h1.3M87.2 293.8h1.3M81.2 297.7h1.3M80.6 296.3h1.3M92.9 295.4h1.3M95.1 293.5h1.3M89.7 293.2h1.3M84.2 295.4h1.3M86.4 291.1h1.3M84.4 289h1.3M78.7 286.1h1.3M78.8 290.7h1.3M82.5 294.8h1.3M83.2 294.7h1.3M82.3 295.5h1.3M92.1 289.7h1.3M89.5 292.7h1.3M78.7 291.8h1.3M82.7 297.2h1.3M87.3 291.5h1.3M81.2 289.8h1.3M79 288.6h1.3M93.2 296.1h1.3M88.3 297.6h1.3M80.4 289.3h1.3M86.2 289h1.3M88.9 291.8h1.3M82.2 296.9h1.3M84.8 289.8h1.3M80 297.9h1.3M94 292h1.3M87.1 292.2h1.3M91.5 291h1.3M115.9 293.7h1.3M134.3 280.4h1.3M98.3 308.3h1.3M119.5 293.5h1.3M104.3 300.7h1.3M113.3 297.4h1.3M105.5 302.9h1.3M134.8 280.8h1.3M103.5 303.8h1.3M112.1 298.2h1.3M98.5 306.7h1.3M136.1 277.5h1.3M104.7 302h1.3M102.8 303.1h1.3M106.3 300.6h1.3M102.6 304.3h1.3M131.4 282h1.3M114.4 297.9h1.3M127.5 285.9h1.3M121.1 290.4h1.3M125.2 288.2h1.3M114 294.3h1.3M102.8 302.4h1.3M128.4 284.3h1.3M95.9 308.8h1.3M114.6 295.1h1.3M106.2 300.9h1.3M100 305.7h1.3M130.6 282.5h1.3M120.3 290.2h1.3M97.7 306.6h1.3M98.6 307.6h1.3M132.2 281.9h1.3M122.2 289.5h1.3M130.1 284.4h1.3M103.3 303.4h1.3M135 279.8h1.3M97.6 308h1.3M98.5 307.7h1.3M112.8 297.2h1.3M106.6 303h1.3M126.4 287.5h1.3M115.6 295.4h1.3M132.5 282.4h1.3M114.7 294.4h1.3M110.5 298.6h1.3M112.6 297.4h1.3M132.9 280.5h1.3M98.1 306.5h1.3M126.6 288.2h1.3M122.9 288.2h1.3M113.9 295.7h1.3M109.7 299h1.3M105.5 301.8h1.3M120.6 292.7h1.3M77.6 303.9h1.3M85.4 302.9h1.3M73.7 304.6h1.3M76.4 302.2h1.3M69.3 299.5h1.3M58.6 304.6h1.3M58.6 304.9h1.3M88.7 302.8h1.3M67.5 298.5h1.3M81.4 303h1.3M79 299h1.3M66.5 305.4h1.3M70.8 302.2h1.3M84.1 303.1h1.3M67.1 300.3h1.3M84 305.3h1.3M86.4 302.3h1.3M65.4 298.3h1.3M89.2 304.8h1.3M91.9 301.6h1.3M56.5 303.4h1.3M86.6 299.3h1.3M55.2 304.3h1.3M90.3 301.2h1.3M74 302.2h1.3M63.6 298.9h1.3M55.9 304.1h1.3M81.2 301.7h1.3M89.4 298.9h1.3M80.9 299h1.3M76.7 298.5h1.3M60.7 304.6h1.3M75.6 303.6h1.3M79.1 304.8h1.3M58.5 299h1.3M90.1 305h1.3M93.5 302h1.3M60.2 300.1h1.3M92.2 300h1.3M79.9 305.3h1.3M68.9 302.2h1.3M75.5 300.4h1.3M74.6 299.6h1.3M67.8 304.6h1.3M90.1 298.3h1.3M90.4 302.9h1.3M90.5 301.4h1.3M65.3 303.2h1.3M80 299.8h1.3M65 305.3h1.3M57.4 303.8h1.3M60.8 300.8h1.3M56.5 301.4h1.3M74.5 301.3h1.3M90.9 298.9h1.3M69.4 302.5h1.3M76.2 303.6h1.3M62 300.9h1.3M83.1 300.7h1.3M86.1 299.1h1.3M63.1 305.2h1.3M87 300.2h1.3M68.6 303.1h1.3M74.7 299.7h1.3M60.8 301.3h1.3M72.6 304.6h1.3M64.5 298.6h1.3M84.6 301.4h1.3M85.6 303.4h1.3M78.3 299.5h1.3M73.9 301h1.3M68.2 303.8h1.3M60.4 304h1.3M65.3 298.1h1.3M60 304.1h1.3M69.7 303.9h1.3M84.1 304.4h1.3M63.4 299.6h1.3M77.5 298.4h1.3M88.5 303.8h1.3M70.9 304.6h1.3M70.5 306.5h1.3M64 307.9h1.3M60.4 318.5h1.3M54.4 326.6h1.3M54.8 304.8h1.3M61.3 315.2h1.3M71.5 306.8h1.3M57.7 308.4h1.3M68.8 309.1h1.3M57.9 316.2h1.3M58.3 311h1.3M55.7 318.1h1.3M57.1 324.1h1.3M68.3 306.6h1.3M64.1 305.7h1.3M55.3 318.1h1.3M68 307.4h1.3M67.5 306.7h1.3M55.8 323.8h1.3M55 308.9h1.3M58.1 308.5h1.3M62.1 312h1.3M55.3 318.9h1.3M66.8 308.2h1.3M63.7 311.7h1.3M62.9 308.8h1.3M61.3 306.9h1.3M72.4 308h1.3M55.8 306.7h1.3M59 308.4h1.3M64.4 309.7h1.3M56.9 322.6h1.3M63 306.5h1.3M60.4 319.2h1.3M55 308.5h1.3M61.9 305.6h1.3M58.5 322.4h1.3M59.7 309.7h1.3M57.8 311.5h1.3M68.2 305.9h1.3M62.8 314.1h1.3M60.7 305.4h1.3M56.4 322.6h1.3M57.7 310.6h1.3M55.5 323.5h1.3M61.7 315.5h1.3M56.8 318.7h1.3M64.4 315.1h1.3M62.2 316.3h1.3M56.9 323.1h1.3M57.6 313.5h1.3M64.4 304.4h1.3M70.8 305.1h1.3M57.4 312.4h1.3M68.3 307.4h1.3M67.4 311.4h1.3M59.1 313.6h1.3M56.2 316.8h1.3M58.4 308.5h1.3M55.7 304.9h1.3M55.8 327h1.3M55.6 307.4h1.3M54.7 314.1h1.3M62.5 307.7h1.3M57.9 308.6h1.3M56.2 316.8h1.3M54.5 308.4h1.3M57.5 317.7h1.3M56.9 319.5h1.3M59.3 306.3h1.3M62.8 306.7h1.3M58.7 313.2h1.3M56 311.8h1.3M60.2 310h1.3M57.3 322.7h1.3M56.4 324.3h1.3M54.5 304.6h1.3M55 307.8h1.3M59.5 309.9h1.3M58.4 317.7h1.3M65.9 311.9h1.3M57.2 310h1.3M59.6 319.4h1.3M70.4 307.4h1.3M57.3 322.3h1.3M61.6 316.9h1.3M61.7 312.4h1.3M60.1 319.4h1.3M62.8 311.5h1.3" stroke="#606060" stroke-width="1.3"/>
<path d="M64.8 293.6h1.1M64.4 286.8h1.1M70.1 284.9h1.1M54.9 289.5h1.1M68.6 294.6h1.1M69.3 291.1h1.1M75.2 286.1h1.1M58.8 286.2h1.1M72.2 292.1h1.1M66.8 291.3h1.1M66.6 286.8h1.1M62.9 290h1.1M66.6 293.6h1.1M71 285.9h1.1M67.3 284.6h1.1M69.2 295.5h1.1M71 292.3h1.1M61.5 290.3h1.1M66.1 284.4h1.1M57.9 285h1.1M67.6 295.6h1.1M70.4 294.7h1.1M57.8 287.1h1.1M55.5 292.2h1.1M70.5 295.6h1.1M71 288.1h1.1M65 289.6h1.1M69.4 281.5h1.1M62.2 295.2h1.1M56.2 291.7h1.1M70.2 290.6h1.1M70.8 290.7h1.1M65 286.4h1.1M58.9 286.2h1.1M68.4 283.8h1.1M64.4 287.9h1.1M68 293.7h1.1M57 294.2h1.1M70.8 285.8h1.1M62.3 288.8h1.1M62.8 297.6h1.1M68.3 284.8h1.1M57.4 290.9h1.1M67.3 294.1h1.1M64.6 284.7h1.1M74.4 289.5h1.1M70 283.1h1.1M58.4 287.2h1.1M69.7 286.6h1.1M73.3 288.4h1.1M68.6 295.5h1.1M73.9 292.2h1.1M62 284.6h1.1M71.3 285.7h1.1M72 287.1h1.1M68.2 291.4h1.1M71.1 289h1.1M73.9 285.8h1.1M60.9 284.7h1.1M67.5 286.9h1.1M60.3 289.9h1.1M58.8 285.1h1.1M61.3 284h1.1M65.6 295.3h1.1M75.1 289.6h1.1M64.9 284.7h1.1M60.4 290.1h1.1M65.5 285.9h1.1M69.7 294.7h1.1M73.1 289.8h1.1M60.8 296.1h1.1M76.2 291.6h1.1M76.1 293.1h1.1M63.2 291.8h1.1M75.5 287.9h1.1M60.3 288.6h1.1M72.7 289.2h1.1M63.5 293h1.1M66.9 283.5h1.1M69.3 290.5h1.1M63.3 296.9h1.1M61.1 283.5h1.1M62.1 288.3h1.1M65.9 290.9h1.1M76.3 287.7h1.1M58.6 287.9h1.1M60.5 290.6h1.1M74.6 291.1h1.1M61.7 297.8h1.1M72.7 292.5h1.1M71.3 283.6h1.1M70.3 294.9h1.1M74.3 284.9h1.1M63.8 294.3h1.1M69.1 298.8h1.1M66.8 283.4h1.1M67.8 292.4h1.1M64.9 286.4h1.1M74.7 291.1h1.1M57.4 291.8h1.1M60.7 285.1h1.1M65.4 283.7h1.1M59.3 291.9h1.1M61.3 295.6h1.1M73.3 288.1h1.1M67 285.3h1.1M77.2 285.6h1.1M61.5 289.5h1.1M57.1 286.4h1.1M68 285.5h1.1M63.2 284.7h1.1M68 295.4h1.1M61.9 293.1h1.1M65.2 287.1h1.1M76.7 290.9h1.1M60.8 290.5h1.1M68.7 291.5h1.1M63.7 291.9h1.1M62.9 289h1.1M69 284.3h1.1M60.4 297.4h1.1M60.6 286.7h1.1M69.3 292.6h1.1M68.5 290.8h1.1M69.2 296.5h1.1M64.1 291h1.1M69 290.5h1.1M77 292.3h1.1M61 286.6h1.1M69.8 290.3h1.1M59.6 293.6h1.1M66.3 296h1.1M62.7 296.1h1.1M69.8 283.4h1.1M71.6 284.3h1.1M56.2 289h1.1M71.7 287.1h1.1M74.7 288.1h1.1M59.7 293.5h1.1M72.9 288h1.1M72 286.7h1.1M65.9 292.7h1.1M74.2 294.1h1.1M68.3 287.5h1.1M71.5 288.1h1.1M61.2 289.4h1.1M72.5 288.1h1.1M63.9 292.5h1.1M67.5 292.5h1.1M57.1 295.8h1.1M61.2 289.6h1.1M66 290.6h1.1M75 287.4h1.1M71.4 293.8h1.1M57.7 291.1h1.1M59.4 290.7h1.1M58.1 291.4h1.1M59.4 292.6h1.1M58.7 287.1h1.1M55.9 292.5h1.1M62.1 295.1h1.1M55 291.7h1.1M69.1 295.2h1.1M69.7 283.3h1.1M75.2 284.5h1.1M63.8 293.2h1.1M68.1 291.1h1.1M66.1 295.4h1.1M73.7 293.4h1.1M64.2 295.1h1.1M65.7 288.2h1.1M63 295.2h1.1M60.9 290.5h1.1M59.6 287.6h1.1M71 290.2h1.1M63.8 296.1h1.1M65.3 286.2h1.1M62 290.8h1.1M64.3 286.8h1.1M66.2 289.7h1.1M66.2 284.7h1.1M60.9 288.2h1.1M61.9 285.5h1.1M60.5 291.3h1.1M70.7 289.9h1.1M62.6 288.9h1.1M71.3 296.3h1.1M67.8 286.7h1.1M68.4 297.8h1.1M73.3 293h1.1M64.7 298.9h1.1M63 285.8h1.1M71.2 289.9h1.1M61.5 287.7h1.1M69.8 288.1h1.1M59 289.5h1.1M75.4 294.6h1.1M75.8 290.7h1.1M55.9 292.4h1.1M66.8 285.1h1.1M69.7 294.8h1.1M70 284.3h1.1M77.3 287.7h1.1M64.1 292.5h1.1M63 293.9h1.1M75.3 287.8h1.1M66.8 291.2h1.1M70.9 285.3h1.1M65.2 287h1.1M65.8 292.5h1.1M74.8 286.5h1.1M60.9 288.3h1.1M74.6 288.1h1.1M64.1 295.8h1.1M67 296.8h1.1M63.3 289h1.1M65.7 283.5h1.1M58.8 289.1h1.1M76.1 286.7h1.1M58 289.2h1.1M67.7 287.5h1.1M61.7 297.5h1.1M58.6 288.2h1.1M65.1 285.7h1.1M72 295.1h1.1M66.8 292.6h1.1M61 293.7h1.1M70.3 294.7h1.1M75.6 289.6h1.1M60 291.3h1.1M75.3 292h1.1M67.2 294.6h1.1M71.2 293.3h1.1M61.8 285.9h1.1M70.6 285.9h1.1M75.8 290h1.1M63 294.9h1.1M59.2 298.1h1.1M66.5 297.1h1.1M59.7 287.2h1.1M57.1 293h1.1M75 283.9h1.1M73.1 293h1.1M60 285.1h1.1M71.1 289.3h1.1M61 283.8h1.1M58.5 287.6h1.1M68.2 300h1.1M60.1 290.4h1.1M66.6 291.5h1.1M76.2 289.3h1.1M67.1 295.7h1.1M59.4 293.8h1.1M74.6 285.9h1.1M65.7 283.2h1.1M63.5 289.4h1.1M64.6 287.7h1.1M59.7 286.6h1.1M74 292.8h1.1M66.6 336h1.1M69.5 332.2h1.1M67 320.4h1.1M56.9 337h1.1M79.1 317.6h1.1M59.3 341.4h1.1M87.1 313.6h1.1M72.1 329.7h1.1M70.1 329.4h1.1M71.7 330.2h1.1M64.9 337h1.1M77.3 322.1h1.1M88.8 306.8h1.1M80.9 307h1.1M65.6 327.7h1.1M73.3 321.5h1.1M72.3 322h1.1M76 318.2h1.1M58 328.4h1.1M87.2 314.2h1.1M79.6 315.2h1.1M88.1 318.1h1.1M72.5 330.2h1.1M78.5 316.9h1.1M60.8 327.7h1.1M82.1 310.4h1.1M70 318.2h1.1M69.2 314.9h1.1M59.9 333.7h1.1M89 314.9h1.1M64.8 331.5h1.1M81.5 313.6h1.1M66.7 320.4h1.1M72.8 313.7h1.1M78.4 307.5h1.1M63.3 320.8h1.1M74 314.2h1.1M65.5 318.7h1.1M71.6 320.4h1.1M89.7 308.6h1.1M85.3 306.3h1.1M71.4 312.4h1.1M67.7 330.8h1.1M78.7 313.6h1.1M62.5 326.8h1.1M78.5 310.3h1.1M91.7 308.8h1.1M62.4 338.7h1.1M81.4 321.2h1.1M58.8 334.4h1.1M77 316.2h1.1M72.5 318.1h1.1M83.3 311h1.1M87.1 308.7h1.1M74 311.2h1.1M87.4 317.8h1.1M63.7 319.9h1.1M66.3 322.8h1.1M69.6 316.4h1.1M93.1 310.4h1.1M61.1 332h1.1M76.2 326.9h1.1M76.9 309.6h1.1M85.9 309.1h1.1M81.6 319.3h1.1M72.6 324.7h1.1M87.7 314.8h1.1M70.5 324.3h1.1M75.2 310.1h1.1M68.2 331h1.1M67.6 330.5h1.1M67.6 325h1.1M69.5 317.4h1.1M56.9 340.8h1.1M79.8 320.4h1.1M71.4 317.1h1.1M58.6 335.2h1.1M76 323.6h1.1M57.7 336.1h1.1M62.6 340.6h1.1M81.4 307.1h1.1M76.4 326.8h1.1M83.4 311h1.1M80.2 322.4h1.1M80.8 309.1h1.1M89.8 310.4h1.1M83.7 317.2h1.1M63.3 334.1h1.1M87.4 311.5h1.1M68.9 315.5h1.1M94.1 310.7h1.1M78.9 311.8h1.1M82.5 308.6h1.1M92.5 305.5h1.1M59.7 332.8h1.1M57.7 337.6h1.1M64 319.3h1.1M79.8 317.1h1.1M86.2 315.4h1.1M60.7 336.4h1.1M61.7 323.4h1.1M77.1 327.2h1.1M67.3 320.6h1.1M75.5 326.7h1.1M84.1 316.7h1.1M75.1 316.8h1.1M94.7 314.2h1.1M93.7 309.6h1.1M71.3 328.2h1.1M71.1 330.8h1.1M89.1 309.9h1.1M65.7 329.6h1.1M73.8 327.1h1.1M80.2 311.1h1.1M83.6 307.9h1.1M88.5 313h1.1M77.3 311.6h1.1M86.1 314.1h1.1M67.8 315.7h1.1M69.4 319h1.1M80.1 316.9h1.1M62.4 320.7h1.1M56.8 328.7h1.1M67.6 321.1h1.1M57 343.1h1.1M86.8 314.6h1.1M75.4 326.3h1.1M90.7 309.6h1.1M72 330.8h1.1M58.5 326.2h1.1M86.6 312h1.1M94.1 309h1.1M87.1 311.3h1.1M72.9 328.1h1.1M56.4 332.7h1.1M90.4 311.4h1.1M86.8 316.2h1.1M59 339.5h1.1M85.5 310.7h1.1M64.1 330.7h1.1M87.1 316.7h1.1M77.8 317.6h1.1M82.1 309.9h1.1M81.5 320.7h1.1M83.1 323h1.1M59.7 330.4h1.1M57.1 339.7h1.1M86.8 309.6h1.1M86.8 315.9h1.1M87.4 305.6h1.1M57.8 334.8h1.1M91.3 313.6h1.1M85.1 317.5h1.1M55.5 339.9h1.1M77 325.1h1.1M58.8 322.9h1.1M83.5 315.1h1.1M62.6 336.5h1.1M68.5 326.8h1.1M65.5 330h1.1M66.9 324.6h1.1M69.9 330.8h1.1M75.4 326.3h1.1M95.3 305.5h1.1M68.4 324h1.1M63.1 323.2h1.1M76 323.5h1.1M61.5 328h1.1M94 303.6h1.1M85 305.4h1.1M57.3 337.6h1.1M78 312h1.1M60.3 334.7h1.1M69.4 325.7h1.1M68.4 326.7h1.1M86.8 314.6h1.1M92.5 309.2h1.1M67.3 326.9h1.1M70.4 313.1h1.1M59 326.4h1.1M60.6 337.1h1.1M62.8 328.6h1.1M73.4 320.9h1.1M94.5 309.9h1.1M62.1 323.5h1.1M62.1 335.8h1.1M69.8 319.8h1.1M85.3 317.4h1.1M75 309.5h1.1M61.5 332.7h1.1M59.7 330.7h1.1M85.8 307.6h1.1M65.4 332.8h1.1M81.4 317.6h1.1M77.4 323.2h1.1M88.2 313.9h1.1M94.4 314.5h1.1M89.9 312.6h1.1M60.2 335.4h1.1M88 315.5h1.1M74 326.9h1.1M64.9 315.3h1.1M67 329.5h1.1M71.6 323.2h1.1M64.2 319.1h1.1M61.8 326.8h1.1M76.2 312.3h1.1M72.9 316.1h1.1M71.4 328.2h1.1M73.8 316.3h1.1M59.5 331h1.1M77.6 325.1h1.1M73.9 316.1h1.1M69 328.8h1.1M80.9 317.9h1.1M57.8 341h1.1M82 317.7h1.1M83.9 307.3h1.1M62 322.7h1.1M57.7 329.3h1.1M86 313h1.1M83.2 317.3h1.1M72.3 325.1h1.1M85.8 309.6h1.1M59.9 341.4h1.1M79.8 317.9h1.1M67.9 328.1h1.1M68 323.6h1.1M73.1 321.8h1.1M87.4 319.4h1.1M60.1 342h1.1M57.4 341.3h1.1M70.3 317.3h1.1M57.1 341.2h1.1M75.4 324.3h1.1M87.2 311.2h1.1M82.4 312.7h1.1M70.8 325.3h1.1M87.6 309.1h1.1M85.9 318.2h1.1M83 320.3h1.1M79.5 315.5h1.1M72.7 323.1h1.1M61.2 325.6h1.1M67 327.5h1.1M88.6 313.5h1.1M75.5 319.2h1.1M78.1 325.1h1.1M64.1 325h1.1M68.8 324.7h1.1M82.7 321.4h1.1M80.6 319.5h1.1M60.9 338h1.1M78.1 321.6h1.1M59.3 329.6h1.1M86 317.6h1.1M76.1 309.6h1.1M78.7 322.5h1.1M82 308.7h1.1M83.3 317.6h1.1M66.9 325.5h1.1M77.3 313.8h1.1M70.3 322.2h1.1M87.9 310.7h1.1M82.3 313h1.1M84.4 318.6h1.1M83.2 311h1.1M78.3 314.2h1.1M76.8 313.3h1.1M54.8 335.6h1.1M69.8 320.9h1.1M85.2 317.4h1.1M64.6 329.1h1.1M56 338.4h1.1M74.7 324.6h1.1M55.6 336.8h1.1M64.3 329.4h1.1M71.4 329.4h1.1M88.8 317.8h1.1M61.2 331.5h1.1M90.2 313.9h1.1M56.8 335.3h1.1M83.3 308.2h1.1M81.3 318.3h1.1M79.9 321.6h1.1M77.1 323.1h1.1M83.6 314.5h1.1M88.1 308.4h1.1M77.8 308.3h1.1M84 314h1.1M60.4 336.4h1.1M58.8 341.2h1.1M71.5 320.6h1.1M88.8 306.3h1.1M91.7 310.3h1.1M70.2 327.7h1.1M75.2 309.6h1.1M66.4 328.5h1.1M74.4 317.6h1.1M67.2 325.1h1.1M80.5 318.8h1.1M86 317.7h1.1M79.4 313.4h1.1M93.1 304.1h1.1M60.2 330h1.1M69.4 324.2h1.1M93.3 310.4h1.1M73 310.3h1.1M71.2 329.1h1.1M79.2 318.1h1.1M82.9 312.1h1.1M89.5 314.5h1.1M55.4 336.8h1.1M84.5 309.4h1.1M66.3 331.5h1.1M79.9 308.4h1.1M71.1 324.8h1.1M63.8 319.5h1.1M62.5 338h1.1M67.9 326.9h1.1M60.3 323.8h1.1M85.1 314.6h1.1M93.5 309.3h1.1M91.1 308.2h1.1M58.1 332.9h1.1M86.4 308.1h1.1M69.9 310.8h1.1M58.5 333.5h1.1M76.5 326.7h1.1M67.9 334h1.1M59.4 336.1h1.1M93.1 314.7h1.1M75.8 315.6h1.1M66.8 333.9h1.1M67.8 335.5h1.1M82.3 318.1h1.1M61.4 340.3h1.1M76.3 313.9h1.1M76 321h1.1M86.1 315.3h1.1M59.3 333.1h1.1M65 322.1h1.1M63.8 321.9h1.1M84.9 316.1h1.1M71.3 321.4h1.1M63.5 320.7h1.1M80.6 314.8h1.1M61.7 327.5h1.1M96.6 307.9h1.1M76.6 320.7h1.1M75.1 325.4h1.1M77.3 315.7h1.1M81.3 313.5h1.1M79 319.7h1.1M90.4 306.1h1.1M84.2 312.1h1.1M71.7 327.9h1.1M61.1 336.4h1.1M54.9 335.5h1.1M74 317.7h1.1M84 313.5h1.1M74.3 328h1.1M62.2 324.5h1.1M98.5 309.8h1.1M56.4 332.3h1.1M72.9 314.3h1.1M73.8 326.4h1.1M96.2 304.4h1.1M74.5 310.3h1.1M75 322.3h1.1M85 316.8h1.1M76.4 312h1.1M75.7 321.2h1.1M63.2 326.1h1.1M83.5 314.8h1.1M65.8 334h1.1M70 326.3h1.1M82.8 312.9h1.1M73.6 324.8h1.1M67 333.6h1.1M93.4 305.8h1.1M63.5 335.8h1.1M60.9 326.1h1.1M65.7 326.1h1.1M65.1 320.4h1.1M68.5 317.2h1.1M64.4 334.9h1.1M88.8 309.8h1.1M71.7 318.6h1.1M84.2 311h1.1M92.3 310.8h1.1M65.9 327.2h1.1M86.9 317.3h1.1M75.8 311.5h1.1M63.6 324.8h1.1M77.8 326h1.1M70.1 315h1.1M75.6 310.2h1.1M81.2 314h1.1M76.9 326.7h1.1M79.6 312.6h1.1M95.3 310.3h1.1M81.3 321.2h1.1M68.2 317.8h1.1M68.4 316.7h1.1M89.4 318.3h1.1M71.8 327.7h1.1M61.3 337.4h1.1M90.5 313.3h1.1M59.6 333.7h1.1M55.9 343.5h1.1M85.3 310.9h1.1M80.7 313.7h1.1M93.1 314.2h1.1M60.5 334.6h1.1M77.8 319.4h1.1M91.6 313.5h1.1M74.1 314h1.1M55.9 338.7h1.1M89 311.5h1.1M75.3 320.1h1.1M56.8 332.1h1.1M75.9 326.5h1.1M87.9 319h1.1M88.5 307.7h1.1M66.1 332h1.1M64.1 319.4h1.1M76.8 312h1.1M71.5 314.4h1.1M69.8 317.4h1.1M81.3 314h1.1M86.7 320.8h1.1M64.9 321.8h1.1M67 329h1.1M58.1 326.3h1.1M75.8 316.9h1.1M81.1 308.7h1.1M79 308.5h1.1M92.4 311.9h1.1M94 309.3h1.1M56.5 335.2h1.1M55.9 333.5h1.1M65.2 328.1h1.1M66.5 322.6h1.1M84.1 318.3h1.1M73.2 317.3h1.1M92.1 311.4h1.1M78.2 323h1.1M82.8 316.5h1.1M78.3 310.5h1.1M76.8 315.8h1.1M86.4 306.9h1.1M73 330.2h1.1M91.9 307.4h1.1M59.9 331.3h1.1M94.5 310.7h1.1M60.2 326.9h1.1M67.4 330.2h1.1M66.7 337.2h1.1M92.1 308.2h1.1M76.5 318h1.1M58.9 339.5h1.1M80.5 321.1h1.1M65 319.3h1.1M80 323.9h1.1M64.7 333.9h1.1M59.4 321.9h1.1M60 330.8h1.1M65.6 327.6h1.1M64.6 329.8h1.1M72.5 328.2h1.1M59.7 338.9h1.1M82.3 313.3h1.1M77.4 317.6h1.1M80.7 324.2h1.1M73.6 327.2h1.1M73.6 322.1h1.1M54.9 340.7h1.1M63.7 334.2h1.1M65 320.5h1.1M67.5 326.6h1.1M57.5 334.8h1.1M65.8 320.2h1.1M93.8 308.4h1.1M62.2 319.5h1.1M63 326.9h1.1M76.5 311.7h1.1M70.4 323.4h1.1M73.4 310.4h1.1M67.4 329.8h1.1M91.8 315.1h1.1M75 321.2h1.1M81.1 323h1.1M71.7 326.7h1.1M81.6 308.6h1.1M62.4 326.1h1.1M68.3 325.3h1.1M93.9 312.8h1.1M68.2 325.6h1.1M79.1 317.6h1.1M55.5 341.2h1.1M72.1 324.7h1.1M70 328.4h1.1M87 307h1.1M92.7 310.4h1.1M58.8 330h1.1M69.6 313.9h1.1M76.2 313.2h1.1M71 311.4h1.1M72.9 327.7h1.1M76.5 325.7h1.1M64.1 336h1.1M84.8 312.5h1.1M72.2 321.8h1.1M82 308.7h1.1M95.7 303.8h1.1M66.5 323.9h1.1M58.1 338.8h1.1M63.7 332.6h1.1M64.1 337.4h1.1M66.2 329.5h1.1M77.4 317.1h1.1M81.6 311.3h1.1M83.6 315.9h1.1M72.9 316.4h1.1M58.3 328.4h1.1M80.5 313.9h1.1M75.4 315.2h1.1M79.6 309.8h1.1M88 308.5h1.1M65.5 331.5h1.1M78.1 322.5h1.1M93 312.8h1.1M93.7 309h1.1M70.4 327h1.1M81.3 319.9h1.1M75 314.2h1.1M86.3 320.4h1.1M58.4 322.1h1.1M87.7 307.5h1.1M62.7 336.6h1.1M93.3 309.1h1.1M81.3 321.7h1.1M83 319.3h1.1M90.1 309.7h1.1M81.1 319.9h1.1M86.7 312.1h1.1M84.4 316h1.1M63.7 322.5h1.1M61 337.5h1.1M58 325.8h1.1M58.9 319.1h1.1M79.2 314.9h1.1M85 313.2h1.1M62.6 321.6h1.1M59.9 320.3h1.1M87.6 306.1h1.1M59.3 335.9h1.1M85.3 319.1h1.1M62.7 324.9h1.1M67.2 333.1h1.1M60 330.9h1.1M70.5 325h1.1M73.6 328.9h1.1M69.9 321.6h1.1M67.8 319.1h1.1M59.5 325.3h1.1M77.6 314.1h1.1M92.9 306.8h1.1M62.8 330.7h1.1M60 332.4h1.1M82.7 316.6h1.1M90.5 308.1h1.1M65.5 319.4h1.1M63.7 336.9h1.1M69 331.3h1.1M59.1 334.5h1.1M70.2 324.3h1.1M95.7 306.6h1.1M81.7 317h1.1M58.2 341.3h1.1M60.2 325.6h1.1M60.4 336.1h1.1M83.2 319.3h1.1M78.5 311.6h1.1M76.2 312.7h1.1M65 328.8h1.1M85.4 312.7h1.1M60.9 325.8h1.1M67.5 333.7h1.1M88.8 314.8h1.1M64.5 330.6h1.1M84.2 319.2h1.1M79.9 309.8h1.1M84 316.9h1.1M74.9 321.4h1.1M65.4 335.4h1.1M82.4 313h1.1M77.8 322.5h1.1M57.3 343h1.1M62.4 327.3h1.1M65.1 333.9h1.1M82.7 310.7h1.1M67.1 320.7h1.1M83.2 308h1.1M64.4 330.9h1.1M70.9 317.2h1.1M57.1 341.8h1.1M71.3 319.2h1.1M84.3 305.7h1.1M66 320.3h1.1M67.1 329.9h1.1M67.6 332.1h1.1M79.3 327.8h1.1M58.5 331.5h1.1M66.7 327.8h1.1M84.5 311.8h1.1M86.7 318.4h1.1M73.2 319.4h1.1M64.4 329.3h1.1M72.3 312.6h1.1M54.6 336.4h1.1M74.2 323.6h1.1M65.5 334.8h1.1M77 309h1.1M63.9 317.8h1.1M82.3 317.7h1.1M77.5 326.9h1.1M63.8 330.2h1.1M64.4 317.9h1.1M69.8 332.9h1.1M62.9 325.8h1.1M56.5 338.7h1.1M72.9 328.9h1.1M68.2 327.6h1.1M80.5 317.2h1.1M97 310.1h1.1M68.5 323h1.1M75.8 325.8h1.1M76.5 317.8h1.1M56.5 339.4h1.1M74.2 327.9h1.1M60 329.8h1.1M89 313.5h1.1M72 317.9h1.1" stroke="#2a2a2a" stroke-width="1.1"/>
<polygon points="56.8,291.9 58.7,286.3 66.1,283.8 75.4,284 78.2,289.1 76.3,294.7 67.9,296.7 58.6,297" fill="#444" filter="url(#b0_8)" opacity="0.85"/>
<ellipse cx="68" cy="290" rx="6" ry="3" fill="#909090" transform="rotate(-5 68 290)" filter="url(#b1_2)" opacity="0.8"/>
<polygon points="56,342.9 56.2,333.6 60.8,322.8 68.5,315.4 74.7,310.2 85,306.6 95.9,306 95.8,310.4 94.2,313.7 75.7,327.3 62.4,339.3 58.5,342.9" fill="#333" filter="url(#b0_8)" opacity="0.9"/>
<polygon points="58.5,341.5 59,334 63,325 70,317 78,311.5 88,309 93,310 91,314 76,326.5 63,338" fill="#727272" filter="url(#b1_2)" opacity="0.85"/>
<path d="M66 327.2h1.1M76 313.9h1.1M62.8 332.4h1.1M79.3 318.8h1.1M63.3 332.4h1.1M82.2 319.6h1.1M81.9 315.1h1.1M74.7 325.3h1.1M72.9 324.6h1.1M84.6 312.5h1.1M65.5 330.2h1.1M69.2 328.3h1.1M67.1 333h1.1M72.8 317.6h1.1M64.9 323.9h1.1M62.8 330.6h1.1M71.1 321.6h1.1M84.2 313h1.1M68.6 326.7h1.1M69.9 323.2h1.1M82 314.1h1.1M69.2 323.4h1.1M87.4 316h1.1M66.3 325.2h1.1M69.7 325.6h1.1M67.6 329.4h1.1M73.6 321.2h1.1M87.2 312.2h1.1M85.9 316.3h1.1M88.3 313.9h1.1M62 337h1.1M74.4 320.3h1.1M87.7 315.2h1.1M70.6 319.7h1.1M78.4 321.8h1.1M73.7 322.6h1.1M68 323.1h1.1M82.3 313.4h1.1M74.7 321h1.1M61 330.3h1.1M89.6 313.8h1.1M89.4 311.8h1.1M65.7 324.5h1.1M82.6 319.1h1.1M70 318.3h1.1" stroke="#3a3a3a" stroke-width="1.1" stroke-opacity="0.45"/>
<rect x="54.5" y="275.5" width="86" height="69" fill="none" stroke="#333" stroke-width="1"/>
<line x1="73.5" y1="275.5" x2="73.5" y2="344" stroke="#2a2a2a" stroke-width="1"/>
<line x1="54.5" y1="304.5" x2="140.5" y2="304.5" stroke="#2a2a2a" stroke-width="1"/>
<path d="M54.5 344v3.1M54.5 344h-3.1M61 344v1.8M54.5 338.8h-1.8M64.8 344v1.8M54.5 335.8h-1.8M67.4 344v1.8M54.5 333.7h-1.8M69.5 344v1.8M54.5 332h-1.8M71.2 344v1.8M54.5 330.7h-1.8M72.7 344v1.8M54.5 329.5h-1.8M73.9 344v1.8M54.5 328.5h-1.8M75 344v1.8M54.5 327.7h-1.8M76 344v3.1M54.5 326.9h-3.1M82.5 344v1.8M54.5 321.7h-1.8M86.3 344v1.8M54.5 318.7h-1.8M88.9 344v1.8M54.5 316.6h-1.8M91 344v1.8M54.5 314.9h-1.8M92.7 344v1.8M54.5 313.5h-1.8M94.2 344v1.8M54.5 312.4h-1.8M95.4 344v1.8M54.5 311.4h-1.8M96.5 344v1.8M54.5 310.5h-1.8M97.5 344v3.1M54.5 309.8h-3.1M104 344v1.8M54.5 304.6h-1.8M107.8 344v1.8M54.5 301.6h-1.8M110.4 344v1.8M54.5 299.4h-1.8M112.5 344v1.8M54.5 297.8h-1.8M114.2 344v1.8M54.5 296.4h-1.8M115.7 344v1.8M54.5 295.3h-1.8M116.9 344v1.8M54.5 294.3h-1.8M118 344v1.8M54.5 293.4h-1.8M119 344v3.1M54.5 292.6h-3.1M125.5 344v1.8M54.5 287.5h-1.8M129.3 344v1.8M54.5 284.5h-1.8M131.9 344v1.8M54.5 282.3h-1.8M134 344v1.8M54.5 280.7h-1.8M135.7 344v1.8M54.5 279.3h-1.8M137.2 344v1.8M54.5 278.2h-1.8M138.4 344v1.8M54.5 277.2h-1.8M139.5 344v1.8M54.5 276.3h-1.8M140.5 344v3.1M54.5 275.5h-3.1" stroke="#333" stroke-width="0.9" fill="none"/>
<text x="55.8" y="354.5" font-size="7.5" font-family='"Liberation Sans", sans-serif' font-weight="bold" textLength="6.6" lengthAdjust="spacingAndGlyphs" text-anchor="end" fill="#000">10</text>
<text x="56.1" y="350.6" font-size="5.8500000000000005" font-family='"Liberation Sans", sans-serif' font-weight="bold" fill="#000">0</text>
<text x="49.5" y="347.7" font-size="7.5" font-family='"Liberation Sans", sans-serif' font-weight="bold" textLength="6.6" lengthAdjust="spacingAndGlyphs" fill="#000" transform="rotate(-90 49.5 347.7)">10</text>
<text x="44.9" y="340.7" font-size="5.8500000000000005" font-family='"Liberation Sans", sans-serif' font-weight="bold" fill="#000" transform="rotate(-90 44.9 340.7)">0</text>
<text x="77.3" y="354.5" font-size="7.5" font-family='"Liberation Sans", sans-serif' font-weight="bold" textLength="6.6" lengthAdjust="spacingAndGlyphs" text-anchor="end" fill="#000">10</text>
<text x="77.6" y="350.6" font-size="5.8500000000000005" font-family='"Liberation Sans", sans-serif' font-weight="bold" fill="#000">1</text>
<text x="49.5" y="332" font-size="7.5" font-family='"Liberation Sans", sans-serif' font-weight="bold" textLength="6.6" lengthAdjust="spacingAndGlyphs" fill="#000" transform="rotate(-90 49.5 332)">10</text>
<text x="44.9" y="325" font-size="5.8500000000000005" font-family='"Liberation Sans", sans-serif' font-weight="bold" fill="#000" transform="rotate(-90 44.9 325)">1</text>
<text x="98.8" y="354.5" font-size="7.5" font-family='"Liberation Sans", sans-serif' font-weight="bold" textLength="6.6" lengthAdjust="spacingAndGlyphs" text-anchor="end" fill="#000">10</text>
<text x="99.1" y="350.6" font-size="5.8500000000000005" font-family='"Liberation Sans", sans-serif' font-weight="bold" fill="#000">2</text>
<text x="49.5" y="314.9" font-size="7.5" font-family='"Liberation Sans", sans-serif' font-weight="bold" textLength="6.6" lengthAdjust="spacingAndGlyphs" fill="#000" transform="rotate(-90 49.5 314.9)">10</text>
<text x="44.9" y="307.9" font-size="5.8500000000000005" font-family='"Liberation Sans", sans-serif' font-weight="bold" fill="#000" transform="rotate(-90 44.9 307.9)">2</text>
<text x="120.3" y="354.5" font-size="7.5" font-family='"Liberation Sans", sans-serif' font-weight="bold" textLength="6.6" lengthAdjust="spacingAndGlyphs" text-anchor="end" fill="#000">10</text>
<text x="120.6" y="350.6" font-size="5.8500000000000005" font-family='"Liberation Sans", sans-serif' font-weight="bold" fill="#000">3</text>
<text x="49.5" y="297.7" font-size="7.5" font-family='"Liberation Sans", sans-serif' font-weight="bold" textLength="6.6" lengthAdjust="spacingAndGlyphs" fill="#000" transform="rotate(-90 49.5 297.7)">10</text>
<text x="44.9" y="290.7" font-size="5.8500000000000005" font-family='"Liberation Sans", sans-serif' font-weight="bold" fill="#000" transform="rotate(-90 44.9 290.7)">3</text>
<text x="141.8" y="354.5" font-size="7.5" font-family='"Liberation Sans", sans-serif' font-weight="bold" textLength="6.6" lengthAdjust="spacingAndGlyphs" text-anchor="end" fill="#000">10</text>
<text x="142.1" y="350.6" font-size="5.8500000000000005" font-family='"Liberation Sans", sans-serif' font-weight="bold" fill="#000">4</text>
<text x="49.5" y="280.6" font-size="7.5" font-family='"Liberation Sans", sans-serif' font-weight="bold" textLength="6.6" lengthAdjust="spacingAndGlyphs" fill="#000" transform="rotate(-90 49.5 280.6)">10</text>
<text x="44.9" y="273.6" font-size="5.8500000000000005" font-family='"Liberation Sans", sans-serif' font-weight="bold" fill="#000" transform="rotate(-90 44.9 273.6)">4</text>
<path d="M194.3 306.7h1.3M186.5 308.1h1.3M204.9 309.7h1.3M232.6 286.3h1.3M197.2 302.7h1.3M180.3 286.8h1.3M225.4 284.5h1.3M218.6 288.7h1.3M197.6 307.3h1.3M179.5 299.9h1.3M206 284.4h1.3M187.9 291.8h1.3M182.7 306.3h1.3M186.7 309.5h1.3M206.6 309.6h1.3M225.8 304.5h1.3M214.9 294.6h1.3M205.5 291.5h1.3M184 287.7h1.3M202.4 277.1h1.3M231 293.8h1.3M219.3 295.4h1.3M176.6 314.8h1.3M223 282.3h1.3M200 277.8h1.3M204.7 297.4h1.3M183.8 305.3h1.3M212.4 278.5h1.3M186.9 300.4h1.3M189.6 304.6h1.3M191.1 291.6h1.3M207.9 303.3h1.3M199.4 306h1.3M176.9 319.8h1.3M177.6 278.3h1.3M193.4 295.4h1.3M223.3 301.1h1.3M216.6 290.4h1.3M234.9 300.7h1.3M177.4 300.3h1.3M234.8 296.5h1.3M176.6 285.3h1.3M177.4 301.6h1.3M204.2 296.7h1.3M232.5 278.3h1.3M228.3 293.7h1.3M193.8 289.7h1.3M181 316.9h1.3M190.8 286.3h1.3M218.4 293.3h1.3M232.8 288.8h1.3M225.3 278.1h1.3M198 306h1.3M212.8 285.9h1.3M193.5 301.1h1.3M192.8 296h1.3M222.4 290.8h1.3M192.2 308.6h1.3M179.9 311.9h1.3M216.1 285.9h1.3M195.9 296.3h1.3M214.8 300.3h1.3M202.7 295.6h1.3M182.6 304.6h1.3M214.1 301.5h1.3M195.3 277.7h1.3M202.4 290.1h1.3M205.8 303.9h1.3M180.6 300.5h1.3M188.2 293.9h1.3M176.4 294.5h1.3M181.9 312.5h1.3M217.7 290.3h1.3M184.8 289.5h1.3M196 308.2h1.3M192.6 303.7h1.3M186.4 289.9h1.3M197.2 310.1h1.3M176.7 311.5h1.3M176.7 311h1.3M206.4 293.6h1.3M196.4 306.8h1.3M188 301.6h1.3M223.3 303.5h1.3M215.2 285.5h1.3M213.5 304.1h1.3M193.2 289.9h1.3M187.7 313.3h1.3M201.4 278.7h1.3M205.9 301.3h1.3M233.7 290.4h1.3M223 295.4h1.3M175.5 287.7h1.3M178.2 288.9h1.3M178 320.9h1.3M175.5 292.3h1.3M180.8 313.7h1.3M236.2 283.9h1.3M182 315.4h1.3M197.3 312.9h1.3M180.6 307.4h1.3M197.8 291.6h1.3M207.9 292.5h1.3M203.7 304.2h1.3M196.3 297.6h1.3M214.7 295.7h1.3M178.8 296.3h1.3M175.6 317.2h1.3M196 296.7h1.3M184 309h1.3M194.5 292.6h1.3M194.9 311.5h1.3M195.1 302.2h1.3M223.9 302.7h1.3M181.4 294.8h1.3M178 311.8h1.3M183.7 296.3h1.3M190.4 296.1h1.3M194 308.6h1.3M187.3 301.3h1.3M226.9 291.7h1.3M241.8 287.7h1.3M196.7 290.3h1.3M220.3 298.8h1.3M206.3 297.8h1.3M199.1 296.6h1.3M228.5 288.7h1.3M198.5 286.3h1.3M221.3 286.6h1.3M225.2 300h1.3M203.1 298.2h1.3M201.5 281h1.3M196.9 301.6h1.3M177.3 315.7h1.3M192.5 299h1.3M190.1 314.2h1.3M189.3 304.1h1.3M182.3 315.4h1.3M202.4 304.5h1.3M183.2 306.8h1.3M180.1 301.2h1.3M195.1 308.2h1.3M198.7 278.7h1.3M232.7 300.6h1.3M221.7 295.9h1.3M207.8 299h1.3M202.7 280.1h1.3M211.7 280.3h1.3M224 302.5h1.3M180.9 316.8h1.3M191.9 283.9h1.3M233.8 298.6h1.3M176.5 306.8h1.3M224.3 293.7h1.3M181.6 285.5h1.3M207 296.6h1.3M185 301.4h1.3M203.8 285.6h1.3M178 280.1h1.3M246.7 279.4h1.3M203.3 285.8h1.3M198.5 297.9h1.3M195 306.8h1.3M218.4 305.1h1.3M212.4 278.8h1.3M224 296h1.3M191.3 294.3h1.3M253.6 282.2h1.3M197.3 291.6h1.3M214.1 287.5h1.3M195 313h1.3M228.9 297.6h1.3M209.8 288.9h1.3M182.1 303.3h1.3M187.3 293.1h1.3M208.2 290.9h1.3M180.9 287h1.3M191.3 314.6h1.3M177 320.6h1.3M195.9 312.5h1.3M180.8 277h1.3M196 280.1h1.3M184.9 308.5h1.3M200.3 295.9h1.3M183.7 307.8h1.3M246.4 285.1h1.3M193 282h1.3M207.7 308h1.3M176.4 285.3h1.3M200.4 306.9h1.3M180.4 302.2h1.3M228.4 284.9h1.3M194.9 291.6h1.3M196.7 313h1.3M177.5 306.9h1.3M194.5 299.1h1.3M213.9 286.4h1.3M209.4 283.1h1.3M228 304.1h1.3M186.1 315.4h1.3M179.2 316.1h1.3M177 316.2h1.3M189.3 310.4h1.3M214.2 299.3h1.3M213.2 290.7h1.3M202.5 298.6h1.3M187.9 288.8h1.3M204.7 282h1.3M186.1 286.4h1.3M183.1 297.1h1.3M178.4 280.9h1.3M221.5 293.1h1.3M184.9 296.6h1.3M210.7 278.1h1.3M204.6 292.9h1.3M184.4 301.6h1.3M195.8 301.3h1.3M248.9 279.9h1.3M202.1 300.1h1.3M191.5 282.5h1.3M205.5 285.3h1.3M193.7 289.1h1.3M239.1 280.3h1.3M211.8 294.8h1.3M204.9 288.1h1.3M180.9 291.4h1.3M187.4 299.7h1.3M213.9 285.5h1.3M213.2 297.3h1.3M186.5 305.3h1.3M195.3 281.7h1.3M186.4 281.6h1.3M215.3 302.7h1.3M179.7 318.7h1.3M192.3 280.2h1.3M179.1 304.5h1.3M190.4 284.6h1.3M209.3 298.7h1.3M232.7 299.7h1.3M202.1 296.5h1.3M190.6 279.7h1.3M183.4 282.1h1.3M200 304h1.3M182.1 285.3h1.3M175.4 305.8h1.3M225.5 298.4h1.3M213.7 280.3h1.3M176.6 302h1.3M175.4 304.6h1.3M256.7 284.6h1.3M181 278.2h1.3M210.2 283.8h1.3M185.3 308.5h1.3M181.2 315h1.3M187.7 286.4h1.3M206.5 283.1h1.3M193.1 307.9h1.3M197.4 290.8h1.3M187.9 301.2h1.3M192 298.2h1.3M190.4 310.4h1.3M179.9 305.2h1.3M217.6 305.3h1.3M176.8 277.8h1.3M175.5 319.6h1.3M189 305h1.3M238.5 296.9h1.3M203.6 298.5h1.3M180.2 306.7h1.3M179.7 315.8h1.3M195.1 291.4h1.3M180.5 307.7h1.3M209.8 280.1h1.3M193 283h1.3M236.3 290.8h1.3M192.9 295.2h1.3M201.8 300.9h1.3M178.4 303h1.3M180.8 295.8h1.3M181.6 314h1.3M194.5 280.4h1.3M205.1 301.4h1.3M205.5 288.3h1.3M178.1 300.1h1.3M182.4 286.1h1.3M200 291.9h1.3M239.6 277.4h1.3M185 303h1.3M227 304.6h1.3M217.8 298.4h1.3M225.1 303h1.3M191.1 312.3h1.3M224.6 289.7h1.3M206.9 297.7h1.3M220.3 291.7h1.3M228 277.1h1.3M197.2 293.3h1.3M187.3 279.6h1.3M188 293.1h1.3M177.8 302.5h1.3M204.5 279.6h1.3M212.3 287.8h1.3M180.3 295.4h1.3M233.7 291.4h1.3M190.2 297.7h1.3M215.5 283.2h1.3M195.7 304.4h1.3M189.8 305.7h1.3M205.1 280.6h1.3M243.7 285.6h1.3M178 320.9h1.3M217.4 282.5h1.3M206.3 295.6h1.3M201.8 304.5h1.3M219.3 293.2h1.3M190 314.6h1.3M205.3 300.7h1.3M178.2 286.4h1.3M206.3 286.7h1.3M180.6 306.3h1.3M200.5 291.8h1.3M210.2 307.8h1.3M194.8 287.9h1.3M185.2 304.8h1.3M218.2 282.4h1.3M193.3 282h1.3M207 304.5h1.3M183.4 311.5h1.3M200 299.5h1.3M226.3 304.1h1.3M195.5 309.8h1.3M213.5 298.6h1.3M196.1 309.3h1.3M224.5 302.1h1.3M179.9 301.8h1.3M222.9 304.8h1.3M182.7 299.3h1.3M186.4 303.1h1.3M215.2 309.4h1.3M197 299.9h1.3M194.5 312.3h1.3M201.2 311h1.3M204.5 299.9h1.3M195.6 310.7h1.3M199.3 305.1h1.3M216.1 301.9h1.3M189 308.9h1.3M212 301.9h1.3M182.8 302.9h1.3M202.2 299.8h1.3M218.7 299.9h1.3M185.7 309.6h1.3M200.7 298.6h1.3M220.2 297.4h1.3M218.8 306.4h1.3M207.9 298.3h1.3M203 300.1h1.3M222.6 296.9h1.3M218.2 302.2h1.3M206.8 297.4h1.3M224.1 303.4h1.3M186.9 311.8h1.3M187.5 298.7h1.3M179.8 302.5h1.3M176.8 300.2h1.3M217.4 305.5h1.3M190.1 298.6h1.3M200 298.5h1.3M198.8 303h1.3M216.6 297.7h1.3M216.1 305.7h1.3M198.8 304.9h1.3M192.9 307.8h1.3M185.5 299.6h1.3M207.7 298.7h1.3M222.5 297.8h1.3M209.4 311h1.3M207.1 312.1h1.3M180.2 306h1.3M188.3 298.7h1.3M213.3 309.6h1.3M208.8 302.6h1.3M194.3 303.7h1.3M211.3 309h1.3M218.5 301.4h1.3M225.4 303.5h1.3M219.9 299.8h1.3M202.8 303.1h1.3M193.8 299.9h1.3M182 303.1h1.3M185.3 310.2h1.3M176.6 301.4h1.3M194.9 298.9h1.3M187 308.4h1.3M180.1 309.3h1.3M228 300.9h1.3M222.5 302.3h1.3M224.3 300.3h1.3M206.7 299h1.3M206.1 312.2h1.3M175.9 304.7h1.3M179.9 305h1.3M192.6 298.5h1.3M216.5 306.9h1.3M187 298.9h1.3M176.6 309.9h1.3M182.1 311.5h1.3M208 310h1.3M198.4 310.2h1.3M198.3 310.4h1.3M223.8 299.7h1.3M188.2 310.7h1.3M176.5 300.8h1.3M221 298.5h1.3M206.6 305.2h1.3M185.3 300.6h1.3M176.7 313h1.3M185.4 301.9h1.3M184.1 311.1h1.3M202 298.7h1.3M223.5 303h1.3M210.1 296.9h1.3M215.6 304.8h1.3M202.9 310.7h1.3M186.1 299.4h1.3M212.3 308.3h1.3M213.3 303.1h1.3M191.4 303.9h1.3M207.5 299.5h1.3M194.7 311.4h1.3M184.3 307.9h1.3M189.3 305.7h1.3M217 299.7h1.3M227.8 304.2h1.3M196.8 299.5h1.3M205.2 309.8h1.3M192.6 307.8h1.3M183.3 298.6h1.3M186.2 303.8h1.3M181.9 311.7h1.3M194.8 307.1h1.3M219.8 299.2h1.3M191.3 304.9h1.3M194.1 311.4h1.3M210.5 304.2h1.3M193.4 309.1h1.3M222.3 298.4h1.3M226.4 304h1.3M191.3 309.3h1.3M200.5 307.9h1.3M179.7 306.1h1.3M180.4 302.1h1.3M188.2 302.9h1.3M212.5 303h1.3M185.4 305h1.3M182.3 304.2h1.3M217.6 307.4h1.3M203.9 308.3h1.3M212.4 304.2h1.3M226 300.9h1.3M182.4 310.1h1.3M193.7 303.2h1.3M210.9 303.2h1.3M220.8 297.8h1.3M196.1 299h1.3M177.6 313.2h1.3M182.9 309.8h1.3M181.5 305.3h1.3M218.5 299.9h1.3M216.7 296.7h1.3M225.9 300.3h1.3M212.4 306.1h1.3M204.4 303.8h1.3M209.4 297.2h1.3M203.1 297.7h1.3M187 300.8h1.3M194.9 310.5h1.3M176.5 303h1.3M192.8 309.1h1.3M197.8 307.3h1.3M187.2 306.9h1.3M220.6 303.7h1.3M191 312.8h1.3M206.3 308.8h1.3M188 299.7h1.3M195.3 302.6h1.3M190.5 305.5h1.3M188.9 308.3h1.3M208.4 302.7h1.3M198.3 312.2h1.3M188.8 305.5h1.3M214.8 299.2h1.3M193.8 303.5h1.3M180.7 305.7h1.3M217.2 304.2h1.3M228 301.4h1.3M193.8 300.8h1.3M184.8 309.3h1.3M192.6 301.4h1.3M225 304.6h1.3M175.7 306.6h1.3M207 308.6h1.3M188.5 302.6h1.3M201.8 309.5h1.3M201.7 298.1h1.3M178.6 312h1.3M193.9 304.3h1.3M206.6 309.4h1.3M189.3 307.7h1.3M203.5 303.1h1.3M182.5 312.4h1.3M216.5 298.8h1.3M205.6 297.5h1.3M176 303.8h1.3M204.6 311.4h1.3M192.9 299.5h1.3M227.5 303.3h1.3M216.1 301.3h1.3M202.4 305.6h1.3M212.1 301.6h1.3M180.4 311.8h1.3M191.6 312.9h1.3M191.6 311.6h1.3M227.3 304.2h1.3M188.3 310.6h1.3M183.2 309h1.3M188.4 300.9h1.3M189.5 307.2h1.3M205.2 305.7h1.3M210.2 300.9h1.3" stroke="#606060" stroke-width="1.3"/>
<path d="M238.6 288.5h1.1M224 290.5h1.1M258.1 282.5h1.1M254.9 281.3h1.1M241.5 285.3h1.1M233.2 288.1h1.1M241.9 288.9h1.1M220.1 292.3h1.1M238.8 284.9h1.1M258.7 282.6h1.1M227 291h1.1M254 285.3h1.1M251.9 282.9h1.1M243.7 284.5h1.1M230.4 289.6h1.1M239.8 287.9h1.1M237.3 289.8h1.1M223.7 291.2h1.1M240.3 287h1.1M218 293.2h1.1M243.1 286.4h1.1M260 283.8h1.1M239.1 286h1.1M236 286.8h1.1M223.1 289.5h1.1M224.2 291.4h1.1M258.8 280.1h1.1M241.4 287.2h1.1M252.3 280.5h1.1M225.9 287.8h1.1M246 287.2h1.1M218.1 292.6h1.1M227.2 290.1h1.1M219.2 293.1h1.1M240.8 287.8h1.1M215 294.9h1.1M251.1 284.3h1.1M225.9 291.4h1.1M254.7 283.5h1.1M251.8 284.1h1.1M215.3 292.6h1.1M219.2 293.1h1.1M245.4 286.4h1.1M245.7 287.1h1.1M249.1 287.2h1.1M226 288.8h1.1M226.9 289.7h1.1M246 284.1h1.1M244.6 286h1.1M229.9 287.5h1.1M259.9 281.9h1.1M238 285.5h1.1M234.5 287.3h1.1M231.3 288.8h1.1M255.1 281.2h1.1M238 287.9h1.1M230.5 288.5h1.1M233.4 288.8h1.1M254.7 282.3h1.1M251.1 282.8h1.1M229.3 291h1.1M221.7 290h1.1M219.9 293.7h1.1M233.3 286h1.1M237.4 286.6h1.1M260.1 281.2h1.1M229.7 291.1h1.1M229.3 293.2h1.1M227.5 290.8h1.1M240.2 286.4h1.1M243.3 288.7h1.1M242.3 286.9h1.1M244.2 285.9h1.1M228.5 288h1.1M228.6 289.2h1.1M223.2 288.3h1.1M250.3 285h1.1M242.6 285.5h1.1M247.8 285.7h1.1M241.8 286.4h1.1M224.4 289.9h1.1M215.7 292h1.1M244.4 287h1.1M235 289.4h1.1M239.6 286.6h1.1M239.8 287.3h1.1M251.9 282.2h1.1M249.4 285.9h1.1M236.3 288.5h1.1M192.1 293h1.1M191.7 286.2h1.1M197.3 289.9h1.1M208.4 295.5h1.1M179.2 298.2h1.1M214.2 292.6h1.1M191.1 286.6h1.1M214.8 290.1h1.1M189.4 284.9h1.1M194.4 287.3h1.1M187.3 291.6h1.1M208 289.5h1.1M178.5 287.5h1.1M198.5 298.8h1.1M188.5 287.7h1.1M201.2 298.4h1.1M182.7 293.1h1.1M195.3 300.1h1.1M191.8 298.2h1.1M207.7 292.5h1.1M184.2 293.9h1.1M175.3 293.1h1.1M213.5 292.6h1.1M211.2 299.2h1.1M203.4 289.3h1.1M202.6 285.9h1.1M193.3 295.2h1.1M178.9 296.3h1.1M189.9 291.7h1.1M209.7 294.3h1.1M190.8 294h1.1M190.1 284.1h1.1M178.5 293.3h1.1M213.4 292.5h1.1M178.5 292.6h1.1M192.1 299.7h1.1M192.3 295.3h1.1M195.8 294.4h1.1M190.7 298.8h1.1M187.9 288.6h1.1M211 294.6h1.1M200.5 289.3h1.1M213 291.3h1.1M182.4 289.8h1.1M202.7 292.5h1.1M187.8 299h1.1M208.7 293.5h1.1M199.5 301.3h1.1M206 291.8h1.1M205 298.1h1.1M193.2 297.8h1.1M187.1 284.1h1.1M203.7 290.1h1.1M203.9 289.5h1.1M197.5 293h1.1M192.4 288.2h1.1M197.1 297h1.1M177.5 289.4h1.1M192.1 299h1.1M211.4 289.8h1.1M195.1 298.4h1.1M200.7 292.8h1.1M212.4 290.3h1.1M182.2 292.5h1.1M203.9 288.6h1.1M184.4 297.9h1.1M207.7 296.1h1.1M207.1 297.5h1.1M209.8 293h1.1M216.4 291.3h1.1M190.6 298.8h1.1M199.1 289.3h1.1M206.3 293.7h1.1M185.8 287.7h1.1M197.9 299.1h1.1M185.5 296.8h1.1M186.2 291.6h1.1M180.4 296.9h1.1M188.2 287.8h1.1M189.6 295.1h1.1M180.8 295.6h1.1M200.9 294.9h1.1M180.3 289.6h1.1M183.9 297.5h1.1M182.7 286.3h1.1M183.3 292.4h1.1M194.3 293.3h1.1M191 287.7h1.1M187.5 287.3h1.1M189.7 292.6h1.1M175.3 292.3h1.1M211.2 292.4h1.1M179.1 292.1h1.1M196.6 299.6h1.1M190.6 289.7h1.1M188 297.4h1.1M206.8 301.1h1.1M191.8 296.6h1.1M190.4 295.7h1.1M211.5 296.9h1.1M176.3 295.5h1.1M177.9 293.6h1.1M186.8 294h1.1M206 295.1h1.1M182.5 291.9h1.1M211.7 289.2h1.1M182.9 290.6h1.1M194.7 296.9h1.1M188.1 295.3h1.1M187.2 289.6h1.1M185.2 285.4h1.1M191.5 286h1.1M201.9 292.2h1.1M202 292.2h1.1M193.5 296.5h1.1M207.1 293.6h1.1M181.8 298.7h1.1M205.1 291.3h1.1M192.2 294h1.1M185.8 295.7h1.1M186 288.9h1.1M194 285.4h1.1M185.9 288.3h1.1M191.6 297.9h1.1M182.6 296.6h1.1M177 298.9h1.1M202 289.9h1.1M216.2 294h1.1M182.8 296.5h1.1M194.3 295.5h1.1M182.7 287.3h1.1M190.1 288.8h1.1M187.5 292.1h1.1M177.7 287.7h1.1M193.4 296.8h1.1M195 292.8h1.1M201.4 290.1h1.1M202 297.8h1.1M202.8 292.4h1.1M193.8 297.2h1.1M201.7 296h1.1M186.5 288.2h1.1M216.5 293.9h1.1M203 296h1.1M208.4 289h1.1M200.9 285.7h1.1M217 293h1.1M199.6 295.7h1.1M181.7 286.7h1.1M190.5 283.5h1.1M211.3 290.5h1.1M210.9 291.1h1.1M205.1 289h1.1M190.8 295.8h1.1M187.3 293.6h1.1M198.1 298.5h1.1M189.2 290.2h1.1M187.7 284.9h1.1M191.1 298h1.1M217 295.4h1.1M187 290h1.1M201.7 293.9h1.1M217 294.9h1.1M194.7 300h1.1M198.2 288.5h1.1M178.7 291.6h1.1M208.6 294h1.1M190.4 302.8h1.1M184.8 298.8h1.1M190.2 293.7h1.1M190.6 290.9h1.1M191.9 291.2h1.1M206.8 292.2h1.1M203.7 298.9h1.1M214.8 293.5h1.1M177.3 298.9h1.1M204.1 289.4h1.1M210.9 294h1.1M204.7 298h1.1M181.9 295.5h1.1M178 288.8h1.1M197.4 294.1h1.1M184.5 289.9h1.1M187.6 297.1h1.1M178.7 287.5h1.1M182.5 298.2h1.1M194.8 296.7h1.1M204.1 297.9h1.1M212.5 289.6h1.1M210.6 297.2h1.1M183.2 294.4h1.1M210.1 289.3h1.1M184 287h1.1M189.6 298.9h1.1M202.6 288.5h1.1M184.3 297.2h1.1M195.2 288.2h1.1M183.7 295.5h1.1M191.3 287.3h1.1M180.4 293.6h1.1M191.4 298.7h1.1M179.7 287.4h1.1M190 289.4h1.1M214.3 292h1.1M202 291.7h1.1M192.3 289.7h1.1M188.1 298.7h1.1M195.1 290.9h1.1M188.4 294.3h1.1M194.9 287.8h1.1M180.5 292.5h1.1M180.7 287.8h1.1M187.1 295.5h1.1M206.4 296.7h1.1M213.1 296.2h1.1M181.4 289h1.1M200.4 295.7h1.1M203.6 297.5h1.1M189.1 293.1h1.1M213.2 293.4h1.1M191.4 290.8h1.1M205.5 294.1h1.1M194.7 290.8h1.1M208.4 297h1.1M195.4 288.4h1.1M192.7 291.9h1.1M200.9 296.1h1.1M202.7 285.7h1.1M182.8 288.8h1.1M193.6 294.1h1.1M188.1 293.1h1.1M184.4 288.7h1.1M183.8 296.3h1.1M207.2 301.1h1.1M193 288.3h1.1M187.4 297.5h1.1M208.7 292.3h1.1M178 298.2h1.1M180.1 289.3h1.1M183.4 294.3h1.1M192.3 299.2h1.1M203 295.4h1.1M177.4 299.9h1.1M199.2 288.1h1.1M186.3 289.6h1.1M206 294.1h1.1M197.6 295h1.1M180.5 291.5h1.1M180.4 293.3h1.1M188.2 288.5h1.1M206 287.5h1.1M178.7 290h1.1M194.7 285.9h1.1M206.5 288.6h1.1M211.1 294.6h1.1M214.1 292.1h1.1M192.8 285.6h1.1M186.9 286.8h1.1M181.7 288.8h1.1M192.6 288h1.1M207.6 292.4h1.1M212.3 288.4h1.1M193.5 292.4h1.1M195.6 287.5h1.1M205.6 288.5h1.1M192.8 295.5h1.1M179.6 287.2h1.1M208.3 293.2h1.1M181.3 295.2h1.1M189.4 299.7h1.1M191.1 291.4h1.1M188.1 296.8h1.1M187.9 298.7h1.1M190 299.2h1.1M182 286.8h1.1M199.6 294.4h1.1M199.3 290.5h1.1M206.3 295.2h1.1M204.4 296h1.1M182 295.1h1.1M187.6 295.5h1.1M188.4 288.1h1.1M186.6 294.4h1.1M190.9 295h1.1M197.9 287.7h1.1M193 294.9h1.1M181.9 292.5h1.1M180.8 298.2h1.1M198.6 289.4h1.1M198.4 286.2h1.1M177.1 296.1h1.1M199.1 294.6h1.1M183.7 294h1.1M188.5 300h1.1M202.3 294.7h1.1M184.6 288h1.1M197.6 293.2h1.1M186.4 296h1.1M190.8 285.9h1.1M176.8 289h1.1M213.8 290.7h1.1M215.1 290.8h1.1M181.8 285.5h1.1M179.3 297h1.1M191 295.4h1.1M213.1 288.7h1.1M177.9 296.6h1.1M212.8 294.8h1.1M187.5 297.6h1.1M183 290h1.1M176.2 293.2h1.1M198.6 290.5h1.1M180.9 286.3h1.1M207.3 300h1.1M183.5 289.4h1.1M214.4 290.1h1.1M211.1 291.8h1.1M192.4 292h1.1M177.1 291.8h1.1M211.7 291.9h1.1M198.2 293.9h1.1M209.4 289h1.1M204.9 296.7h1.1M184 292.1h1.1M193.6 289.3h1.1M200.7 286.5h1.1M210.2 288.8h1.1M211.4 296.4h1.1M184.4 290.3h1.1M190.5 298.1h1.1M202.5 292.4h1.1M191.7 290.6h1.1M198.8 295.6h1.1M184.4 287.1h1.1M193.7 287.3h1.1M183.3 287.3h1.1M183.3 294.8h1.1M189.2 284.5h1.1M188.8 288.3h1.1M203.6 288h1.1M207.6 293.8h1.1M198.7 292.7h1.1M187.9 295h1.1M212.9 295.1h1.1M208.1 294.2h1.1M192.6 296.3h1.1M193.1 299.2h1.1M183.3 296.7h1.1M187.8 294.8h1.1M184.9 290.2h1.1M207 297.2h1.1M183.5 289.8h1.1M218.5 292.4h1.1M199.1 291.9h1.1M203.1 292.1h1.1M178.7 288.1h1.1M184.5 295.1h1.1M200.5 292.8h1.1M187.4 291.1h1.1M199.5 292.7h1.1M201 295.9h1.1M199.1 286.3h1.1M203.9 300.8h1.1M178.4 295.2h1.1M185.7 297.8h1.1M190.4 293.4h1.1M205.9 297.8h1.1M204 296.9h1.1M212 292.5h1.1M205.8 300.4h1.1M192.9 287.7h1.1M184.1 287.3h1.1M188.9 297.5h1.1M198.3 291.1h1.1M207.4 294.7h1.1M185.5 299.6h1.1M201.8 290.4h1.1M186.1 292h1.1M180.1 297.9h1.1M194.4 297.1h1.1M200.6 298.8h1.1M201.8 292.6h1.1M178.7 291.7h1.1M214.8 291.7h1.1M201.4 295.2h1.1M180.4 295.9h1.1M196.7 290.4h1.1M186.1 296.9h1.1M177.8 292.7h1.1M201 297.1h1.1M203.3 293.1h1.1M209.4 295.1h1.1M202.9 295h1.1M189.9 287h1.1M183.4 290.7h1.1M188.5 294.9h1.1M192.8 296h1.1M192.8 293h1.1M207.2 291.1h1.1M183.4 289.3h1.1M187.2 288.8h1.1M192 290.5h1.1M215.4 291.5h1.1M214.1 286.1h1.1M182.9 291.8h1.1M192.5 297h1.1M186.5 293.1h1.1M201.7 300.2h1.1M209.3 293.1h1.1M204.9 286.9h1.1M211.6 297h1.1M197.2 293.8h1.1M176.2 295.6h1.1M198.4 291.3h1.1M177.3 296.1h1.1M182.8 294h1.1M189 292.6h1.1M181.6 339.8h1.1M183.6 328.5h1.1M193.7 318.1h1.1M204.4 307.4h1.1M213.2 313.2h1.1M178.9 337.8h1.1M185.1 334.3h1.1M221.2 307.2h1.1M183.5 328.4h1.1M184.4 327.2h1.1M188.6 334.9h1.1M177.9 317.3h1.1M194.8 308.4h1.1M196.5 321.1h1.1M220.9 313.6h1.1M182.5 331.8h1.1M175.7 338.7h1.1M203.9 309.2h1.1M205.5 325.5h1.1M189.7 315.4h1.1M197.9 310.4h1.1M187.7 333.8h1.1M178.8 336.6h1.1M176.9 331.2h1.1M201.6 315.9h1.1M210.3 309.9h1.1M217.3 314.2h1.1M202.8 323.2h1.1M181.3 328.4h1.1M197.1 329.6h1.1M225.5 311.8h1.1M189 323.3h1.1M204.6 308.2h1.1M187.5 314.7h1.1M212.3 308.7h1.1M188.8 309.7h1.1M178.2 342.8h1.1M187.3 338.4h1.1M204.7 317.7h1.1M190.6 311.2h1.1M191.3 309.6h1.1M186 337.4h1.1M204.3 330.3h1.1M195 310.9h1.1M208.3 313.4h1.1M219.4 307.5h1.1M205.3 310.9h1.1M207.4 320.4h1.1M189 314.7h1.1M206.1 317.3h1.1M201.9 320.2h1.1M210 318.5h1.1M184 325.8h1.1M202.9 314.9h1.1M180.2 337.7h1.1M187 311.5h1.1M182.7 311.2h1.1M181.7 342h1.1M176.5 337.3h1.1M202.7 321.9h1.1M178.8 318.9h1.1M215.9 313.4h1.1M182.7 328.5h1.1M186.4 320.8h1.1M200.9 310.9h1.1M183 329.8h1.1M222.5 310.8h1.1M207.4 310.1h1.1M192.1 307.5h1.1M181.1 337.4h1.1M186.5 314.3h1.1M204.4 321.7h1.1M189 319h1.1M182 327.4h1.1M195.9 322.8h1.1M182.2 326.1h1.1M184 320.2h1.1M189.1 313.2h1.1M224.2 310.8h1.1M202.9 310.8h1.1M199.1 326h1.1M194.8 324.5h1.1M194.4 320.6h1.1M205.2 315.4h1.1M201.4 319.9h1.1M192.6 323.6h1.1M179.2 328.1h1.1M214.8 313.1h1.1M183.6 321.4h1.1M179.7 318.9h1.1M182.4 328.1h1.1M179 322.6h1.1M195 317.1h1.1M200.2 320.5h1.1M182.8 326.4h1.1M204.8 314.9h1.1M190.4 331.1h1.1M190.3 319.1h1.1M200.7 322.3h1.1M185.8 318h1.1M201.4 316.8h1.1M186.3 320.9h1.1M180.4 338.6h1.1M207.1 313.8h1.1M204.9 317.9h1.1M206.5 314.2h1.1M178.6 329.5h1.1M204.1 317.1h1.1M182.8 322h1.1M217.9 314.1h1.1M200 318.5h1.1M221.2 309.3h1.1M213.1 308.9h1.1M216 318.1h1.1M201.6 315.8h1.1M207.1 317.7h1.1M200.9 319.1h1.1M186.3 327.7h1.1M186.7 337.3h1.1M181.7 333.7h1.1M211.8 319.6h1.1M180.3 319.3h1.1M181.2 339.6h1.1M186.2 327.9h1.1M184.1 325.8h1.1M190.3 334.8h1.1M209.8 325.4h1.1M199.3 326.1h1.1M186.1 326.4h1.1M199.4 323.2h1.1M191.4 332.3h1.1M222.2 306.3h1.1M193.2 319.7h1.1M205.7 317.5h1.1M210.6 305h1.1M178.3 326.9h1.1M192.4 307.9h1.1M184.3 331.6h1.1M185.6 330.3h1.1M177.9 336.3h1.1M178.2 326.2h1.1M218.4 310.1h1.1M205.7 322.9h1.1M203 320.7h1.1M215 307.9h1.1M189.2 325.1h1.1M219.3 305.4h1.1M183.5 318.2h1.1M213.9 315h1.1M208.4 321h1.1M194.7 308.1h1.1M180 318.9h1.1M219 312.9h1.1M183.1 326h1.1M216.7 311.8h1.1M223.6 310h1.1M198.4 310.5h1.1M205.5 313.3h1.1M197.4 329.1h1.1M210 303.9h1.1M224.1 312.3h1.1M181.4 327.9h1.1M221.4 309.5h1.1M229.1 307.1h1.1M205.5 310.8h1.1M179.2 329.1h1.1M198.3 325.1h1.1M182.2 330.3h1.1M197 310.3h1.1M201.2 331.8h1.1M195.7 324.4h1.1M186 317.3h1.1M220.2 303.2h1.1M204.7 311.2h1.1M196.7 309.8h1.1M184.6 338.6h1.1M209.4 318.4h1.1M182.8 325.4h1.1M175.2 338.6h1.1M211.7 308.5h1.1M196.7 325.6h1.1M190.9 310.4h1.1M198 329.5h1.1M178.9 333.3h1.1M206 318.9h1.1M207.7 315.2h1.1M226.9 308.7h1.1M208.3 321.4h1.1M210.2 309.8h1.1M186.5 333.7h1.1M206.2 311.4h1.1M177.4 334.8h1.1M184.8 323.4h1.1M181.5 337.4h1.1M228.6 305.5h1.1M213 310h1.1M203.7 318.9h1.1M201.1 328.3h1.1M207.5 312.6h1.1M184.3 342.2h1.1M179.1 339.7h1.1M231.9 305h1.1M200.9 323.7h1.1M184 329.2h1.1M198.2 312.6h1.1M191.4 316.9h1.1M192.1 315.1h1.1M186.4 340.5h1.1M178.2 342.4h1.1M220.1 312.9h1.1M201 313.1h1.1M184.8 312.4h1.1M223 307.6h1.1M221.1 305.1h1.1M183.1 328.9h1.1M179.6 320.7h1.1M211.4 303.9h1.1M189.2 327.8h1.1M197.8 310.5h1.1M176.3 333.1h1.1M205.7 309.5h1.1M189.2 313.9h1.1M193.8 319.4h1.1M181.4 333h1.1M188.5 309.5h1.1M180.2 315.2h1.1M200.2 325h1.1M175.9 326.5h1.1M195.6 332.9h1.1M179.4 338.1h1.1M195.9 333.2h1.1M218.6 306.7h1.1M195.7 330.2h1.1M176 330.9h1.1M228.9 305.8h1.1M202.4 308.9h1.1M184 329.9h1.1M183.1 330h1.1M202.3 314.6h1.1M204.3 310.6h1.1M205.4 313.6h1.1M183.5 322.7h1.1M178.6 326.5h1.1M184.2 314.3h1.1M182.1 330h1.1M182.5 314.5h1.1M195.2 313.9h1.1M206.9 325.1h1.1M197.4 315h1.1M192.1 335.1h1.1M207.9 310.4h1.1M226.9 304.3h1.1M201 307.7h1.1M210.5 317.5h1.1M179.2 322h1.1M218.2 311.4h1.1M200.6 323.7h1.1M206 322.2h1.1M201.5 308.3h1.1M183 321.4h1.1M224.6 305.5h1.1M192 316.1h1.1M193.1 325h1.1M209.2 317.1h1.1M179.6 335.6h1.1M182 311.7h1.1M179.3 328.2h1.1M190.9 306.9h1.1M187.4 324.7h1.1M178.1 328.6h1.1M192.6 324.6h1.1M175.4 327.8h1.1M193.1 312.6h1.1M199.3 312.2h1.1M186.7 329.2h1.1M222.2 307.2h1.1M201.7 326.2h1.1M197.9 306.2h1.1M178.7 319.9h1.1M212.6 313h1.1M200.8 305.8h1.1M183.7 325.3h1.1M212.6 312.8h1.1M181.2 312.4h1.1M178.5 321.6h1.1M201.4 309.4h1.1M185.5 325.3h1.1M204.5 322h1.1M193.7 321.9h1.1M196.7 320.7h1.1M197.1 307.3h1.1M210.4 306.1h1.1M190.6 333.1h1.1M191.9 327.4h1.1M202.1 325.5h1.1M186 326.9h1.1M196.8 316h1.1M186.2 337h1.1M195.8 311.3h1.1M184.5 341.7h1.1M176 337.7h1.1M212.2 314.9h1.1M223.5 311.8h1.1M217.8 315.2h1.1M187 313.4h1.1M227.9 306.6h1.1M182.1 316.2h1.1M183.4 323.4h1.1M176.7 330.6h1.1M202.2 315.6h1.1M209.8 319.6h1.1M204.7 325.8h1.1M219 308h1.1M180.4 330.2h1.1M198 319.7h1.1M177.4 337.2h1.1M179.7 317.4h1.1M203.1 309.7h1.1M176.1 329.5h1.1M180.8 332.7h1.1M207 310.3h1.1M198.2 314.5h1.1M190.3 322.9h1.1M203.9 313.7h1.1M197.7 319.8h1.1M226.5 307.8h1.1M183.2 333.3h1.1M196.6 320.5h1.1M188.5 320.7h1.1M210.9 310.9h1.1M180 317h1.1M210.1 313.1h1.1M221.6 312.2h1.1M190.5 317.5h1.1M197.6 317.8h1.1M190.3 331.7h1.1M218.8 305.6h1.1M212.5 306.5h1.1M196.6 308.8h1.1M181.8 313.2h1.1M188.2 329.9h1.1M200 312.1h1.1M194.5 323.1h1.1M220.2 313.3h1.1M222.3 308.4h1.1M176 341.4h1.1M198.6 327.2h1.1M182.5 331.3h1.1M178.8 342.2h1.1M192 326.8h1.1M221.6 302.4h1.1M203.6 323h1.1M188.5 326.7h1.1M191.5 323.9h1.1M181.7 332.2h1.1M186.9 328.4h1.1M224.8 303.9h1.1M186.6 317.3h1.1M177.2 326.4h1.1M187.2 311.1h1.1M213.2 319.3h1.1M215.4 305.8h1.1M196.2 322.7h1.1M196.9 309.4h1.1M179.9 320.7h1.1M190.3 323.5h1.1M220.8 309.9h1.1M194.5 321.8h1.1M196 309h1.1M197.6 310.2h1.1M183.1 325.1h1.1M188.5 333.1h1.1M202.9 306.5h1.1M183.3 320.6h1.1M178.6 326.3h1.1M184.6 318.9h1.1M190.9 313h1.1M180.2 323.8h1.1M190 332.3h1.1M186.3 324.3h1.1M184 337.8h1.1M216.1 307h1.1M222.2 304.6h1.1M183.7 318.7h1.1M225.6 308.9h1.1M200.3 316.8h1.1M193.1 324.2h1.1M194.2 311.9h1.1M185.4 319.9h1.1M221.1 309.4h1.1M177.3 325.9h1.1M201.1 318.4h1.1M207.5 318.6h1.1M182.4 330.6h1.1M213.4 305.1h1.1M195.1 313.3h1.1M223.6 310.3h1.1M225.6 308.6h1.1M188.7 333.1h1.1M179 326.2h1.1M201.9 305.2h1.1M190 326.1h1.1M182.7 323h1.1M195.7 319.8h1.1M190 328h1.1M181.4 314.3h1.1M204.2 312.9h1.1M222.9 307.5h1.1M217.6 313.8h1.1M206.3 317.8h1.1M191.5 327.1h1.1M202.2 311.6h1.1M207.6 313.4h1.1M182.7 318.4h1.1M195.9 332h1.1M203.6 318.6h1.1M188.9 328.2h1.1M227.3 303.8h1.1M189.5 331.5h1.1M204.6 311.9h1.1M196.9 314.2h1.1M224.4 308.7h1.1M195.6 329.9h1.1M177.2 325.3h1.1M200.4 318.6h1.1M192.9 334.8h1.1M190.1 324.3h1.1M206.9 308.4h1.1M179.5 320.7h1.1M206.1 311.4h1.1M188.3 327.5h1.1M196.8 318.2h1.1M217.9 307.6h1.1M184.5 327.3h1.1M190.9 333.1h1.1M191.9 335.7h1.1M214.3 309.4h1.1M227.2 304.9h1.1M192.9 327.3h1.1M185.1 333.4h1.1M198.7 312.6h1.1M175.6 336.3h1.1M182 317.3h1.1M206.8 308h1.1M200.8 316.4h1.1M212 310.4h1.1M183.4 320.1h1.1M204 324.2h1.1M218.6 314.8h1.1M206 322.3h1.1M196.1 315.7h1.1M191.9 331.9h1.1M182.5 317.2h1.1M204.5 315.2h1.1M206.9 313h1.1M187 324.3h1.1M193.2 326.4h1.1M219.9 308.3h1.1M185 317.5h1.1M186.8 323.6h1.1M194.6 311.5h1.1M222.2 311.2h1.1M184.3 319.6h1.1M180.6 322.9h1.1M196.3 315.2h1.1M188.1 315.9h1.1M215.8 306.1h1.1M219.6 311.6h1.1M212.9 315.9h1.1M203.9 318.5h1.1M212.8 311.9h1.1M206.3 318.2h1.1M200.2 314.6h1.1M184.1 336.4h1.1M196.9 310.8h1.1M178.5 326.6h1.1M185.3 310.6h1.1M209.9 316.6h1.1M205 320.5h1.1M193.6 322.6h1.1M195.8 311.8h1.1M193.6 325.5h1.1M190.7 324.6h1.1M192.4 312h1.1M193.4 312.6h1.1M196.7 316.1h1.1M181.8 331.3h1.1M198.4 308.4h1.1M199.6 308.9h1.1M206.2 308.6h1.1M180.4 324.5h1.1M195.5 321.7h1.1M184.6 311h1.1M200.1 323.8h1.1M208.9 314.5h1.1M213.1 319.6h1.1M193.9 327h1.1M193.8 331.5h1.1M200.8 311.7h1.1M203.5 322.3h1.1M182.7 314.1h1.1M179 316.2h1.1M186.3 333.6h1.1M200.2 314.1h1.1M182.4 319.8h1.1M190.8 335.5h1.1M189.6 334.2h1.1M224.8 308.2h1.1M186.9 315.8h1.1M190.6 333.4h1.1M199.8 318.4h1.1M218.3 312.8h1.1M206.1 306.3h1.1M192.9 312.3h1.1M184 320.3h1.1M226.6 304.3h1.1M206.4 312.6h1.1M213.9 305.9h1.1M202.3 310.2h1.1M210.4 317.3h1.1M188.2 333.9h1.1M194.2 328.7h1.1M212 321.1h1.1M184.4 320.3h1.1M182.3 330.9h1.1M180.1 340.3h1.1M223.2 309.9h1.1M227.2 309h1.1M195.2 331h1.1M182.4 324.9h1.1M187.1 328.3h1.1M191.6 313.3h1.1M224.9 307.6h1.1M201.7 329.8h1.1M196.3 317.2h1.1M183.1 314h1.1M186.9 319.5h1.1M185.5 319.6h1.1M182.3 328.7h1.1M183.3 334.3h1.1M187.9 333.9h1.1M177.6 328.4h1.1M189.4 315.4h1.1M206.4 309.8h1.1M196.7 322h1.1M186.2 339h1.1M224.1 311.4h1.1M211.2 309.6h1.1M196.3 321.3h1.1M190 334.4h1.1M178.9 336.6h1.1M186.3 321.3h1.1M226.8 305h1.1M195.8 323.5h1.1M179.3 323.2h1.1M209.3 319.5h1.1M183.7 313.7h1.1M197.8 312.2h1.1M212.9 311.7h1.1M215.2 311.5h1.1M205.4 308h1.1M222.5 311.4h1.1M191.5 320.5h1.1M188.7 311h1.1M197.1 321.1h1.1M178.9 314.9h1.1M194.9 330.8h1.1M222.4 308h1.1M195.8 314.8h1.1M196.6 327.9h1.1M179.7 313.6h1.1M210.9 303.9h1.1M183.9 317.9h1.1M186 309.7h1.1M217.9 317.3h1.1M196.2 326.7h1.1M180.4 312.9h1.1M204.7 317.9h1.1M207 325.7h1.1M192.4 315.1h1.1M196.1 306.9h1.1M199.5 328.9h1.1M205.3 313.7h1.1M222.4 305.3h1.1M204.3 322.9h1.1M183.8 317h1.1M208.4 307.8h1.1M216 312h1.1M194.6 322.6h1.1M184.6 316.8h1.1M193.1 325.1h1.1M183.9 336.2h1.1M227.7 308.6h1.1M206.1 310h1.1M197.1 330.6h1.1M221.9 310.8h1.1M178.2 320h1.1M181.9 340.7h1.1M196 312.8h1.1M189.3 327h1.1M214.8 311h1.1M198.1 319.9h1.1M211.4 320.1h1.1M183.2 334.7h1.1M180.2 319.5h1.1M197.4 313.2h1.1M201.4 313.5h1.1M193.6 333.4h1.1M200.7 327.9h1.1M199.3 313.1h1.1M188.3 333.9h1.1M219.5 311.9h1.1M199.3 323.5h1.1M180 316.3h1.1M184.4 328.4h1.1M208.2 308.9h1.1M201.5 307.5h1.1M185.4 324.7h1.1M204.2 316.9h1.1M185.2 335.8h1.1M177.8 329.9h1.1M195.1 324.5h1.1M222.1 304.1h1.1M192.6 331.1h1.1M192.1 331.6h1.1M213 308.8h1.1M189.2 338.1h1.1M196.4 329.3h1.1M192.4 314.6h1.1M182 320.7h1.1M205.9 318.4h1.1M178.5 331.8h1.1M204.1 315.9h1.1M207.8 312.9h1.1M188.9 321.9h1.1M180.7 318.1h1.1M209.3 308.9h1.1M189.4 327.6h1.1M183.6 316.4h1.1M176.3 326.9h1.1M185.7 311.6h1.1M194.8 308.5h1.1M205 306.4h1.1M193.3 330.6h1.1M201.8 309.1h1.1M199.3 316h1.1M197.3 320.1h1.1M221.8 310.7h1.1M176.3 325.8h1.1M183.6 325.9h1.1M176.7 328.2h1.1M193.1 326.7h1.1M190.4 310.3h1.1M225.2 304.2h1.1M223.3 312.5h1.1M207.6 306.3h1.1M187.5 320.2h1.1M193.9 316.4h1.1M192.5 309.9h1.1M197.2 327.1h1.1M202.7 309.8h1.1M200.1 328.3h1.1M212.5 314.2h1.1M197.4 310.3h1.1M201.8 321.3h1.1M182.5 337.4h1.1M202.2 321.4h1.1M208.1 317.7h1.1M192.6 326.7h1.1M206.5 320.1h1.1M185.2 321.6h1.1M180.7 313.7h1.1M212.6 312h1.1M202.2 319.6h1.1M190.5 317.3h1.1M194.7 315.4h1.1M179.6 323.4h1.1M176.1 338.3h1.1M193.1 315.4h1.1M186 320.4h1.1M188.9 312.6h1.1M175.3 327.6h1.1M228.6 306.3h1.1M183 312.4h1.1M208.3 315.7h1.1M211.5 304.8h1.1M199.5 315h1.1" stroke="#2a2a2a" stroke-width="1.1"/>
<polygon points="176.8,292 178.8,287.2 190.5,286.1 204.3,287.4 215.2,289.1 217.2,293.9 209.3,298.7 190.5,299.4 178.8,298.7" fill="#333" filter="url(#b0_8)" opacity="0.9"/>
<ellipse cx="201.5" cy="293" rx="6.5" ry="2.4" fill="#8a8a8a" transform="rotate(-3 201.5 293)" filter="url(#b1_2)" opacity="0.8"/>
<polygon points="176,342.4 176.3,325.8 180.8,314.2 190.4,308.7 209.5,305.6 227.3,304.4 231.3,306.3 204.4,325.5 183.4,342.3" fill="#333" filter="url(#b0_8)" opacity="0.9"/>
<polygon points="179.5,340 180.5,328 186,318 197,311.5 214,309 220,309.5 203,324 186,339" fill="#7e7e7e" filter="url(#b1_2)" opacity="0.85"/>
<path d="M213 310.2h1.1M195.2 317.3h1.1M182.9 330.9h1.1M199.5 321.8h1.1M188.8 327.8h1.1M185.1 322.9h1.1M200.1 317.3h1.1M194.3 317h1.1M181.6 327.3h1.1M195.1 315.2h1.1M183.1 325h1.1M186.4 335.2h1.1M190.9 325.4h1.1M189.4 318.2h1.1M192.9 316.2h1.1M189.9 322.4h1.1M190.3 326h1.1M201.6 314.8h1.1M182.4 327.1h1.1M188.5 327.9h1.1M198.5 319.3h1.1M201.5 317.7h1.1M203.1 321.2h1.1M187.2 319h1.1M206.8 314.3h1.1M200.8 314.6h1.1M184.8 328.2h1.1M184.4 334.1h1.1M196.3 322.6h1.1M194.9 320.5h1.1M186.1 325.9h1.1M191.1 321.8h1.1M186.2 321.1h1.1M191.3 320h1.1M181.7 332.6h1.1M184.8 325h1.1M196.6 325.8h1.1M188.8 330.3h1.1M196.7 314.4h1.1M200.6 324h1.1M204.7 314.9h1.1M203.6 312.1h1.1M190.8 322.2h1.1M185.4 325.6h1.1M205.7 313.8h1.1M185 325.9h1.1M182.7 332.1h1.1M182.8 338h1.1M197.9 315h1.1" stroke="#3a3a3a" stroke-width="1.1" stroke-opacity="0.45"/>
<rect x="175.5" y="276.5" width="86" height="67" fill="none" stroke="#333" stroke-width="1"/>
<line x1="194.5" y1="276.5" x2="194.5" y2="343.3" stroke="#2a2a2a" stroke-width="1"/>
<line x1="175.1" y1="304.5" x2="261.2" y2="304.5" stroke="#2a2a2a" stroke-width="1"/>
<path d="M175.1 343.3v3.1M175.1 343.3h-3.1M181.6 343.3v1.8M175.1 338.3h-1.8M185.4 343.3v1.8M175.1 335.3h-1.8M188.1 343.3v1.8M175.1 333.2h-1.8M190.1 343.3v1.8M175.1 331.6h-1.8M191.8 343.3v1.8M175.1 330.3h-1.8M193.3 343.3v1.8M175.1 329.2h-1.8M194.5 343.3v1.8M175.1 328.2h-1.8M195.6 343.3v1.8M175.1 327.4h-1.8M196.6 343.3v3.1M175.1 326.6h-3.1M203.1 343.3v1.8M175.1 321.6h-1.8M206.9 343.3v1.8M175.1 318.6h-1.8M209.6 343.3v1.8M175.1 316.5h-1.8M211.7 343.3v1.8M175.1 314.9h-1.8M213.4 343.3v1.8M175.1 313.6h-1.8M214.8 343.3v1.8M175.1 312.5h-1.8M216.1 343.3v1.8M175.1 311.5h-1.8M217.2 343.3v1.8M175.1 310.7h-1.8M218.1 343.3v3.1M175.1 309.9h-3.1M224.6 343.3v1.8M175.1 304.9h-1.8M228.4 343.3v1.8M175.1 301.9h-1.8M231.1 343.3v1.8M175.1 299.8h-1.8M233.2 343.3v1.8M175.1 298.2h-1.8M234.9 343.3v1.8M175.1 296.9h-1.8M236.3 343.3v1.8M175.1 295.8h-1.8M237.6 343.3v1.8M175.1 294.8h-1.8M238.7 343.3v1.8M175.1 294h-1.8M239.7 343.3v3.1M175.1 293.2h-3.1M246.2 343.3v1.8M175.1 288.2h-1.8M249.9 343.3v1.8M175.1 285.2h-1.8M252.6 343.3v1.8M175.1 283.1h-1.8M254.7 343.3v1.8M175.1 281.5h-1.8M256.4 343.3v1.8M175.1 280.2h-1.8M257.9 343.3v1.8M175.1 279.1h-1.8M259.1 343.3v1.8M175.1 278.1h-1.8M260.2 343.3v1.8M175.1 277.3h-1.8M261.2 343.3v3.1M175.1 276.5h-3.1" stroke="#333" stroke-width="0.9" fill="none"/>
<text x="176.4" y="353.8" font-size="7.5" font-family='"Liberation Sans", sans-serif' font-weight="bold" textLength="6.6" lengthAdjust="spacingAndGlyphs" text-anchor="end" fill="#000">10</text>
<text x="176.7" y="349.9" font-size="5.8500000000000005" font-family='"Liberation Sans", sans-serif' font-weight="bold" fill="#000">0</text>
<text x="170.1" y="347" font-size="7.5" font-family='"Liberation Sans", sans-serif' font-weight="bold" textLength="6.6" lengthAdjust="spacingAndGlyphs" fill="#000" transform="rotate(-90 170.1 347)">10</text>
<text x="165.5" y="340" font-size="5.8500000000000005" font-family='"Liberation Sans", sans-serif' font-weight="bold" fill="#000" transform="rotate(-90 165.5 340)">0</text>
<text x="197.9" y="353.8" font-size="7.5" font-family='"Liberation Sans", sans-serif' font-weight="bold" textLength="6.6" lengthAdjust="spacingAndGlyphs" text-anchor="end" fill="#000">10</text>
<text x="198.2" y="349.9" font-size="5.8500000000000005" font-family='"Liberation Sans", sans-serif' font-weight="bold" fill="#000">1</text>
<text x="170.1" y="331.7" font-size="7.5" font-family='"Liberation Sans", sans-serif' font-weight="bold" textLength="6.6" lengthAdjust="spacingAndGlyphs" fill="#000" transform="rotate(-90 170.1 331.7)">10</text>
<text x="165.5" y="324.7" font-size="5.8500000000000005" font-family='"Liberation Sans", sans-serif' font-weight="bold" fill="#000" transform="rotate(-90 165.5 324.7)">1</text>
<text x="219.4" y="353.8" font-size="7.5" font-family='"Liberation Sans", sans-serif' font-weight="bold" textLength="6.6" lengthAdjust="spacingAndGlyphs" text-anchor="end" fill="#000">10</text>
<text x="219.7" y="349.9" font-size="5.8500000000000005" font-family='"Liberation Sans", sans-serif' font-weight="bold" fill="#000">2</text>
<text x="170.1" y="315" font-size="7.5" font-family='"Liberation Sans", sans-serif' font-weight="bold" textLength="6.6" lengthAdjust="spacingAndGlyphs" fill="#000" transform="rotate(-90 170.1 315)">10</text>
<text x="165.5" y="308" font-size="5.8500000000000005" font-family='"Liberation Sans", sans-serif' font-weight="bold" fill="#000" transform="rotate(-90 165.5 308)">2</text>
<text x="241" y="353.8" font-size="7.5" font-family='"Liberation Sans", sans-serif' font-weight="bold" textLength="6.6" lengthAdjust="spacingAndGlyphs" text-anchor="end" fill="#000">10</text>
<text x="241.3" y="349.9" font-size="5.8500000000000005" font-family='"Liberation Sans", sans-serif' font-weight="bold" fill="#000">3</text>
<text x="170.1" y="298.3" font-size="7.5" font-family='"Liberation Sans", sans-serif' font-weight="bold" textLength="6.6" lengthAdjust="spacingAndGlyphs" fill="#000" transform="rotate(-90 170.1 298.3)">10</text>
<text x="165.5" y="291.3" font-size="5.8500000000000005" font-family='"Liberation Sans", sans-serif' font-weight="bold" fill="#000" transform="rotate(-90 165.5 291.3)">3</text>
<text x="262.5" y="353.8" font-size="7.5" font-family='"Liberation Sans", sans-serif' font-weight="bold" textLength="6.6" lengthAdjust="spacingAndGlyphs" text-anchor="end" fill="#000">10</text>
<text x="262.8" y="349.9" font-size="5.8500000000000005" font-family='"Liberation Sans", sans-serif' font-weight="bold" fill="#000">4</text>
<text x="170.1" y="281.6" font-size="7.5" font-family='"Liberation Sans", sans-serif' font-weight="bold" textLength="6.6" lengthAdjust="spacingAndGlyphs" fill="#000" transform="rotate(-90 170.1 281.6)">10</text>
<text x="165.5" y="274.6" font-size="5.8500000000000005" font-family='"Liberation Sans", sans-serif' font-weight="bold" fill="#000" transform="rotate(-90 165.5 274.6)">4</text>
<polygon points="342.3,347 342.4,344 344.5,341 347,327 349.4,304 351.6,288 353.9,279 355,277.6 357.3,286 359.2,299.6 360.8,311 363,320 365.3,329 367.6,334.5 371,337 375.6,339.3 382.4,342.8 386,344.5 391.5,346 393,347" fill="#363636"/>
<polyline points="342.5,346.5 346,342 349,335 352,325 355,317.8 357.3,327 359.6,333.5 362,330 364,322 366.4,299.6 368.7,281.4 370.5,277.8 372.1,286 373.7,306.4 375,324.7 376.7,336 380.1,340.6 389.2,344 394,346.5" fill="none" stroke="#a2a2a2" stroke-width="1.4" stroke-linejoin="round"/>
<rect x="341.5" y="276.5" width="88" height="71" fill="none" stroke="#333" stroke-width="1"/>
<line x1="359.6" y1="290.5" x2="383.5" y2="290.5" stroke="#1a1a1a" stroke-width="1"/>
<line x1="374.4" y1="310.5" x2="384.2" y2="310.5" stroke="#a2a2a2" stroke-width="1.3"/>
<text x="384.2" y="293.8" font-size="12.5" font-family='"Liberation Serif", serif' textLength="39.5" lengthAdjust="spacingAndGlyphs">Jak3-/- T</text>
<text x="384.7" y="314" font-size="12.5" font-family='"Liberation Serif", serif' textLength="42" lengthAdjust="spacingAndGlyphs">Jak3+/- T</text>
<path d="M341.9 347.2v3.1M341.9 347.2h-3.1M348.5 347.2v1.8M341.9 341.9h-1.8M352.3 347.2v1.8M341.9 338.8h-1.8M355.1 347.2v1.8M341.9 336.6h-1.8M357.2 347.2v1.8M341.9 334.9h-1.8M358.9 347.2v1.8M341.9 333.5h-1.8M360.4 347.2v1.8M341.9 332.3h-1.8M361.7 347.2v1.8M341.9 331.3h-1.8M362.8 347.2v1.8M341.9 330.4h-1.8M363.8 347.2v3.1M341.9 329.6h-3.1M370.4 347.2v1.8M341.9 324.3h-1.8M374.2 347.2v1.8M341.9 321.2h-1.8M376.9 347.2v1.8M341.9 319h-1.8M379.1 347.2v1.8M341.9 317.3h-1.8M380.8 347.2v1.8M341.9 315.9h-1.8M382.3 347.2v1.8M341.9 314.7h-1.8M383.5 347.2v1.8M341.9 313.7h-1.8M384.6 347.2v1.8M341.9 312.8h-1.8M385.6 347.2v3.1M341.9 312h-3.1M392.2 347.2v1.8M341.9 306.7h-1.8M396.1 347.2v1.8M341.9 303.6h-1.8M398.8 347.2v1.8M341.9 301.4h-1.8M400.9 347.2v1.8M341.9 299.7h-1.8M402.7 347.2v1.8M341.9 298.3h-1.8M404.1 347.2v1.8M341.9 297.1h-1.8M405.4 347.2v1.8M341.9 296.1h-1.8M406.5 347.2v1.8M341.9 295.2h-1.8M407.5 347.2v3.1M341.9 294.4h-3.1M414.1 347.2v1.8M341.9 289.1h-1.8M418 347.2v1.8M341.9 286h-1.8M420.7 347.2v1.8M341.9 283.8h-1.8M422.8 347.2v1.8M341.9 282.1h-1.8M424.5 347.2v1.8M341.9 280.7h-1.8M426 347.2v1.8M341.9 279.5h-1.8M427.3 347.2v1.8M341.9 278.5h-1.8M428.4 347.2v1.8M341.9 277.6h-1.8M429.4 347.2v3.1M341.9 276.8h-3.1" stroke="#333" stroke-width="0.9" fill="none"/>
<text x="343.2" y="358.5" font-size="7.5" font-family='"Liberation Sans", sans-serif' font-weight="bold" textLength="6.6" lengthAdjust="spacingAndGlyphs" text-anchor="end" fill="#000">10</text>
<text x="343.5" y="354.6" font-size="5.8500000000000005" font-family='"Liberation Sans", sans-serif' font-weight="bold" fill="#000">0</text>
<text x="365.1" y="358.5" font-size="7.5" font-family='"Liberation Sans", sans-serif' font-weight="bold" textLength="6.6" lengthAdjust="spacingAndGlyphs" text-anchor="end" fill="#000">10</text>
<text x="365.4" y="354.6" font-size="5.8500000000000005" font-family='"Liberation Sans", sans-serif' font-weight="bold" fill="#000">1</text>
<text x="386.9" y="358.5" font-size="7.5" font-family='"Liberation Sans", sans-serif' font-weight="bold" textLength="6.6" lengthAdjust="spacingAndGlyphs" text-anchor="end" fill="#000">10</text>
<text x="387.2" y="354.6" font-size="5.8500000000000005" font-family='"Liberation Sans", sans-serif' font-weight="bold" fill="#000">2</text>
<text x="408.8" y="358.5" font-size="7.5" font-family='"Liberation Sans", sans-serif' font-weight="bold" textLength="6.6" lengthAdjust="spacingAndGlyphs" text-anchor="end" fill="#000">10</text>
<text x="409.1" y="354.6" font-size="5.8500000000000005" font-family='"Liberation Sans", sans-serif' font-weight="bold" fill="#000">3</text>
<text x="430.7" y="358.5" font-size="7.5" font-family='"Liberation Sans", sans-serif' font-weight="bold" textLength="6.6" lengthAdjust="spacingAndGlyphs" text-anchor="end" fill="#000">10</text>
<text x="431" y="354.6" font-size="5.8500000000000005" font-family='"Liberation Sans", sans-serif' font-weight="bold" fill="#000">4</text>
<path d="M341.9 346.3h-3M341.9 344.1h-1.6M341.9 341.9h-1.6M341.9 339.6h-1.6M341.9 337.4h-1.6M341.9 335.2h-3M341.9 333h-1.6M341.9 330.8h-1.6M341.9 328.5h-1.6M341.9 326.3h-1.6M341.9 324.1h-3M341.9 321.9h-1.6M341.9 319.7h-1.6M341.9 317.4h-1.6M341.9 315.2h-1.6M341.9 313h-3M341.9 310.8h-1.6M341.9 308.6h-1.6M341.9 306.3h-1.6M341.9 304.1h-1.6M341.9 301.9h-3M341.9 299.7h-1.6M341.9 297.5h-1.6M341.9 295.2h-1.6M341.9 293h-1.6M341.9 290.8h-3M341.9 288.6h-1.6M341.9 286.4h-1.6M341.9 284.1h-1.6M341.9 281.9h-1.6M341.9 279.7h-3" stroke="#333" stroke-width="0.9" fill="none"/>
<text x="337.6" y="346.3" font-size="7.4" font-family='"Liberation Sans", sans-serif' font-weight="bold" textLength="3.6" lengthAdjust="spacingAndGlyphs" text-anchor="middle" fill="#000" transform="rotate(-90 337.6 346.3)">0</text>
<text x="337.6" y="335.2" font-size="7.4" font-family='"Liberation Sans", sans-serif' font-weight="bold" textLength="7.2" lengthAdjust="spacingAndGlyphs" text-anchor="middle" fill="#000" transform="rotate(-90 337.6 335.2)">10</text>
<text x="337.6" y="324.1" font-size="7.4" font-family='"Liberation Sans", sans-serif' font-weight="bold" textLength="7.2" lengthAdjust="spacingAndGlyphs" text-anchor="middle" fill="#000" transform="rotate(-90 337.6 324.1)">20</text>
<text x="337.6" y="313" font-size="7.4" font-family='"Liberation Sans", sans-serif' font-weight="bold" textLength="7.2" lengthAdjust="spacingAndGlyphs" text-anchor="middle" fill="#000" transform="rotate(-90 337.6 313)">30</text>
<text x="337.6" y="301.9" font-size="7.4" font-family='"Liberation Sans", sans-serif' font-weight="bold" textLength="7.2" lengthAdjust="spacingAndGlyphs" text-anchor="middle" fill="#000" transform="rotate(-90 337.6 301.9)">40</text>
<text x="337.6" y="290.8" font-size="7.4" font-family='"Liberation Sans", sans-serif' font-weight="bold" textLength="7.2" lengthAdjust="spacingAndGlyphs" text-anchor="middle" fill="#000" transform="rotate(-90 337.6 290.8)">50</text>
<text x="337.6" y="279.7" font-size="7.4" font-family='"Liberation Sans", sans-serif' font-weight="bold" textLength="7.2" lengthAdjust="spacingAndGlyphs" text-anchor="middle" fill="#000" transform="rotate(-90 337.6 279.7)">60</text>
</svg>
</body></html>
